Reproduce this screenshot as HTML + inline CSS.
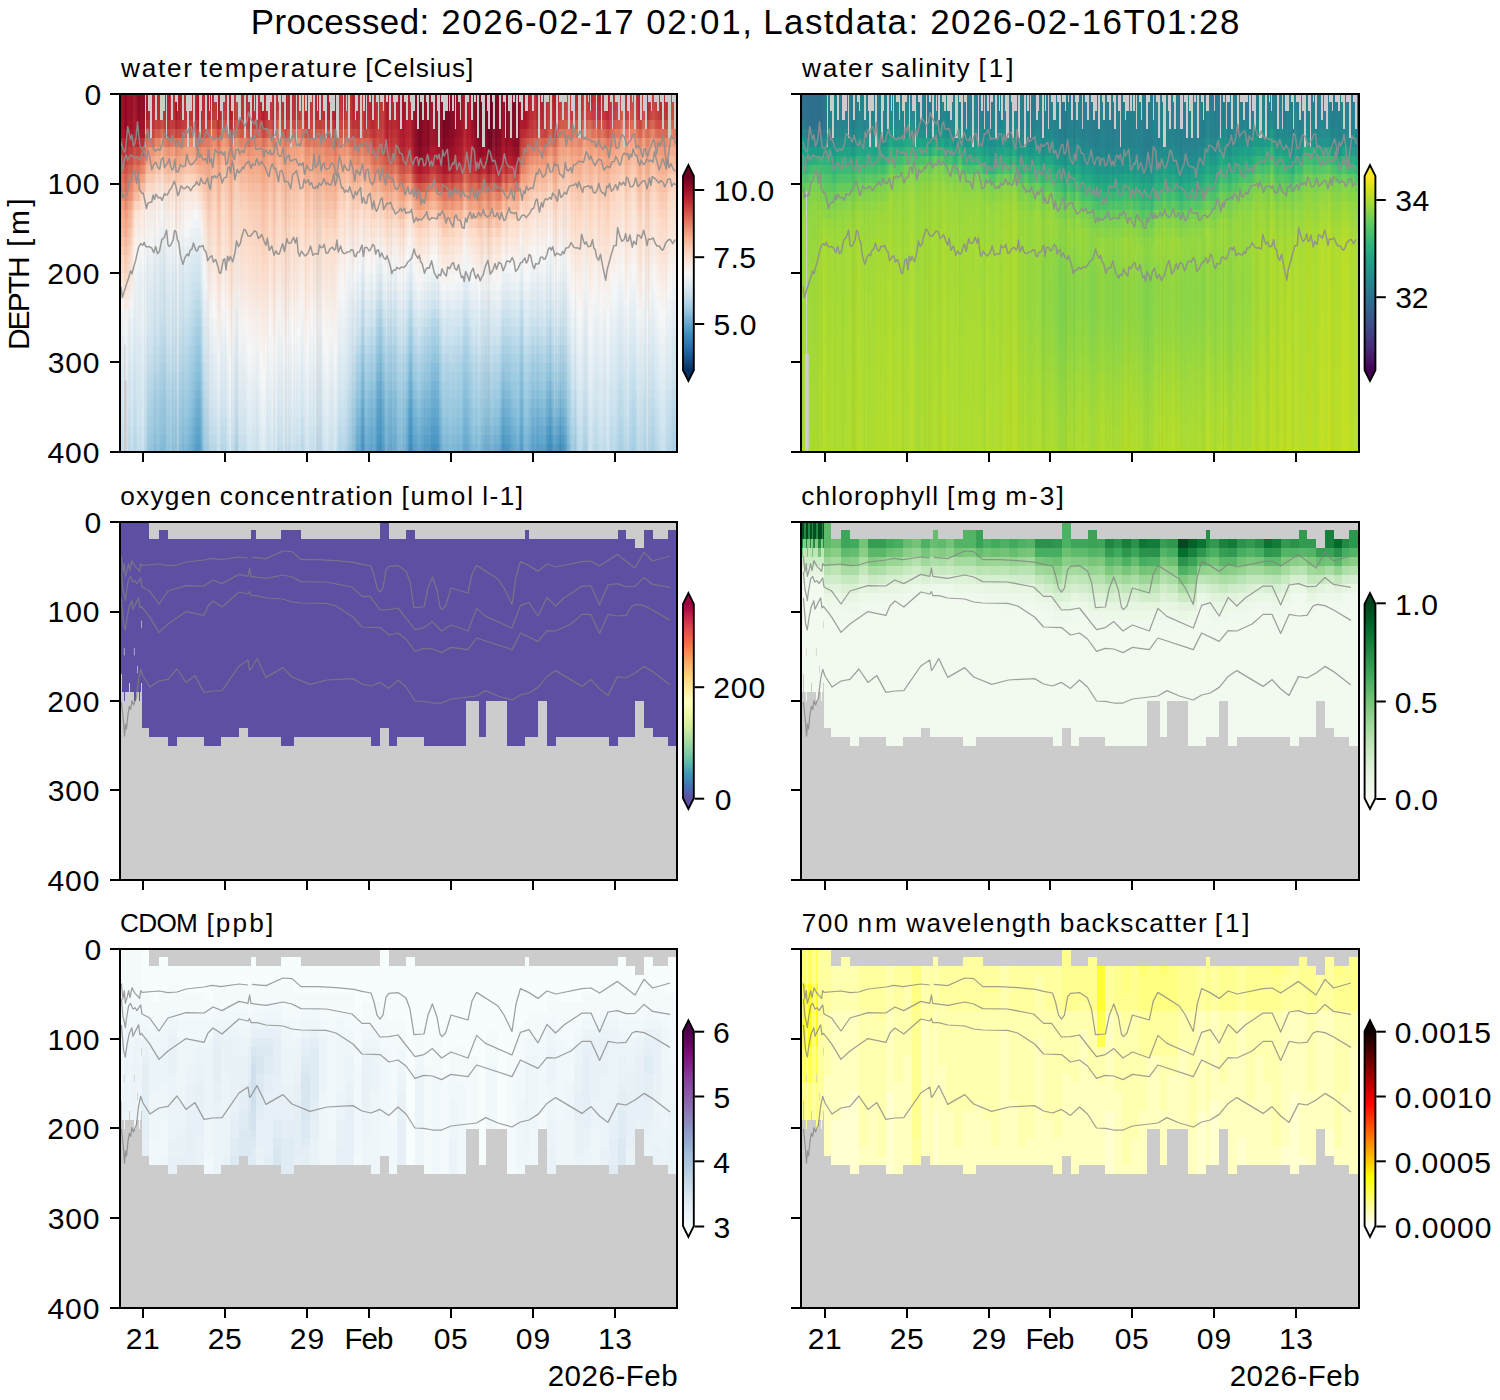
<!DOCTYPE html>
<html><head><meta charset="utf-8"><title>Glider sections</title>
<style>
html,body{margin:0;padding:0;background:#fff}
#fig{position:relative;width:1500px;height:1400px;overflow:hidden;background:#fff;font-family:"Liberation Sans",sans-serif}
#fig svg{position:absolute;left:0;top:0}
#fig text{font-family:"Liberation Sans",sans-serif;fill:#000}
.b{position:absolute}
</style></head><body>
<div id="fig">
<div class="b" style="left:120px;top:94px;width:557px;height:8px;background:linear-gradient(90deg,#991027,#9c1127,#870a24,#a51429,#930e26,#a81529,#870a24,#900d26,#8d0c25,#b3192c,#b72230,#ba2832,#be3036,#ba2832,#c13639,#bd2d35,#b61f2e,#b82531,#bb2a34,#a81529,#b61f2e,#bb2a34,#ba2832,#bd2d35,#bd2d35,#bb2a34,#ab162a,#b72230,#bb2a34,#b82531,#b1182b,#bb2a34,#bf3338,#ae172a,#c2383a,#c13639,#bb2a34,#ab162a,#bf3338,#cb4942,#bd2d35,#bf3338,#bf3338,#ba2832,#bb2a34,#bb2a34,#be3036,#b61f2e,#b1182b,#ba2832,#bf3338,#b82531,#b82531,#c43b3c,#c13639,#b72230,#bb2a34,#be3036,#bd2d35,#be3036,#be3036,#c84440,#b61f2e,#ba2832,#c13639,#b82531,#ba2832,#bd2d35,#b72230,#ab162a,#b61f2e,#b3192c,#a81529,#be3036,#c13639,#ba2832,#c53e3d,#c13639,#b72230,#b61f2e,#b72230,#c6413e,#b3192c,#b72230,#b61f2e,#b61f2e,#c2383a,#c43b3c,#c2383a,#ab162a,#ba2832,#b82531,#b82531,#b3192c,#ae172a,#a51429,#b1182b,#ba2832,#991027,#8a0b25,#7c0722,#870a24,#930e26,#870a24,#9c1127,#9c1127,#9c1127,#8d0c25,#760521,#810823,#810823,#8d0c25,#900d26,#991027,#9c1127,#b41c2d,#b1182b,#ae172a,#900d26,#8a0b25,#7f0823,#760521,#870a24,#790622,#6a011f,#7f0823,#790622,#870a24,#9c1127,#8d0c25,#900d26,#840924,#840924,#7c0722,#b1182b,#9c1127,#a51429,#b61f2e,#bb2a34,#b82531,#b61f2e,#b61f2e,#b61f2e,#c43b3c,#c2383a,#b3192c,#b72230,#c2383a,#c43b3c,#c6413e,#c53e3d,#b82531,#bf3338,#b72230,#ba2832,#c84440,#c43b3c,#b61f2e,#be3036,#c43b3c,#b72230,#bd2d35,#bd2d35,#b41c2d,#c53e3d,#be3036,#c43b3c,#c84440,#c94741,#bb2a34,#c13639,#cb4942,#cb4942,#ba2832,#ba2832,#c6413e,#b41c2d,#c13639,#c84440,#c2383a,#bb2a34,#b72230,#b82531,#c13639,#c53e3d,#c94741,#c43b3c)"></div><div class="b" style="left:120px;top:102px;width:557px;height:9px;background:linear-gradient(90deg,#991027,#9c1127,#870a24,#a51429,#930e26,#ab162a,#8a0b25,#930e26,#900d26,#b41c2d,#b82531,#bb2a34,#bf3338,#bb2a34,#c2383a,#be3036,#b72230,#ba2832,#bd2d35,#ab162a,#b72230,#bd2d35,#bb2a34,#be3036,#be3036,#bd2d35,#ae172a,#b82531,#bd2d35,#ba2832,#b3192c,#bd2d35,#c13639,#b1182b,#c43b3c,#c2383a,#bd2d35,#ae172a,#c13639,#cc4c44,#be3036,#c13639,#c13639,#bb2a34,#bb2a34,#bd2d35,#bf3338,#b82531,#b3192c,#bb2a34,#c13639,#ba2832,#ba2832,#c53e3d,#c2383a,#b82531,#bd2d35,#bf3338,#be3036,#bf3338,#bf3338,#c94741,#b72230,#bb2a34,#c2383a,#ba2832,#bb2a34,#be3036,#b82531,#ae172a,#b72230,#b41c2d,#ab162a,#bf3338,#c2383a,#bb2a34,#c84440,#c2383a,#b82531,#b72230,#b82531,#c84440,#b41c2d,#b82531,#b72230,#b72230,#c2383a,#c43b3c,#c2383a,#ab162a,#ba2832,#b82531,#b82531,#b3192c,#ae172a,#a51429,#b1182b,#ba2832,#991027,#8a0b25,#7c0722,#870a24,#930e26,#870a24,#9c1127,#9c1127,#9c1127,#8d0c25,#760521,#810823,#810823,#8d0c25,#900d26,#991027,#9c1127,#b41c2d,#b1182b,#ae172a,#900d26,#8a0b25,#7f0823,#760521,#870a24,#790622,#6a011f,#7f0823,#790622,#870a24,#9c1127,#8d0c25,#900d26,#840924,#840924,#7c0722,#b1182b,#9f1228,#a81529,#b72230,#bd2d35,#ba2832,#b72230,#b72230,#b72230,#c53e3d,#c53e3d,#b61f2e,#ba2832,#c6413e,#c6413e,#c94741,#c84440,#bb2a34,#c2383a,#ba2832,#bd2d35,#cb4942,#c6413e,#bd2d35,#c13639,#c6413e,#ba2832,#bf3338,#bf3338,#b61f2e,#c6413e,#c13639,#c6413e,#cb4942,#cc4c44,#be3036,#c43b3c,#ce4f45,#ce4f45,#bd2d35,#bd2d35,#c94741,#b72230,#c43b3c,#cb4942,#c53e3d,#be3036,#ba2832,#bb2a34,#c43b3c,#c84440,#cc4c44,#c6413e)"></div><div class="b" style="left:120px;top:111px;width:557px;height:9px;background:linear-gradient(90deg,#991027,#9c1127,#870a24,#a51429,#960f27,#ae172a,#8d0c25,#960f27,#930e26,#b61f2e,#ba2832,#bd2d35,#c2383a,#bd2d35,#c84440,#bf3338,#b82531,#bb2a34,#be3036,#b1182b,#b82531,#be3036,#bd2d35,#bf3338,#bf3338,#be3036,#b1182b,#ba2832,#be3036,#bb2a34,#bb2a34,#c13639,#c2383a,#b3192c,#c84440,#c84440,#c13639,#b1182b,#c2383a,#ce4f45,#bf3338,#c2383a,#c2383a,#bd2d35,#bd2d35,#be3036,#c13639,#ba2832,#b41c2d,#bd2d35,#c2383a,#bb2a34,#bb2a34,#d05548,#c43b3c,#ba2832,#be3036,#c13639,#bf3338,#c43b3c,#c2383a,#cb4942,#b82531,#bd2d35,#c43b3c,#bb2a34,#bf3338,#bf3338,#bd2d35,#b41c2d,#b82531,#bd2d35,#ae172a,#c13639,#c43b3c,#bf3338,#c94741,#c43b3c,#ba2832,#ba2832,#ba2832,#c94741,#b72230,#bb2a34,#b82531,#b72230,#c43b3c,#c43b3c,#c2383a,#ae172a,#ba2832,#b82531,#ba2832,#b3192c,#ae172a,#a51429,#b1182b,#ba2832,#991027,#8a0b25,#7c0722,#870a24,#930e26,#870a24,#9c1127,#9c1127,#9c1127,#8d0c25,#760521,#810823,#810823,#8d0c25,#900d26,#991027,#9c1127,#b41c2d,#b1182b,#ae172a,#900d26,#8a0b25,#7f0823,#760521,#870a24,#790622,#6a011f,#7f0823,#790622,#870a24,#9c1127,#8d0c25,#900d26,#840924,#840924,#7c0722,#b3192c,#a21328,#ae172a,#b82531,#be3036,#bb2a34,#ba2832,#b82531,#b82531,#c6413e,#c6413e,#b82531,#bd2d35,#cb4942,#cc4c44,#cc4c44,#cb4942,#bf3338,#cc4c44,#be3036,#bf3338,#d35a4a,#c94741,#cb4942,#c43b3c,#c94741,#bd2d35,#c2383a,#c2383a,#b82531,#c94741,#c43b3c,#c94741,#ce4f45,#d7634f,#c43b3c,#cb4942,#d05548,#d05548,#bf3338,#bf3338,#cf5246,#bd2d35,#c6413e,#ce4f45,#c84440,#c13639,#bd2d35,#be3036,#c6413e,#cb4942,#cf5246,#c94741)"></div><div class="b" style="left:120px;top:120px;width:557px;height:9px;background:linear-gradient(90deg,#9f1228,#a81529,#8a0b25,#ae172a,#9c1127,#b1182b,#930e26,#9f1228,#9c1127,#be3036,#c13639,#bf3338,#c94741,#c43b3c,#cf5246,#c6413e,#bf3338,#bf3338,#c53e3d,#b82531,#bf3338,#c53e3d,#c43b3c,#c6413e,#c6413e,#c43b3c,#bb2a34,#bf3338,#c43b3c,#c53e3d,#c84440,#cb4942,#cc4c44,#ba2832,#d25849,#d25849,#cb4942,#ba2832,#cb4942,#d6604d,#c84440,#c84440,#cb4942,#be3036,#c2383a,#cb4942,#c84440,#c6413e,#ba2832,#c6413e,#cf5246,#c2383a,#c43b3c,#de735c,#cb4942,#c2383a,#c84440,#cc4c44,#c94741,#cf5246,#cf5246,#d35a4a,#c13639,#c13639,#c84440,#c2383a,#c94741,#c94741,#c6413e,#be3036,#c13639,#c84440,#b72230,#c84440,#c94741,#c6413e,#cf5246,#c84440,#bf3338,#bf3338,#bf3338,#ce4f45,#bb2a34,#bf3338,#bd2d35,#ba2832,#c6413e,#c53e3d,#c2383a,#b3192c,#bb2a34,#ba2832,#bd2d35,#b61f2e,#b1182b,#a81529,#b3192c,#bb2a34,#991027,#8a0b25,#7c0722,#870a24,#930e26,#870a24,#9c1127,#9c1127,#9c1127,#8d0c25,#760521,#810823,#810823,#8d0c25,#900d26,#991027,#9c1127,#b41c2d,#b1182b,#ae172a,#900d26,#8a0b25,#7f0823,#760521,#870a24,#790622,#6a011f,#7f0823,#790622,#870a24,#9c1127,#8d0c25,#900d26,#840924,#840924,#7c0722,#b61f2e,#ae172a,#b41c2d,#bd2d35,#c2383a,#bf3338,#c13639,#be3036,#bd2d35,#c94741,#ce4f45,#bd2d35,#c53e3d,#d35a4a,#d6604d,#d7634f,#d55d4c,#cb4942,#d86551,#cb4942,#c53e3d,#df765e,#d7634f,#db6b55,#cf5246,#d6604d,#c94741,#d05548,#cc4c44,#bf3338,#ce4f45,#d05548,#d55d4c,#d7634f,#e48066,#d25849,#d86551,#db6b55,#dd7059,#cc4c44,#cb4942,#dc6e57,#cb4942,#d55d4c,#db6b55,#ce4f45,#cb4942,#cc4c44,#c94741,#d05548,#da6853,#d86551,#d35a4a)"></div><div class="b" style="left:120px;top:129px;width:557px;height:9px;background:linear-gradient(90deg,#ab162a,#b41c2d,#960f27,#b61f2e,#a51429,#b72230,#9f1228,#ae172a,#ab162a,#cc4c44,#cf5246,#c84440,#d86551,#d35a4a,#e27b62,#d25849,#cb4942,#c84440,#d35a4a,#c84440,#ce4f45,#d05548,#d55d4c,#d35a4a,#d55d4c,#cb4942,#cb4942,#c94741,#ce4f45,#d55d4c,#db6b55,#dd7059,#da6853,#c84440,#e37e64,#e48066,#dd7059,#c84440,#da6853,#e17860,#d55d4c,#d35a4a,#d86551,#c94741,#ce4f45,#db6b55,#d55d4c,#d86551,#c6413e,#d55d4c,#de735c,#ce4f45,#d05548,#ee9677,#d86551,#cf5246,#d55d4c,#dc6e57,#da6853,#e17860,#df765e,#df765e,#cf5246,#cc4c44,#d35a4a,#ce4f45,#da6853,#d7634f,#d6604d,#cf5246,#ce4f45,#d86551,#c13639,#d25849,#d35a4a,#d55d4c,#d86551,#cf5246,#c94741,#c94741,#c53e3d,#d55d4c,#c53e3d,#c94741,#c53e3d,#be3036,#c94741,#c94741,#c53e3d,#b61f2e,#bf3338,#bd2d35,#c13639,#b82531,#b3192c,#ae172a,#b41c2d,#bb2a34,#991027,#8a0b25,#7c0722,#870a24,#930e26,#870a24,#9c1127,#9c1127,#9c1127,#8d0c25,#790622,#810823,#870a24,#8d0c25,#930e26,#9c1127,#9c1127,#b72230,#b3192c,#ae172a,#960f27,#900d26,#810823,#7f0823,#8a0b25,#790622,#6d0220,#810823,#790622,#870a24,#a21328,#8d0c25,#960f27,#870a24,#870a24,#7f0823,#be3036,#bb2a34,#c13639,#c43b3c,#c6413e,#c6413e,#d05548,#c94741,#c53e3d,#d05548,#da6853,#c53e3d,#d05548,#e17860,#e48066,#e37e64,#e17860,#da6853,#e6866a,#db6b55,#d35a4a,#ef9979,#e58368,#e58368,#dd7059,#e48066,#d86551,#df765e,#db6b55,#ce4f45,#db6b55,#de735c,#e27b62,#e48066,#f19e7d,#e17860,#e6866a,#e6866a,#eb9172,#db6b55,#da6853,#ea8e70,#db6b55,#e37e64,#e98b6e,#dc6e57,#da6853,#db6b55,#d86551,#dd7059,#e6866a,#e48066,#df765e)"></div><div class="b" style="left:120px;top:138px;width:557px;height:9px;background:linear-gradient(90deg,#ba2832,#be3036,#ab162a,#bf3338,#b72230,#c13639,#b41c2d,#bd2d35,#be3036,#de735c,#e27b62,#da6853,#ea8e70,#e58368,#f3a481,#e48066,#de735c,#dd7059,#e58368,#dc6e57,#e27b62,#e37e64,#e6866a,#e6866a,#e8896c,#df765e,#dd7059,#dd7059,#e17860,#e48066,#e48066,#ea8e70,#e98b6e,#db6b55,#f09c7b,#f09c7b,#ea8e70,#da6853,#e98b6e,#f19e7d,#e58368,#e58368,#e98b6e,#d86551,#e17860,#e98b6e,#e6866a,#e6866a,#da6853,#e58368,#ee9677,#e17860,#e37e64,#f5aa89,#ea8e70,#e27b62,#e6866a,#eb9172,#e98b6e,#ef9979,#ee9677,#f09c7b,#e17860,#dd7059,#e37e64,#df765e,#e8896c,#e58368,#e37e64,#dd7059,#dd7059,#e37e64,#d25849,#df765e,#e17860,#e37e64,#e58368,#dc6e57,#d86551,#da6853,#d35a4a,#df765e,#d6604d,#d86551,#d25849,#c53e3d,#d25849,#ce4f45,#c84440,#bb2a34,#c43b3c,#c13639,#c6413e,#bb2a34,#b61f2e,#b3192c,#b72230,#be3036,#9c1127,#8a0b25,#7c0722,#8a0b25,#930e26,#8a0b25,#9f1228,#9f1228,#9f1228,#900d26,#7c0722,#8a0b25,#8d0c25,#930e26,#9c1127,#a51429,#a21328,#ba2832,#b61f2e,#b3192c,#9f1228,#960f27,#870a24,#870a24,#930e26,#7f0823,#760521,#870a24,#7f0823,#8a0b25,#a81529,#960f27,#9f1228,#900d26,#8d0c25,#870a24,#c6413e,#c84440,#cf5246,#d35a4a,#d6604d,#d7634f,#de735c,#da6853,#d6604d,#df765e,#e6866a,#d7634f,#df765e,#ee9677,#f09c7b,#f09c7b,#ee9677,#e58368,#f09c7b,#e6866a,#e27b62,#f5ac8b,#f19e7d,#eb9172,#eb9172,#f09c7b,#e58368,#eb9172,#e98b6e,#dd7059,#e98b6e,#eb9172,#ef9979,#f2a17f,#f6af8e,#eb9172,#f19e7d,#f4a683,#f5aa89,#e8896c,#e8896c,#f4a683,#e58368,#ef9979,#f4a683,#ea8e70,#e8896c,#e6866a,#e58368,#ec9374,#f2a17f,#f3a481,#ef9979)"></div><div class="b" style="left:120px;top:147px;width:557px;height:9px;background:linear-gradient(90deg,#c13639,#c6413e,#b61f2e,#c84440,#c13639,#cf5246,#c53e3d,#cf5246,#d05548,#ea8e70,#f09c7b,#ec9374,#f5aa89,#f2a17f,#f6b394,#f3a481,#ee9677,#ee9677,#f3a481,#e98b6e,#ef9979,#f2a17f,#f2a17f,#f3a481,#f4a683,#f09c7b,#e98b6e,#eb9172,#ec9374,#ec9374,#eb9172,#f19e7d,#f2a17f,#e48066,#f5aa89,#f5aa89,#f19e7d,#e48066,#f2a17f,#f6b394,#ef9979,#f19e7d,#f2a17f,#e8896c,#ee9677,#f19e7d,#f2a17f,#ee9677,#e6866a,#f09c7b,#f4a683,#ee9677,#ee9677,#f6b191,#f4a683,#ee9677,#f19e7d,#f3a481,#f2a17f,#f3a481,#f3a481,#f6b191,#eb9172,#ea8e70,#f09c7b,#ea8e70,#ef9979,#ef9979,#eb9172,#e48066,#e8896c,#e98b6e,#de735c,#ec9374,#ee9677,#ec9374,#f2a17f,#ea8e70,#e37e64,#e37e64,#e17860,#ec9374,#df765e,#e27b62,#dc6e57,#d05548,#da6853,#d7634f,#ce4f45,#c53e3d,#cb4942,#c6413e,#d05548,#c2383a,#ba2832,#b82531,#be3036,#c53e3d,#a81529,#930e26,#840924,#900d26,#991027,#960f27,#a81529,#ab162a,#a81529,#991027,#870a24,#900d26,#991027,#9c1127,#a51429,#ae172a,#ab162a,#bf3338,#ba2832,#b61f2e,#a81529,#a21328,#900d26,#960f27,#9f1228,#870a24,#840924,#930e26,#870a24,#930e26,#b3192c,#9f1228,#ab162a,#9c1127,#991027,#900d26,#d05548,#d35a4a,#db6b55,#df765e,#e27b62,#e37e64,#e8896c,#e48066,#e27b62,#eb9172,#f19e7d,#e37e64,#ea8e70,#f5a886,#f5aa89,#f5ac8b,#f5a886,#ee9677,#f5a886,#ee9677,#ec9374,#f7b799,#f5ac8b,#f19e7d,#f3a481,#f5ac8b,#ee9677,#f2a17f,#f19e7d,#e8896c,#f4a683,#f3a481,#f5ac8b,#f6b191,#f7b99c,#f2a17f,#f5aa89,#f7b596,#f7b799,#f09c7b,#ef9979,#f6b394,#ec9374,#f5a886,#f6b394,#f4a683,#f09c7b,#ef9979,#ee9677,#f4a683,#f6af8e,#f6b394,#f5aa89)"></div><div class="b" style="left:120px;top:156px;width:557px;height:9px;background:linear-gradient(90deg,#cb4942,#cf5246,#bf3338,#d05548,#cb4942,#da6853,#d05548,#db6b55,#dd7059,#f4a683,#f5aa89,#f5a886,#f7b99c,#f6b191,#f9c4a9,#f6b394,#f5a886,#f5a886,#f6b394,#f19e7d,#f5aa89,#f6b191,#f6b191,#f6b394,#f7b596,#f5ac8b,#f19e7d,#f2a17f,#f2a17f,#f3a481,#f19e7d,#f5aa89,#f6af8e,#ea8e70,#f7b596,#f7b596,#f5aa89,#ea8e70,#f5ac8b,#f8bda1,#f5a886,#f5aa89,#f5ac8b,#f09c7b,#f2a17f,#f5a886,#f5aa89,#f19e7d,#eb9172,#f3a481,#f5ac8b,#f19e7d,#f2a17f,#f7b99c,#f5ac8b,#f19e7d,#f4a683,#f5ac8b,#f5a886,#f5ac8b,#f5ac8b,#f7b99c,#ef9979,#f09c7b,#f5a886,#f09c7b,#f3a481,#f3a481,#f09c7b,#ea8e70,#ee9677,#ef9979,#e58368,#f3a481,#f4a683,#f3a481,#f6b191,#f2a17f,#eb9172,#ea8e70,#e8896c,#f4a683,#e8896c,#ea8e70,#e48066,#da6853,#e27b62,#de735c,#d6604d,#cf5246,#d55d4c,#d05548,#db6b55,#cc4c44,#c43b3c,#c13639,#c6413e,#cf5246,#b41c2d,#a21328,#930e26,#9f1228,#a81529,#a51429,#b41c2d,#b61f2e,#b3192c,#a81529,#930e26,#9c1127,#a81529,#a51429,#ae172a,#b41c2d,#b3192c,#c53e3d,#bf3338,#ba2832,#b41c2d,#b3192c,#9f1228,#ae172a,#b1182b,#991027,#991027,#a51429,#960f27,#9f1228,#bb2a34,#ae172a,#b82531,#b1182b,#ab162a,#a51429,#dc6e57,#dd7059,#e48066,#e98b6e,#ec9374,#ec9374,#f19e7d,#ee9677,#ec9374,#f4a683,#f6af8e,#ea8e70,#f09c7b,#f6b394,#f7b596,#f7b799,#f6b394,#f3a481,#f6b394,#f3a481,#f2a17f,#f8bfa4,#f7b99c,#f5a886,#f6af8e,#f7b799,#f3a481,#f5ac8b,#f5aa89,#ef9979,#f6b394,#f6af8e,#f7b799,#f8bb9e,#f9c4a9,#f5ac8b,#f7b596,#f8bfa4,#f9c2a7,#f5a886,#f5a886,#f8bda1,#f2a17f,#f6b394,#f8bfa4,#f6b191,#f5a886,#f4a683,#f3a481,#f6b191,#f8bb9e,#f8bda1,#f7b596)"></div><div class="b" style="left:120px;top:165px;width:557px;height:9px;background:linear-gradient(90deg,#d55d4c,#d86551,#c94741,#da6853,#d55d4c,#e27b62,#db6b55,#e58368,#e8896c,#f7b99c,#f8bda1,#f7b799,#facab1,#f9c2a7,#fcd5bf,#f9c4a9,#f7b99c,#f7b99c,#f9c4a9,#f6b191,#f8bb9e,#f9c2a7,#f9c4a9,#f9c6ac,#f9c6ac,#f8bda1,#f7b596,#f6b394,#f5ac8b,#f6af8e,#f5aa89,#f7b596,#f7b99c,#f19e7d,#f8bfa4,#f8bfa4,#f7b596,#f09c7b,#f7b799,#fac8af,#f6b394,#f7b596,#f7b799,#f5a886,#f5aa89,#f6b191,#f6b191,#f5a886,#f09c7b,#f5aa89,#f7b596,#f5a886,#f5a886,#f8bfa4,#f7b596,#f4a683,#f6af8e,#f6b394,#f6af8e,#f6b394,#f6b394,#f8bfa4,#f3a481,#f4a683,#f6b191,#f4a683,#f6af8e,#f6af8e,#f5a886,#f09c7b,#f3a481,#f4a683,#eb9172,#f6af8e,#f6b394,#f6af8e,#f8bb9e,#f6af8e,#f2a17f,#f2a17f,#f09c7b,#f6b394,#ef9979,#f2a17f,#ec9374,#e27b62,#ea8e70,#e6866a,#de735c,#d86551,#dd7059,#db6b55,#e58368,#d7634f,#cf5246,#cc4c44,#d25849,#da6853,#bf3338,#b41c2d,#ab162a,#b41c2d,#b72230,#b72230,#bf3338,#c13639,#bd2d35,#b61f2e,#a81529,#b1182b,#b61f2e,#b41c2d,#ba2832,#be3036,#ba2832,#ce4f45,#c84440,#bf3338,#be3036,#be3036,#b3192c,#bd2d35,#be3036,#b1182b,#b61f2e,#ba2832,#ae172a,#b1182b,#c94741,#bb2a34,#c6413e,#c13639,#bd2d35,#ba2832,#e8896c,#e6866a,#ec9374,#f2a17f,#f5a886,#f4a683,#f5ac8b,#f5a886,#f4a683,#f7b596,#f8bb9e,#f2a17f,#f5aa89,#f8bda1,#f8bfa4,#f9c2a7,#f8bfa4,#f6af8e,#f8bb9e,#f5ac8b,#f5ac8b,#f9c6ac,#f8bfa4,#f6b191,#f7b799,#f9c2a7,#f6af8e,#f7b799,#f7b596,#f4a683,#f8bda1,#f7b99c,#f9c2a7,#f9c6ac,#fbccb4,#f7b596,#f8bda1,#facab1,#facab1,#f6b191,#f6af8e,#f9c6ac,#f5aa89,#f8bb9e,#fac8af,#f8bb9e,#f6b394,#f6af8e,#f6af8e,#f8bb9e,#f9c4a9,#fac8af,#f8bfa4)"></div><div class="b" style="left:120px;top:174px;width:557px;height:9px;background:linear-gradient(90deg,#dc6e57,#df765e,#d35a4a,#e27b62,#de735c,#ee9677,#e8896c,#f2a17f,#f3a481,#fbceb7,#fbceb7,#facab1,#fddbc7,#fcd3bc,#fce0d0,#fcd5bf,#facab1,#facab1,#fcd5bf,#f9c2a7,#fbccb4,#fcd3bc,#fcd5bf,#fcd7c2,#fcd7c2,#fbd0b9,#fac8af,#f9c6ac,#f7b99c,#f7b99c,#f6b394,#f8bfa4,#f9c2a7,#f5a886,#fac8af,#fac8af,#f8bda1,#f5a886,#f9c2a7,#fcd3bc,#f8bb9e,#f8bda1,#f8bfa4,#f6b191,#f6b394,#f7b799,#f7b99c,#f6af8e,#f3a481,#f6b394,#f8bb9e,#f6af8e,#f6b191,#fac8af,#f8bb9e,#f6af8e,#f7b596,#f8bb9e,#f7b799,#f8bb9e,#f8bb9e,#fac8af,#f5ac8b,#f6af8e,#f7b99c,#f6af8e,#f7b799,#f7b799,#f6b191,#f4a683,#f5ac8b,#f6af8e,#f19e7d,#f7b99c,#f8bda1,#f7b99c,#f9c6ac,#f8bb9e,#f6af8e,#f6b191,#f5ac8b,#f9c2a7,#f5aa89,#f6b191,#f4a683,#ea8e70,#f3a481,#f19e7d,#e6866a,#e48066,#e8896c,#e48066,#f19e7d,#e27b62,#db6b55,#da6853,#e17860,#e8896c,#cf5246,#c13639,#bb2a34,#bf3338,#c2383a,#c6413e,#cc4c44,#d25849,#c94741,#c13639,#ba2832,#be3036,#c84440,#be3036,#c6413e,#cb4942,#c2383a,#dc6e57,#d6604d,#c94741,#cc4c44,#ce4f45,#bf3338,#cf5246,#ce4f45,#bf3338,#c6413e,#c94741,#be3036,#bf3338,#da6853,#cb4942,#da6853,#d35a4a,#ce4f45,#cc4c44,#f5a886,#f09c7b,#f4a683,#f6af8e,#f7b596,#f7b596,#f8bb9e,#f7b799,#f7b596,#f9c4a9,#fac8af,#f5ac8b,#f7b596,#fac8af,#facab1,#fbccb4,#fac8af,#f7b799,#f9c4a9,#f7b596,#f7b596,#fbceb7,#fac8af,#f7b99c,#f8bfa4,#facab1,#f7b799,#f8bfa4,#f8bfa4,#f6b191,#fac8af,#f9c2a7,#facab1,#fbd0b9,#fcd5bf,#f8bda1,#f9c6ac,#fbd0b9,#fcd3bc,#f7b99c,#f7b799,#fbccb4,#f6b394,#f9c4a9,#fbd0b9,#f9c4a9,#f8bb9e,#f7b799,#f7b99c,#f9c6ac,#fbceb7,#fcd3bc,#facab1)"></div><div class="b" style="left:120px;top:183px;width:557px;height:9px;background:linear-gradient(90deg,#e27b62,#e58368,#da6853,#e8896c,#e6866a,#f5ac8b,#f3a481,#f8bb9e,#f8bda1,#fcdecd,#fdddcb,#fddbc7,#fbe4d6,#fcdfcf,#fae9df,#fce0d0,#fddbc7,#fddbc7,#fce0d0,#fcd3bc,#fddcc9,#fcdfcf,#fce0d0,#fce0d0,#fce2d2,#fcdecd,#fddbc7,#fcd7c2,#f9c4a9,#f9c4a9,#f8bda1,#fac8af,#facab1,#f6b191,#fbd0b9,#fbceb7,#f9c6ac,#f6b191,#facab1,#fddbc7,#f9c4a9,#f9c6ac,#fac8af,#f7b99c,#f8bb9e,#f8bfa4,#f9c2a7,#f7b799,#f5ac8b,#f8bb9e,#f9c4a9,#f7b799,#f7b99c,#fbceb7,#f9c4a9,#f7b799,#f8bda1,#f9c4a9,#f8bfa4,#f9c4a9,#f9c4a9,#fbd0b9,#f7b596,#f7b799,#f9c2a7,#f7b799,#f8bda1,#f8bfa4,#f7b99c,#f5ac8b,#f7b596,#f7b799,#f5a886,#f9c4a9,#f9c6ac,#f9c2a7,#fbd0b9,#f9c6ac,#f8bb9e,#f8bda1,#f7b99c,#fbd0b9,#f7b799,#f8bda1,#f7b799,#f3a481,#f7b99c,#f7b596,#f19e7d,#f09c7b,#f3a481,#f19e7d,#f6b394,#ef9979,#e6866a,#e8896c,#ef9979,#f5ac8b,#e27b62,#d6604d,#d05548,#d6604d,#d86551,#dc6e57,#e17860,#e48066,#dd7059,#d6604d,#ce4f45,#d05548,#d86551,#cf5246,#d86551,#db6b55,#d35a4a,#ea8e70,#e37e64,#d6604d,#dc6e57,#de735c,#d05548,#df765e,#df765e,#d35a4a,#da6853,#dc6e57,#d05548,#d05548,#ea8e70,#dd7059,#ea8e70,#e58368,#e17860,#df765e,#f8bfa4,#f6b191,#f6b394,#f8bda1,#f9c4a9,#f9c2a7,#fac8af,#f9c4a9,#f9c2a7,#fbd0b9,#fcd5bf,#f7b99c,#f9c2a7,#fcd3bc,#fcd3bc,#fcd5bf,#fbd0b9,#f8bfa4,#fbccb4,#f8bda1,#f8bda1,#fcd7c2,#fbd0b9,#f8bfa4,#fac8af,#fcd3bc,#f8bfa4,#fac8af,#fac8af,#f7b99c,#fbd0b9,#facab1,#fcd3bc,#fdd9c4,#fddcc9,#f9c6ac,#fbceb7,#fdd9c4,#fdd9c4,#f8bfa4,#f8bfa4,#fcd5bf,#f8bb9e,#fbccb4,#fcd7c2,#fbccb4,#f9c4a9,#f8bfa4,#f8bfa4,#fbccb4,#fcd7c2,#fddbc7,#fcd3bc)"></div><div class="b" style="left:120px;top:192px;width:557px;height:9px;background:linear-gradient(90deg,#e98b6e,#ec9374,#df765e,#ee9677,#ee9677,#f8bda1,#f8bb9e,#fcd5bf,#fcd7c2,#fae7dc,#fbe4d6,#fbe3d4,#faeae1,#fbe6da,#f9efe9,#fae8de,#fbe3d4,#fbe3d4,#fae7dc,#fdddcb,#fbe4d6,#fae7dc,#fae7dc,#fae8de,#fae9df,#fae7dc,#fbe5d8,#fce0d0,#fbceb7,#fbceb7,#f9c4a9,#fbceb7,#fbd0b9,#f7b799,#fcd7c2,#fcd5bf,#facab1,#f7b799,#fbd0b9,#fcdecd,#fbccb4,#fbceb7,#fbceb7,#f9c2a7,#f9c4a9,#f9c6ac,#fac8af,#f8bda1,#f7b596,#f9c2a7,#facab1,#f8bfa4,#f8bfa4,#fcd5bf,#fbccb4,#f8bda1,#f9c6ac,#facab1,#f9c6ac,#facab1,#facab1,#fcd7c2,#f8bb9e,#f8bfa4,#facab1,#f8bfa4,#f9c6ac,#fac8af,#f9c2a7,#f7b596,#f8bda1,#f8bfa4,#f6b191,#fbccb4,#fbd0b9,#facab1,#fddbc7,#fbd0b9,#f9c6ac,#fac8af,#f9c6ac,#fddcc9,#f9c4a9,#facab1,#f9c4a9,#f7b799,#fac8af,#f9c6ac,#f7b596,#f5ac8b,#f7b799,#f6b394,#f8bfa4,#f5ac8b,#f3a481,#f3a481,#f6b191,#f9c4a9,#f19e7d,#e8896c,#e37e64,#e8896c,#ea8e70,#eb9172,#f19e7d,#f3a481,#ee9677,#e6866a,#de735c,#e17860,#e58368,#df765e,#e58368,#e8896c,#e27b62,#f5a886,#f09c7b,#e48066,#e98b6e,#ea8e70,#e17860,#ea8e70,#ec9374,#e48066,#e6866a,#eb9172,#e37e64,#e27b62,#f5ac8b,#ee9677,#f5ac8b,#f3a481,#f2a17f,#f09c7b,#fcd3bc,#f8bfa4,#f8bfa4,#facab1,#fbd0b9,#fbd0b9,#fcd7c2,#fbd0b9,#fbceb7,#fddcc9,#fcdecd,#f9c6ac,#fbccb4,#fdddcb,#fddcc9,#fddcc9,#fdd9c4,#fac8af,#fcd5bf,#f9c6ac,#f9c6ac,#fdddcb,#fcd7c2,#fac8af,#fbd0b9,#fdd9c4,#fac8af,#fbceb7,#fbceb7,#f9c2a7,#fdd9c4,#fbd0b9,#fddbc7,#fdddcb,#fcdfcf,#fbceb7,#fcd5bf,#fcdecd,#fcdecd,#fac8af,#fac8af,#fddcc9,#f9c2a7,#fcd5bf,#fdddcb,#fcd5bf,#fbccb4,#f9c6ac,#fac8af,#fcd5bf,#fddcc9,#fcdfcf,#fddbc7)"></div><div class="b" style="left:120px;top:201px;width:557px;height:9px;background:linear-gradient(90deg,#f09c7b,#f3a481,#e6866a,#f5a886,#f5ac8b,#fcd5bf,#fcd5bf,#fce0d0,#fce0d0,#f9ede5,#fae9df,#fae9df,#f9f0eb,#f9ede5,#f8f4f2,#f9eee7,#fae8de,#fae9df,#f9ede5,#fbe3d4,#fae9df,#f9ede5,#f9ede5,#f9eee7,#f9efe9,#f9efe9,#f9efe9,#fae9df,#fddbc7,#fcd5bf,#fbccb4,#fcd5bf,#fcd7c2,#f8bda1,#fddbc7,#fddbc7,#fbd0b9,#f8bda1,#fcd5bf,#fce2d2,#fbd0b9,#fcd5bf,#fcd5bf,#fac8af,#facab1,#fbccb4,#fbceb7,#f9c4a9,#f7b99c,#fac8af,#fbd0b9,#f9c4a9,#f9c6ac,#fdd9c4,#fbd0b9,#f9c4a9,#facab1,#fbceb7,#fbccb4,#fbceb7,#fbceb7,#fddcc9,#f9c2a7,#f9c6ac,#fbd0b9,#f9c6ac,#fbccb4,#fbceb7,#fac8af,#f8bda1,#f9c6ac,#fac8af,#f7b99c,#fcd5bf,#fcd7c2,#fcd3bc,#fcdfcf,#fdd9c4,#fbd0b9,#fcd3bc,#fbd0b9,#fce2d2,#fbceb7,#fcd5bf,#fbceb7,#f9c2a7,#fcd7c2,#fcd5bf,#f9c6ac,#f8bb9e,#f9c4a9,#f8bfa4,#fbceb7,#f7b99c,#f6b394,#f7b596,#f9c4a9,#fcd7c2,#f7b596,#f3a481,#ef9979,#f3a481,#f5a886,#f5aa89,#f7b596,#f7b99c,#f6b191,#f2a17f,#ea8e70,#ec9374,#f19e7d,#eb9172,#f19e7d,#f4a683,#ee9677,#f8bfa4,#f6b394,#f19e7d,#f4a683,#f5a886,#eb9172,#f5a886,#f5ac8b,#ef9979,#f19e7d,#f5a886,#ef9979,#f09c7b,#f9c2a7,#f6af8e,#f9c2a7,#f7b99c,#f7b799,#f6b394,#fcdfcf,#fbceb7,#fbceb7,#fcd7c2,#fdddcb,#fddcc9,#fcdfcf,#fdddcb,#fddcc9,#fbe3d4,#fbe5d8,#fbd0b9,#fcd7c2,#fbe3d4,#fce2d2,#fce2d2,#fcdecd,#fbd0b9,#fddbc7,#fbceb7,#fbccb4,#fce2d2,#fdddcb,#fbceb7,#fcd7c2,#fdddcb,#fbceb7,#fcd5bf,#fcd5bf,#fac8af,#fdddcb,#fcd7c2,#fcdecd,#fce0d0,#fbe3d4,#fcd5bf,#fddcc9,#fbe3d4,#fbe3d4,#fbd0b9,#fbceb7,#fce0d0,#facab1,#fddbc7,#fce0d0,#fddbc7,#fcd3bc,#fbccb4,#fbceb7,#fddbc7,#fcdfcf,#fbe3d4,#fdddcb)"></div><div class="b" style="left:120px;top:210px;width:557px;height:9px;background:linear-gradient(90deg,#f5aa89,#f6b191,#ef9979,#f7b596,#f8bda1,#fbe4d6,#fbe4d6,#faeae1,#fae7dc,#f8f1ed,#f9eee7,#f9efe9,#f8f4f2,#f9f0eb,#f6f7f7,#f8f2ef,#f9ede5,#f9eee7,#f8f2ef,#fae7dc,#f9eee7,#f8f2ef,#f8f1ed,#f8f3f0,#f8f4f2,#f7f6f6,#f7f6f6,#f8f1ed,#fce0d0,#fddcc9,#fcd3bc,#fddbc7,#fddcc9,#f9c4a9,#fcdecd,#fdddcb,#fcd5bf,#f9c2a7,#fddbc7,#fbe4d6,#fcd7c2,#fdd9c4,#fdd9c4,#fbceb7,#fbceb7,#fbd0b9,#fcd3bc,#fac8af,#f8bfa4,#fbccb4,#fcd5bf,#facab1,#facab1,#fddcc9,#fcd7c2,#fac8af,#fbd0b9,#fcd5bf,#fbd0b9,#fcd5bf,#fcd5bf,#fcdfcf,#fac8af,#fbccb4,#fcd7c2,#fbccb4,#fcd5bf,#fcd5bf,#fbd0b9,#f9c6ac,#fbceb7,#fbd0b9,#f9c2a7,#fddcc9,#fdddcb,#fddbc7,#fbe3d4,#fcdecd,#fdd9c4,#fddcc9,#fddcc9,#fae7dc,#fdd9c4,#fdddcb,#fdd9c4,#fbceb7,#fcdecd,#fcdecd,#fcd3bc,#fac8af,#fcd3bc,#fbceb7,#fddcc9,#fac8af,#f8bfa4,#f9c4a9,#fcd5bf,#fce2d2,#fac8af,#f8bb9e,#f6b191,#f7b99c,#f8bfa4,#f8bfa4,#facab1,#fbceb7,#f9c6ac,#f7b799,#f5a886,#f5ac8b,#f7b596,#f5aa89,#f7b596,#f7b99c,#f6b191,#fcd3bc,#fac8af,#f7b596,#f8bb9e,#f8bb9e,#f5aa89,#f7b99c,#f8bfa4,#f6af8e,#f6b394,#f8bb9e,#f6af8e,#f6b394,#fcd5bf,#f9c4a9,#fcd3bc,#fbccb4,#facab1,#fac8af,#fbe6da,#fdd9c4,#fdd9c4,#fcdfcf,#fbe4d6,#fbe3d4,#fbe4d6,#fbe3d4,#fce2d2,#fae9df,#faeae1,#fddcc9,#fcdecd,#fae7dc,#fbe6da,#fbe5d8,#fbe3d4,#fcd7c2,#fcdecd,#fcd5bf,#fcd5bf,#fbe4d6,#fce0d0,#fcd3bc,#fddcc9,#fce0d0,#fcd5bf,#fddbc7,#fddbc7,#fbccb4,#fce0d0,#fddcc9,#fce0d0,#fbe4d6,#fbe5d8,#fddbc7,#fcdecd,#fbe6da,#fbe6da,#fcd7c2,#fcd7c2,#fbe3d4,#fbd0b9,#fcdecd,#fbe4d6,#fcdfcf,#fdd9c4,#fcd3bc,#fcd5bf,#fcdecd,#fce2d2,#fbe5d8,#fce0d0)"></div><div class="b" style="left:120px;top:219px;width:557px;height:9px;background:linear-gradient(90deg,#f6b394,#f7b799,#f3a481,#f8bb9e,#f9c4a9,#fae8de,#fae9df,#f9eee7,#faeae1,#f8f4f2,#f8f1ed,#f8f2ef,#f7f6f6,#f8f3f0,#f3f5f6,#f7f5f4,#f9f0eb,#f8f1ed,#f8f4f2,#faeae1,#f8f1ed,#f7f5f4,#f8f4f2,#f7f6f6,#f5f6f7,#f0f4f6,#f0f4f6,#f7f6f6,#fbe5d8,#fce0d0,#fdd9c4,#fcdecd,#fcdecd,#fac8af,#fce0d0,#fcdfcf,#fdd9c4,#f9c6ac,#fddcc9,#fbe5d8,#fdd9c4,#fddbc7,#fddbc7,#fcd3bc,#fcd3bc,#fcd3bc,#fcd7c2,#facab1,#f9c4a9,#fbd0b9,#fdd9c4,#fbceb7,#fbceb7,#fcdecd,#fddbc7,#fbccb4,#fcd5bf,#fdd9c4,#fcd5bf,#fdd9c4,#fdd9c4,#fce2d2,#fbceb7,#fcd3bc,#fddcc9,#fcd3bc,#fddbc7,#fddcc9,#fdd9c4,#fbccb4,#fcd7c2,#fcd7c2,#facab1,#fcdfcf,#fce2d2,#fcdfcf,#fae7dc,#fbe4d6,#fcdfcf,#fce2d2,#fce2d2,#f9ede5,#fcdfcf,#fbe3d4,#fce0d0,#fddbc7,#fbe5d8,#fbe5d8,#fcdecd,#fcd5bf,#fdddcb,#fddbc7,#fbe3d4,#fcd7c2,#fbd0b9,#fcd5bf,#fcdfcf,#faeae1,#fdd9c4,#fbccb4,#f9c4a9,#fbccb4,#fbd0b9,#fbd0b9,#fddcc9,#fdddcb,#fcd7c2,#facab1,#f8bb9e,#f8bfa4,#fac8af,#f8bfa4,#facab1,#fbceb7,#f9c4a9,#fce2d2,#fddcc9,#facab1,#fbceb7,#fbceb7,#f8bda1,#fbccb4,#fbd0b9,#f8bfa4,#f9c4a9,#fbccb4,#f8bfa4,#f9c6ac,#fcdfcf,#fcd3bc,#fcdecd,#fddbc7,#fddbc7,#fcd7c2,#f9ede5,#fce0d0,#fcdfcf,#fbe5d8,#fae9df,#fae8de,#fae8de,#fae7dc,#fbe6da,#f9eee7,#f9efe9,#fce0d0,#fbe3d4,#f9ebe3,#fae9df,#fae8de,#fbe5d8,#fddbc7,#fce0d0,#fdd9c4,#fddbc7,#fae7dc,#fbe4d6,#fcd7c2,#fcdfcf,#fbe4d6,#fdd9c4,#fcdecd,#fcdecd,#fcd3bc,#fbe3d4,#fcdecd,#fbe4d6,#fae7dc,#fae8de,#fdddcb,#fce2d2,#fae8de,#fae8de,#fddcc9,#fddbc7,#fbe6da,#fcd5bf,#fce2d2,#fae7dc,#fce2d2,#fdddcb,#fdd9c4,#fdd9c4,#fce0d0,#fbe5d8,#fae8de,#fbe3d4)"></div><div class="b" style="left:120px;top:228px;width:557px;height:9px;background:linear-gradient(90deg,#f8bb9e,#f8bfa4,#f5ac8b,#f9c4a9,#fbccb4,#f9ede5,#f9ede5,#f8f1ed,#f9eee7,#f7f6f6,#f8f4f2,#f8f4f2,#f3f5f6,#f7f6f6,#edf2f5,#f5f6f7,#f8f3f0,#f8f4f2,#f5f6f7,#f9efe9,#f7f5f4,#f3f5f6,#f5f6f7,#f2f5f6,#eff3f5,#eaf1f5,#eaf1f5,#f0f4f6,#fae9df,#fbe5d8,#fdddcb,#fce0d0,#fce0d0,#fbccb4,#fbe3d4,#fce2d2,#fddcc9,#facab1,#fcdecd,#fae7dc,#fddbc7,#fdddcb,#fdddcb,#fcd5bf,#fcd5bf,#fcd7c2,#fdd9c4,#fbceb7,#f9c6ac,#fcd3bc,#fddbc7,#fbd0b9,#fcd3bc,#fce0d0,#fdddcb,#fcd3bc,#fdd9c4,#fddcc9,#fddbc7,#fddcc9,#fddcc9,#fbe5d8,#fcd3bc,#fdd9c4,#fcdfcf,#fdd9c4,#fcdecd,#fcdfcf,#fdddcb,#fcd3bc,#fddcc9,#fdddcb,#fcd3bc,#fbe4d6,#fbe6da,#fbe3d4,#f9ebe3,#fae8de,#fbe4d6,#fbe6da,#fbe6da,#f8f2ef,#fbe4d6,#fae7dc,#fbe5d8,#fce0d0,#f9ebe3,#faeae1,#fbe5d8,#fcdecd,#fbe4d6,#fbe3d4,#fae9df,#fcdfcf,#fdddcb,#fcdecd,#fae7dc,#f8f1ed,#fce2d2,#fddcc9,#fcd5bf,#fddcc9,#fcdecd,#fdddcb,#fbe4d6,#fbe5d8,#fbe3d4,#fddcc9,#fbccb4,#fbd0b9,#fcd7c2,#fcd3bc,#fddbc7,#fdddcb,#fdd9c4,#fae9df,#fbe5d8,#fddcc9,#fddcc9,#fddcc9,#fbd0b9,#fdd9c4,#fcdecd,#fcd3bc,#fcd3bc,#fddbc7,#fbd0b9,#fcd5bf,#fbe6da,#fcdecd,#fbe5d8,#fce2d2,#fce2d2,#fcdfcf,#f8f2ef,#fbe5d8,#fbe5d8,#faeae1,#f9eee7,#f9ede5,#f9ede5,#f9ebe3,#faeae1,#f8f2ef,#f8f3f0,#fbe4d6,#fae7dc,#f9f0eb,#f9eee7,#f9ede5,#fae8de,#fcdecd,#fbe4d6,#fdddcb,#fcdecd,#fae9df,#fbe6da,#fddcc9,#fbe3d4,#fae7dc,#fdddcb,#fce0d0,#fce0d0,#fcd7c2,#fbe6da,#fce2d2,#fbe6da,#fae9df,#f9ebe3,#fce0d0,#fbe4d6,#f9ebe3,#f9ebe3,#fcdecd,#fcdecd,#fae8de,#fddbc7,#fbe4d6,#fae9df,#fbe5d8,#fcdfcf,#fddcc9,#fdddcb,#fbe4d6,#fae7dc,#faeae1,#fbe6da)"></div><div class="b" style="left:120px;top:237px;width:557px;height:9px;background:linear-gradient(90deg,#f9c4a9,#fac8af,#f7b596,#fbccb4,#fcd5bf,#f8f1ed,#f9f0eb,#f8f4f2,#f8f1ed,#f2f5f6,#f6f7f7,#f5f6f7,#edf2f5,#f2f5f6,#e9f0f4,#eff3f5,#f6f7f7,#f5f6f7,#eff3f5,#f8f3f0,#f3f5f6,#edf2f5,#eff3f5,#ecf2f5,#e9f0f4,#e4eef4,#e4eef4,#ecf2f5,#f9ede5,#fae8de,#fce0d0,#fbe3d4,#fbe3d4,#fbd0b9,#fbe5d8,#fbe4d6,#fcdecd,#fbceb7,#fce0d0,#fae9df,#fdddcb,#fcdfcf,#fcdfcf,#fcd7c2,#fdd9c4,#fddbc7,#fddcc9,#fcd3bc,#facab1,#fcd7c2,#fcdecd,#fcd5bf,#fcd7c2,#fbe3d4,#fcdfcf,#fcd7c2,#fddcc9,#fcdecd,#fdddcb,#fcdecd,#fcdecd,#fae7dc,#fcd7c2,#fddcc9,#fbe3d4,#fdddcb,#fce0d0,#fbe3d4,#fcdfcf,#fdd9c4,#fcdfcf,#fce0d0,#fdd9c4,#fae7dc,#fae9df,#fbe6da,#f9efe9,#f9ebe3,#fae8de,#f9ebe3,#f9ebe3,#f7f6f6,#fae8de,#f9ede5,#faeae1,#fbe6da,#f8f1ed,#f8f1ed,#faeae1,#fbe4d6,#faeae1,#fae8de,#f9efe9,#fbe6da,#fbe3d4,#fbe5d8,#f9ede5,#f6f7f7,#fae8de,#fbe3d4,#fdddcb,#fce2d2,#fbe5d8,#fbe4d6,#faeae1,#f9ebe3,#fae8de,#fce2d2,#fdd9c4,#fddcc9,#fcdecd,#fdddcb,#fce0d0,#fbe4d6,#fce0d0,#f9f0eb,#faeae1,#fbe5d8,#fbe3d4,#fce2d2,#fddbc7,#fcdfcf,#fbe4d6,#fdddcb,#fddcc9,#fce2d2,#fddcc9,#fcdfcf,#f9ede5,#fbe5d8,#faeae1,#fae7dc,#fae7dc,#fbe5d8,#f7f6f6,#fae9df,#fae9df,#f9efe9,#f8f2ef,#f8f1ed,#f8f1ed,#f9f0eb,#f9efe9,#f7f6f6,#f6f7f7,#fae9df,#f9ebe3,#f8f4f2,#f8f1ed,#f9f0eb,#f9ebe3,#fce2d2,#fae7dc,#fcdfcf,#fce0d0,#f9ebe3,#fae8de,#fcdecd,#fbe5d8,#fae9df,#fcdfcf,#fbe4d6,#fbe4d6,#fddcc9,#fae9df,#fbe5d8,#fae9df,#f9ede5,#f9eee7,#fbe3d4,#fae7dc,#f9eee7,#f9eee7,#fce0d0,#fce0d0,#faeae1,#fdddcb,#fbe6da,#f9ebe3,#fae7dc,#fce2d2,#fcdecd,#fcdfcf,#fbe6da,#fae9df,#f9ede5,#fae8de)"></div><div class="b" style="left:120px;top:246px;width:557px;height:9px;background:linear-gradient(90deg,#fbccb4,#fcd3bc,#f8bda1,#fcd5bf,#fddcc9,#f8f4f2,#f8f4f2,#f6f7f7,#f8f4f2,#edf2f5,#f2f5f6,#f0f4f6,#e9f0f4,#edf2f5,#e3edf3,#e9f0f4,#f0f4f6,#eff3f5,#e9f0f4,#f6f7f7,#edf2f5,#e7f0f4,#e9f0f4,#e6eff4,#e3edf3,#deebf2,#deebf2,#e6eff4,#f9f0eb,#f9ebe3,#fbe3d4,#fbe6da,#fbe6da,#fcd5bf,#fae7dc,#fbe6da,#fce0d0,#fcd3bc,#fbe3d4,#f9ebe3,#fcdfcf,#fce2d2,#fce2d2,#fddcc9,#fddcc9,#fdddcb,#fcdecd,#fcd7c2,#fbceb7,#fddbc7,#fce0d0,#fddbc7,#fddbc7,#fbe5d8,#fce2d2,#fddbc7,#fcdecd,#fce0d0,#fcdfcf,#fce0d0,#fce0d0,#fae9df,#fddcc9,#fcdfcf,#fbe5d8,#fcdfcf,#fbe4d6,#fbe6da,#fbe3d4,#fdddcb,#fbe3d4,#fbe3d4,#fdddcb,#faeae1,#f9ede5,#fae9df,#f8f2ef,#f9efe9,#f9ebe3,#f9f0eb,#f9f0eb,#f2f5f6,#f9ede5,#f8f1ed,#f9efe9,#f9ebe3,#f7f6f6,#f6f7f7,#f8f1ed,#faeae1,#f9f0eb,#f9efe9,#f8f4f2,#f9ede5,#fae9df,#f9ebe3,#f8f3f0,#eff3f5,#f9efe9,#fae8de,#fbe4d6,#fae8de,#f9ebe3,#faeae1,#f8f1ed,#f8f2ef,#f9efe9,#fae8de,#fcdfcf,#fbe3d4,#fbe5d8,#fbe4d6,#fae7dc,#fae9df,#fae7dc,#f7f5f4,#f8f1ed,#f9ebe3,#fae8de,#fae8de,#fce2d2,#fbe5d8,#faeae1,#fbe3d4,#fbe3d4,#fae8de,#fbe3d4,#fbe5d8,#f8f3f0,#faeae1,#f8f1ed,#f9ede5,#f9ede5,#fae9df,#f0f4f6,#f9eee7,#f9eee7,#f8f3f0,#f6f7f7,#f7f5f4,#f7f5f4,#f8f4f2,#f8f3f0,#f2f5f6,#f0f4f6,#f9eee7,#f9f0eb,#f5f6f7,#f7f5f4,#f8f4f2,#f9f0eb,#fbe5d8,#faeae1,#fbe3d4,#fbe3d4,#f9efe9,#faeae1,#fce2d2,#fae7dc,#f9ede5,#fbe3d4,#fae7dc,#fae7dc,#fcdfcf,#f9ede5,#fae8de,#f9ede5,#f9f0eb,#f8f1ed,#fbe6da,#fae9df,#f8f1ed,#f9f0eb,#fbe4d6,#fbe3d4,#f9eee7,#fcdfcf,#fae8de,#f9eee7,#fae9df,#fbe4d6,#fce0d0,#fce2d2,#fae8de,#f9ebe3,#f9efe9,#faeae1)"></div><div class="b" style="left:120px;top:255px;width:557px;height:9px;background:linear-gradient(90deg,#fcd5bf,#fddbc7,#f9c6ac,#fdddcb,#fce0d0,#f6f7f7,#f6f7f7,#f2f5f6,#f6f7f7,#e9f0f4,#edf2f5,#ecf2f5,#e4eef4,#e9f0f4,#deebf2,#e4eef4,#ecf2f5,#eaf1f5,#e4eef4,#f2f5f6,#e9f0f4,#e3edf3,#e4eef4,#e0ecf3,#deebf2,#d8e9f1,#d8e9f1,#e0ecf3,#f8f3f0,#f9efe9,#fbe6da,#fae8de,#fae8de,#fdd9c4,#fae9df,#fae8de,#fbe3d4,#fcd7c2,#fbe5d8,#f9eee7,#fbe3d4,#fbe4d6,#fbe4d6,#fcdecd,#fcdecd,#fcdfcf,#fce0d0,#fddbc7,#fcd3bc,#fdddcb,#fbe3d4,#fdddcb,#fdddcb,#fae7dc,#fbe4d6,#fdddcb,#fce0d0,#fbe4d6,#fce2d2,#fbe3d4,#fbe4d6,#f9ebe3,#fcdecd,#fce2d2,#fae8de,#fbe3d4,#fbe6da,#fae8de,#fbe5d8,#fcdfcf,#fbe5d8,#fbe5d8,#fcdfcf,#f9eee7,#f9f0eb,#f9ede5,#f7f5f4,#f8f2ef,#f9f0eb,#f8f4f2,#f8f4f2,#ecf2f5,#f8f2ef,#f7f5f4,#f8f4f2,#f8f1ed,#f0f4f6,#eff3f5,#f7f6f6,#f9efe9,#f7f5f4,#f8f4f2,#f5f6f7,#f8f1ed,#f9efe9,#f9f0eb,#f6f7f7,#e7f0f4,#f8f4f2,#f9efe9,#fae9df,#f9eee7,#f8f1ed,#f9f0eb,#f7f6f6,#f6f7f7,#f8f4f2,#f9eee7,#fbe6da,#fae8de,#faeae1,#fae9df,#f9ede5,#f9efe9,#f9ede5,#f3f5f6,#f7f5f4,#f8f1ed,#f9ede5,#f9ede5,#fae7dc,#faeae1,#f9f0eb,#fae9df,#fae8de,#f9eee7,#fae8de,#f9ebe3,#f5f6f7,#f9f0eb,#f7f6f6,#f8f2ef,#f8f2ef,#f9efe9,#eaf1f5,#f8f1ed,#f8f1ed,#f7f6f6,#f2f5f6,#f5f6f7,#f5f6f7,#f6f7f7,#f6f7f7,#ecf2f5,#ecf2f5,#f8f1ed,#f8f3f0,#f0f4f6,#f5f6f7,#f6f7f7,#f8f3f0,#fae8de,#f9eee7,#fbe6da,#fbe6da,#f8f2ef,#f9efe9,#fbe5d8,#faeae1,#f9f0eb,#fbe6da,#faeae1,#faeae1,#fbe3d4,#f9f0eb,#f9ebe3,#f9f0eb,#f8f3f0,#f8f4f2,#fae9df,#f9eee7,#f8f3f0,#f8f3f0,#fbe6da,#fbe6da,#f8f1ed,#fbe3d4,#f9ebe3,#f8f1ed,#f9ebe3,#fae7dc,#fbe4d6,#fbe5d8,#f9ebe3,#f9efe9,#f8f2ef,#f9eee7)"></div><div class="b" style="left:120px;top:264px;width:557px;height:9px;background:linear-gradient(90deg,#fddcc9,#fcdfcf,#fbceb7,#fce2d2,#fbe5d8,#f0f4f6,#f2f5f6,#edf2f5,#f2f5f6,#e4eef4,#e9f0f4,#e7f0f4,#e0ecf3,#e4eef4,#dae9f2,#e0ecf3,#e7f0f4,#e6eff4,#e0ecf3,#edf2f5,#e4eef4,#deebf2,#deebf2,#dbeaf2,#dae9f2,#d4e6f1,#d4e6f1,#dbeaf2,#f7f6f6,#f8f2ef,#fae9df,#faeae1,#faeae1,#fddcc9,#f9ebe3,#faeae1,#fbe5d8,#fddbc7,#fae7dc,#f9f0eb,#fbe5d8,#fbe6da,#fbe6da,#fce0d0,#fce0d0,#fce2d2,#fbe3d4,#fdddcb,#fcd7c2,#fcdfcf,#fbe5d8,#fcdfcf,#fcdfcf,#fae9df,#fbe6da,#fcdfcf,#fbe3d4,#fbe6da,#fbe4d6,#fbe6da,#fbe6da,#f9eee7,#fce0d0,#fbe4d6,#faeae1,#fbe5d8,#fae8de,#faeae1,#fae7dc,#fce2d2,#fae7dc,#fae7dc,#fbe3d4,#f9f0eb,#f8f2ef,#f9f0eb,#f5f6f7,#f7f6f6,#f8f4f2,#f5f6f7,#f5f6f7,#e6eff4,#f7f6f6,#f3f5f6,#f5f6f7,#f7f5f4,#e9f0f4,#e7f0f4,#f0f4f6,#f8f4f2,#f2f5f6,#f5f6f7,#eff3f5,#f7f5f4,#f8f3f0,#f7f5f4,#eff3f5,#e0ecf3,#f3f5f6,#f8f4f2,#f9efe9,#f8f3f0,#f7f6f6,#f7f5f4,#f0f4f6,#eff3f5,#f3f5f6,#f8f3f0,#f9ebe3,#f9eee7,#f9f0eb,#f9efe9,#f8f2ef,#f8f4f2,#f8f1ed,#ecf2f5,#f2f5f6,#f7f5f4,#f8f2ef,#f8f1ed,#f9ede5,#f9f0eb,#f7f5f4,#f9efe9,#f9eee7,#f8f3f0,#f9eee7,#f8f1ed,#edf2f5,#f7f6f6,#f0f4f6,#f6f7f7,#f6f7f7,#f8f4f2,#e4eef4,#f7f5f4,#f8f4f2,#f2f5f6,#edf2f5,#eff3f5,#f0f4f6,#f2f5f6,#f2f5f6,#e7f0f4,#e7f0f4,#f8f4f2,#f7f6f6,#ecf2f5,#f0f4f6,#f2f5f6,#f7f6f6,#f9ebe3,#f8f1ed,#fae9df,#fae9df,#f7f5f4,#f8f2ef,#fae8de,#f9eee7,#f8f3f0,#fae9df,#f9eee7,#f9eee7,#fbe6da,#f8f3f0,#f9efe9,#f8f3f0,#f7f6f6,#f6f7f7,#f9ede5,#f8f1ed,#f6f7f7,#f7f6f6,#faeae1,#fae9df,#f8f4f2,#fbe6da,#f9efe9,#f7f5f4,#f9f0eb,#faeae1,#fae7dc,#fae8de,#f9efe9,#f8f2ef,#f7f5f4,#f8f1ed)"></div><div class="b" style="left:120px;top:273px;width:557px;height:9px;background:linear-gradient(90deg,#fce2d2,#fbe4d6,#fcd7c2,#fbe6da,#fae8de,#ecf2f5,#edf2f5,#e9f0f4,#edf2f5,#e3edf3,#e6eff4,#e3edf3,#ddebf2,#e1edf3,#d7e8f1,#ddebf2,#e3edf3,#e1edf3,#dbeaf2,#eaf1f5,#e0ecf3,#dae9f2,#dbeaf2,#d8e9f1,#d5e7f1,#cfe4ef,#cfe4ef,#d7e8f1,#f3f5f6,#f7f5f4,#f9ebe3,#f9eee7,#f9ede5,#fcdfcf,#f9efe9,#f9eee7,#fae8de,#fdddcb,#fae9df,#f8f2ef,#fae7dc,#fae8de,#fae8de,#fbe3d4,#fbe3d4,#fbe4d6,#fbe5d8,#fcdfcf,#fddbc7,#fbe3d4,#fae7dc,#fce2d2,#fce2d2,#f9ede5,#fae8de,#fce2d2,#fbe5d8,#fae8de,#fbe6da,#fae8de,#fae8de,#f9f0eb,#fbe3d4,#fbe6da,#f9ede5,#fae7dc,#faeae1,#f9ede5,#fae9df,#fbe4d6,#faeae1,#fae9df,#fbe5d8,#f8f3f0,#f7f5f4,#f8f2ef,#f0f4f6,#f3f5f6,#f6f7f7,#f0f4f6,#eff3f5,#e0ecf3,#f2f5f6,#edf2f5,#edf2f5,#f2f5f6,#e1edf3,#e0ecf3,#e9f0f4,#f3f5f6,#ecf2f5,#edf2f5,#e7f0f4,#f3f5f6,#f6f7f7,#f3f5f6,#e7f0f4,#dae9f2,#ecf2f5,#f3f5f6,#f8f4f2,#f3f5f6,#f0f4f6,#f2f5f6,#e9f0f4,#e7f0f4,#eaf1f5,#f3f5f6,#f8f1ed,#f8f3f0,#f7f5f4,#f8f4f2,#f7f6f6,#f3f5f6,#f7f6f6,#e6eff4,#ecf2f5,#f3f5f6,#f7f6f6,#f7f6f6,#f8f1ed,#f8f4f2,#f3f5f6,#f8f4f2,#f8f3f0,#f5f6f7,#f8f3f0,#f7f6f6,#e6eff4,#f0f4f6,#e9f0f4,#eff3f5,#eff3f5,#f3f5f6,#ddebf2,#f3f5f6,#f6f7f7,#edf2f5,#e9f0f4,#eaf1f5,#eaf1f5,#ecf2f5,#edf2f5,#e3edf3,#e3edf3,#f6f7f7,#f2f5f6,#e7f0f4,#ecf2f5,#edf2f5,#f3f5f6,#f9efe9,#f8f4f2,#f9ede5,#f9ede5,#f6f7f7,#f8f4f2,#faeae1,#f8f1ed,#f7f5f4,#f9ede5,#f8f1ed,#f8f1ed,#fae9df,#f7f6f6,#f8f2ef,#f7f6f6,#f3f5f6,#f2f5f6,#f9f0eb,#f8f3f0,#f3f5f6,#f3f5f6,#f9ede5,#f9ede5,#f7f6f6,#fae9df,#f8f2ef,#f6f7f7,#f8f3f0,#f9eee7,#faeae1,#f9ebe3,#f8f2ef,#f7f5f4,#f5f6f7,#f8f4f2)"></div><div class="b" style="left:120px;top:282px;width:557px;height:9px;background:linear-gradient(90deg,#fae7dc,#fae9df,#fcdecd,#f9ebe3,#f9ede5,#e7f0f4,#ecf2f5,#e7f0f4,#ecf2f5,#e1edf3,#e3edf3,#e0ecf3,#dae9f2,#deebf2,#d5e7f1,#dae9f2,#e1edf3,#deebf2,#dae9f2,#e7f0f4,#deebf2,#d7e8f1,#d8e9f1,#d5e7f1,#d2e6f0,#cae1ee,#c7e0ed,#d2e6f0,#eff3f5,#f6f7f7,#f9efe9,#f9f0eb,#f9efe9,#fce2d2,#f8f1ed,#f9f0eb,#faeae1,#fce0d0,#f9ede5,#f7f5f4,#fae9df,#f9ebe3,#f9ebe3,#fbe5d8,#fbe6da,#fae7dc,#fae8de,#fbe3d4,#fcdecd,#fbe5d8,#faeae1,#fbe4d6,#fbe5d8,#f9f0eb,#f9ebe3,#fbe4d6,#fae8de,#faeae1,#fae9df,#f9ebe3,#f9ebe3,#f8f3f0,#fbe5d8,#fae8de,#f9efe9,#fae9df,#f9ede5,#f9efe9,#f9ebe3,#fbe6da,#f9ede5,#f9ebe3,#fae7dc,#f7f5f4,#f6f7f7,#f8f4f2,#edf2f5,#f0f4f6,#f2f5f6,#eaf1f5,#eaf1f5,#dae9f2,#ecf2f5,#e7f0f4,#e7f0f4,#eaf1f5,#dae9f2,#d8e9f1,#e1edf3,#ecf2f5,#e4eef4,#e7f0f4,#e1edf3,#edf2f5,#f0f4f6,#edf2f5,#e1edf3,#d2e6f0,#e6eff4,#ecf2f5,#f3f5f6,#ecf2f5,#e9f0f4,#eaf1f5,#e0ecf3,#deebf2,#e3edf3,#ecf2f5,#f7f6f6,#f5f6f7,#f2f5f6,#f3f5f6,#f0f4f6,#ecf2f5,#f0f4f6,#deebf2,#e4eef4,#ecf2f5,#f0f4f6,#f0f4f6,#f7f6f6,#f3f5f6,#ecf2f5,#f5f6f7,#f6f7f7,#edf2f5,#f5f6f7,#f0f4f6,#e0ecf3,#eaf1f5,#e3edf3,#e7f0f4,#e7f0f4,#ecf2f5,#d7e8f1,#edf2f5,#eff3f5,#e7f0f4,#e3edf3,#e4eef4,#e4eef4,#e7f0f4,#e9f0f4,#ddebf2,#ddebf2,#f0f4f6,#edf2f5,#e1edf3,#e6eff4,#e9f0f4,#eff3f5,#f8f2ef,#f7f6f6,#f9efe9,#f9efe9,#f3f5f6,#f7f6f6,#f9ede5,#f8f3f0,#f5f6f7,#f9efe9,#f8f3f0,#f8f3f0,#f9ede5,#f3f5f6,#f7f5f4,#f3f5f6,#f0f4f6,#eff3f5,#f8f2ef,#f7f6f6,#eff3f5,#eff3f5,#f9f0eb,#f9efe9,#f3f5f6,#f9ebe3,#f8f4f2,#f2f5f6,#f7f5f4,#f8f1ed,#f9eee7,#f9eee7,#f8f4f2,#f5f6f7,#f0f4f6,#f7f6f6)"></div><div class="b" style="left:120px;top:291px;width:557px;height:9px;background:linear-gradient(90deg,#f9ede5,#f9f0eb,#fbe4d6,#f8f1ed,#f8f1ed,#e4eef4,#eaf1f5,#e7f0f4,#ecf2f5,#e0ecf3,#e0ecf3,#deebf2,#d8e9f1,#dbeaf2,#d2e6f0,#d7e8f1,#deebf2,#dbeaf2,#d7e8f1,#e4eef4,#dbeaf2,#d4e6f1,#d5e7f1,#d2e6f0,#cfe4ef,#c5dfec,#c0dceb,#cce2ef,#eaf1f5,#f2f5f6,#f8f1ed,#f8f3f0,#f8f2ef,#fbe5d8,#f8f4f2,#f8f3f0,#f9eee7,#fbe3d4,#f9f0eb,#f5f6f7,#f9ede5,#f9eee7,#f9eee7,#fae8de,#fae8de,#fae9df,#faeae1,#fbe5d8,#fce0d0,#fae8de,#f9ede5,#fae7dc,#fae7dc,#f8f2ef,#f9eee7,#fae7dc,#faeae1,#f9eee7,#f9ebe3,#f9eee7,#f9eee7,#f7f5f4,#fae8de,#f9ebe3,#f8f1ed,#f9ebe3,#f9f0eb,#f8f1ed,#f9efe9,#fae8de,#f9efe9,#f9eee7,#fae9df,#f6f7f7,#f3f5f6,#f7f6f6,#eaf1f5,#ecf2f5,#edf2f5,#e6eff4,#e4eef4,#d4e6f1,#e6eff4,#e1edf3,#e1edf3,#e4eef4,#d2e6f0,#d1e5f0,#dae9f2,#e6eff4,#ddebf2,#e0ecf3,#dbeaf2,#e6eff4,#eaf1f5,#e7f0f4,#dbeaf2,#cae1ee,#deebf2,#e6eff4,#ecf2f5,#e4eef4,#e1edf3,#e1edf3,#d8e9f1,#d7e8f1,#dae9f2,#e4eef4,#eff3f5,#ecf2f5,#eaf1f5,#ecf2f5,#e9f0f4,#e4eef4,#e9f0f4,#d7e8f1,#deebf2,#e6eff4,#eaf1f5,#eaf1f5,#f2f5f6,#ecf2f5,#e4eef4,#edf2f5,#eff3f5,#e7f0f4,#edf2f5,#e9f0f4,#d8e9f1,#e3edf3,#dbeaf2,#e1edf3,#e1edf3,#e6eff4,#d1e5f0,#e6eff4,#e9f0f4,#e1edf3,#ddebf2,#e0ecf3,#e0ecf3,#e1edf3,#e3edf3,#d8e9f1,#d8e9f1,#ecf2f5,#e7f0f4,#ddebf2,#e1edf3,#e3edf3,#eaf1f5,#f7f5f4,#f3f5f6,#f8f2ef,#f8f2ef,#f0f4f6,#f5f6f7,#f9efe9,#f7f6f6,#f2f5f6,#f8f2ef,#f7f5f4,#f7f6f6,#f9f0eb,#f0f4f6,#f6f7f7,#f0f4f6,#ecf2f5,#eaf1f5,#f7f5f4,#f5f6f7,#eaf1f5,#ecf2f5,#f8f3f0,#f8f2ef,#f0f4f6,#f9efe9,#f6f7f7,#eff3f5,#f5f6f7,#f8f3f0,#f9f0eb,#f8f1ed,#f6f7f7,#f2f5f6,#edf2f5,#f3f5f6)"></div><div class="b" style="left:120px;top:300px;width:557px;height:9px;background:linear-gradient(90deg,#f8f2ef,#f7f5f4,#fae9df,#f7f6f6,#f7f5f4,#e1edf3,#eaf1f5,#e7f0f4,#ecf2f5,#deebf2,#deebf2,#dbeaf2,#d5e7f1,#dae9f2,#d1e5f0,#d5e7f1,#dbeaf2,#dae9f2,#d5e7f1,#e3edf3,#d8e9f1,#d2e6f0,#d2e6f0,#cfe4ef,#cae1ee,#bddbea,#b8d8e9,#c5dfec,#e6eff4,#edf2f5,#f8f4f2,#f7f6f6,#f7f5f4,#fae7dc,#f7f6f6,#f7f5f4,#f9f0eb,#fbe6da,#f8f2ef,#f2f5f6,#f9efe9,#f8f1ed,#f8f1ed,#faeae1,#f9ebe3,#f9ede5,#f9eee7,#fae8de,#fbe4d6,#faeae1,#f9f0eb,#fae9df,#faeae1,#f7f5f4,#f8f1ed,#faeae1,#f9eee7,#f8f1ed,#f9efe9,#f8f1ed,#f8f1ed,#f5f6f7,#faeae1,#f9eee7,#f8f4f2,#f9efe9,#f8f2ef,#f8f3f0,#f8f1ed,#f9ebe3,#f8f1ed,#f8f1ed,#f9ebe3,#f3f5f6,#f0f4f6,#f5f6f7,#e7f0f4,#e9f0f4,#e9f0f4,#e0ecf3,#deebf2,#cce2ef,#e0ecf3,#dae9f2,#dae9f2,#ddebf2,#c7e0ed,#c5dfec,#d2e6f0,#deebf2,#d7e8f1,#dae9f2,#d4e6f1,#e0ecf3,#e4eef4,#e0ecf3,#d4e6f1,#bddbea,#d8e9f1,#deebf2,#e4eef4,#deebf2,#d8e9f1,#dae9f2,#cfe4ef,#cce2ef,#d2e6f0,#dbeaf2,#e7f0f4,#e4eef4,#e1edf3,#e4eef4,#e1edf3,#deebf2,#e3edf3,#cfe4ef,#d7e8f1,#deebf2,#e3edf3,#e3edf3,#eaf1f5,#e6eff4,#deebf2,#e6eff4,#e7f0f4,#e0ecf3,#e7f0f4,#e3edf3,#d1e5f0,#ddebf2,#d4e6f1,#dae9f2,#dae9f2,#deebf2,#c5dfec,#e0ecf3,#e3edf3,#dbeaf2,#d7e8f1,#dae9f2,#dae9f2,#dbeaf2,#ddebf2,#d2e6f0,#d2e6f0,#e6eff4,#e3edf3,#d7e8f1,#dbeaf2,#deebf2,#e6eff4,#f5f6f7,#eff3f5,#f8f4f2,#f8f4f2,#edf2f5,#f2f5f6,#f8f1ed,#f5f6f7,#eff3f5,#f8f4f2,#f5f6f7,#f5f6f7,#f8f2ef,#ecf2f5,#f2f5f6,#ecf2f5,#e9f0f4,#e7f0f4,#f6f7f7,#f0f4f6,#e7f0f4,#e7f0f4,#f7f5f4,#f8f4f2,#ecf2f5,#f8f1ed,#f2f5f6,#eaf1f5,#f2f5f6,#f7f6f6,#f8f3f0,#f8f3f0,#f2f5f6,#edf2f5,#e9f0f4,#f0f4f6)"></div><div class="b" style="left:120px;top:309px;width:557px;height:9px;background:linear-gradient(90deg,#f6f7f7,#f2f5f6,#f9f0eb,#f0f4f6,#f3f5f6,#deebf2,#e9f0f4,#e6eff4,#ecf2f5,#ddebf2,#dbeaf2,#dae9f2,#d4e6f1,#d7e8f1,#cce2ef,#d2e6f0,#dae9f2,#d7e8f1,#d2e6f0,#e0ecf3,#d5e7f1,#cfe4ef,#cfe4ef,#cae1ee,#c5dfec,#b8d8e9,#b1d5e7,#bddbea,#e1edf3,#eaf1f5,#f7f6f6,#f5f6f7,#f6f7f7,#faeae1,#f3f5f6,#f5f6f7,#f8f3f0,#fae8de,#f7f5f4,#edf2f5,#f8f2ef,#f8f3f0,#f8f4f2,#f9eee7,#f9eee7,#f9efe9,#f8f1ed,#f9ebe3,#fbe6da,#f9eee7,#f8f2ef,#f9ede5,#f9ede5,#f6f7f7,#f8f3f0,#f9ede5,#f8f1ed,#f8f3f0,#f8f1ed,#f8f3f0,#f8f3f0,#f2f5f6,#f9eee7,#f9f0eb,#f7f6f6,#f8f1ed,#f8f4f2,#f7f6f6,#f8f3f0,#f9eee7,#f8f3f0,#f8f3f0,#f9eee7,#f0f4f6,#edf2f5,#f2f5f6,#e4eef4,#e6eff4,#e4eef4,#dbeaf2,#d8e9f1,#c2ddec,#dae9f2,#d4e6f1,#d4e6f1,#d5e7f1,#bbdaea,#b8d8e9,#c7e0ed,#d7e8f1,#cfe4ef,#d2e6f0,#cce2ef,#dae9f2,#ddebf2,#dae9f2,#cce2ef,#b3d6e8,#d1e5f0,#d7e8f1,#ddebf2,#d7e8f1,#d1e5f0,#d2e6f0,#c2ddec,#bddbea,#c5dfec,#d4e6f1,#e0ecf3,#ddebf2,#dae9f2,#ddebf2,#dae9f2,#d7e8f1,#dbeaf2,#c5dfec,#cfe4ef,#d7e8f1,#dbeaf2,#ddebf2,#e3edf3,#deebf2,#d7e8f1,#e0ecf3,#e1edf3,#dae9f2,#e0ecf3,#dbeaf2,#c7e0ed,#d5e7f1,#cce2ef,#d2e6f0,#d4e6f1,#d7e8f1,#bbdaea,#dae9f2,#ddebf2,#d5e7f1,#d1e5f0,#d4e6f1,#d4e6f1,#d7e8f1,#d8e9f1,#cae1ee,#cae1ee,#e0ecf3,#ddebf2,#d2e6f0,#d7e8f1,#dae9f2,#e1edf3,#f0f4f6,#eaf1f5,#f6f7f7,#f7f6f6,#eaf1f5,#edf2f5,#f8f3f0,#f2f5f6,#eaf1f5,#f7f6f6,#f2f5f6,#f0f4f6,#f7f5f4,#e9f0f4,#eff3f5,#e9f0f4,#e4eef4,#e3edf3,#f2f5f6,#edf2f5,#e3edf3,#e4eef4,#f5f6f7,#f6f7f7,#e7f0f4,#f8f4f2,#eff3f5,#e6eff4,#edf2f5,#f5f6f7,#f7f5f4,#f7f6f6,#eff3f5,#eaf1f5,#e6eff4,#ecf2f5)"></div><div class="b" style="left:120px;top:318px;width:557px;height:9px;background:linear-gradient(90deg,#eff3f5,#edf2f5,#f7f5f4,#e9f0f4,#edf2f5,#dbeaf2,#e7f0f4,#e6eff4,#ecf2f5,#dbeaf2,#dae9f2,#d7e8f1,#d1e5f0,#d5e7f1,#c7e0ed,#d1e5f0,#d7e8f1,#d5e7f1,#cfe4ef,#ddebf2,#d2e6f0,#cae1ee,#cae1ee,#c5dfec,#c0dceb,#b3d6e8,#a9d1e5,#b6d7e8,#ddebf2,#e6eff4,#f3f5f6,#f0f4f6,#f2f5f6,#f9ede5,#f0f4f6,#f2f5f6,#f7f5f4,#f9ebe3,#f6f7f7,#eaf1f5,#f8f4f2,#f7f6f6,#f7f6f6,#f9f0eb,#f8f1ed,#f8f2ef,#f8f3f0,#f9eee7,#fae9df,#f9f0eb,#f7f5f4,#f9efe9,#f9f0eb,#f3f5f6,#f7f6f6,#f9f0eb,#f8f3f0,#f7f5f4,#f8f4f2,#f7f5f4,#f7f5f4,#edf2f5,#f9f0eb,#f8f3f0,#f5f6f7,#f8f3f0,#f7f6f6,#f5f6f7,#f7f5f4,#f9f0eb,#f7f5f4,#f7f5f4,#f9f0eb,#edf2f5,#eaf1f5,#eff3f5,#e1edf3,#e1edf3,#e0ecf3,#d5e7f1,#d4e6f1,#bbdaea,#d5e7f1,#cfe4ef,#cce2ef,#cfe4ef,#b1d5e7,#aed3e6,#bbdaea,#d1e5f0,#c5dfec,#cae1ee,#c5dfec,#d4e6f1,#d7e8f1,#d4e6f1,#c2ddec,#a9d1e5,#c7e0ed,#d1e5f0,#d5e7f1,#cfe4ef,#c5dfec,#c7e0ed,#b6d7e8,#b3d6e8,#b8d8e9,#c7e0ed,#d8e9f1,#d5e7f1,#d5e7f1,#d5e7f1,#d4e6f1,#cfe4ef,#d4e6f1,#bbdaea,#c5dfec,#d1e5f0,#d7e8f1,#d7e8f1,#ddebf2,#dae9f2,#d1e5f0,#d8e9f1,#dbeaf2,#d2e6f0,#dae9f2,#d5e7f1,#bddbea,#cce2ef,#c2ddec,#cce2ef,#cae1ee,#d1e5f0,#b3d6e8,#d4e6f1,#d8e9f1,#cfe4ef,#c7e0ed,#cce2ef,#cfe4ef,#d1e5f0,#d2e6f0,#c2ddec,#c2ddec,#dbeaf2,#d8e9f1,#cae1ee,#d1e5f0,#d5e7f1,#ddebf2,#ecf2f5,#e7f0f4,#f3f5f6,#f3f5f6,#e7f0f4,#eaf1f5,#f7f5f4,#eff3f5,#e7f0f4,#f3f5f6,#eff3f5,#edf2f5,#f6f7f7,#e4eef4,#eaf1f5,#e4eef4,#e1edf3,#e0ecf3,#eff3f5,#e9f0f4,#e0ecf3,#e0ecf3,#f2f5f6,#f2f5f6,#e4eef4,#f7f6f6,#eaf1f5,#e3edf3,#eaf1f5,#f0f4f6,#f5f6f7,#f3f5f6,#eaf1f5,#e6eff4,#e1edf3,#e9f0f4)"></div><div class="b" style="left:120px;top:327px;width:557px;height:9px;background:linear-gradient(90deg,#ecf2f5,#eaf1f5,#f6f7f7,#e6eff4,#eaf1f5,#d8e9f1,#e4eef4,#e4eef4,#e9f0f4,#d8e9f1,#d7e8f1,#d4e6f1,#cce2ef,#d2e6f0,#c2ddec,#cce2ef,#d4e6f1,#d2e6f0,#cae1ee,#dae9f2,#cfe4ef,#c5dfec,#c5dfec,#c0dceb,#bbdaea,#acd2e5,#a5cee3,#aed3e6,#d8e9f1,#e3edf3,#eff3f5,#edf2f5,#eff3f5,#f9f0eb,#ecf2f5,#edf2f5,#f6f7f7,#f9eee7,#f3f5f6,#e7f0f4,#f7f6f6,#f5f6f7,#f5f6f7,#f8f3f0,#f8f3f0,#f8f4f2,#f7f5f4,#f9f0eb,#f9ebe3,#f8f2ef,#f6f7f7,#f8f2ef,#f8f2ef,#f0f4f6,#f5f6f7,#f8f2ef,#f7f5f4,#f6f7f7,#f7f6f6,#f6f7f7,#f6f7f7,#eaf1f5,#f8f2ef,#f7f5f4,#f0f4f6,#f7f5f4,#f5f6f7,#f2f5f6,#f6f7f7,#f8f2ef,#f6f7f7,#f6f7f7,#f8f2ef,#eaf1f5,#e7f0f4,#ecf2f5,#deebf2,#deebf2,#ddebf2,#d1e5f0,#cce2ef,#b1d5e7,#cfe4ef,#c5dfec,#c2ddec,#c5dfec,#a9d1e5,#a5cee3,#b1d5e7,#cae1ee,#bddbea,#c2ddec,#bddbea,#cfe4ef,#d2e6f0,#cfe4ef,#bbdaea,#a2cde3,#bddbea,#c7e0ed,#d1e5f0,#c5dfec,#bbdaea,#c0dceb,#acd2e5,#a9d1e5,#aed3e6,#c0dceb,#d4e6f1,#d1e5f0,#d1e5f0,#d1e5f0,#cce2ef,#c7e0ed,#cfe4ef,#b3d6e8,#bddbea,#c7e0ed,#d2e6f0,#d2e6f0,#d8e9f1,#d5e7f1,#cae1ee,#d4e6f1,#d7e8f1,#cce2ef,#d4e6f1,#cfe4ef,#b3d6e8,#c5dfec,#bbdaea,#c2ddec,#c2ddec,#cae1ee,#a9d1e5,#cfe4ef,#d2e6f0,#c7e0ed,#c0dceb,#c5dfec,#c5dfec,#cae1ee,#cce2ef,#b8d8e9,#b8d8e9,#d5e7f1,#d2e6f0,#c0dceb,#cae1ee,#cfe4ef,#d8e9f1,#e7f0f4,#e3edf3,#eff3f5,#f0f4f6,#e3edf3,#e7f0f4,#f6f7f7,#ecf2f5,#e4eef4,#f0f4f6,#ecf2f5,#eaf1f5,#f3f5f6,#e1edf3,#e7f0f4,#e1edf3,#ddebf2,#ddebf2,#eaf1f5,#e6eff4,#dbeaf2,#ddebf2,#edf2f5,#eff3f5,#e0ecf3,#f3f5f6,#e7f0f4,#e0ecf3,#e6eff4,#edf2f5,#f2f5f6,#f0f4f6,#e7f0f4,#e3edf3,#deebf2,#e6eff4)"></div><div class="b" style="left:120px;top:336px;width:557px;height:9px;background:linear-gradient(90deg,#e9f0f4,#e6eff4,#f3f5f6,#e3edf3,#e7f0f4,#d5e7f1,#e3edf3,#e1edf3,#e6eff4,#d5e7f1,#d4e6f1,#d1e5f0,#c7e0ed,#cfe4ef,#bddbea,#c7e0ed,#d1e5f0,#cfe4ef,#c5dfec,#d7e8f1,#cae1ee,#c0dceb,#c0dceb,#bbdaea,#b3d6e8,#a5cee3,#9dcbe1,#a9d1e5,#d5e7f1,#deebf2,#ecf2f5,#e9f0f4,#eaf1f5,#f8f2ef,#e9f0f4,#eaf1f5,#f2f5f6,#f9f0eb,#f0f4f6,#e4eef4,#f3f5f6,#f2f5f6,#f2f5f6,#f7f5f4,#f7f5f4,#f7f6f6,#f6f7f7,#f8f2ef,#f9eee7,#f8f4f2,#f3f5f6,#f8f4f2,#f8f4f2,#edf2f5,#f2f5f6,#f8f4f2,#f6f7f7,#f2f5f6,#f5f6f7,#f3f5f6,#f2f5f6,#e7f0f4,#f8f4f2,#f6f7f7,#edf2f5,#f6f7f7,#f2f5f6,#eff3f5,#f3f5f6,#f8f4f2,#f3f5f6,#f3f5f6,#f8f4f2,#e7f0f4,#e4eef4,#e9f0f4,#dbeaf2,#dbeaf2,#d8e9f1,#c7e0ed,#c5dfec,#a9d1e5,#c7e0ed,#bbdaea,#bbdaea,#bddbea,#a0cce2,#9bc9e0,#a7d0e4,#c2ddec,#b3d6e8,#bbdaea,#b6d7e8,#c7e0ed,#cce2ef,#c7e0ed,#b3d6e8,#98c8e0,#b6d7e8,#c0dceb,#c7e0ed,#bbdaea,#b3d6e8,#b6d7e8,#a5cee3,#a0cce2,#a7d0e4,#b6d7e8,#cfe4ef,#cae1ee,#cae1ee,#cae1ee,#c5dfec,#c0dceb,#c7e0ed,#acd2e5,#b6d7e8,#c0dceb,#cce2ef,#cce2ef,#d4e6f1,#d1e5f0,#c2ddec,#cfe4ef,#d2e6f0,#c5dfec,#cfe4ef,#c5dfec,#acd2e5,#bbdaea,#b1d5e7,#bbdaea,#bbdaea,#c2ddec,#a2cde3,#c7e0ed,#cae1ee,#bddbea,#b6d7e8,#bbdaea,#bbdaea,#c0dceb,#c2ddec,#b1d5e7,#b1d5e7,#d1e5f0,#cae1ee,#b8d8e9,#c2ddec,#c7e0ed,#d2e6f0,#e3edf3,#deebf2,#ecf2f5,#edf2f5,#e0ecf3,#e4eef4,#f3f5f6,#e9f0f4,#e1edf3,#edf2f5,#e9f0f4,#e7f0f4,#f0f4f6,#deebf2,#e4eef4,#deebf2,#dae9f2,#d8e9f1,#e7f0f4,#e1edf3,#d8e9f1,#d8e9f1,#eaf1f5,#eaf1f5,#ddebf2,#f0f4f6,#e4eef4,#dbeaf2,#e3edf3,#e9f0f4,#eff3f5,#edf2f5,#e4eef4,#e0ecf3,#dbeaf2,#e1edf3)"></div><div class="b" style="left:120px;top:345px;width:557px;height:9px;background:linear-gradient(90deg,#e6eff4,#e3edf3,#f0f4f6,#e0ecf3,#e4eef4,#d4e6f1,#e0ecf3,#deebf2,#e4eef4,#d2e6f0,#d1e5f0,#cce2ef,#c2ddec,#c7e0ed,#b8d8e9,#c2ddec,#cce2ef,#cae1ee,#c0dceb,#d4e6f1,#c5dfec,#bbdaea,#bbdaea,#b3d6e8,#aed3e6,#a0cce2,#96c7df,#a2cde3,#d1e5f0,#dbeaf2,#e7f0f4,#e6eff4,#e7f0f4,#f7f5f4,#e4eef4,#e7f0f4,#eff3f5,#f8f2ef,#ecf2f5,#e1edf3,#f0f4f6,#eff3f5,#eff3f5,#f6f7f7,#f6f7f7,#f5f6f7,#f3f5f6,#f8f4f2,#f9f0eb,#f7f6f6,#f0f4f6,#f7f6f6,#f7f6f6,#eaf1f5,#eff3f5,#f7f6f6,#f3f5f6,#eff3f5,#f2f5f6,#eff3f5,#eff3f5,#e4eef4,#f7f6f6,#f3f5f6,#eaf1f5,#f2f5f6,#eff3f5,#ecf2f5,#f0f4f6,#f7f6f6,#f0f4f6,#f0f4f6,#f7f6f6,#e4eef4,#e1edf3,#e6eff4,#d8e9f1,#d7e8f1,#d4e6f1,#c0dceb,#bbdaea,#a0cce2,#bddbea,#b3d6e8,#b1d5e7,#b3d6e8,#96c7df,#93c6de,#a0cce2,#b8d8e9,#acd2e5,#b1d5e7,#aed3e6,#c0dceb,#c5dfec,#c0dceb,#a9d1e5,#90c4dd,#acd2e5,#b6d7e8,#c0dceb,#b3d6e8,#a9d1e5,#acd2e5,#9bc9e0,#98c8e0,#9dcbe1,#aed3e6,#c5dfec,#c2ddec,#c2ddec,#c2ddec,#bddbea,#b8d8e9,#c0dceb,#a5cee3,#aed3e6,#b8d8e9,#c5dfec,#c5dfec,#cfe4ef,#cae1ee,#bbdaea,#c7e0ed,#cce2ef,#bddbea,#c5dfec,#bddbea,#a2cde3,#b3d6e8,#a9d1e5,#b3d6e8,#b3d6e8,#bbdaea,#9bc9e0,#bddbea,#c2ddec,#b6d7e8,#aed3e6,#b1d5e7,#b3d6e8,#b6d7e8,#b8d8e9,#a7d0e4,#a7d0e4,#c7e0ed,#c2ddec,#aed3e6,#b8d8e9,#c0dceb,#cce2ef,#e0ecf3,#dbeaf2,#e7f0f4,#e9f0f4,#ddebf2,#e1edf3,#eff3f5,#e6eff4,#deebf2,#eaf1f5,#e6eff4,#e4eef4,#edf2f5,#dbeaf2,#e1edf3,#dbeaf2,#d7e8f1,#d5e7f1,#e4eef4,#deebf2,#d4e6f1,#d5e7f1,#e6eff4,#e7f0f4,#d8e9f1,#ecf2f5,#e0ecf3,#d8e9f1,#deebf2,#e6eff4,#eaf1f5,#eaf1f5,#e1edf3,#ddebf2,#d8e9f1,#deebf2)"></div><div class="b" style="left:120px;top:354px;width:557px;height:9px;background:linear-gradient(90deg,#e3edf3,#e0ecf3,#edf2f5,#ddebf2,#e1edf3,#d1e5f0,#deebf2,#ddebf2,#e1edf3,#cfe4ef,#cae1ee,#c7e0ed,#bddbea,#c2ddec,#b3d6e8,#bddbea,#c7e0ed,#c5dfec,#bbdaea,#d1e5f0,#c0dceb,#b6d7e8,#b6d7e8,#aed3e6,#a9d1e5,#98c8e0,#90c4dd,#9dcbe1,#cce2ef,#d7e8f1,#e4eef4,#e1edf3,#e3edf3,#f6f7f7,#e1edf3,#e3edf3,#ecf2f5,#f7f5f4,#e9f0f4,#ddebf2,#edf2f5,#ecf2f5,#ecf2f5,#f3f5f6,#f3f5f6,#f2f5f6,#f0f4f6,#f7f6f6,#f8f2ef,#f3f5f6,#edf2f5,#f5f6f7,#f5f6f7,#e7f0f4,#ecf2f5,#f5f6f7,#f0f4f6,#ecf2f5,#eff3f5,#ecf2f5,#ecf2f5,#e1edf3,#f5f6f7,#f0f4f6,#e7f0f4,#eff3f5,#ecf2f5,#e9f0f4,#edf2f5,#f5f6f7,#edf2f5,#edf2f5,#f5f6f7,#e1edf3,#deebf2,#e3edf3,#d5e7f1,#d4e6f1,#cfe4ef,#b6d7e8,#b1d5e7,#96c7df,#b3d6e8,#a9d1e5,#a9d1e5,#a9d1e5,#8dc2dc,#87beda,#96c7df,#b1d5e7,#a5cee3,#a9d1e5,#a7d0e4,#b8d8e9,#bddbea,#b6d7e8,#a2cde3,#84bcd9,#a5cee3,#acd2e5,#b6d7e8,#a9d1e5,#a2cde3,#a5cee3,#93c6de,#8dc2dc,#96c7df,#a7d0e4,#bddbea,#b8d8e9,#bbdaea,#bbdaea,#b6d7e8,#b1d5e7,#b6d7e8,#9dcbe1,#a7d0e4,#b1d5e7,#bddbea,#bddbea,#c7e0ed,#c2ddec,#b3d6e8,#c0dceb,#c5dfec,#b3d6e8,#bddbea,#b3d6e8,#9bc9e0,#a9d1e5,#a0cce2,#a9d1e5,#acd2e5,#b3d6e8,#93c6de,#b6d7e8,#b8d8e9,#acd2e5,#a5cee3,#a9d1e5,#a9d1e5,#aed3e6,#b1d5e7,#a0cce2,#a0cce2,#bddbea,#b8d8e9,#a7d0e4,#b1d5e7,#b8d8e9,#c5dfec,#dbeaf2,#d7e8f1,#e4eef4,#e6eff4,#dae9f2,#deebf2,#edf2f5,#e3edf3,#dbeaf2,#e7f0f4,#e1edf3,#e1edf3,#eaf1f5,#d8e9f1,#deebf2,#d7e8f1,#d4e6f1,#d2e6f0,#e0ecf3,#dbeaf2,#d1e5f0,#d1e5f0,#e3edf3,#e3edf3,#d5e7f1,#e9f0f4,#ddebf2,#d4e6f1,#dbeaf2,#e3edf3,#e7f0f4,#e7f0f4,#deebf2,#dae9f2,#d5e7f1,#dbeaf2)"></div><div class="b" style="left:120px;top:363px;width:557px;height:9px;background:linear-gradient(90deg,#e0ecf3,#deebf2,#eaf1f5,#dae9f2,#deebf2,#cce2ef,#dbeaf2,#dae9f2,#e0ecf3,#cce2ef,#c5dfec,#c2ddec,#b8d8e9,#bddbea,#aed3e6,#b6d7e8,#c2ddec,#c0dceb,#b6d7e8,#cce2ef,#bbdaea,#b1d5e7,#b1d5e7,#a9d1e5,#a5cee3,#93c6de,#8ac0db,#96c7df,#c5dfec,#d4e6f1,#e1edf3,#deebf2,#e0ecf3,#f2f5f6,#deebf2,#e0ecf3,#e9f0f4,#f6f7f7,#e6eff4,#dae9f2,#eaf1f5,#e9f0f4,#e9f0f4,#f0f4f6,#f0f4f6,#eff3f5,#edf2f5,#f5f6f7,#f8f4f2,#f0f4f6,#eaf1f5,#f2f5f6,#f2f5f6,#e4eef4,#e9f0f4,#f2f5f6,#edf2f5,#e9f0f4,#ecf2f5,#e9f0f4,#e9f0f4,#deebf2,#f2f5f6,#edf2f5,#e4eef4,#ecf2f5,#e7f0f4,#e6eff4,#eaf1f5,#f2f5f6,#eaf1f5,#eaf1f5,#f2f5f6,#deebf2,#dbeaf2,#e0ecf3,#d2e6f0,#d1e5f0,#c7e0ed,#aed3e6,#a9d1e5,#8dc2dc,#acd2e5,#a2cde3,#a2cde3,#a2cde3,#84bcd9,#7eb8d7,#8dc2dc,#a9d1e5,#9dcbe1,#a2cde3,#a0cce2,#b1d5e7,#b6d7e8,#aed3e6,#9bc9e0,#7bb6d6,#9dcbe1,#a5cee3,#aed3e6,#a2cde3,#98c8e0,#9dcbe1,#87beda,#84bcd9,#8ac0db,#9dcbe1,#b6d7e8,#b1d5e7,#b3d6e8,#b3d6e8,#b1d5e7,#acd2e5,#aed3e6,#96c7df,#a2cde3,#a9d1e5,#b6d7e8,#b6d7e8,#c0dceb,#bddbea,#acd2e5,#b8d8e9,#bddbea,#acd2e5,#b6d7e8,#acd2e5,#90c4dd,#a2cde3,#98c8e0,#a5cee3,#a5cee3,#acd2e5,#8ac0db,#aed3e6,#b1d5e7,#a5cee3,#9bc9e0,#a0cce2,#a2cde3,#a7d0e4,#a7d0e4,#96c7df,#96c7df,#b6d7e8,#b1d5e7,#9dcbe1,#a7d0e4,#b1d5e7,#bddbea,#d7e8f1,#d4e6f1,#e0ecf3,#e3edf3,#d7e8f1,#dbeaf2,#eaf1f5,#e0ecf3,#d8e9f1,#e4eef4,#e0ecf3,#deebf2,#e7f0f4,#d4e6f1,#dbeaf2,#d4e6f1,#d1e5f0,#cfe4ef,#ddebf2,#d8e9f1,#cce2ef,#cce2ef,#deebf2,#e0ecf3,#d2e6f0,#e6eff4,#d8e9f1,#d1e5f0,#d8e9f1,#e0ecf3,#e4eef4,#e3edf3,#dbeaf2,#d7e8f1,#d2e6f0,#d8e9f1)"></div><div class="b" style="left:120px;top:372px;width:557px;height:9px;background:linear-gradient(90deg,#deebf2,#dbeaf2,#e7f0f4,#d7e8f1,#ddebf2,#cae1ee,#dae9f2,#d8e9f1,#ddebf2,#c7e0ed,#c0dceb,#bddbea,#b1d5e7,#b8d8e9,#a9d1e5,#b1d5e7,#bddbea,#b8d8e9,#b1d5e7,#c7e0ed,#b6d7e8,#a9d1e5,#acd2e5,#a5cee3,#a0cce2,#8dc2dc,#84bcd9,#90c4dd,#c0dceb,#d1e5f0,#deebf2,#dbeaf2,#ddebf2,#eff3f5,#dbeaf2,#ddebf2,#e6eff4,#f3f5f6,#e3edf3,#d7e8f1,#e7f0f4,#e6eff4,#e6eff4,#edf2f5,#edf2f5,#ecf2f5,#eaf1f5,#f2f5f6,#f7f6f6,#edf2f5,#e7f0f4,#eff3f5,#eff3f5,#e1edf3,#e6eff4,#eff3f5,#eaf1f5,#e6eff4,#e9f0f4,#e6eff4,#e6eff4,#dbeaf2,#edf2f5,#eaf1f5,#e1edf3,#e9f0f4,#e4eef4,#e3edf3,#e7f0f4,#eff3f5,#e7f0f4,#e7f0f4,#eff3f5,#dbeaf2,#d8e9f1,#dbeaf2,#cfe4ef,#cae1ee,#c0dceb,#a7d0e4,#a2cde3,#84bcd9,#a5cee3,#9bc9e0,#9bc9e0,#9bc9e0,#7bb6d6,#78b4d5,#84bcd9,#a5cee3,#96c7df,#9dcbe1,#98c8e0,#acd2e5,#aed3e6,#a9d1e5,#93c6de,#71b0d3,#96c7df,#9dcbe1,#a7d0e4,#9bc9e0,#90c4dd,#96c7df,#81bad8,#7eb8d7,#84bcd9,#98c8e0,#b1d5e7,#acd2e5,#aed3e6,#aed3e6,#acd2e5,#a5cee3,#a9d1e5,#90c4dd,#9bc9e0,#a2cde3,#b1d5e7,#b1d5e7,#b8d8e9,#b6d7e8,#a7d0e4,#b1d5e7,#b6d7e8,#a7d0e4,#aed3e6,#a5cee3,#87beda,#9bc9e0,#93c6de,#9dcbe1,#9dcbe1,#a7d0e4,#84bcd9,#a9d1e5,#acd2e5,#9dcbe1,#96c7df,#9bc9e0,#9bc9e0,#a0cce2,#a0cce2,#8dc2dc,#8dc2dc,#acd2e5,#a7d0e4,#96c7df,#a0cce2,#a9d1e5,#b8d8e9,#d2e6f0,#cfe4ef,#ddebf2,#e0ecf3,#d4e6f1,#d8e9f1,#e7f0f4,#ddebf2,#d5e7f1,#e3edf3,#ddebf2,#dbeaf2,#e4eef4,#d2e6f0,#d8e9f1,#d2e6f0,#cce2ef,#cae1ee,#dbeaf2,#d5e7f1,#c7e0ed,#c7e0ed,#dbeaf2,#ddebf2,#cfe4ef,#e1edf3,#d5e7f1,#cce2ef,#d5e7f1,#ddebf2,#e1edf3,#e0ecf3,#d8e9f1,#d4e6f1,#cfe4ef,#d5e7f1)"></div><div class="b" style="left:120px;top:381px;width:557px;height:9px;background:linear-gradient(90deg,#dbeaf2,#dae9f2,#e6eff4,#d5e7f1,#dbeaf2,#c7e0ed,#d8e9f1,#d7e8f1,#dbeaf2,#c2ddec,#bbdaea,#b8d8e9,#acd2e5,#b3d6e8,#a5cee3,#acd2e5,#b8d8e9,#b3d6e8,#acd2e5,#c2ddec,#b1d5e7,#a5cee3,#a7d0e4,#a0cce2,#98c8e0,#87beda,#7eb8d7,#8ac0db,#bbdaea,#cce2ef,#dbeaf2,#d8e9f1,#dae9f2,#ecf2f5,#d8e9f1,#dae9f2,#e3edf3,#f0f4f6,#e0ecf3,#d4e6f1,#e4eef4,#e3edf3,#e3edf3,#eaf1f5,#eaf1f5,#e9f0f4,#e7f0f4,#eff3f5,#f5f6f7,#eaf1f5,#e4eef4,#ecf2f5,#ecf2f5,#deebf2,#e3edf3,#ecf2f5,#e7f0f4,#e3edf3,#e6eff4,#e3edf3,#e3edf3,#d8e9f1,#eaf1f5,#e7f0f4,#deebf2,#e6eff4,#e1edf3,#e0ecf3,#e4eef4,#ecf2f5,#e4eef4,#e4eef4,#eaf1f5,#d7e8f1,#d5e7f1,#d8e9f1,#cae1ee,#c5dfec,#bbdaea,#a0cce2,#9bc9e0,#7bb6d6,#9dcbe1,#93c6de,#93c6de,#93c6de,#71b0d3,#6eaed2,#7eb8d7,#9dcbe1,#90c4dd,#96c7df,#93c6de,#a5cee3,#a9d1e5,#a2cde3,#8ac0db,#6bacd1,#8ac0db,#96c7df,#a0cce2,#93c6de,#87beda,#8dc2dc,#78b4d5,#75b2d4,#7bb6d6,#93c6de,#a9d1e5,#a7d0e4,#a9d1e5,#a7d0e4,#a7d0e4,#a0cce2,#a5cee3,#8ac0db,#96c7df,#9dcbe1,#acd2e5,#acd2e5,#b3d6e8,#b1d5e7,#a0cce2,#acd2e5,#b1d5e7,#a0cce2,#a7d0e4,#9dcbe1,#7eb8d7,#93c6de,#8ac0db,#98c8e0,#98c8e0,#a2cde3,#7eb8d7,#a2cde3,#a5cee3,#96c7df,#8dc2dc,#93c6de,#96c7df,#98c8e0,#98c8e0,#84bcd9,#81bad8,#a5cee3,#a0cce2,#8ac0db,#98c8e0,#a2cde3,#b1d5e7,#cfe4ef,#cae1ee,#dae9f2,#dbeaf2,#d1e5f0,#d5e7f1,#e4eef4,#dae9f2,#d2e6f0,#e0ecf3,#dae9f2,#d8e9f1,#e1edf3,#cfe4ef,#d7e8f1,#cfe4ef,#c7e0ed,#c7e0ed,#d8e9f1,#d2e6f0,#c2ddec,#c2ddec,#d8e9f1,#dae9f2,#cae1ee,#deebf2,#d2e6f0,#c7e0ed,#d2e6f0,#dae9f2,#deebf2,#ddebf2,#d4e6f1,#d1e5f0,#cae1ee,#d2e6f0)"></div><div class="b" style="left:120px;top:390px;width:557px;height:9px;background:linear-gradient(90deg,#dae9f2,#d7e8f1,#e3edf3,#d2e6f0,#d8e9f1,#c5dfec,#d7e8f1,#d5e7f1,#dae9f2,#c0dceb,#b6d7e8,#b3d6e8,#a7d0e4,#aed3e6,#a0cce2,#a7d0e4,#b3d6e8,#aed3e6,#a7d0e4,#bddbea,#acd2e5,#a0cce2,#a2cde3,#9bc9e0,#93c6de,#81bad8,#75b2d4,#84bcd9,#b6d7e8,#c7e0ed,#d8e9f1,#d5e7f1,#d7e8f1,#e9f0f4,#d5e7f1,#d7e8f1,#deebf2,#edf2f5,#ddebf2,#d1e5f0,#e1edf3,#e0ecf3,#e0ecf3,#e7f0f4,#e7f0f4,#e6eff4,#e4eef4,#ecf2f5,#f2f5f6,#e7f0f4,#e1edf3,#e9f0f4,#e9f0f4,#dbeaf2,#e0ecf3,#e9f0f4,#e4eef4,#e0ecf3,#e3edf3,#e0ecf3,#e0ecf3,#d5e7f1,#e7f0f4,#e4eef4,#dbeaf2,#e3edf3,#deebf2,#ddebf2,#e1edf3,#e9f0f4,#e1edf3,#e1edf3,#e7f0f4,#d4e6f1,#d1e5f0,#d5e7f1,#c5dfec,#c0dceb,#b3d6e8,#98c8e0,#93c6de,#71b0d3,#96c7df,#8ac0db,#8ac0db,#8ac0db,#6bacd1,#68abd0,#75b2d4,#96c7df,#87beda,#8dc2dc,#8ac0db,#9dcbe1,#a2cde3,#9bc9e0,#84bcd9,#62a7ce,#81bad8,#8dc2dc,#98c8e0,#8ac0db,#81bad8,#84bcd9,#6eaed2,#6bacd1,#75b2d4,#8ac0db,#a5cee3,#a2cde3,#a5cee3,#a2cde3,#a2cde3,#9bc9e0,#a0cce2,#84bcd9,#90c4dd,#98c8e0,#a7d0e4,#a7d0e4,#aed3e6,#acd2e5,#9bc9e0,#a5cee3,#a9d1e5,#98c8e0,#a0cce2,#96c7df,#75b2d4,#8ac0db,#81bad8,#90c4dd,#93c6de,#9dcbe1,#78b4d5,#9dcbe1,#a0cce2,#90c4dd,#84bcd9,#8ac0db,#8dc2dc,#90c4dd,#90c4dd,#78b4d5,#78b4d5,#9dcbe1,#96c7df,#7eb8d7,#90c4dd,#9bc9e0,#a9d1e5,#c7e0ed,#c2ddec,#d5e7f1,#d8e9f1,#cce2ef,#d2e6f0,#e1edf3,#d7e8f1,#d1e5f0,#ddebf2,#d8e9f1,#d7e8f1,#e0ecf3,#cce2ef,#d4e6f1,#cae1ee,#c2ddec,#c2ddec,#d5e7f1,#cfe4ef,#bddbea,#bddbea,#d5e7f1,#d7e8f1,#c5dfec,#dbeaf2,#cfe4ef,#c2ddec,#cfe4ef,#d5e7f1,#dbeaf2,#dae9f2,#d1e5f0,#cae1ee,#c2ddec,#cfe4ef)"></div><div class="b" style="left:120px;top:399px;width:557px;height:9px;background:linear-gradient(90deg,#d7e8f1,#d4e6f1,#e1edf3,#d1e5f0,#d7e8f1,#c0dceb,#d5e7f1,#d4e6f1,#d8e9f1,#bbdaea,#b1d5e7,#aed3e6,#a2cde3,#a9d1e5,#9bc9e0,#a2cde3,#aed3e6,#a9d1e5,#a2cde3,#b8d8e9,#a7d0e4,#9bc9e0,#9dcbe1,#96c7df,#8dc2dc,#7bb6d6,#6eaed2,#7eb8d7,#b1d5e7,#c2ddec,#d5e7f1,#d2e6f0,#d4e6f1,#e6eff4,#d2e6f0,#d4e6f1,#dbeaf2,#eaf1f5,#dae9f2,#cce2ef,#deebf2,#ddebf2,#ddebf2,#e4eef4,#e4eef4,#e3edf3,#e0ecf3,#e9f0f4,#eff3f5,#e4eef4,#deebf2,#e6eff4,#e6eff4,#d7e8f1,#ddebf2,#e6eff4,#e1edf3,#ddebf2,#e0ecf3,#ddebf2,#ddebf2,#d2e6f0,#e4eef4,#e1edf3,#d8e9f1,#e0ecf3,#dbeaf2,#dae9f2,#deebf2,#e6eff4,#deebf2,#deebf2,#e4eef4,#d1e5f0,#cce2ef,#d2e6f0,#c0dceb,#bbdaea,#acd2e5,#90c4dd,#8ac0db,#68abd0,#8dc2dc,#81bad8,#81bad8,#84bcd9,#62a7ce,#5fa5cd,#6bacd1,#90c4dd,#7eb8d7,#87beda,#84bcd9,#98c8e0,#9bc9e0,#93c6de,#7bb6d6,#59a1ca,#78b4d5,#84bcd9,#90c4dd,#81bad8,#78b4d5,#7eb8d7,#68abd0,#65a9cf,#6bacd1,#84bcd9,#a0cce2,#9dcbe1,#a0cce2,#9dcbe1,#9bc9e0,#96c7df,#9bc9e0,#7eb8d7,#8ac0db,#93c6de,#a2cde3,#a2cde3,#a7d0e4,#a5cee3,#96c7df,#a0cce2,#a2cde3,#93c6de,#98c8e0,#8dc2dc,#6bacd1,#81bad8,#78b4d5,#8ac0db,#8dc2dc,#98c8e0,#6eaed2,#96c7df,#98c8e0,#87beda,#7bb6d6,#81bad8,#84bcd9,#87beda,#87beda,#6eaed2,#6eaed2,#93c6de,#8dc2dc,#75b2d4,#84bcd9,#93c6de,#a5cee3,#c2ddec,#bddbea,#d2e6f0,#d5e7f1,#c7e0ed,#cfe4ef,#deebf2,#d4e6f1,#cce2ef,#dae9f2,#d5e7f1,#d4e6f1,#ddebf2,#c7e0ed,#d2e6f0,#c7e0ed,#c0dceb,#bddbea,#d2e6f0,#cae1ee,#b8d8e9,#b8d8e9,#d2e6f0,#d4e6f1,#bddbea,#d8e9f1,#cae1ee,#bddbea,#cae1ee,#d2e6f0,#d8e9f1,#d7e8f1,#cce2ef,#c5dfec,#bddbea,#cae1ee)"></div><div class="b" style="left:120px;top:408px;width:557px;height:9px;background:linear-gradient(90deg,#d5e7f1,#d2e6f0,#deebf2,#cce2ef,#d4e6f1,#bddbea,#d4e6f1,#d2e6f0,#d7e8f1,#b6d7e8,#acd2e5,#a9d1e5,#9dcbe1,#a5cee3,#96c7df,#9dcbe1,#a9d1e5,#a5cee3,#9dcbe1,#b3d6e8,#a2cde3,#96c7df,#98c8e0,#90c4dd,#87beda,#75b2d4,#68abd0,#78b4d5,#acd2e5,#bbdaea,#d1e5f0,#cce2ef,#cfe4ef,#e3edf3,#cce2ef,#d1e5f0,#d8e9f1,#e7f0f4,#d7e8f1,#c7e0ed,#dbeaf2,#dae9f2,#d8e9f1,#e1edf3,#e1edf3,#e0ecf3,#ddebf2,#e6eff4,#ecf2f5,#e1edf3,#dbeaf2,#e3edf3,#e3edf3,#d4e6f1,#dae9f2,#e3edf3,#ddebf2,#dae9f2,#ddebf2,#dae9f2,#dae9f2,#cfe4ef,#e1edf3,#deebf2,#d5e7f1,#ddebf2,#d8e9f1,#d7e8f1,#dae9f2,#e3edf3,#dbeaf2,#dbeaf2,#e1edf3,#cce2ef,#c7e0ed,#cfe4ef,#bbdaea,#b3d6e8,#a7d0e4,#87beda,#81bad8,#5fa5cd,#87beda,#7bb6d6,#7bb6d6,#7bb6d6,#5ca3cb,#59a1ca,#65a9cf,#8ac0db,#78b4d5,#81bad8,#81bad8,#93c6de,#96c7df,#8dc2dc,#71b0d3,#4f9bc7,#71b0d3,#7bb6d6,#87beda,#78b4d5,#6eaed2,#75b2d4,#5fa5cd,#5ca3cb,#65a9cf,#7bb6d6,#9bc9e0,#98c8e0,#9bc9e0,#98c8e0,#96c7df,#90c4dd,#96c7df,#78b4d5,#84bcd9,#8dc2dc,#9bc9e0,#9bc9e0,#a2cde3,#9dcbe1,#8dc2dc,#98c8e0,#9bc9e0,#8ac0db,#93c6de,#84bcd9,#62a7ce,#78b4d5,#71b0d3,#81bad8,#84bcd9,#90c4dd,#68abd0,#90c4dd,#93c6de,#7eb8d7,#75b2d4,#78b4d5,#7bb6d6,#7eb8d7,#7eb8d7,#65a9cf,#65a9cf,#8ac0db,#81bad8,#68abd0,#7bb6d6,#8ac0db,#9dcbe1,#bbdaea,#b8d8e9,#cfe4ef,#d2e6f0,#c2ddec,#cae1ee,#dbeaf2,#d1e5f0,#c7e0ed,#d8e9f1,#d2e6f0,#d1e5f0,#dbeaf2,#c5dfec,#cfe4ef,#c2ddec,#bbdaea,#bbdaea,#d1e5f0,#c7e0ed,#b3d6e8,#b3d6e8,#cfe4ef,#d1e5f0,#bbdaea,#d7e8f1,#c5dfec,#b8d8e9,#c5dfec,#cfe4ef,#d5e7f1,#d4e6f1,#c7e0ed,#c2ddec,#b8d8e9,#c5dfec)"></div><div class="b" style="left:120px;top:417px;width:557px;height:9px;background:linear-gradient(90deg,#d2e6f0,#cfe4ef,#dbeaf2,#cae1ee,#d2e6f0,#bbdaea,#d2e6f0,#d1e5f0,#d4e6f1,#b3d6e8,#a7d0e4,#a5cee3,#9bc9e0,#a0cce2,#90c4dd,#9bc9e0,#a5cee3,#a2cde3,#98c8e0,#aed3e6,#9dcbe1,#90c4dd,#93c6de,#8ac0db,#81bad8,#6eaed2,#62a7ce,#71b0d3,#a7d0e4,#b6d7e8,#cce2ef,#c7e0ed,#cae1ee,#deebf2,#c7e0ed,#cae1ee,#d4e6f1,#e3edf3,#d2e6f0,#c0dceb,#d7e8f1,#d5e7f1,#d5e7f1,#deebf2,#ddebf2,#ddebf2,#dae9f2,#e3edf3,#e7f0f4,#deebf2,#d8e9f1,#e0ecf3,#deebf2,#d1e5f0,#d5e7f1,#e0ecf3,#dae9f2,#d7e8f1,#d8e9f1,#d5e7f1,#d5e7f1,#c7e0ed,#deebf2,#dae9f2,#d2e6f0,#dae9f2,#d5e7f1,#d2e6f0,#d7e8f1,#e0ecf3,#d8e9f1,#d8e9f1,#deebf2,#c7e0ed,#c2ddec,#cae1ee,#b6d7e8,#aed3e6,#a2cde3,#81bad8,#78b4d5,#59a1ca,#81bad8,#75b2d4,#75b2d4,#75b2d4,#569fc9,#569fc9,#5fa5cd,#87beda,#75b2d4,#7bb6d6,#7bb6d6,#8dc2dc,#90c4dd,#87beda,#6bacd1,#4997c5,#68abd0,#71b0d3,#7eb8d7,#71b0d3,#68abd0,#6bacd1,#569fc9,#569fc9,#5fa5cd,#75b2d4,#93c6de,#90c4dd,#96c7df,#93c6de,#90c4dd,#8ac0db,#90c4dd,#71b0d3,#7eb8d7,#87beda,#96c7df,#96c7df,#9dcbe1,#98c8e0,#84bcd9,#90c4dd,#93c6de,#81bad8,#8ac0db,#7bb6d6,#59a1ca,#6eaed2,#68abd0,#78b4d5,#7eb8d7,#8ac0db,#62a7ce,#8ac0db,#8dc2dc,#78b4d5,#6bacd1,#71b0d3,#71b0d3,#75b2d4,#75b2d4,#5ca3cb,#59a1ca,#7eb8d7,#75b2d4,#5ca3cb,#6eaed2,#81bad8,#96c7df,#b6d7e8,#b1d5e7,#cae1ee,#cfe4ef,#bddbea,#c5dfec,#d8e9f1,#cce2ef,#c2ddec,#d5e7f1,#cfe4ef,#cfe4ef,#d8e9f1,#c0dceb,#cae1ee,#c0dceb,#b6d7e8,#b6d7e8,#cce2ef,#c2ddec,#b1d5e7,#b1d5e7,#cce2ef,#cce2ef,#b6d7e8,#d4e6f1,#c2ddec,#b6d7e8,#c0dceb,#cce2ef,#d4e6f1,#d2e6f0,#c5dfec,#bddbea,#b6d7e8,#c2ddec)"></div><div class="b" style="left:120px;top:426px;width:557px;height:9px;background:linear-gradient(90deg,#cfe4ef,#cce2ef,#dae9f2,#c5dfec,#cfe4ef,#b6d7e8,#cfe4ef,#cce2ef,#d2e6f0,#aed3e6,#a2cde3,#a0cce2,#96c7df,#9dcbe1,#8dc2dc,#96c7df,#a2cde3,#9dcbe1,#93c6de,#a9d1e5,#98c8e0,#8dc2dc,#8dc2dc,#84bcd9,#7bb6d6,#65a9cf,#5ca3cb,#6bacd1,#a2cde3,#b1d5e7,#c7e0ed,#c2ddec,#c2ddec,#dbeaf2,#c0dceb,#c2ddec,#d1e5f0,#e0ecf3,#cfe4ef,#bbdaea,#d4e6f1,#d2e6f0,#d2e6f0,#dbeaf2,#dae9f2,#d8e9f1,#d7e8f1,#e0ecf3,#e4eef4,#dbeaf2,#d5e7f1,#ddebf2,#dbeaf2,#cce2ef,#d2e6f0,#dbeaf2,#d7e8f1,#d2e6f0,#d5e7f1,#d2e6f0,#d2e6f0,#c2ddec,#dae9f2,#d7e8f1,#cce2ef,#d5e7f1,#d2e6f0,#cfe4ef,#d4e6f1,#ddebf2,#d5e7f1,#d5e7f1,#dbeaf2,#c2ddec,#bddbea,#c5dfec,#b1d5e7,#a9d1e5,#9bc9e0,#78b4d5,#71b0d3,#4f9bc7,#78b4d5,#6eaed2,#6eaed2,#6eaed2,#529dc8,#4f9bc7,#59a1ca,#81bad8,#6eaed2,#78b4d5,#75b2d4,#8ac0db,#8dc2dc,#81bad8,#65a9cf,#4393c3,#62a7ce,#6bacd1,#78b4d5,#68abd0,#5fa5cd,#65a9cf,#4f9bc7,#4c99c6,#569fc9,#6eaed2,#8dc2dc,#8ac0db,#90c4dd,#8dc2dc,#8ac0db,#84bcd9,#8ac0db,#6bacd1,#78b4d5,#81bad8,#90c4dd,#8dc2dc,#96c7df,#90c4dd,#7bb6d6,#87beda,#8ac0db,#78b4d5,#81bad8,#71b0d3,#4f9bc7,#65a9cf,#5fa5cd,#6eaed2,#75b2d4,#81bad8,#59a1ca,#84bcd9,#84bcd9,#71b0d3,#65a9cf,#68abd0,#68abd0,#6bacd1,#6bacd1,#4f9bc7,#4f9bc7,#75b2d4,#68abd0,#4f9bc7,#65a9cf,#75b2d4,#90c4dd,#aed3e6,#acd2e5,#c2ddec,#c7e0ed,#b8d8e9,#c0dceb,#d5e7f1,#c7e0ed,#bddbea,#d2e6f0,#cce2ef,#cae1ee,#d5e7f1,#bbdaea,#c7e0ed,#bbdaea,#b3d6e8,#b3d6e8,#c7e0ed,#c0dceb,#acd2e5,#acd2e5,#c7e0ed,#cae1ee,#b3d6e8,#d2e6f0,#bddbea,#b1d5e7,#bbdaea,#c7e0ed,#d1e5f0,#cfe4ef,#c0dceb,#bbdaea,#b1d5e7,#bddbea)"></div><div class="b" style="left:120px;top:435px;width:557px;height:9px;background:linear-gradient(90deg,#cce2ef,#c7e0ed,#d7e8f1,#c2ddec,#cce2ef,#b3d6e8,#cae1ee,#cae1ee,#cfe4ef,#a9d1e5,#9dcbe1,#9bc9e0,#90c4dd,#98c8e0,#87beda,#90c4dd,#9dcbe1,#9bc9e0,#90c4dd,#a7d0e4,#96c7df,#87beda,#87beda,#7eb8d7,#75b2d4,#5fa5cd,#569fc9,#65a9cf,#9dcbe1,#acd2e5,#c2ddec,#bbdaea,#bddbea,#d7e8f1,#bbdaea,#bddbea,#cae1ee,#dbeaf2,#c7e0ed,#b3d6e8,#cfe4ef,#cce2ef,#cce2ef,#d7e8f1,#d7e8f1,#d5e7f1,#d4e6f1,#ddebf2,#e1edf3,#d8e9f1,#d1e5f0,#d8e9f1,#d8e9f1,#c5dfec,#cfe4ef,#d8e9f1,#d2e6f0,#cfe4ef,#d1e5f0,#cce2ef,#cce2ef,#bbdaea,#d7e8f1,#d2e6f0,#c7e0ed,#d2e6f0,#cce2ef,#cae1ee,#d1e5f0,#d8e9f1,#d2e6f0,#d2e6f0,#d8e9f1,#bddbea,#b8d8e9,#c0dceb,#acd2e5,#a5cee3,#96c7df,#71b0d3,#6bacd1,#4997c5,#71b0d3,#68abd0,#68abd0,#6bacd1,#4c99c6,#4997c5,#569fc9,#7eb8d7,#6bacd1,#71b0d3,#71b0d3,#84bcd9,#87beda,#7eb8d7,#5fa5cd,#3f8ec0,#59a1ca,#62a7ce,#6eaed2,#62a7ce,#569fc9,#5ca3cb,#4695c4,#4695c4,#4f9bc7,#65a9cf,#87beda,#84bcd9,#8ac0db,#87beda,#84bcd9,#7eb8d7,#84bcd9,#65a9cf,#71b0d3,#7bb6d6,#8ac0db,#87beda,#90c4dd,#87beda,#71b0d3,#7eb8d7,#81bad8,#6eaed2,#75b2d4,#68abd0,#4695c4,#5ca3cb,#569fc9,#68abd0,#6bacd1,#7bb6d6,#529dc8,#7eb8d7,#7eb8d7,#6bacd1,#5ca3cb,#5fa5cd,#62a7ce,#62a7ce,#62a7ce,#4695c4,#4393c3,#68abd0,#5ca3cb,#4393c3,#59a1ca,#6bacd1,#87beda,#a9d1e5,#a5cee3,#bddbea,#c2ddec,#b1d5e7,#bbdaea,#d2e6f0,#c5dfec,#bbdaea,#cfe4ef,#c7e0ed,#c7e0ed,#d4e6f1,#b8d8e9,#c2ddec,#b6d7e8,#aed3e6,#aed3e6,#c5dfec,#bbdaea,#a9d1e5,#a9d1e5,#c5dfec,#c5dfec,#aed3e6,#cfe4ef,#bbdaea,#aed3e6,#b8d8e9,#c5dfec,#cce2ef,#cce2ef,#bddbea,#b6d7e8,#aed3e6,#bbdaea)"></div><div class="b" style="left:120px;top:444px;width:557px;height:8px;background:linear-gradient(90deg,#c7e0ed,#c5dfec,#d5e7f1,#bddbea,#c7e0ed,#aed3e6,#c7e0ed,#c5dfec,#cae1ee,#a5cee3,#98c8e0,#96c7df,#8ac0db,#93c6de,#81bad8,#8dc2dc,#9bc9e0,#96c7df,#8ac0db,#a2cde3,#90c4dd,#81bad8,#81bad8,#78b4d5,#6eaed2,#59a1ca,#4f9bc7,#5fa5cd,#98c8e0,#a7d0e4,#bddbea,#b6d7e8,#b6d7e8,#d4e6f1,#b3d6e8,#b6d7e8,#c5dfec,#d8e9f1,#c0dceb,#aed3e6,#cae1ee,#c7e0ed,#c7e0ed,#d4e6f1,#d4e6f1,#d2e6f0,#d1e5f0,#dae9f2,#deebf2,#d5e7f1,#cce2ef,#d5e7f1,#d5e7f1,#c2ddec,#c7e0ed,#d4e6f1,#cfe4ef,#c7e0ed,#cce2ef,#c7e0ed,#c7e0ed,#b6d7e8,#d2e6f0,#cfe4ef,#c2ddec,#cfe4ef,#c7e0ed,#c5dfec,#cce2ef,#d5e7f1,#cce2ef,#cfe4ef,#d5e7f1,#b8d8e9,#b3d6e8,#bbdaea,#a5cee3,#a0cce2,#90c4dd,#68abd0,#62a7ce,#4393c3,#6bacd1,#62a7ce,#62a7ce,#65a9cf,#4695c4,#4695c4,#4f9bc7,#78b4d5,#65a9cf,#6bacd1,#6eaed2,#81bad8,#81bad8,#78b4d5,#59a1ca,#3c8abe,#529dc8,#59a1ca,#68abd0,#59a1ca,#4f9bc7,#569fc9,#4291c2,#408fc1,#4695c4,#5fa5cd,#7eb8d7,#7eb8d7,#84bcd9,#81bad8,#7eb8d7,#78b4d5,#7eb8d7,#5fa5cd,#6bacd1,#75b2d4,#81bad8,#81bad8,#87beda,#81bad8,#6bacd1,#75b2d4,#78b4d5,#62a7ce,#6bacd1,#5fa5cd,#408fc1,#529dc8,#4c99c6,#5fa5cd,#65a9cf,#71b0d3,#4c99c6,#78b4d5,#78b4d5,#62a7ce,#569fc9,#59a1ca,#59a1ca,#59a1ca,#59a1ca,#408fc1,#3f8ec0,#5ca3cb,#4f9bc7,#3e8cbf,#4c99c6,#62a7ce,#7eb8d7,#a5cee3,#a0cce2,#b8d8e9,#bddbea,#acd2e5,#b6d7e8,#d2e6f0,#c0dceb,#b6d7e8,#cae1ee,#c2ddec,#c2ddec,#d1e5f0,#b3d6e8,#c0dceb,#b3d6e8,#acd2e5,#acd2e5,#c0dceb,#b6d7e8,#a5cee3,#a5cee3,#c0dceb,#c2ddec,#acd2e5,#cae1ee,#b6d7e8,#a9d1e5,#b3d6e8,#c0dceb,#cae1ee,#c7e0ed,#b8d8e9,#b3d6e8,#a9d1e5,#b6d7e8)"></div><div class="b" style="left:801px;top:94px;width:558px;height:8px;background:linear-gradient(90deg,#2e6f8e,#2e6f8e,#2c718e,#2e6d8e,#2d708e,#2e6d8e,#2c718e,#2c718e,#2c738e,#27808e,#26818e,#277f8e,#277f8e,#27808e,#277e8e,#277f8e,#26818e,#27808e,#277f8e,#25838e,#26818e,#277f8e,#27808e,#277f8e,#277f8e,#277f8e,#26828e,#27808e,#27808e,#26818e,#25848e,#26818e,#277f8e,#25838e,#277f8e,#27808e,#26828e,#25838e,#27808e,#297b8e,#27808e,#277f8e,#277f8e,#27808e,#27808e,#26818e,#277f8e,#26828e,#26828e,#26818e,#27808e,#26818e,#26818e,#277f8e,#277e8e,#26818e,#27808e,#277f8e,#27808e,#27808e,#27808e,#287c8e,#26828e,#26818e,#277e8e,#26818e,#26818e,#27808e,#26828e,#25848e,#26828e,#25838e,#25838e,#277f8e,#277f8e,#26818e,#287d8e,#277e8e,#26828e,#26828e,#26818e,#287d8e,#25838e,#26828e,#26828e,#26818e,#287d8e,#287d8e,#287d8e,#26828e,#277f8e,#277f8e,#27808e,#26818e,#26818e,#26818e,#277e8e,#297a8e,#277f8e,#27808e,#26828e,#27808e,#277f8e,#27808e,#287d8e,#287d8e,#287d8e,#27808e,#26828e,#26828e,#26828e,#26818e,#26818e,#277f8e,#277f8e,#297b8e,#287d8e,#287c8e,#26818e,#26818e,#26828e,#25838e,#27808e,#26828e,#25838e,#26818e,#26828e,#27808e,#287d8e,#277f8e,#277e8e,#27808e,#277f8e,#27808e,#287c8e,#26828e,#26828e,#27808e,#277e8e,#277f8e,#26828e,#26818e,#26818e,#287c8e,#287d8e,#26818e,#26818e,#277e8e,#277e8e,#287d8e,#287d8e,#26828e,#26818e,#26828e,#27808e,#277e8e,#277e8e,#25848e,#277f8e,#277e8e,#26828e,#26818e,#27808e,#26828e,#287d8e,#27808e,#277e8e,#287d8e,#277e8e,#26828e,#27808e,#287c8e,#287d8e,#26828e,#26828e,#277f8e,#25838e,#27808e,#277e8e,#277f8e,#26818e,#26828e,#26828e,#27808e,#277f8e,#287d8e,#277f8e)"></div><div class="b" style="left:801px;top:102px;width:558px;height:9px;background:linear-gradient(90deg,#2d708e,#2d708e,#2c728e,#2e6e8e,#2d718e,#2e6e8e,#2c728e,#2c728e,#2b748e,#26818e,#26818e,#27808e,#277f8e,#26818e,#277f8e,#27808e,#26828e,#26818e,#27808e,#25848e,#26828e,#27808e,#26818e,#27808e,#27808e,#27808e,#25838e,#26818e,#26818e,#26828e,#25858e,#26828e,#27808e,#25848e,#27808e,#26818e,#26828e,#25858e,#26818e,#287d8e,#26818e,#27808e,#26818e,#26818e,#26818e,#26828e,#27808e,#25838e,#25838e,#26828e,#26818e,#26828e,#26828e,#27808e,#277f8e,#26828e,#26818e,#27808e,#26818e,#26818e,#26818e,#287d8e,#26828e,#26818e,#277f8e,#26828e,#26828e,#26818e,#26828e,#25858e,#26828e,#25848e,#25848e,#27808e,#277f8e,#26828e,#277e8e,#277f8e,#26828e,#26828e,#26828e,#287d8e,#25838e,#26828e,#26828e,#26828e,#277e8e,#287d8e,#287d8e,#26828e,#27808e,#27808e,#27808e,#26818e,#26818e,#26818e,#277e8e,#297a8e,#277f8e,#27808e,#26828e,#27808e,#277f8e,#26818e,#287d8e,#277e8e,#277e8e,#27808e,#25838e,#26828e,#26828e,#26818e,#26818e,#27808e,#277f8e,#287c8e,#287d8e,#287d8e,#26818e,#26828e,#26828e,#25838e,#26818e,#26828e,#25838e,#26818e,#26828e,#27808e,#287d8e,#27808e,#277f8e,#27808e,#277f8e,#26818e,#287d8e,#25838e,#25838e,#26818e,#277f8e,#27808e,#26828e,#26828e,#26828e,#287d8e,#277e8e,#26828e,#26828e,#277f8e,#277f8e,#277e8e,#277e8e,#26828e,#26828e,#26828e,#26818e,#277f8e,#277f8e,#24868e,#27808e,#277f8e,#26828e,#26818e,#26818e,#26828e,#277e8e,#26818e,#277f8e,#277e8e,#277f8e,#26828e,#26818e,#287d8e,#277e8e,#26828e,#26828e,#277f8e,#25848e,#26818e,#277f8e,#277f8e,#26828e,#25838e,#26828e,#27808e,#27808e,#287d8e,#27808e)"></div><div class="b" style="left:801px;top:111px;width:558px;height:9px;background:linear-gradient(90deg,#2d718e,#2d718e,#2c728e,#2e6f8e,#2c718e,#2e6e8e,#2c738e,#2c728e,#2b748e,#26818e,#26828e,#26818e,#27808e,#26828e,#27808e,#27808e,#26828e,#26828e,#26818e,#25858e,#26828e,#26818e,#26828e,#26818e,#26818e,#26818e,#25848e,#26828e,#26828e,#26828e,#228b8d,#25858e,#26828e,#24868e,#25848e,#24868e,#23888e,#23888e,#25848e,#26818e,#25858e,#25838e,#25858e,#26828e,#25838e,#24878e,#26828e,#23888e,#25848e,#26828e,#26828e,#26828e,#26828e,#24868e,#27808e,#26828e,#26828e,#26818e,#26828e,#26828e,#26828e,#277e8e,#25838e,#26828e,#27808e,#26828e,#26828e,#26828e,#25838e,#25858e,#25838e,#25858e,#25858e,#26818e,#27808e,#26828e,#277f8e,#27808e,#26828e,#25838e,#26828e,#277e8e,#25848e,#26828e,#26828e,#26828e,#277e8e,#277e8e,#277e8e,#25838e,#27808e,#27808e,#26818e,#26828e,#26828e,#26828e,#277f8e,#297b8e,#27808e,#26818e,#26828e,#26818e,#27808e,#26818e,#277e8e,#277e8e,#277e8e,#27808e,#25838e,#26828e,#25838e,#26828e,#26818e,#27808e,#27808e,#287c8e,#287d8e,#287d8e,#26828e,#26828e,#26828e,#25838e,#26818e,#26828e,#25848e,#26828e,#26828e,#26818e,#277e8e,#27808e,#277f8e,#26818e,#27808e,#26818e,#287d8e,#25838e,#25838e,#26818e,#277f8e,#26818e,#26828e,#26828e,#26828e,#277e8e,#277f8e,#26828e,#26828e,#277f8e,#27808e,#277f8e,#277f8e,#26828e,#25848e,#25838e,#26828e,#26828e,#27808e,#228d8d,#26818e,#27808e,#26828e,#26828e,#26818e,#25838e,#277e8e,#26828e,#277f8e,#277e8e,#26828e,#26828e,#26828e,#277e8e,#277f8e,#25838e,#25838e,#27808e,#25858e,#26828e,#277f8e,#27808e,#26828e,#25848e,#25838e,#26818e,#27808e,#277e8e,#27808e)"></div><div class="b" style="left:801px;top:120px;width:558px;height:9px;background:linear-gradient(90deg,#297b8e,#29798e,#2c738e,#2c728e,#2c728e,#2e6f8e,#2c738e,#2c738e,#2b758e,#25838e,#25838e,#26828e,#25838e,#25848e,#24868e,#26828e,#25858e,#25838e,#25858e,#238a8d,#24878e,#25848e,#23888e,#25858e,#24868e,#25838e,#228b8d,#25858e,#25858e,#23898e,#20928c,#228c8d,#23888e,#228d8d,#228b8d,#228d8d,#218f8d,#218f8d,#228b8d,#24878e,#228c8d,#238a8d,#228c8d,#23888e,#238a8d,#218e8d,#23888e,#218f8d,#238a8d,#23898e,#23898e,#24868e,#24878e,#228d8d,#25848e,#24868e,#25858e,#24868e,#24868e,#23888e,#23888e,#26818e,#24868e,#26828e,#26818e,#25838e,#24878e,#25848e,#23888e,#238a8d,#25858e,#228c8d,#24868e,#26818e,#26818e,#24868e,#277f8e,#26818e,#25838e,#25858e,#26828e,#277f8e,#25858e,#25838e,#25838e,#26828e,#277f8e,#277e8e,#277e8e,#25848e,#26818e,#26818e,#26818e,#26828e,#26828e,#26828e,#277f8e,#297b8e,#27808e,#26818e,#26828e,#26818e,#27808e,#26828e,#277e8e,#277f8e,#277f8e,#26818e,#25848e,#26828e,#25838e,#26828e,#26828e,#27808e,#27808e,#287d8e,#277e8e,#277e8e,#26828e,#26828e,#26828e,#25848e,#26828e,#26828e,#25848e,#26828e,#26828e,#26818e,#277e8e,#27808e,#27808e,#26818e,#27808e,#26828e,#277e8e,#25848e,#25848e,#26828e,#27808e,#26818e,#24878e,#25848e,#25838e,#277f8e,#26828e,#25838e,#25858e,#25848e,#24868e,#26828e,#26828e,#23888e,#228b8d,#238a8d,#25848e,#23898e,#24868e,#1f948c,#25848e,#25838e,#25858e,#25858e,#26828e,#25838e,#277f8e,#26828e,#26818e,#27808e,#24878e,#23888e,#23888e,#26818e,#26828e,#25858e,#25848e,#26828e,#24878e,#26828e,#27808e,#26818e,#26828e,#25848e,#25848e,#26828e,#26828e,#277f8e,#26818e)"></div><div class="b" style="left:801px;top:129px;width:558px;height:9px;background:linear-gradient(90deg,#23888e,#24868e,#26818e,#27808e,#277f8e,#297a8e,#277e8e,#277e8e,#277e8e,#238a8d,#238a8d,#24868e,#238a8d,#228b8d,#228d8d,#23898e,#228c8d,#238a8d,#228c8d,#21918c,#218e8d,#228b8d,#218f8d,#228c8d,#228d8d,#238a8d,#20928c,#228c8d,#228c8d,#21908d,#1e9d89,#1f948c,#218f8d,#20938c,#1f958b,#1f998a,#1e9b8a,#1f968b,#1f958b,#21908d,#1f958b,#20928c,#1f978b,#218f8d,#21918c,#1e9b8a,#218f8d,#1f998a,#21918c,#21908d,#21918c,#228d8d,#218e8d,#1f998a,#228b8d,#228d8d,#228c8d,#228d8d,#228d8d,#218f8d,#218f8d,#24878e,#228d8d,#23888e,#24868e,#238a8d,#218e8d,#228b8d,#218f8d,#21918c,#228c8d,#20928c,#228d8d,#24878e,#24878e,#228d8d,#25858e,#25848e,#238a8d,#228c8d,#24878e,#26828e,#228b8d,#23898e,#23888e,#26828e,#26818e,#26818e,#277f8e,#24878e,#26818e,#26818e,#24868e,#26828e,#26828e,#26828e,#27808e,#287c8e,#27808e,#26828e,#25838e,#26828e,#27808e,#26828e,#277f8e,#277f8e,#277f8e,#26818e,#25848e,#25838e,#25838e,#26828e,#26828e,#26818e,#26818e,#287d8e,#277e8e,#277e8e,#26828e,#26828e,#25838e,#25848e,#26828e,#25838e,#25858e,#26828e,#25838e,#26818e,#277f8e,#26818e,#27808e,#26818e,#26818e,#26828e,#27808e,#24878e,#24868e,#26828e,#26818e,#25858e,#218e8d,#228b8d,#238a8d,#25838e,#23888e,#238a8d,#228c8d,#228b8d,#228d8d,#23898e,#23898e,#218f8d,#20938c,#21918c,#228b8d,#20928c,#228d8d,#20a386,#228b8d,#238a8d,#228c8d,#228c8d,#23888e,#23888e,#26828e,#23898e,#24878e,#24868e,#218f8d,#218f8d,#218f8d,#24878e,#23898e,#228c8d,#228b8d,#23898e,#218e8d,#23888e,#25858e,#26828e,#24868e,#228b8d,#23898e,#25858e,#23888e,#25838e,#24868e)"></div><div class="b" style="left:801px;top:138px;width:558px;height:9px;background:linear-gradient(90deg,#1f968b,#20938c,#218e8d,#228c8d,#228c8d,#24878e,#228b8d,#228b8d,#228b8d,#20928c,#21918c,#228d8d,#20928c,#20938c,#1f998a,#21918c,#20938c,#21918c,#1f958b,#1e9c89,#1f988b,#1f948c,#1f9a8a,#1f978b,#1f988b,#20928c,#1f9e89,#1f948c,#1f958b,#1e9d89,#25ac82,#20a386,#1e9d89,#1fa187,#20a486,#22a884,#24aa83,#21a585,#20a486,#1f9f88,#21a585,#1fa187,#22a785,#1e9d89,#20a386,#27ad81,#1fa088,#25ab82,#1e9d89,#1f9f88,#1fa188,#1f978b,#1f988b,#22a884,#1f948c,#1f968b,#1f958b,#1f978b,#1f978b,#1e9c89,#1f9a8a,#21908d,#1f948c,#218f8d,#228d8d,#21918c,#1f978b,#20938c,#1f988b,#1e9b8a,#20928c,#1fa088,#20938c,#218e8d,#218e8d,#1f958b,#228c8d,#228b8d,#21918c,#20928c,#218e8d,#23888e,#20928c,#218f8d,#218f8d,#23898e,#24878e,#24878e,#26818e,#218e8d,#24878e,#24868e,#228d8d,#23888e,#25858e,#25858e,#25848e,#27808e,#26828e,#26828e,#25838e,#26828e,#26818e,#26828e,#277f8e,#27808e,#27808e,#26828e,#25858e,#25838e,#24868e,#26828e,#26828e,#26818e,#26818e,#277e8e,#277f8e,#277f8e,#25838e,#25858e,#25838e,#228b8d,#25848e,#25838e,#23898e,#26828e,#25838e,#26828e,#277f8e,#26818e,#27808e,#26828e,#26818e,#26828e,#24868e,#218e8d,#228d8d,#23898e,#24878e,#228c8d,#1f968b,#20928c,#21918c,#238a8d,#21908d,#21918c,#20938c,#1f948c,#1f978b,#20928c,#20928c,#1f998a,#1fa188,#1e9c89,#20928c,#1fa187,#1e9b8a,#2db27d,#1f948c,#20938c,#1f948c,#1f958b,#218f8d,#218f8d,#23888e,#21908d,#218e8d,#228d8d,#1fa187,#1e9d89,#1fa088,#21908d,#1f958b,#20928c,#20928c,#20938c,#1f948c,#218f8d,#228c8d,#23888e,#228d8d,#20928c,#21908d,#228c8d,#218f8d,#238a8d,#228d8d)"></div><div class="b" style="left:801px;top:147px;width:558px;height:9px;background:linear-gradient(90deg,#21a585,#1fa188,#1e9c89,#1e9d89,#1f9e89,#1f9a8a,#1fa088,#1f9e89,#1e9c89,#21a585,#1fa187,#1f978b,#1fa187,#1fa187,#22a785,#1f9f88,#1fa187,#1f9f88,#20a386,#24aa83,#21a685,#1fa287,#22a884,#21a585,#21a685,#1fa188,#25ac82,#20a386,#20a486,#25ac82,#3aba76,#2db27d,#25ac82,#2ab07f,#2eb37c,#34b679,#37b878,#31b57b,#2fb47c,#28ae80,#31b57b,#2db27d,#37b878,#28ae80,#34b679,#44bf70,#2cb17e,#3dbc74,#27ad81,#29af7f,#2ab07f,#21a685,#22a785,#34b679,#20a386,#20a486,#20a386,#21a585,#20a486,#23a983,#22a785,#1e9d89,#1fa187,#1f9a8a,#1f978b,#1f9e89,#21a585,#1fa188,#21a685,#23a983,#1fa088,#27ad81,#1fa088,#1f998a,#1f998a,#20a386,#1f978b,#1f948c,#1e9d89,#1fa088,#1f978b,#21918c,#1e9d89,#1f9a8a,#1f988b,#21908d,#218f8d,#218e8d,#24878e,#1f968b,#218e8d,#228d8d,#1f968b,#218f8d,#228c8d,#228c8d,#228b8d,#24868e,#23888e,#24868e,#23888e,#24868e,#25848e,#23888e,#25848e,#24868e,#25838e,#25858e,#228b8d,#23898e,#228d8d,#25858e,#23888e,#25858e,#26828e,#25838e,#25838e,#277f8e,#238a8d,#228c8d,#23898e,#20928c,#228b8d,#23898e,#21908d,#23898e,#24878e,#26828e,#25858e,#25838e,#25858e,#24878e,#24868e,#23898e,#228d8d,#1f958b,#1f948c,#21908d,#218e8d,#1f948c,#1fa187,#1f9e89,#1e9b8a,#20938c,#1e9b8a,#1e9b8a,#1f9f88,#1fa088,#1fa287,#1f9e89,#1f9e89,#21a585,#27ad81,#24aa83,#1fa188,#2ab07f,#24aa83,#40bd72,#20a386,#1fa287,#20a386,#20a486,#1e9d89,#1f988b,#21918c,#1fa088,#1e9d89,#1e9d89,#2fb47c,#2ab07f,#31b57b,#21a685,#26ad81,#25ab82,#23a983,#27ad81,#29af7f,#21a685,#1fa088,#218f8d,#1f988b,#20a486,#1f9e89,#1f988b,#1fa088,#1f958b,#1f998a)"></div><div class="b" style="left:801px;top:156px;width:558px;height:9px;background:linear-gradient(90deg,#2fb47c,#27ad81,#24aa83,#27ad81,#2cb17e,#2ab07f,#37b878,#32b67a,#2cb17e,#34b679,#2cb17e,#21a585,#29af7f,#29af7f,#31b57b,#26ad81,#29af7f,#26ad81,#2ab07f,#35b779,#2eb37c,#2ab07f,#32b67a,#2eb37c,#2fb47c,#28ae80,#38b977,#2cb17e,#2eb37c,#3aba76,#56c667,#44bf70,#3aba76,#42be71,#48c16e,#50c46a,#56c667,#4cc26c,#4cc26c,#42be71,#52c569,#4cc26c,#5ac864,#44bf70,#5ac864,#70cf57,#4ec36b,#67cc5c,#42be71,#46c06f,#4ac16d,#32b67a,#32b67a,#5ec962,#2cb17e,#2db27d,#2cb17e,#2eb37c,#2db27d,#32b67a,#2fb47c,#24aa83,#28ae80,#22a785,#20a486,#25ab82,#2db27d,#28ae80,#2fb47c,#34b679,#27ad81,#3bbb75,#26ad81,#22a785,#22a785,#2ab07f,#21a585,#1fa287,#25ab82,#27ad81,#20a486,#1f9e89,#24aa83,#22a785,#21a585,#1e9b8a,#1e9b8a,#1f9a8a,#218f8d,#1fa287,#1f998a,#1f968b,#1fa187,#1f988b,#20928c,#1f948c,#20938c,#21908d,#218f8d,#228d8d,#218f8d,#228d8d,#228b8d,#218f8d,#228b8d,#228d8d,#238a8d,#228c8d,#20928c,#21908d,#1f948c,#228c8d,#218f8d,#228c8d,#23888e,#238a8d,#238a8d,#25848e,#21918c,#20938c,#21908d,#1e9b8a,#20928c,#21908d,#1f978b,#21908d,#218e8d,#23898e,#228c8d,#238a8d,#228c8d,#218e8d,#228d8d,#21908d,#1f978b,#1fa088,#1f9f88,#1f9a8a,#1f988b,#1f9f88,#26ad81,#23a983,#21a685,#1f9f88,#21a685,#21a685,#24aa83,#25ab82,#27ad81,#24aa83,#24aa83,#2db27d,#3aba76,#34b679,#28ae80,#3bbb75,#35b779,#56c667,#2db27d,#2cb17e,#2db27d,#2eb37c,#25ac82,#22a785,#1fa088,#2ab07f,#27ad81,#29af7f,#46c06f,#42be71,#46c06f,#35b779,#3bbb75,#3fbc73,#3fbc73,#3fbc73,#46c06f,#3bbb75,#35b779,#23a983,#2cb17e,#3aba76,#2cb17e,#24aa83,#2ab07f,#21a585,#22a884)"></div><div class="b" style="left:801px;top:165px;width:558px;height:9px;background:linear-gradient(90deg,#46c06f,#37b878,#37b878,#3bbb75,#48c16e,#44bf70,#4ac16d,#42be71,#3fbc73,#40bd72,#3dbc74,#2eb37c,#3aba76,#3bbb75,#40bd72,#38b977,#3bbb75,#38b977,#3dbc74,#4ac16d,#42be71,#3dbc74,#46c06f,#42be71,#44bf70,#3bbb75,#50c46a,#40bd72,#44bf70,#54c568,#75d054,#63cb5f,#56c667,#60ca60,#69cd5b,#75d054,#7cd250,#73d056,#73d056,#67cc5c,#7ad151,#75d054,#7cd250,#6ece58,#7fd34e,#86d549,#7ad151,#86d549,#6ece58,#73d056,#7ad151,#5ac864,#5ac864,#7cd250,#4cc26c,#4ec36b,#4ac16d,#4ec36b,#4cc26c,#5ac864,#54c568,#37b878,#3fbc73,#2fb47c,#2db27d,#37b878,#4ac16d,#40bd72,#4cc26c,#54c568,#3dbc74,#5ec962,#3aba76,#2fb47c,#2fb47c,#40bd72,#2eb37c,#2ab07f,#35b779,#3aba76,#2db27d,#25ac82,#34b679,#2fb47c,#2db27d,#22a785,#22a884,#22a785,#1e9b8a,#27ad81,#20a486,#1fa187,#26ad81,#20a386,#1f9e89,#1fa088,#1f9f88,#1e9b8a,#1f9a8a,#1f968b,#1f988b,#1f958b,#20938c,#1f9a8a,#1f948c,#1f988b,#20938c,#1f958b,#1e9c89,#1f998a,#1fa188,#20938c,#1f988b,#1f958b,#218f8d,#20938c,#20938c,#228b8d,#1e9b8a,#1f9f88,#1f998a,#22a785,#1f9e89,#1f9a8a,#1fa287,#1f9a8a,#1f958b,#21908d,#1f968b,#20928c,#1f978b,#1f998a,#1f968b,#1f9a8a,#1fa287,#24aa83,#22a884,#20a486,#1fa287,#24aa83,#35b779,#2fb47c,#2cb17e,#24aa83,#2cb17e,#2cb17e,#31b57b,#32b67a,#37b878,#31b57b,#32b67a,#40bd72,#54c568,#4cc26c,#3bbb75,#52c569,#48c16e,#6ece58,#3fbc73,#3dbc74,#40bd72,#42be71,#38b977,#32b67a,#29af7f,#40bd72,#3dbc74,#3dbc74,#60ca60,#5cc863,#60ca60,#4ac16d,#52c569,#56c667,#56c667,#58c765,#63cb5f,#56c667,#4ec36b,#3fbc73,#48c16e,#56c667,#48c16e,#3bbb75,#42be71,#2fb47c,#34b679)"></div><div class="b" style="left:801px;top:174px;width:558px;height:9px;background:linear-gradient(90deg,#63cb5f,#4ac16d,#4cc26c,#58c765,#6ccd5a,#67cc5c,#63cb5f,#56c667,#50c46a,#52c569,#4ec36b,#3fbc73,#4cc26c,#4ec36b,#56c667,#4ac16d,#50c46a,#4cc26c,#54c568,#60ca60,#5ac864,#54c568,#60ca60,#5ac864,#5ec962,#54c568,#6ccd5a,#5cc863,#60ca60,#73d056,#8bd646,#7fd34e,#77d153,#86d549,#7fd34e,#81d34d,#89d548,#8bd646,#84d44b,#7ad151,#86d549,#84d44b,#89d548,#84d44b,#8bd646,#90d743,#86d549,#90d743,#89d548,#86d549,#84d44b,#81d34d,#81d34d,#89d548,#7ad151,#7fd34e,#77d153,#7ad151,#7cd250,#7fd34e,#7cd250,#63cb5f,#6ccd5a,#54c568,#4cc26c,#5ec962,#75d054,#67cc5c,#75d054,#7cd250,#60ca60,#84d44b,#5cc863,#4cc26c,#4ac16d,#60ca60,#44bf70,#3fbc73,#4ec36b,#54c568,#40bd72,#37b878,#4cc26c,#44bf70,#40bd72,#2fb47c,#2fb47c,#2eb37c,#22a785,#38b977,#2ab07f,#26ad81,#35b779,#28ae80,#23a983,#25ab82,#24aa83,#21a685,#21a585,#1fa187,#20a386,#1fa187,#1f9f88,#21a685,#1fa188,#20a486,#1fa088,#1fa287,#23a983,#21a685,#26ad81,#1fa088,#20a486,#1fa188,#1f9a8a,#1f9f88,#1f9f88,#1f958b,#22a785,#24aa83,#20a486,#2db27d,#23a983,#21a585,#28ae80,#21a685,#1fa187,#1e9b8a,#1fa287,#1f9f88,#20a486,#21a585,#1fa187,#21a585,#26ad81,#2fb47c,#2db27d,#28ae80,#27ad81,#31b57b,#48c16e,#40bd72,#3dbc74,#31b57b,#3dbc74,#3dbc74,#46c06f,#4ac16d,#50c46a,#48c16e,#4ac16d,#5cc863,#73d056,#69cd5b,#54c568,#6ccd5a,#5ec962,#86d549,#54c568,#52c569,#56c667,#58c765,#4ec36b,#4ac16d,#3dbc74,#5ac864,#56c667,#58c765,#77d153,#7ad151,#7cd250,#63cb5f,#6ece58,#73d056,#73d056,#75d054,#81d34d,#75d054,#6ccd5a,#5ac864,#65cb5e,#77d153,#67cc5c,#5ac864,#65cb5e,#4cc26c,#52c569)"></div><div class="b" style="left:801px;top:183px;width:558px;height:9px;background:linear-gradient(90deg,#7ad151,#60ca60,#65cb5e,#73d056,#7fd34e,#77d153,#7cd250,#6ccd5a,#60ca60,#63cb5f,#60ca60,#52c569,#63cb5f,#65cb5e,#6ccd5a,#60ca60,#67cc5c,#63cb5f,#6ccd5a,#7cd250,#75d054,#6ece58,#7cd250,#77d153,#7ad151,#70cf57,#86d549,#7ad151,#7cd250,#86d549,#95d840,#8bd646,#84d44b,#90d743,#89d548,#8ed645,#93d741,#98d83e,#8ed645,#84d44b,#93d741,#8ed645,#93d741,#90d743,#95d840,#9bd93c,#90d743,#9dd93b,#95d840,#90d743,#90d743,#8bd646,#8ed645,#93d741,#84d44b,#89d548,#86d549,#86d549,#86d549,#8bd646,#89d548,#7ad151,#89d548,#7fd34e,#77d153,#81d34d,#86d549,#81d34d,#89d548,#8ed645,#84d44b,#90d743,#86d549,#70cf57,#6ece58,#7fd34e,#63cb5f,#5ac864,#6ccd5a,#70cf57,#5cc863,#4ec36b,#67cc5c,#5ec962,#5cc863,#44bf70,#46c06f,#42be71,#2eb37c,#52c569,#3dbc74,#37b878,#4ec36b,#38b977,#2fb47c,#32b67a,#31b57b,#2cb17e,#2ab07f,#26ad81,#28ae80,#26ad81,#25ab82,#2cb17e,#26ad81,#2ab07f,#26ad81,#29af7f,#32b67a,#2db27d,#37b878,#25ac82,#29af7f,#26ad81,#21a585,#24aa83,#24aa83,#1fa188,#2db27d,#31b57b,#29af7f,#3fbc73,#2fb47c,#2ab07f,#38b977,#2db27d,#27ad81,#22a785,#29af7f,#25ac82,#2ab07f,#2cb17e,#27ad81,#2ab07f,#35b779,#40bd72,#3fbc73,#37b878,#35b779,#42be71,#5ec962,#56c667,#52c569,#42be71,#54c568,#56c667,#60ca60,#65cb5e,#70cf57,#67cc5c,#67cc5c,#7cd250,#84d44b,#84d44b,#70cf57,#7cd250,#77d153,#93d741,#6ccd5a,#69cd5b,#6ece58,#70cf57,#67cc5c,#65cb5e,#58c765,#7ad151,#73d056,#73d056,#84d44b,#89d548,#89d548,#77d153,#7cd250,#86d549,#86d549,#81d34d,#90d743,#84d44b,#7fd34e,#7ad151,#81d34d,#8bd646,#84d44b,#7cd250,#7cd250,#6ece58,#77d153)"></div><div class="b" style="left:801px;top:192px;width:558px;height:9px;background:linear-gradient(90deg,#86d549,#75d054,#7fd34e,#7fd34e,#8bd646,#84d44b,#89d548,#7fd34e,#75d054,#77d153,#75d054,#67cc5c,#77d153,#7cd250,#7cd250,#77d153,#7fd34e,#7cd250,#7fd34e,#8bd646,#86d549,#7fd34e,#86d549,#84d44b,#86d549,#81d34d,#93d741,#86d549,#89d548,#90d743,#a2da37,#95d840,#8ed645,#9dd93b,#93d741,#95d840,#9bd93c,#a2da37,#95d840,#8ed645,#98d83e,#95d840,#98d83e,#9bd93c,#9bd93c,#9dd93b,#98d83e,#a0da39,#a0da39,#9bd93c,#98d83e,#98d83e,#98d83e,#95d840,#90d743,#95d840,#90d743,#90d743,#93d741,#95d840,#95d840,#86d549,#93d741,#8bd646,#84d44b,#8ed645,#93d741,#8ed645,#93d741,#9bd93c,#8ed645,#9dd93b,#93d741,#81d34d,#7fd34e,#8bd646,#7ad151,#7ad151,#84d44b,#86d549,#7ad151,#69cd5b,#84d44b,#7fd34e,#7ad151,#60ca60,#60ca60,#5cc863,#42be71,#6ece58,#56c667,#4ec36b,#69cd5b,#50c46a,#44bf70,#48c16e,#46c06f,#3dbc74,#3bbb75,#35b779,#38b977,#35b779,#32b67a,#3fbc73,#37b878,#3bbb75,#37b878,#3aba76,#46c06f,#3fbc73,#4cc26c,#35b779,#3bbb75,#35b779,#2ab07f,#31b57b,#31b57b,#25ac82,#3fbc73,#46c06f,#3aba76,#58c765,#44bf70,#3bbb75,#4ec36b,#3fbc73,#38b977,#2eb37c,#3bbb75,#35b779,#3fbc73,#40bd72,#38b977,#3bbb75,#4ac16d,#58c765,#56c667,#4cc26c,#4ac16d,#58c765,#75d054,#6ece58,#69cd5b,#5ac864,#6ece58,#70cf57,#7cd250,#7ad151,#7fd34e,#7ad151,#7ad151,#89d548,#8ed645,#90d743,#84d44b,#86d549,#81d34d,#9dd93b,#7fd34e,#7cd250,#84d44b,#84d44b,#7fd34e,#84d44b,#75d054,#86d549,#81d34d,#7fd34e,#90d743,#95d840,#93d741,#84d44b,#89d548,#93d741,#93d741,#8ed645,#9bd93c,#90d743,#89d548,#84d44b,#8ed645,#95d840,#90d743,#86d549,#89d548,#7cd250,#84d44b)"></div><div class="b" style="left:801px;top:201px;width:558px;height:9px;background:linear-gradient(90deg,#90d743,#81d34d,#89d548,#89d548,#95d840,#8ed645,#93d741,#8bd646,#86d549,#84d44b,#84d44b,#7cd250,#84d44b,#86d549,#89d548,#84d44b,#8bd646,#89d548,#8bd646,#98d83e,#90d743,#8bd646,#93d741,#8ed645,#90d743,#8bd646,#9dd93b,#93d741,#95d840,#9bd93c,#a5db36,#9bd93c,#95d840,#a2da37,#95d840,#98d83e,#9dd93b,#a5db36,#98d83e,#8ed645,#9bd93c,#98d83e,#98d83e,#9bd93c,#9dd93b,#a0da39,#9bd93c,#a2da37,#a2da37,#9dd93b,#98d83e,#9dd93b,#9dd93b,#98d83e,#95d840,#9dd93b,#98d83e,#98d83e,#9bd93c,#9bd93c,#98d83e,#90d743,#9dd93b,#95d840,#8ed645,#98d83e,#9bd93c,#98d83e,#9dd93b,#a5db36,#9bd93c,#a2da37,#9dd93b,#8ed645,#8bd646,#95d840,#84d44b,#84d44b,#90d743,#93d741,#89d548,#7cd250,#90d743,#8bd646,#89d548,#7fd34e,#77d153,#75d054,#5ec962,#86d549,#73d056,#6ccd5a,#7fd34e,#6ece58,#60ca60,#63cb5f,#60ca60,#56c667,#54c568,#4ac16d,#4ec36b,#4ac16d,#48c16e,#56c667,#4cc26c,#54c568,#4cc26c,#50c46a,#5cc863,#56c667,#63cb5f,#4ac16d,#50c46a,#48c16e,#3bbb75,#46c06f,#46c06f,#34b679,#58c765,#60ca60,#54c568,#75d054,#5cc863,#52c569,#69cd5b,#58c765,#50c46a,#42be71,#54c568,#4ec36b,#5ac864,#5ac864,#50c46a,#54c568,#65cb5e,#73d056,#70cf57,#65cb5e,#63cb5f,#73d056,#86d549,#81d34d,#7fd34e,#73d056,#7cd250,#84d44b,#89d548,#86d549,#89d548,#86d549,#86d549,#95d840,#98d83e,#9bd93c,#8ed645,#93d741,#8ed645,#a5db36,#8bd646,#86d549,#8ed645,#8ed645,#8bd646,#8ed645,#81d34d,#90d743,#8bd646,#8bd646,#95d840,#9dd93b,#9bd93c,#8ed645,#93d741,#9dd93b,#9dd93b,#95d840,#a5db36,#9bd93c,#93d741,#90d743,#98d83e,#a2da37,#9dd93b,#93d741,#95d840,#89d548,#8ed645)"></div><div class="b" style="left:801px;top:210px;width:558px;height:9px;background:linear-gradient(90deg,#93d741,#8ed645,#95d840,#8ed645,#95d840,#8ed645,#9bd93c,#95d840,#90d743,#8ed645,#90d743,#89d548,#8ed645,#93d741,#93d741,#90d743,#95d840,#93d741,#95d840,#a2da37,#9bd93c,#95d840,#98d83e,#95d840,#98d83e,#95d840,#a2da37,#9bd93c,#9bd93c,#9dd93b,#a5db36,#9dd93b,#98d83e,#a5db36,#98d83e,#98d83e,#9dd93b,#a8db34,#9bd93c,#90d743,#9dd93b,#9bd93c,#9bd93c,#9dd93b,#a0da39,#a0da39,#9dd93b,#a5db36,#a5db36,#a0da39,#9bd93c,#9dd93b,#9dd93b,#98d83e,#98d83e,#a0da39,#9bd93c,#9bd93c,#9dd93b,#9dd93b,#9bd93c,#90d743,#a0da39,#9bd93c,#95d840,#9dd93b,#9dd93b,#9bd93c,#a0da39,#a8db34,#a0da39,#a5db36,#a5db36,#95d840,#95d840,#9bd93c,#90d743,#90d743,#9bd93c,#9dd93b,#95d840,#86d549,#9dd93b,#95d840,#95d840,#89d548,#84d44b,#81d34d,#77d153,#90d743,#81d34d,#7fd34e,#8bd646,#84d44b,#7fd34e,#7fd34e,#7ad151,#6ece58,#6ece58,#65cb5e,#67cc5c,#63cb5f,#60ca60,#70cf57,#65cb5e,#6ece58,#67cc5c,#69cd5b,#77d153,#6ece58,#7fd34e,#60ca60,#69cd5b,#60ca60,#52c569,#60ca60,#60ca60,#4ac16d,#75d054,#7fd34e,#70cf57,#89d548,#77d153,#6ece58,#86d549,#73d056,#69cd5b,#5cc863,#73d056,#69cd5b,#77d153,#7ad151,#6ccd5a,#70cf57,#77d153,#89d548,#86d549,#7fd34e,#7ad151,#81d34d,#90d743,#8ed645,#8bd646,#7fd34e,#89d548,#90d743,#95d840,#90d743,#93d741,#90d743,#90d743,#9dd93b,#9dd93b,#a0da39,#9bd93c,#95d840,#95d840,#aadc32,#95d840,#93d741,#9bd93c,#9bd93c,#95d840,#9bd93c,#8bd646,#9bd93c,#95d840,#93d741,#9dd93b,#a2da37,#a0da39,#95d840,#98d83e,#a2da37,#a5db36,#9dd93b,#aadc32,#a0da39,#98d83e,#98d83e,#a0da39,#a8db34,#a2da37,#9bd93c,#9bd93c,#93d741,#98d83e)"></div><div class="b" style="left:801px;top:219px;width:558px;height:9px;background:linear-gradient(90deg,#95d840,#93d741,#9bd93c,#90d743,#98d83e,#90d743,#9dd93b,#9bd93c,#9dd93b,#98d83e,#9bd93c,#93d741,#95d840,#9bd93c,#95d840,#98d83e,#9dd93b,#9bd93c,#9bd93c,#a5db36,#9dd93b,#98d83e,#9bd93c,#98d83e,#9bd93c,#98d83e,#a5db36,#9dd93b,#9dd93b,#a0da39,#a8db34,#9dd93b,#9bd93c,#a8db34,#98d83e,#9bd93c,#a0da39,#a8db34,#9dd93b,#93d741,#a0da39,#9dd93b,#9dd93b,#a0da39,#a2da37,#a2da37,#9dd93b,#a5db36,#a8db34,#a0da39,#9dd93b,#a0da39,#a0da39,#9bd93c,#9bd93c,#a0da39,#9dd93b,#9dd93b,#a0da39,#9dd93b,#9dd93b,#93d741,#a2da37,#9dd93b,#98d83e,#a0da39,#a0da39,#9dd93b,#a2da37,#a8db34,#a2da37,#a5db36,#a8db34,#98d83e,#98d83e,#9dd93b,#93d741,#95d840,#9dd93b,#9dd93b,#9bd93c,#90d743,#a0da39,#9bd93c,#9bd93c,#95d840,#8ed645,#8ed645,#81d34d,#9dd93b,#8ed645,#8bd646,#95d840,#8ed645,#89d548,#8bd646,#84d44b,#7ad151,#7fd34e,#7cd250,#81d34d,#7cd250,#7ad151,#84d44b,#7ad151,#7cd250,#7ad151,#7fd34e,#8bd646,#84d44b,#8bd646,#7cd250,#7fd34e,#7ad151,#6ccd5a,#75d054,#77d153,#65cb5e,#86d549,#8bd646,#86d549,#95d840,#86d549,#84d44b,#90d743,#84d44b,#84d44b,#7ad151,#7fd34e,#7fd34e,#84d44b,#86d549,#7fd34e,#84d44b,#84d44b,#93d741,#93d741,#89d548,#86d549,#8ed645,#9bd93c,#98d83e,#98d83e,#89d548,#90d743,#9dd93b,#9bd93c,#93d741,#95d840,#93d741,#93d741,#a0da39,#a0da39,#a2da37,#9dd93b,#9bd93c,#9bd93c,#b0dd2f,#9dd93b,#98d83e,#a0da39,#9dd93b,#9bd93c,#a0da39,#93d741,#a2da37,#9bd93c,#98d83e,#a2da37,#aadc32,#a8db34,#9bd93c,#9dd93b,#a8db34,#aadc32,#a2da37,#b0dd2f,#a5db36,#a0da39,#a0da39,#a5db36,#addc30,#aadc32,#a0da39,#a2da37,#98d83e,#a0da39)"></div><div class="b" style="left:801px;top:228px;width:558px;height:9px;background:linear-gradient(90deg,#95d840,#93d741,#9bd93c,#90d743,#98d83e,#93d741,#a0da39,#a0da39,#a2da37,#9dd93b,#9dd93b,#9bd93c,#9bd93c,#9dd93b,#9bd93c,#9bd93c,#a0da39,#a0da39,#a0da39,#aadc32,#a0da39,#9bd93c,#9dd93b,#9bd93c,#9dd93b,#9bd93c,#a8db34,#a0da39,#a0da39,#a2da37,#aadc32,#a0da39,#9bd93c,#a8db34,#9bd93c,#9dd93b,#a2da37,#aadc32,#9dd93b,#95d840,#a0da39,#9dd93b,#a0da39,#a2da37,#a2da37,#a5db36,#a0da39,#a8db34,#a8db34,#a2da37,#a0da39,#a2da37,#a2da37,#9dd93b,#9bd93c,#a2da37,#a0da39,#a0da39,#a0da39,#a0da39,#a0da39,#95d840,#a5db36,#a0da39,#98d83e,#a0da39,#a0da39,#a0da39,#a5db36,#aadc32,#a2da37,#a8db34,#a8db34,#9bd93c,#98d83e,#9dd93b,#93d741,#95d840,#9dd93b,#9dd93b,#9bd93c,#8ed645,#9dd93b,#98d83e,#98d83e,#9bd93c,#8ed645,#8ed645,#8ed645,#9dd93b,#95d840,#95d840,#95d840,#9bd93c,#95d840,#95d840,#90d743,#84d44b,#8bd646,#89d548,#8ed645,#89d548,#86d549,#8ed645,#86d549,#89d548,#86d549,#8bd646,#95d840,#90d743,#98d83e,#89d548,#8bd646,#86d549,#7fd34e,#7fd34e,#81d34d,#7ad151,#90d743,#95d840,#93d741,#a0da39,#90d743,#90d743,#9dd93b,#90d743,#8ed645,#86d549,#89d548,#8bd646,#8ed645,#90d743,#8bd646,#8ed645,#8ed645,#a0da39,#9dd93b,#95d840,#90d743,#95d840,#9bd93c,#9bd93c,#9bd93c,#90d743,#93d741,#9dd93b,#9dd93b,#95d840,#98d83e,#95d840,#95d840,#a2da37,#a2da37,#a8db34,#a2da37,#9dd93b,#a0da39,#b5de2b,#a2da37,#9dd93b,#a5db36,#a0da39,#9dd93b,#a5db36,#9bd93c,#a8db34,#a2da37,#a0da39,#a8db34,#b0dd2f,#addc30,#a0da39,#a2da37,#b0dd2f,#b0dd2f,#a8db34,#b8de29,#addc30,#a5db36,#a5db36,#addc30,#b5de2b,#b0dd2f,#a8db34,#a8db34,#a0da39,#a5db36)"></div><div class="b" style="left:801px;top:237px;width:558px;height:9px;background:linear-gradient(90deg,#98d83e,#95d840,#9dd93b,#93d741,#9bd93c,#93d741,#a2da37,#a2da37,#a8db34,#a2da37,#a2da37,#9dd93b,#9dd93b,#a2da37,#9dd93b,#a0da39,#a5db36,#a2da37,#a2da37,#addc30,#a2da37,#9dd93b,#a0da39,#9dd93b,#a0da39,#9dd93b,#addc30,#a2da37,#a2da37,#a5db36,#addc30,#a2da37,#9dd93b,#aadc32,#9bd93c,#9dd93b,#a2da37,#addc30,#a0da39,#95d840,#a2da37,#a0da39,#a2da37,#a5db36,#a5db36,#a5db36,#a2da37,#aadc32,#aadc32,#a5db36,#a0da39,#a2da37,#a2da37,#a0da39,#9dd93b,#a5db36,#a2da37,#a2da37,#a2da37,#a2da37,#a2da37,#98d83e,#a5db36,#a2da37,#9bd93c,#a2da37,#a2da37,#a0da39,#a5db36,#addc30,#a5db36,#aadc32,#aadc32,#9bd93c,#9bd93c,#a0da39,#93d741,#95d840,#9dd93b,#9dd93b,#9bd93c,#8ed645,#9bd93c,#95d840,#95d840,#95d840,#8bd646,#8bd646,#8ed645,#9bd93c,#93d741,#95d840,#93d741,#98d83e,#9bd93c,#98d83e,#90d743,#86d549,#93d741,#95d840,#98d83e,#95d840,#90d743,#98d83e,#90d743,#90d743,#90d743,#95d840,#a2da37,#9dd93b,#9dd93b,#93d741,#98d83e,#90d743,#89d548,#8bd646,#8ed645,#84d44b,#98d83e,#9bd93c,#9dd93b,#a0da39,#98d83e,#9bd93c,#a2da37,#9bd93c,#9bd93c,#93d741,#90d743,#95d840,#93d741,#95d840,#95d840,#98d83e,#8ed645,#9dd93b,#a0da39,#98d83e,#93d741,#95d840,#9bd93c,#9bd93c,#9bd93c,#90d743,#93d741,#a0da39,#9dd93b,#95d840,#98d83e,#95d840,#98d83e,#a5db36,#a5db36,#aadc32,#a5db36,#a2da37,#a2da37,#b5de2b,#a8db34,#a2da37,#a8db34,#a5db36,#a0da39,#aadc32,#a0da39,#addc30,#a8db34,#a5db36,#aadc32,#b5de2b,#b0dd2f,#a5db36,#a8db34,#b5de2b,#b5de2b,#addc30,#bddf26,#b2dd2d,#aadc32,#aadc32,#b2dd2d,#bade28,#b8de29,#addc30,#addc30,#a5db36,#addc30)"></div><div class="b" style="left:801px;top:246px;width:558px;height:9px;background:linear-gradient(90deg,#9bd93c,#95d840,#9dd93b,#93d741,#9dd93b,#95d840,#a5db36,#a5db36,#aadc32,#a2da37,#a5db36,#a0da39,#a0da39,#a2da37,#9dd93b,#a0da39,#a8db34,#a5db36,#a2da37,#addc30,#a5db36,#a0da39,#a2da37,#a0da39,#a2da37,#a2da37,#addc30,#a5db36,#a5db36,#a8db34,#addc30,#a5db36,#a0da39,#aadc32,#9dd93b,#a0da39,#a5db36,#addc30,#a2da37,#98d83e,#a5db36,#a2da37,#a2da37,#a5db36,#a5db36,#a8db34,#a2da37,#aadc32,#addc30,#a5db36,#a2da37,#a5db36,#a5db36,#a0da39,#a0da39,#a8db34,#a5db36,#a2da37,#a5db36,#a5db36,#a2da37,#9bd93c,#a8db34,#a2da37,#9dd93b,#a5db36,#a5db36,#a2da37,#a8db34,#addc30,#a8db34,#aadc32,#addc30,#9dd93b,#9bd93c,#a0da39,#93d741,#95d840,#9dd93b,#9bd93c,#98d83e,#8bd646,#98d83e,#93d741,#90d743,#93d741,#86d549,#86d549,#8bd646,#95d840,#90d743,#90d743,#8ed645,#95d840,#98d83e,#95d840,#8ed645,#84d44b,#90d743,#95d840,#9dd93b,#98d83e,#93d741,#98d83e,#90d743,#90d743,#90d743,#95d840,#a0da39,#9dd93b,#9bd93c,#9bd93c,#98d83e,#95d840,#95d840,#8bd646,#8ed645,#90d743,#98d83e,#98d83e,#9dd93b,#9dd93b,#95d840,#9bd93c,#a0da39,#98d83e,#9dd93b,#98d83e,#8ed645,#95d840,#90d743,#95d840,#93d741,#98d83e,#8bd646,#9bd93c,#9dd93b,#95d840,#93d741,#95d840,#98d83e,#98d83e,#9bd93c,#90d743,#93d741,#a0da39,#9dd93b,#95d840,#98d83e,#98d83e,#9bd93c,#a5db36,#a2da37,#aadc32,#a8db34,#a2da37,#a5db36,#b5de2b,#aadc32,#a8db34,#addc30,#a8db34,#a5db36,#addc30,#a5db36,#b0dd2f,#aadc32,#a8db34,#aadc32,#b5de2b,#b2dd2d,#a8db34,#aadc32,#b8de29,#b8de29,#addc30,#bddf26,#b2dd2d,#addc30,#b0dd2f,#b5de2b,#bade28,#b8de29,#b2dd2d,#b0dd2f,#aadc32,#b0dd2f)"></div><div class="b" style="left:801px;top:255px;width:558px;height:9px;background:linear-gradient(90deg,#9bd93c,#95d840,#a0da39,#95d840,#9dd93b,#98d83e,#a5db36,#a5db36,#aadc32,#a5db36,#a5db36,#a2da37,#a0da39,#a5db36,#a0da39,#a2da37,#a8db34,#a5db36,#a2da37,#b0dd2f,#a8db34,#a0da39,#a5db36,#a2da37,#a2da37,#a2da37,#addc30,#a8db34,#a5db36,#a8db34,#b0dd2f,#a5db36,#a0da39,#addc30,#9dd93b,#a0da39,#a5db36,#b0dd2f,#a2da37,#98d83e,#a5db36,#a2da37,#a2da37,#a5db36,#a5db36,#a8db34,#a2da37,#aadc32,#addc30,#a8db34,#a2da37,#a8db34,#a8db34,#a0da39,#a0da39,#a8db34,#a5db36,#a2da37,#a5db36,#a5db36,#a5db36,#9bd93c,#aadc32,#a5db36,#a0da39,#a5db36,#a5db36,#a2da37,#a8db34,#addc30,#a8db34,#aadc32,#addc30,#9dd93b,#9bd93c,#9dd93b,#93d741,#95d840,#9bd93c,#9bd93c,#95d840,#89d548,#95d840,#90d743,#90d743,#8ed645,#84d44b,#81d34d,#86d549,#90d743,#8bd646,#8ed645,#8bd646,#93d741,#95d840,#93d741,#89d548,#7fd34e,#8ed645,#93d741,#98d83e,#93d741,#90d743,#93d741,#8ed645,#8bd646,#8ed645,#93d741,#9dd93b,#9bd93c,#98d83e,#98d83e,#95d840,#93d741,#93d741,#86d549,#8bd646,#8ed645,#95d840,#95d840,#9bd93c,#98d83e,#93d741,#98d83e,#9bd93c,#95d840,#9bd93c,#95d840,#8bd646,#93d741,#8ed645,#90d743,#90d743,#95d840,#86d549,#98d83e,#9bd93c,#93d741,#90d743,#93d741,#95d840,#98d83e,#98d83e,#8ed645,#90d743,#9dd93b,#9dd93b,#95d840,#98d83e,#95d840,#9bd93c,#a5db36,#a2da37,#aadc32,#a8db34,#a2da37,#a5db36,#b5de2b,#aadc32,#a8db34,#b0dd2f,#aadc32,#a8db34,#b2dd2d,#a8db34,#b0dd2f,#aadc32,#a8db34,#aadc32,#b5de2b,#b2dd2d,#a8db34,#aadc32,#b8de29,#b8de29,#addc30,#bddf26,#b2dd2d,#addc30,#b0dd2f,#b5de2b,#bade28,#bade28,#b2dd2d,#b0dd2f,#aadc32,#b0dd2f)"></div><div class="b" style="left:801px;top:264px;width:558px;height:9px;background:linear-gradient(90deg,#9dd93b,#98d83e,#a0da39,#98d83e,#a0da39,#98d83e,#a8db34,#a8db34,#addc30,#a5db36,#a8db34,#a2da37,#a2da37,#a5db36,#a0da39,#a2da37,#a8db34,#a5db36,#a2da37,#b0dd2f,#a8db34,#a2da37,#a5db36,#a2da37,#a2da37,#a2da37,#addc30,#a8db34,#a5db36,#a8db34,#b0dd2f,#a5db36,#a2da37,#b0dd2f,#a0da39,#a2da37,#a8db34,#b0dd2f,#a2da37,#98d83e,#a5db36,#a2da37,#a2da37,#a8db34,#a8db34,#a8db34,#a5db36,#aadc32,#addc30,#a8db34,#a2da37,#a8db34,#a8db34,#a2da37,#a2da37,#a8db34,#a5db36,#a2da37,#a5db36,#a5db36,#a5db36,#9bd93c,#aadc32,#a5db36,#a0da39,#a8db34,#a5db36,#a2da37,#a8db34,#b0dd2f,#a8db34,#aadc32,#addc30,#9dd93b,#9bd93c,#9dd93b,#93d741,#95d840,#9bd93c,#98d83e,#95d840,#89d548,#95d840,#90d743,#8ed645,#8ed645,#81d34d,#81d34d,#84d44b,#90d743,#89d548,#89d548,#89d548,#8ed645,#90d743,#90d743,#89d548,#7fd34e,#8bd646,#8ed645,#93d741,#90d743,#8ed645,#90d743,#89d548,#89d548,#8bd646,#90d743,#98d83e,#95d840,#95d840,#95d840,#93d741,#8ed645,#90d743,#84d44b,#86d549,#8bd646,#90d743,#90d743,#95d840,#95d840,#90d743,#95d840,#98d83e,#90d743,#95d840,#93d741,#86d549,#8ed645,#8bd646,#8ed645,#8ed645,#90d743,#86d549,#95d840,#98d83e,#90d743,#8ed645,#90d743,#95d840,#95d840,#98d83e,#8ed645,#90d743,#9dd93b,#9bd93c,#95d840,#95d840,#95d840,#98d83e,#a5db36,#a2da37,#aadc32,#a8db34,#a2da37,#a5db36,#b5de2b,#aadc32,#a8db34,#b2dd2d,#b0dd2f,#aadc32,#b5de2b,#a8db34,#b0dd2f,#addc30,#aadc32,#addc30,#b5de2b,#b2dd2d,#aadc32,#aadc32,#b8de29,#b8de29,#b0dd2f,#bddf26,#b2dd2d,#addc30,#b0dd2f,#b8de29,#bddf26,#bade28,#b2dd2d,#b0dd2f,#aadc32,#b0dd2f)"></div><div class="b" style="left:801px;top:273px;width:558px;height:9px;background:linear-gradient(90deg,#9dd93b,#98d83e,#a2da37,#98d83e,#a0da39,#98d83e,#a8db34,#a8db34,#addc30,#a5db36,#a8db34,#a5db36,#a2da37,#a5db36,#a0da39,#a2da37,#a8db34,#a8db34,#a5db36,#b0dd2f,#a8db34,#a2da37,#a5db36,#a2da37,#a2da37,#a2da37,#b0dd2f,#a8db34,#a8db34,#a8db34,#b0dd2f,#a8db34,#a2da37,#b0dd2f,#a0da39,#a2da37,#a8db34,#b0dd2f,#a5db36,#9bd93c,#a5db36,#a2da37,#a2da37,#a8db34,#a8db34,#a8db34,#a5db36,#addc30,#addc30,#a8db34,#a5db36,#a8db34,#a8db34,#a2da37,#a2da37,#aadc32,#a5db36,#a5db36,#a5db36,#a5db36,#a5db36,#9bd93c,#aadc32,#a8db34,#a0da39,#a8db34,#a5db36,#a5db36,#a8db34,#b0dd2f,#a8db34,#aadc32,#addc30,#9dd93b,#9bd93c,#9dd93b,#93d741,#95d840,#9bd93c,#98d83e,#95d840,#86d549,#95d840,#90d743,#8ed645,#8bd646,#81d34d,#7fd34e,#81d34d,#8ed645,#86d549,#89d548,#89d548,#8ed645,#8ed645,#8ed645,#86d549,#7cd250,#89d548,#8ed645,#93d741,#8ed645,#8bd646,#8ed645,#86d549,#86d549,#86d549,#8bd646,#95d840,#93d741,#93d741,#90d743,#8ed645,#8bd646,#8bd646,#81d34d,#84d44b,#86d549,#8ed645,#90d743,#93d741,#95d840,#8ed645,#93d741,#98d83e,#90d743,#93d741,#8ed645,#86d549,#8ed645,#89d548,#8ed645,#8bd646,#90d743,#84d44b,#95d840,#98d83e,#90d743,#8ed645,#90d743,#95d840,#95d840,#95d840,#8ed645,#8ed645,#9dd93b,#9bd93c,#93d741,#95d840,#95d840,#98d83e,#a5db36,#a2da37,#aadc32,#a8db34,#a2da37,#a5db36,#b5de2b,#aadc32,#a8db34,#b2dd2d,#b0dd2f,#addc30,#b5de2b,#aadc32,#b2dd2d,#addc30,#aadc32,#addc30,#b8de29,#b2dd2d,#aadc32,#aadc32,#b8de29,#bade28,#b0dd2f,#bddf26,#b5de2b,#addc30,#b0dd2f,#b8de29,#bddf26,#bade28,#b2dd2d,#b0dd2f,#aadc32,#b0dd2f)"></div><div class="b" style="left:801px;top:282px;width:558px;height:9px;background:linear-gradient(90deg,#a0da39,#9bd93c,#a2da37,#9bd93c,#a2da37,#9bd93c,#a8db34,#a8db34,#addc30,#a5db36,#a8db34,#a5db36,#a2da37,#a5db36,#a0da39,#a2da37,#a8db34,#a8db34,#a5db36,#b0dd2f,#a8db34,#a2da37,#a5db36,#a2da37,#a2da37,#a5db36,#b0dd2f,#a8db34,#a8db34,#aadc32,#b0dd2f,#a8db34,#a2da37,#b0dd2f,#a2da37,#a2da37,#a8db34,#b2dd2d,#a5db36,#9bd93c,#a8db34,#a5db36,#a5db36,#a8db34,#a8db34,#a8db34,#a5db36,#addc30,#b0dd2f,#a8db34,#a5db36,#a8db34,#a8db34,#a2da37,#a2da37,#aadc32,#a8db34,#a5db36,#a8db34,#a5db36,#a5db36,#9dd93b,#aadc32,#a8db34,#a0da39,#a8db34,#a8db34,#a5db36,#a8db34,#b0dd2f,#a8db34,#aadc32,#addc30,#9dd93b,#9bd93c,#9dd93b,#93d741,#93d741,#9bd93c,#98d83e,#95d840,#86d549,#95d840,#8ed645,#8ed645,#8bd646,#81d34d,#7fd34e,#81d34d,#8ed645,#86d549,#89d548,#89d548,#8ed645,#8ed645,#8ed645,#86d549,#7cd250,#89d548,#8ed645,#93d741,#8ed645,#89d548,#8ed645,#86d549,#86d549,#86d549,#8bd646,#95d840,#90d743,#93d741,#8ed645,#8ed645,#89d548,#8bd646,#81d34d,#84d44b,#84d44b,#8ed645,#8ed645,#93d741,#95d840,#8ed645,#90d743,#95d840,#8ed645,#93d741,#8ed645,#86d549,#8bd646,#89d548,#8ed645,#8bd646,#8ed645,#84d44b,#95d840,#95d840,#90d743,#8bd646,#90d743,#93d741,#95d840,#95d840,#8bd646,#8ed645,#9bd93c,#9bd93c,#93d741,#95d840,#95d840,#98d83e,#a5db36,#a2da37,#aadc32,#a8db34,#a2da37,#a5db36,#b5de2b,#aadc32,#a8db34,#b2dd2d,#b0dd2f,#addc30,#b8de29,#aadc32,#b2dd2d,#addc30,#aadc32,#addc30,#b8de29,#b2dd2d,#aadc32,#addc30,#b8de29,#bade28,#b0dd2f,#c0df25,#b5de2b,#addc30,#b2dd2d,#b8de29,#bddf26,#bade28,#b2dd2d,#b2dd2d,#addc30,#b2dd2d)"></div><div class="b" style="left:801px;top:291px;width:558px;height:9px;background:linear-gradient(90deg,#a0da39,#9bd93c,#a5db36,#9bd93c,#a2da37,#9bd93c,#a8db34,#a8db34,#addc30,#a8db34,#a8db34,#a5db36,#a2da37,#a8db34,#a2da37,#a5db36,#aadc32,#a8db34,#a5db36,#b2dd2d,#aadc32,#a5db36,#a8db34,#a5db36,#a5db36,#a5db36,#b0dd2f,#aadc32,#a8db34,#aadc32,#b2dd2d,#a8db34,#a2da37,#b2dd2d,#a2da37,#a2da37,#aadc32,#b2dd2d,#a5db36,#9bd93c,#a8db34,#a5db36,#a5db36,#a8db34,#a8db34,#aadc32,#a5db36,#addc30,#b0dd2f,#aadc32,#a5db36,#aadc32,#aadc32,#a2da37,#a2da37,#aadc32,#a8db34,#a5db36,#a8db34,#a8db34,#a8db34,#9dd93b,#addc30,#a8db34,#a2da37,#a8db34,#a8db34,#a5db36,#aadc32,#b0dd2f,#a8db34,#aadc32,#addc30,#9dd93b,#9bd93c,#a0da39,#93d741,#95d840,#9bd93c,#98d83e,#95d840,#86d549,#95d840,#8ed645,#8ed645,#8bd646,#81d34d,#7fd34e,#7fd34e,#8ed645,#86d549,#86d549,#89d548,#8bd646,#8ed645,#8ed645,#86d549,#7cd250,#89d548,#8ed645,#93d741,#8ed645,#89d548,#8ed645,#84d44b,#86d549,#86d549,#8bd646,#95d840,#90d743,#93d741,#8ed645,#8ed645,#89d548,#89d548,#81d34d,#84d44b,#84d44b,#8ed645,#90d743,#93d741,#95d840,#8ed645,#90d743,#95d840,#8ed645,#93d741,#8ed645,#86d549,#8bd646,#89d548,#8bd646,#8bd646,#8ed645,#84d44b,#95d840,#95d840,#90d743,#8bd646,#90d743,#95d840,#95d840,#95d840,#8bd646,#8ed645,#9bd93c,#9bd93c,#93d741,#95d840,#95d840,#98d83e,#a5db36,#a5db36,#aadc32,#aadc32,#a2da37,#a5db36,#b8de29,#addc30,#a8db34,#b2dd2d,#b0dd2f,#b0dd2f,#b8de29,#aadc32,#b2dd2d,#addc30,#aadc32,#addc30,#b8de29,#b5de2b,#aadc32,#addc30,#bade28,#bade28,#b0dd2f,#c0df25,#b5de2b,#b0dd2f,#b2dd2d,#b8de29,#bddf26,#bddf26,#b5de2b,#b2dd2d,#addc30,#b2dd2d)"></div><div class="b" style="left:801px;top:300px;width:558px;height:9px;background:linear-gradient(90deg,#a0da39,#9dd93b,#a5db36,#9bd93c,#a2da37,#9bd93c,#aadc32,#a8db34,#addc30,#a8db34,#aadc32,#a5db36,#a5db36,#a8db34,#a2da37,#a5db36,#aadc32,#a8db34,#a5db36,#b2dd2d,#aadc32,#a5db36,#a8db34,#a5db36,#a5db36,#a5db36,#b0dd2f,#aadc32,#a8db34,#aadc32,#b2dd2d,#a8db34,#a5db36,#b2dd2d,#a2da37,#a5db36,#aadc32,#b2dd2d,#a5db36,#9bd93c,#a8db34,#a5db36,#a5db36,#a8db34,#aadc32,#aadc32,#a5db36,#addc30,#b0dd2f,#aadc32,#a5db36,#aadc32,#aadc32,#a5db36,#a5db36,#aadc32,#a8db34,#a5db36,#a8db34,#a8db34,#a8db34,#9dd93b,#addc30,#a8db34,#a2da37,#aadc32,#a8db34,#a5db36,#aadc32,#b0dd2f,#a8db34,#addc30,#addc30,#9dd93b,#9bd93c,#a0da39,#93d741,#95d840,#9bd93c,#9bd93c,#95d840,#86d549,#95d840,#90d743,#8ed645,#8bd646,#81d34d,#7fd34e,#7fd34e,#90d743,#86d549,#89d548,#89d548,#8ed645,#8ed645,#8ed645,#86d549,#7cd250,#89d548,#8ed645,#93d741,#8ed645,#89d548,#8ed645,#86d549,#86d549,#86d549,#8bd646,#95d840,#90d743,#93d741,#8ed645,#8ed645,#8bd646,#89d548,#81d34d,#84d44b,#84d44b,#8ed645,#90d743,#93d741,#95d840,#8ed645,#90d743,#98d83e,#8ed645,#93d741,#8ed645,#86d549,#8bd646,#89d548,#8ed645,#8bd646,#8ed645,#86d549,#95d840,#98d83e,#90d743,#8bd646,#90d743,#95d840,#95d840,#95d840,#8bd646,#8ed645,#9bd93c,#9bd93c,#95d840,#98d83e,#95d840,#98d83e,#a5db36,#a5db36,#aadc32,#aadc32,#a2da37,#a5db36,#b8de29,#addc30,#aadc32,#b2dd2d,#b2dd2d,#b0dd2f,#b8de29,#aadc32,#b2dd2d,#addc30,#aadc32,#b0dd2f,#b8de29,#b5de2b,#aadc32,#addc30,#bade28,#bade28,#b2dd2d,#c0df25,#b5de2b,#b0dd2f,#b2dd2d,#b8de29,#bddf26,#bddf26,#b5de2b,#b2dd2d,#addc30,#b2dd2d)"></div><div class="b" style="left:801px;top:309px;width:558px;height:9px;background:linear-gradient(90deg,#a2da37,#9dd93b,#a8db34,#9dd93b,#a5db36,#9dd93b,#aadc32,#aadc32,#b0dd2f,#a8db34,#aadc32,#a8db34,#a5db36,#a8db34,#a2da37,#a5db36,#aadc32,#aadc32,#a8db34,#b2dd2d,#aadc32,#a5db36,#a8db34,#a5db36,#a5db36,#a5db36,#b2dd2d,#aadc32,#aadc32,#aadc32,#b2dd2d,#aadc32,#a5db36,#b2dd2d,#a2da37,#a5db36,#aadc32,#b2dd2d,#a8db34,#9dd93b,#a8db34,#a5db36,#a5db36,#aadc32,#aadc32,#aadc32,#a8db34,#addc30,#b0dd2f,#aadc32,#a8db34,#aadc32,#aadc32,#a5db36,#a5db36,#addc30,#a8db34,#a8db34,#a8db34,#a8db34,#a8db34,#9dd93b,#addc30,#aadc32,#a2da37,#aadc32,#a8db34,#a8db34,#aadc32,#b2dd2d,#aadc32,#addc30,#addc30,#9dd93b,#9bd93c,#a0da39,#93d741,#95d840,#9bd93c,#9bd93c,#95d840,#86d549,#95d840,#90d743,#8ed645,#8bd646,#81d34d,#81d34d,#81d34d,#90d743,#89d548,#89d548,#8bd646,#8ed645,#8ed645,#8ed645,#89d548,#7fd34e,#8bd646,#8ed645,#93d741,#8ed645,#8bd646,#8ed645,#86d549,#86d549,#86d549,#8bd646,#95d840,#93d741,#93d741,#90d743,#8ed645,#8bd646,#8bd646,#81d34d,#84d44b,#84d44b,#90d743,#90d743,#93d741,#98d83e,#8ed645,#93d741,#98d83e,#90d743,#93d741,#8ed645,#86d549,#8bd646,#8bd646,#8ed645,#8bd646,#90d743,#86d549,#98d83e,#98d83e,#90d743,#8bd646,#90d743,#95d840,#95d840,#95d840,#8ed645,#90d743,#9dd93b,#9bd93c,#95d840,#98d83e,#98d83e,#9bd93c,#a8db34,#a5db36,#addc30,#aadc32,#a5db36,#a8db34,#b8de29,#addc30,#aadc32,#b5de2b,#b2dd2d,#b0dd2f,#b8de29,#aadc32,#b5de2b,#b0dd2f,#addc30,#b0dd2f,#b8de29,#b5de2b,#addc30,#addc30,#bade28,#bddf26,#b2dd2d,#c0df25,#b8de29,#b0dd2f,#b2dd2d,#bade28,#c0df25,#bddf26,#b5de2b,#b2dd2d,#addc30,#b2dd2d)"></div><div class="b" style="left:801px;top:318px;width:558px;height:9px;background:linear-gradient(90deg,#a2da37,#a0da39,#a8db34,#9dd93b,#a5db36,#9dd93b,#aadc32,#aadc32,#b0dd2f,#a8db34,#aadc32,#a8db34,#a5db36,#a8db34,#a2da37,#a5db36,#aadc32,#aadc32,#a8db34,#b2dd2d,#aadc32,#a5db36,#a8db34,#a5db36,#a5db36,#a5db36,#b2dd2d,#aadc32,#aadc32,#addc30,#b2dd2d,#aadc32,#a5db36,#b2dd2d,#a5db36,#a5db36,#aadc32,#b5de2b,#a8db34,#9dd93b,#a8db34,#a5db36,#a8db34,#aadc32,#aadc32,#aadc32,#a8db34,#b0dd2f,#b2dd2d,#aadc32,#a8db34,#aadc32,#aadc32,#a5db36,#a5db36,#addc30,#aadc32,#a8db34,#aadc32,#a8db34,#a8db34,#a0da39,#addc30,#aadc32,#a2da37,#aadc32,#aadc32,#a8db34,#aadc32,#b2dd2d,#aadc32,#addc30,#b0dd2f,#a0da39,#9dd93b,#a2da37,#95d840,#95d840,#9dd93b,#9bd93c,#95d840,#89d548,#98d83e,#93d741,#90d743,#8ed645,#84d44b,#81d34d,#81d34d,#93d741,#89d548,#89d548,#8ed645,#90d743,#90d743,#90d743,#89d548,#7fd34e,#8bd646,#8ed645,#93d741,#90d743,#8bd646,#90d743,#86d549,#89d548,#89d548,#8ed645,#98d83e,#93d741,#95d840,#90d743,#90d743,#8ed645,#8bd646,#84d44b,#86d549,#86d549,#90d743,#93d741,#93d741,#98d83e,#90d743,#93d741,#9bd93c,#90d743,#93d741,#8ed645,#89d548,#8ed645,#8bd646,#90d743,#8ed645,#90d743,#89d548,#9bd93c,#9bd93c,#93d741,#8ed645,#93d741,#98d83e,#98d83e,#98d83e,#8ed645,#90d743,#9dd93b,#9dd93b,#95d840,#98d83e,#98d83e,#9bd93c,#a8db34,#a8db34,#addc30,#aadc32,#a5db36,#a8db34,#b8de29,#addc30,#aadc32,#b5de2b,#b2dd2d,#b2dd2d,#bade28,#addc30,#b5de2b,#b0dd2f,#addc30,#b0dd2f,#bade28,#b5de2b,#addc30,#addc30,#bade28,#bddf26,#b2dd2d,#c2df23,#b8de29,#b0dd2f,#b5de2b,#bade28,#c0df25,#bddf26,#b5de2b,#b5de2b,#b0dd2f,#b5de2b)"></div><div class="b" style="left:801px;top:327px;width:558px;height:9px;background:linear-gradient(90deg,#a2da37,#a0da39,#a8db34,#9dd93b,#a5db36,#9dd93b,#aadc32,#aadc32,#b0dd2f,#a8db34,#aadc32,#a8db34,#a5db36,#aadc32,#a5db36,#a5db36,#addc30,#aadc32,#a8db34,#b2dd2d,#addc30,#a8db34,#aadc32,#a8db34,#a8db34,#a8db34,#b2dd2d,#aadc32,#aadc32,#addc30,#b5de2b,#aadc32,#a8db34,#b5de2b,#a5db36,#a8db34,#addc30,#b5de2b,#a8db34,#9dd93b,#aadc32,#a8db34,#a8db34,#aadc32,#aadc32,#aadc32,#a8db34,#b0dd2f,#b2dd2d,#aadc32,#a8db34,#addc30,#addc30,#a5db36,#a5db36,#addc30,#aadc32,#a8db34,#aadc32,#aadc32,#aadc32,#a0da39,#b0dd2f,#aadc32,#a5db36,#aadc32,#aadc32,#a8db34,#addc30,#b2dd2d,#aadc32,#b0dd2f,#b0dd2f,#a0da39,#9dd93b,#a2da37,#95d840,#98d83e,#9dd93b,#9dd93b,#98d83e,#8bd646,#9bd93c,#93d741,#93d741,#8ed645,#84d44b,#84d44b,#84d44b,#95d840,#8bd646,#8bd646,#90d743,#90d743,#93d741,#93d741,#8bd646,#81d34d,#8ed645,#90d743,#95d840,#90d743,#8ed645,#93d741,#89d548,#8bd646,#89d548,#90d743,#9bd93c,#95d840,#98d83e,#93d741,#93d741,#8ed645,#8ed645,#86d549,#89d548,#86d549,#93d741,#95d840,#95d840,#9bd93c,#93d741,#95d840,#9bd93c,#93d741,#95d840,#90d743,#8bd646,#90d743,#8ed645,#93d741,#90d743,#93d741,#8bd646,#9bd93c,#9dd93b,#93d741,#90d743,#93d741,#9bd93c,#9bd93c,#9bd93c,#90d743,#93d741,#a0da39,#a0da39,#98d83e,#9bd93c,#9bd93c,#9dd93b,#aadc32,#a8db34,#addc30,#addc30,#a5db36,#a8db34,#bade28,#b0dd2f,#aadc32,#b5de2b,#b5de2b,#b2dd2d,#bade28,#addc30,#b5de2b,#b0dd2f,#addc30,#b0dd2f,#bade28,#b8de29,#addc30,#b0dd2f,#bddf26,#bddf26,#b2dd2d,#c2df23,#b8de29,#b2dd2d,#b5de2b,#bade28,#c0df25,#bddf26,#b8de29,#b5de2b,#b0dd2f,#b5de2b)"></div><div class="b" style="left:801px;top:336px;width:558px;height:9px;background:linear-gradient(90deg,#a2da37,#a2da37,#aadc32,#a0da39,#a5db36,#9dd93b,#addc30,#aadc32,#b0dd2f,#aadc32,#addc30,#a8db34,#a8db34,#aadc32,#a5db36,#a8db34,#addc30,#aadc32,#a8db34,#b5de2b,#addc30,#a8db34,#aadc32,#a8db34,#a8db34,#a8db34,#b2dd2d,#addc30,#aadc32,#addc30,#b5de2b,#addc30,#a8db34,#b5de2b,#a5db36,#a8db34,#addc30,#b5de2b,#a8db34,#9dd93b,#aadc32,#a8db34,#a8db34,#aadc32,#aadc32,#addc30,#a8db34,#b0dd2f,#b2dd2d,#addc30,#a8db34,#addc30,#addc30,#a8db34,#a8db34,#addc30,#aadc32,#a8db34,#aadc32,#aadc32,#aadc32,#a0da39,#b0dd2f,#aadc32,#a5db36,#addc30,#aadc32,#a8db34,#addc30,#b2dd2d,#addc30,#b0dd2f,#b0dd2f,#a2da37,#a0da39,#a5db36,#98d83e,#98d83e,#a0da39,#a0da39,#9bd93c,#8bd646,#9bd93c,#95d840,#95d840,#90d743,#86d549,#86d549,#84d44b,#98d83e,#8ed645,#8ed645,#93d741,#93d741,#95d840,#95d840,#8ed645,#84d44b,#90d743,#93d741,#98d83e,#93d741,#90d743,#95d840,#8bd646,#8ed645,#8bd646,#93d741,#9dd93b,#98d83e,#9bd93c,#95d840,#95d840,#90d743,#90d743,#89d548,#8bd646,#89d548,#95d840,#98d83e,#98d83e,#9dd93b,#95d840,#98d83e,#9dd93b,#95d840,#98d83e,#93d741,#8ed645,#93d741,#90d743,#93d741,#93d741,#95d840,#8ed645,#9dd93b,#a0da39,#95d840,#90d743,#95d840,#9dd93b,#9bd93c,#9bd93c,#90d743,#95d840,#a0da39,#a0da39,#9bd93c,#9dd93b,#9bd93c,#9dd93b,#aadc32,#aadc32,#b0dd2f,#addc30,#a8db34,#aadc32,#bade28,#b0dd2f,#addc30,#b8de29,#b5de2b,#b2dd2d,#bade28,#addc30,#b5de2b,#b0dd2f,#addc30,#b0dd2f,#bade28,#b8de29,#addc30,#b0dd2f,#bddf26,#bddf26,#b5de2b,#c2df23,#b8de29,#b2dd2d,#b5de2b,#bade28,#c0df25,#c0df25,#b8de29,#b5de2b,#b0dd2f,#b5de2b)"></div><div class="b" style="left:801px;top:345px;width:558px;height:9px;background:linear-gradient(90deg,#a5db36,#a2da37,#aadc32,#a0da39,#a8db34,#a0da39,#addc30,#addc30,#b2dd2d,#aadc32,#addc30,#aadc32,#a8db34,#aadc32,#a5db36,#a8db34,#addc30,#aadc32,#aadc32,#b5de2b,#addc30,#a8db34,#aadc32,#a8db34,#a8db34,#a8db34,#b5de2b,#addc30,#addc30,#addc30,#b5de2b,#addc30,#a8db34,#b5de2b,#a8db34,#a8db34,#addc30,#b5de2b,#aadc32,#a0da39,#aadc32,#a8db34,#a8db34,#addc30,#addc30,#addc30,#a8db34,#b0dd2f,#b2dd2d,#addc30,#aadc32,#addc30,#addc30,#a8db34,#a8db34,#b0dd2f,#aadc32,#aadc32,#aadc32,#aadc32,#aadc32,#a0da39,#b0dd2f,#addc30,#a5db36,#addc30,#addc30,#aadc32,#addc30,#b5de2b,#addc30,#b0dd2f,#b2dd2d,#a2da37,#a0da39,#a5db36,#98d83e,#9bd93c,#a2da37,#a2da37,#9dd93b,#8ed645,#9dd93b,#98d83e,#98d83e,#93d741,#89d548,#89d548,#86d549,#9bd93c,#90d743,#90d743,#95d840,#95d840,#98d83e,#98d83e,#90d743,#86d549,#93d741,#95d840,#9bd93c,#95d840,#93d741,#98d83e,#8ed645,#90d743,#8ed645,#95d840,#a0da39,#9bd93c,#9dd93b,#98d83e,#98d83e,#95d840,#93d741,#8bd646,#8ed645,#8bd646,#98d83e,#9bd93c,#9bd93c,#a0da39,#98d83e,#9bd93c,#a2da37,#98d83e,#9bd93c,#95d840,#90d743,#95d840,#93d741,#98d83e,#95d840,#98d83e,#90d743,#a2da37,#a2da37,#98d83e,#93d741,#98d83e,#a0da39,#9dd93b,#9dd93b,#93d741,#98d83e,#a2da37,#a2da37,#9dd93b,#a0da39,#9dd93b,#a0da39,#addc30,#aadc32,#b0dd2f,#b0dd2f,#a8db34,#aadc32,#bddf26,#b0dd2f,#addc30,#b8de29,#b5de2b,#b5de2b,#bddf26,#addc30,#b8de29,#b2dd2d,#b0dd2f,#b2dd2d,#bade28,#b8de29,#b0dd2f,#b0dd2f,#bddf26,#bddf26,#b5de2b,#c2df23,#bade28,#b2dd2d,#b5de2b,#bddf26,#c2df23,#c0df25,#b8de29,#b5de2b,#b0dd2f,#b5de2b)"></div><div class="b" style="left:801px;top:354px;width:558px;height:9px;background:linear-gradient(90deg,#a5db36,#a5db36,#addc30,#a0da39,#a8db34,#a0da39,#addc30,#addc30,#b2dd2d,#aadc32,#addc30,#aadc32,#a8db34,#aadc32,#a5db36,#a8db34,#addc30,#addc30,#aadc32,#b5de2b,#addc30,#aadc32,#aadc32,#a8db34,#a8db34,#a8db34,#b5de2b,#addc30,#addc30,#b0dd2f,#b5de2b,#addc30,#a8db34,#b8de29,#a8db34,#a8db34,#addc30,#b8de29,#aadc32,#a0da39,#aadc32,#a8db34,#a8db34,#addc30,#addc30,#addc30,#aadc32,#b2dd2d,#b2dd2d,#addc30,#aadc32,#addc30,#addc30,#a8db34,#a8db34,#b0dd2f,#aadc32,#aadc32,#addc30,#aadc32,#aadc32,#a2da37,#b0dd2f,#addc30,#a8db34,#addc30,#addc30,#aadc32,#b0dd2f,#b5de2b,#addc30,#b2dd2d,#b2dd2d,#a5db36,#a2da37,#a8db34,#9bd93c,#9dd93b,#a5db36,#a2da37,#9dd93b,#90d743,#a0da39,#9bd93c,#9bd93c,#95d840,#8bd646,#8bd646,#89d548,#9dd93b,#93d741,#93d741,#98d83e,#9bd93c,#9bd93c,#9bd93c,#93d741,#8bd646,#95d840,#98d83e,#9dd93b,#98d83e,#95d840,#9bd93c,#90d743,#93d741,#93d741,#98d83e,#a2da37,#9dd93b,#a2da37,#9bd93c,#9bd93c,#98d83e,#95d840,#8ed645,#90d743,#8ed645,#9bd93c,#9dd93b,#9dd93b,#a5db36,#9bd93c,#9dd93b,#a5db36,#9bd93c,#9dd93b,#98d83e,#93d741,#98d83e,#95d840,#9bd93c,#98d83e,#9bd93c,#93d741,#a5db36,#a5db36,#9bd93c,#98d83e,#9bd93c,#a2da37,#a0da39,#a0da39,#95d840,#98d83e,#a5db36,#a5db36,#9dd93b,#a0da39,#a0da39,#a2da37,#addc30,#addc30,#b2dd2d,#b0dd2f,#aadc32,#addc30,#bddf26,#b2dd2d,#addc30,#b8de29,#b8de29,#b5de2b,#bddf26,#b0dd2f,#b8de29,#b2dd2d,#b0dd2f,#b2dd2d,#bddf26,#b8de29,#b0dd2f,#b0dd2f,#bddf26,#c0df25,#b5de2b,#c2df23,#bade28,#b2dd2d,#b5de2b,#bddf26,#c2df23,#c0df25,#b8de29,#b5de2b,#b0dd2f,#b8de29)"></div><div class="b" style="left:801px;top:363px;width:558px;height:9px;background:linear-gradient(90deg,#a5db36,#a5db36,#addc30,#a2da37,#a8db34,#a0da39,#addc30,#addc30,#b2dd2d,#aadc32,#addc30,#aadc32,#a8db34,#aadc32,#a5db36,#a8db34,#addc30,#addc30,#aadc32,#b5de2b,#b0dd2f,#aadc32,#addc30,#aadc32,#aadc32,#aadc32,#b5de2b,#addc30,#addc30,#b0dd2f,#b8de29,#addc30,#aadc32,#b8de29,#a8db34,#aadc32,#b0dd2f,#b8de29,#aadc32,#a0da39,#addc30,#aadc32,#aadc32,#addc30,#addc30,#addc30,#aadc32,#b2dd2d,#b5de2b,#addc30,#aadc32,#b0dd2f,#b0dd2f,#a8db34,#a8db34,#b0dd2f,#addc30,#aadc32,#addc30,#addc30,#addc30,#a2da37,#b2dd2d,#addc30,#a8db34,#b0dd2f,#addc30,#aadc32,#b0dd2f,#b5de2b,#b0dd2f,#b2dd2d,#b5de2b,#a5db36,#a2da37,#a8db34,#9dd93b,#9dd93b,#a5db36,#a5db36,#a0da39,#93d741,#a2da37,#9dd93b,#9dd93b,#98d83e,#8ed645,#8ed645,#8ed645,#a0da39,#95d840,#95d840,#9bd93c,#9dd93b,#9dd93b,#9dd93b,#98d83e,#8ed645,#98d83e,#9bd93c,#a0da39,#9dd93b,#98d83e,#9dd93b,#95d840,#95d840,#95d840,#9bd93c,#a5db36,#a2da37,#a5db36,#9dd93b,#9dd93b,#9bd93c,#98d83e,#90d743,#93d741,#90d743,#a0da39,#a0da39,#a2da37,#a8db34,#9dd93b,#a0da39,#a8db34,#9dd93b,#a0da39,#9bd93c,#95d840,#9bd93c,#9bd93c,#9dd93b,#9bd93c,#9dd93b,#95d840,#a8db34,#a8db34,#9dd93b,#9bd93c,#9dd93b,#a5db36,#a2da37,#a2da37,#98d83e,#9bd93c,#a8db34,#a8db34,#a0da39,#a2da37,#a0da39,#a2da37,#b0dd2f,#addc30,#b5de2b,#b2dd2d,#aadc32,#addc30,#bddf26,#b2dd2d,#b0dd2f,#bade28,#b8de29,#b8de29,#bddf26,#b0dd2f,#b8de29,#b2dd2d,#b0dd2f,#b2dd2d,#bddf26,#bade28,#b0dd2f,#b2dd2d,#c0df25,#c0df25,#b5de2b,#c5e021,#bade28,#b2dd2d,#b8de29,#bddf26,#c2df23,#c0df25,#b8de29,#b8de29,#b2dd2d,#b8de29)"></div><div class="b" style="left:801px;top:372px;width:558px;height:9px;background:linear-gradient(90deg,#a8db34,#a5db36,#addc30,#a2da37,#a8db34,#a0da39,#b0dd2f,#addc30,#b2dd2d,#aadc32,#addc30,#aadc32,#a8db34,#addc30,#a8db34,#a8db34,#b0dd2f,#addc30,#aadc32,#b8de29,#b0dd2f,#aadc32,#addc30,#aadc32,#aadc32,#aadc32,#b5de2b,#b0dd2f,#addc30,#b0dd2f,#b8de29,#addc30,#aadc32,#b8de29,#a8db34,#aadc32,#b0dd2f,#b8de29,#aadc32,#a0da39,#addc30,#aadc32,#aadc32,#addc30,#addc30,#addc30,#aadc32,#b2dd2d,#b5de2b,#b0dd2f,#aadc32,#b0dd2f,#b0dd2f,#a8db34,#a8db34,#b0dd2f,#addc30,#aadc32,#addc30,#addc30,#addc30,#a2da37,#b2dd2d,#addc30,#a8db34,#b0dd2f,#addc30,#addc30,#b0dd2f,#b8de29,#b0dd2f,#b2dd2d,#b5de2b,#a5db36,#a5db36,#aadc32,#9dd93b,#a0da39,#a8db34,#a8db34,#a2da37,#95d840,#a5db36,#a0da39,#a0da39,#9bd93c,#90d743,#90d743,#90d743,#a2da37,#98d83e,#9bd93c,#9dd93b,#a0da39,#a0da39,#a0da39,#9bd93c,#90d743,#9bd93c,#9dd93b,#a5db36,#a0da39,#9bd93c,#a0da39,#98d83e,#98d83e,#98d83e,#9dd93b,#a8db34,#a5db36,#a8db34,#a0da39,#a0da39,#9dd93b,#9bd93c,#93d741,#95d840,#95d840,#a2da37,#a2da37,#a5db36,#aadc32,#a0da39,#a2da37,#aadc32,#a2da37,#a2da37,#9dd93b,#98d83e,#9dd93b,#9dd93b,#a0da39,#9dd93b,#a0da39,#98d83e,#aadc32,#aadc32,#a0da39,#9dd93b,#a0da39,#a8db34,#a5db36,#a5db36,#9bd93c,#9dd93b,#aadc32,#aadc32,#a2da37,#a5db36,#a2da37,#a5db36,#b2dd2d,#b0dd2f,#b5de2b,#b2dd2d,#addc30,#addc30,#c0df25,#b2dd2d,#b0dd2f,#bade28,#b8de29,#b8de29,#bddf26,#b0dd2f,#b8de29,#b2dd2d,#b0dd2f,#b2dd2d,#bddf26,#bade28,#b0dd2f,#b2dd2d,#c0df25,#c0df25,#b5de2b,#c5e021,#bade28,#b5de2b,#b8de29,#bddf26,#c2df23,#c0df25,#bade28,#b8de29,#b2dd2d,#b8de29)"></div><div class="b" style="left:801px;top:381px;width:558px;height:9px;background:linear-gradient(90deg,#a8db34,#a5db36,#addc30,#a2da37,#aadc32,#a0da39,#b0dd2f,#addc30,#b2dd2d,#addc30,#b0dd2f,#aadc32,#a8db34,#addc30,#a8db34,#aadc32,#b0dd2f,#addc30,#aadc32,#b8de29,#b0dd2f,#aadc32,#addc30,#aadc32,#aadc32,#aadc32,#b5de2b,#b0dd2f,#addc30,#b0dd2f,#b8de29,#b0dd2f,#aadc32,#b8de29,#a8db34,#aadc32,#b0dd2f,#b8de29,#aadc32,#a0da39,#addc30,#aadc32,#aadc32,#addc30,#addc30,#b0dd2f,#aadc32,#b2dd2d,#b5de2b,#b0dd2f,#aadc32,#b0dd2f,#b0dd2f,#a8db34,#aadc32,#b0dd2f,#addc30,#aadc32,#addc30,#addc30,#addc30,#a2da37,#b2dd2d,#b0dd2f,#a8db34,#b0dd2f,#b0dd2f,#addc30,#b0dd2f,#b8de29,#b0dd2f,#b5de2b,#b5de2b,#a8db34,#a5db36,#aadc32,#a0da39,#a2da37,#aadc32,#aadc32,#a5db36,#98d83e,#a8db34,#a2da37,#a0da39,#9dd93b,#93d741,#93d741,#93d741,#a5db36,#9bd93c,#9dd93b,#a0da39,#a2da37,#a2da37,#a2da37,#9dd93b,#93d741,#9dd93b,#a0da39,#a8db34,#a2da37,#9dd93b,#a2da37,#9bd93c,#9bd93c,#9bd93c,#a0da39,#aadc32,#a8db34,#aadc32,#a2da37,#a2da37,#a0da39,#9dd93b,#95d840,#98d83e,#98d83e,#a5db36,#a5db36,#a8db34,#addc30,#a2da37,#a5db36,#addc30,#a5db36,#a5db36,#a0da39,#9bd93c,#a0da39,#a0da39,#a2da37,#a0da39,#a2da37,#9bd93c,#addc30,#addc30,#a2da37,#a0da39,#a2da37,#aadc32,#a8db34,#a8db34,#9dd93b,#a0da39,#addc30,#aadc32,#a5db36,#a5db36,#a5db36,#a5db36,#b2dd2d,#b0dd2f,#b8de29,#b2dd2d,#addc30,#b0dd2f,#c0df25,#b5de2b,#b0dd2f,#bade28,#b8de29,#b8de29,#c0df25,#b2dd2d,#b8de29,#b2dd2d,#b0dd2f,#b2dd2d,#bddf26,#bade28,#b0dd2f,#b2dd2d,#c0df25,#c0df25,#b5de2b,#c5e021,#bade28,#b5de2b,#b8de29,#bddf26,#c2df23,#c2df23,#bade28,#b8de29,#b2dd2d,#b8de29)"></div><div class="b" style="left:801px;top:390px;width:558px;height:9px;background:linear-gradient(90deg,#a8db34,#a5db36,#addc30,#a2da37,#aadc32,#a2da37,#b0dd2f,#b0dd2f,#b5de2b,#addc30,#b0dd2f,#addc30,#aadc32,#addc30,#a8db34,#aadc32,#b0dd2f,#addc30,#aadc32,#b8de29,#b0dd2f,#aadc32,#addc30,#aadc32,#aadc32,#aadc32,#b5de2b,#b0dd2f,#b0dd2f,#b0dd2f,#b8de29,#b0dd2f,#aadc32,#b8de29,#aadc32,#aadc32,#b0dd2f,#b8de29,#aadc32,#a0da39,#addc30,#aadc32,#aadc32,#addc30,#addc30,#b0dd2f,#aadc32,#b2dd2d,#b5de2b,#b0dd2f,#aadc32,#b0dd2f,#b0dd2f,#aadc32,#aadc32,#b2dd2d,#addc30,#aadc32,#addc30,#addc30,#addc30,#a2da37,#b2dd2d,#b0dd2f,#a8db34,#b0dd2f,#b0dd2f,#addc30,#b2dd2d,#b8de29,#b2dd2d,#b5de2b,#b8de29,#a8db34,#a8db34,#addc30,#a0da39,#a2da37,#aadc32,#aadc32,#a8db34,#98d83e,#aadc32,#a5db36,#a2da37,#a0da39,#95d840,#95d840,#95d840,#a8db34,#9dd93b,#9dd93b,#a2da37,#a5db36,#a5db36,#a5db36,#a0da39,#95d840,#a0da39,#a2da37,#aadc32,#a5db36,#a0da39,#a5db36,#9dd93b,#9dd93b,#9dd93b,#a2da37,#addc30,#aadc32,#addc30,#a5db36,#a5db36,#a2da37,#a0da39,#98d83e,#9bd93c,#9bd93c,#a8db34,#a8db34,#aadc32,#b0dd2f,#a5db36,#a8db34,#b0dd2f,#a8db34,#a8db34,#a2da37,#9dd93b,#a2da37,#a0da39,#a5db36,#a2da37,#a5db36,#9dd93b,#b0dd2f,#b0dd2f,#a5db36,#a2da37,#a5db36,#aadc32,#aadc32,#aadc32,#a0da39,#a2da37,#addc30,#addc30,#a5db36,#a8db34,#a5db36,#a8db34,#b5de2b,#b2dd2d,#b8de29,#b5de2b,#addc30,#b0dd2f,#c0df25,#b5de2b,#b2dd2d,#bddf26,#bade28,#b8de29,#c0df25,#b2dd2d,#bade28,#b5de2b,#b2dd2d,#b5de2b,#bddf26,#bade28,#b2dd2d,#b2dd2d,#c0df25,#c0df25,#b8de29,#c5e021,#bade28,#b5de2b,#b8de29,#c0df25,#c2df23,#c2df23,#bade28,#b8de29,#b2dd2d,#b8de29)"></div><div class="b" style="left:801px;top:399px;width:558px;height:9px;background:linear-gradient(90deg,#a8db34,#a8db34,#b0dd2f,#a2da37,#aadc32,#a2da37,#b0dd2f,#b0dd2f,#b5de2b,#addc30,#b0dd2f,#addc30,#aadc32,#addc30,#a8db34,#aadc32,#b0dd2f,#addc30,#addc30,#b8de29,#b0dd2f,#aadc32,#addc30,#aadc32,#aadc32,#aadc32,#b8de29,#b0dd2f,#b0dd2f,#b2dd2d,#b8de29,#b0dd2f,#aadc32,#b8de29,#aadc32,#aadc32,#b0dd2f,#b8de29,#addc30,#a2da37,#addc30,#aadc32,#aadc32,#b0dd2f,#b0dd2f,#b0dd2f,#addc30,#b2dd2d,#b5de2b,#b0dd2f,#addc30,#b0dd2f,#b0dd2f,#aadc32,#aadc32,#b2dd2d,#addc30,#addc30,#addc30,#addc30,#addc30,#a5db36,#b2dd2d,#b0dd2f,#aadc32,#b0dd2f,#b0dd2f,#addc30,#b2dd2d,#b8de29,#b2dd2d,#b5de2b,#b8de29,#aadc32,#a8db34,#addc30,#a2da37,#a5db36,#addc30,#addc30,#a8db34,#9bd93c,#aadc32,#a5db36,#a5db36,#a2da37,#98d83e,#98d83e,#95d840,#a8db34,#a0da39,#a0da39,#a5db36,#a8db34,#a8db34,#a8db34,#a0da39,#95d840,#a2da37,#a5db36,#aadc32,#a8db34,#a2da37,#a8db34,#a0da39,#a0da39,#a0da39,#a5db36,#b0dd2f,#addc30,#addc30,#a8db34,#a8db34,#a5db36,#a2da37,#9bd93c,#9dd93b,#9dd93b,#a8db34,#aadc32,#addc30,#b0dd2f,#a8db34,#aadc32,#b2dd2d,#a8db34,#aadc32,#a5db36,#a0da39,#a5db36,#a2da37,#a8db34,#a5db36,#a8db34,#a0da39,#b0dd2f,#b0dd2f,#a8db34,#a2da37,#a8db34,#addc30,#addc30,#addc30,#a2da37,#a5db36,#b0dd2f,#b0dd2f,#a8db34,#aadc32,#a8db34,#aadc32,#b5de2b,#b2dd2d,#b8de29,#b5de2b,#b0dd2f,#b0dd2f,#c0df25,#b5de2b,#b2dd2d,#bddf26,#bade28,#b8de29,#c0df25,#b2dd2d,#bade28,#b5de2b,#b2dd2d,#b5de2b,#c0df25,#bade28,#b2dd2d,#b2dd2d,#c0df25,#c2df23,#b8de29,#c5e021,#bddf26,#b5de2b,#b8de29,#c0df25,#c5e021,#c2df23,#bade28,#b8de29,#b2dd2d,#b8de29)"></div><div class="b" style="left:801px;top:408px;width:558px;height:9px;background:linear-gradient(90deg,#a8db34,#a8db34,#b0dd2f,#a2da37,#aadc32,#a2da37,#b0dd2f,#b0dd2f,#b5de2b,#addc30,#b0dd2f,#addc30,#aadc32,#addc30,#a8db34,#aadc32,#b0dd2f,#b0dd2f,#addc30,#b8de29,#b0dd2f,#addc30,#addc30,#aadc32,#aadc32,#aadc32,#b8de29,#b0dd2f,#b0dd2f,#b2dd2d,#b8de29,#b0dd2f,#aadc32,#bade28,#aadc32,#aadc32,#b0dd2f,#bade28,#addc30,#a2da37,#addc30,#aadc32,#aadc32,#b0dd2f,#b0dd2f,#b0dd2f,#addc30,#b5de2b,#b5de2b,#b0dd2f,#addc30,#b0dd2f,#b0dd2f,#aadc32,#aadc32,#b2dd2d,#b0dd2f,#addc30,#b0dd2f,#addc30,#addc30,#a5db36,#b5de2b,#b0dd2f,#aadc32,#b2dd2d,#b0dd2f,#addc30,#b2dd2d,#bade28,#b2dd2d,#b5de2b,#b8de29,#aadc32,#a8db34,#addc30,#a2da37,#a5db36,#addc30,#addc30,#aadc32,#9dd93b,#addc30,#a8db34,#a8db34,#a5db36,#9bd93c,#98d83e,#98d83e,#aadc32,#a2da37,#a2da37,#a5db36,#a8db34,#aadc32,#aadc32,#a2da37,#98d83e,#a5db36,#a8db34,#addc30,#a8db34,#a5db36,#aadc32,#a0da39,#a2da37,#a2da37,#a8db34,#b2dd2d,#addc30,#b0dd2f,#aadc32,#aadc32,#a8db34,#a5db36,#9dd93b,#a0da39,#9dd93b,#aadc32,#addc30,#addc30,#b2dd2d,#aadc32,#addc30,#b2dd2d,#aadc32,#addc30,#a8db34,#a2da37,#a8db34,#a5db36,#a8db34,#a8db34,#aadc32,#a0da39,#b2dd2d,#b2dd2d,#aadc32,#a5db36,#aadc32,#b0dd2f,#b0dd2f,#b0dd2f,#a2da37,#a5db36,#b2dd2d,#b0dd2f,#a8db34,#aadc32,#a8db34,#aadc32,#b8de29,#b5de2b,#bade28,#b8de29,#b0dd2f,#b2dd2d,#c2df23,#b5de2b,#b2dd2d,#bddf26,#bade28,#bade28,#c0df25,#b2dd2d,#bade28,#b5de2b,#b2dd2d,#b5de2b,#c0df25,#bade28,#b2dd2d,#b2dd2d,#c0df25,#c2df23,#b8de29,#c5e021,#bddf26,#b5de2b,#bade28,#c0df25,#c5e021,#c2df23,#bade28,#b8de29,#b2dd2d,#bade28)"></div><div class="b" style="left:801px;top:417px;width:558px;height:9px;background:linear-gradient(90deg,#a8db34,#a8db34,#b0dd2f,#a2da37,#aadc32,#a2da37,#b0dd2f,#b0dd2f,#b5de2b,#addc30,#b0dd2f,#addc30,#aadc32,#addc30,#a8db34,#aadc32,#b0dd2f,#b0dd2f,#addc30,#b8de29,#b2dd2d,#addc30,#b0dd2f,#addc30,#addc30,#addc30,#b8de29,#b0dd2f,#b0dd2f,#b2dd2d,#bade28,#b0dd2f,#addc30,#bade28,#aadc32,#addc30,#b0dd2f,#bade28,#addc30,#a2da37,#b0dd2f,#addc30,#addc30,#b0dd2f,#b0dd2f,#b0dd2f,#addc30,#b5de2b,#b8de29,#b0dd2f,#addc30,#b2dd2d,#b2dd2d,#aadc32,#aadc32,#b2dd2d,#b0dd2f,#addc30,#b0dd2f,#b0dd2f,#b0dd2f,#a5db36,#b5de2b,#b0dd2f,#aadc32,#b2dd2d,#b0dd2f,#b0dd2f,#b2dd2d,#bade28,#b2dd2d,#b8de29,#bade28,#aadc32,#aadc32,#b0dd2f,#a2da37,#a8db34,#b0dd2f,#b0dd2f,#aadc32,#9dd93b,#addc30,#a8db34,#a8db34,#a5db36,#9bd93c,#9bd93c,#9bd93c,#addc30,#a2da37,#a5db36,#a8db34,#aadc32,#aadc32,#aadc32,#a5db36,#9bd93c,#a8db34,#aadc32,#b0dd2f,#aadc32,#a8db34,#aadc32,#a2da37,#a2da37,#a2da37,#aadc32,#b5de2b,#b0dd2f,#b2dd2d,#addc30,#addc30,#a8db34,#a8db34,#a0da39,#a2da37,#a0da39,#addc30,#b0dd2f,#b0dd2f,#b5de2b,#aadc32,#b0dd2f,#b5de2b,#addc30,#b0dd2f,#aadc32,#a2da37,#a8db34,#a8db34,#aadc32,#a8db34,#aadc32,#a2da37,#b5de2b,#b5de2b,#addc30,#a8db34,#aadc32,#b0dd2f,#b0dd2f,#b0dd2f,#a5db36,#a8db34,#b2dd2d,#b2dd2d,#aadc32,#addc30,#aadc32,#aadc32,#b8de29,#b5de2b,#bade28,#b8de29,#b0dd2f,#b2dd2d,#c2df23,#b8de29,#b2dd2d,#bddf26,#bade28,#bade28,#c0df25,#b2dd2d,#bade28,#b5de2b,#b2dd2d,#b5de2b,#c0df25,#bddf26,#b2dd2d,#b5de2b,#c0df25,#c2df23,#b8de29,#c8e020,#bddf26,#b5de2b,#bade28,#c0df25,#c5e021,#c2df23,#bade28,#bade28,#b5de2b,#bade28)"></div><div class="b" style="left:801px;top:426px;width:558px;height:9px;background:linear-gradient(90deg,#a8db34,#a8db34,#b0dd2f,#a5db36,#aadc32,#a2da37,#b0dd2f,#b0dd2f,#b5de2b,#addc30,#b0dd2f,#addc30,#aadc32,#b0dd2f,#a8db34,#aadc32,#b2dd2d,#b0dd2f,#addc30,#b8de29,#b2dd2d,#addc30,#b0dd2f,#addc30,#addc30,#addc30,#b8de29,#b0dd2f,#b0dd2f,#b2dd2d,#bade28,#b0dd2f,#addc30,#bade28,#aadc32,#addc30,#b2dd2d,#bade28,#addc30,#a2da37,#b0dd2f,#addc30,#addc30,#b0dd2f,#b0dd2f,#b0dd2f,#addc30,#b5de2b,#b8de29,#b0dd2f,#addc30,#b2dd2d,#b2dd2d,#aadc32,#aadc32,#b2dd2d,#b0dd2f,#addc30,#b0dd2f,#b0dd2f,#b0dd2f,#a5db36,#b5de2b,#b0dd2f,#aadc32,#b2dd2d,#b2dd2d,#b0dd2f,#b5de2b,#bade28,#b5de2b,#b8de29,#bade28,#aadc32,#aadc32,#b0dd2f,#a5db36,#a8db34,#b0dd2f,#b0dd2f,#addc30,#a0da39,#b0dd2f,#aadc32,#aadc32,#a8db34,#9dd93b,#9bd93c,#9dd93b,#addc30,#a5db36,#a5db36,#a8db34,#addc30,#addc30,#addc30,#a5db36,#9bd93c,#a8db34,#aadc32,#b2dd2d,#addc30,#a8db34,#addc30,#a5db36,#a5db36,#a5db36,#aadc32,#b5de2b,#b2dd2d,#b2dd2d,#addc30,#addc30,#aadc32,#aadc32,#a0da39,#a2da37,#a2da37,#addc30,#b0dd2f,#b2dd2d,#b5de2b,#addc30,#b0dd2f,#b8de29,#addc30,#b0dd2f,#aadc32,#a5db36,#aadc32,#a8db34,#addc30,#aadc32,#addc30,#a2da37,#b5de2b,#b5de2b,#addc30,#a8db34,#addc30,#b2dd2d,#b2dd2d,#b2dd2d,#a5db36,#a8db34,#b5de2b,#b2dd2d,#aadc32,#addc30,#aadc32,#addc30,#b8de29,#b5de2b,#bade28,#b8de29,#b0dd2f,#b2dd2d,#c2df23,#b8de29,#b2dd2d,#bddf26,#bade28,#bade28,#c2df23,#b2dd2d,#bade28,#b5de2b,#b2dd2d,#b5de2b,#c0df25,#bddf26,#b2dd2d,#b5de2b,#c2df23,#c2df23,#b8de29,#c8e020,#bddf26,#b8de29,#bade28,#c0df25,#c5e021,#c2df23,#bddf26,#bade28,#b5de2b,#bade28)"></div><div class="b" style="left:801px;top:435px;width:558px;height:9px;background:linear-gradient(90deg,#aadc32,#a8db34,#b0dd2f,#a5db36,#aadc32,#a2da37,#b2dd2d,#b0dd2f,#b5de2b,#b0dd2f,#b0dd2f,#addc30,#aadc32,#b0dd2f,#aadc32,#addc30,#b2dd2d,#b0dd2f,#addc30,#bade28,#b2dd2d,#addc30,#b0dd2f,#addc30,#addc30,#addc30,#b8de29,#b2dd2d,#b0dd2f,#b2dd2d,#bade28,#b0dd2f,#addc30,#bade28,#aadc32,#addc30,#b2dd2d,#bade28,#addc30,#a2da37,#b0dd2f,#addc30,#addc30,#b0dd2f,#b0dd2f,#b0dd2f,#addc30,#b5de2b,#b8de29,#b2dd2d,#addc30,#b2dd2d,#b2dd2d,#aadc32,#addc30,#b2dd2d,#b0dd2f,#addc30,#b0dd2f,#b0dd2f,#b0dd2f,#a5db36,#b5de2b,#b2dd2d,#aadc32,#b2dd2d,#b2dd2d,#b0dd2f,#b5de2b,#bade28,#b5de2b,#b8de29,#bade28,#addc30,#aadc32,#b0dd2f,#a5db36,#a8db34,#b0dd2f,#b0dd2f,#addc30,#a0da39,#b0dd2f,#aadc32,#aadc32,#a8db34,#9dd93b,#9dd93b,#9dd93b,#b0dd2f,#a5db36,#a8db34,#aadc32,#addc30,#addc30,#addc30,#a8db34,#9dd93b,#aadc32,#addc30,#b2dd2d,#addc30,#aadc32,#addc30,#a5db36,#a5db36,#a5db36,#addc30,#b8de29,#b2dd2d,#b5de2b,#b0dd2f,#b0dd2f,#aadc32,#aadc32,#a2da37,#a5db36,#a2da37,#b0dd2f,#b0dd2f,#b2dd2d,#b8de29,#addc30,#b2dd2d,#b8de29,#b0dd2f,#b2dd2d,#addc30,#a5db36,#addc30,#aadc32,#addc30,#aadc32,#b0dd2f,#a5db36,#b8de29,#b8de29,#b0dd2f,#aadc32,#addc30,#b2dd2d,#b2dd2d,#b2dd2d,#a8db34,#aadc32,#b5de2b,#b5de2b,#addc30,#addc30,#aadc32,#addc30,#bade28,#b5de2b,#bddf26,#b8de29,#b2dd2d,#b2dd2d,#c2df23,#b8de29,#b5de2b,#c0df25,#bddf26,#bade28,#c2df23,#b5de2b,#bade28,#b8de29,#b2dd2d,#b5de2b,#c0df25,#bddf26,#b2dd2d,#b5de2b,#c2df23,#c2df23,#b8de29,#c8e020,#bddf26,#b8de29,#bade28,#c0df25,#c5e021,#c5e021,#bddf26,#bade28,#b5de2b,#bade28)"></div><div class="b" style="left:801px;top:444px;width:558px;height:8px;background:linear-gradient(90deg,#aadc32,#a8db34,#b0dd2f,#a5db36,#addc30,#a5db36,#b2dd2d,#b0dd2f,#b5de2b,#b0dd2f,#b2dd2d,#b0dd2f,#addc30,#b0dd2f,#aadc32,#addc30,#b2dd2d,#b0dd2f,#addc30,#bade28,#b2dd2d,#addc30,#b0dd2f,#addc30,#addc30,#addc30,#b8de29,#b2dd2d,#b0dd2f,#b2dd2d,#bade28,#b2dd2d,#addc30,#bade28,#aadc32,#addc30,#b2dd2d,#bade28,#addc30,#a2da37,#b0dd2f,#addc30,#addc30,#b0dd2f,#b0dd2f,#b2dd2d,#addc30,#b5de2b,#b8de29,#b2dd2d,#addc30,#b2dd2d,#b2dd2d,#aadc32,#addc30,#b2dd2d,#b0dd2f,#addc30,#b0dd2f,#b0dd2f,#b0dd2f,#a5db36,#b5de2b,#b2dd2d,#aadc32,#b2dd2d,#b2dd2d,#b0dd2f,#b5de2b,#bade28,#b5de2b,#b8de29,#bade28,#addc30,#aadc32,#b2dd2d,#a5db36,#aadc32,#b2dd2d,#b2dd2d,#addc30,#a0da39,#b2dd2d,#addc30,#aadc32,#aadc32,#a0da39,#9dd93b,#a0da39,#b0dd2f,#a8db34,#a8db34,#aadc32,#addc30,#b0dd2f,#b0dd2f,#a8db34,#9dd93b,#aadc32,#addc30,#b2dd2d,#b0dd2f,#aadc32,#b0dd2f,#a8db34,#a8db34,#a8db34,#addc30,#b8de29,#b5de2b,#b5de2b,#b0dd2f,#b0dd2f,#addc30,#aadc32,#a2da37,#a5db36,#a5db36,#b0dd2f,#b2dd2d,#b5de2b,#b8de29,#b0dd2f,#b2dd2d,#bade28,#b0dd2f,#b2dd2d,#addc30,#a8db34,#addc30,#aadc32,#addc30,#addc30,#b0dd2f,#a5db36,#b8de29,#b8de29,#b0dd2f,#aadc32,#b0dd2f,#b5de2b,#b5de2b,#b5de2b,#a8db34,#aadc32,#b8de29,#b5de2b,#addc30,#b0dd2f,#addc30,#addc30,#bade28,#b8de29,#bddf26,#bade28,#b2dd2d,#b5de2b,#c2df23,#b8de29,#b5de2b,#c0df25,#bddf26,#bade28,#c2df23,#b5de2b,#bddf26,#b8de29,#b5de2b,#b8de29,#c0df25,#bddf26,#b2dd2d,#b5de2b,#c2df23,#c2df23,#bade28,#c8e020,#bddf26,#b8de29,#bade28,#c0df25,#c5e021,#c5e021,#bddf26,#bade28,#b5de2b,#bade28)"></div>
<svg width="1500" height="1400" viewBox="0 0 1500 1400">
<defs><linearGradient id="g00" gradientUnits="userSpaceOnUse" x1="0" y1="165.10" x2="0" y2="381.00"><stop offset="0" stop-color="#67001f"/><stop offset="0.0500" stop-color="#67001f"/><stop offset="0.1063" stop-color="#930e26"/><stop offset="0.1625" stop-color="#ba2832"/><stop offset="0.2188" stop-color="#d05548"/><stop offset="0.2750" stop-color="#e48066"/><stop offset="0.3313" stop-color="#f5aa89"/><stop offset="0.3875" stop-color="#fbccb4"/><stop offset="0.4438" stop-color="#fbe5d8"/><stop offset="0.5000" stop-color="#f7f6f6"/><stop offset="0.5562" stop-color="#e0ecf3"/><stop offset="0.6125" stop-color="#c2ddec"/><stop offset="0.6687" stop-color="#9bc9e0"/><stop offset="0.7250" stop-color="#6bacd1"/><stop offset="0.7812" stop-color="#3f8ec0"/><stop offset="0.8375" stop-color="#2a71b2"/><stop offset="0.8937" stop-color="#175290"/><stop offset="0.9500" stop-color="#053061"/><stop offset="1" stop-color="#053061"/></linearGradient><linearGradient id="g01" gradientUnits="userSpaceOnUse" x1="0" y1="165.10" x2="0" y2="381.00"><stop offset="0" stop-color="#fde725"/><stop offset="0.0500" stop-color="#fde725"/><stop offset="0.1063" stop-color="#d8e219"/><stop offset="0.1625" stop-color="#addc30"/><stop offset="0.2188" stop-color="#84d44b"/><stop offset="0.2750" stop-color="#5ec962"/><stop offset="0.3313" stop-color="#3fbc73"/><stop offset="0.3875" stop-color="#28ae80"/><stop offset="0.4438" stop-color="#1fa088"/><stop offset="0.5000" stop-color="#21918c"/><stop offset="0.5562" stop-color="#26828e"/><stop offset="0.6125" stop-color="#2c728e"/><stop offset="0.6687" stop-color="#33638d"/><stop offset="0.7250" stop-color="#3b528b"/><stop offset="0.7812" stop-color="#424086"/><stop offset="0.8375" stop-color="#472d7b"/><stop offset="0.8937" stop-color="#48186a"/><stop offset="0.9500" stop-color="#440154"/><stop offset="1" stop-color="#440154"/></linearGradient><linearGradient id="g10" gradientUnits="userSpaceOnUse" x1="0" y1="593.10" x2="0" y2="809.00"><stop offset="0" stop-color="#9e0142"/><stop offset="0.0500" stop-color="#9e0142"/><stop offset="0.1063" stop-color="#be254a"/><stop offset="0.1625" stop-color="#dc484c"/><stop offset="0.2188" stop-color="#ef6645"/><stop offset="0.2750" stop-color="#f88c51"/><stop offset="0.3313" stop-color="#fdb365"/><stop offset="0.3875" stop-color="#fed27f"/><stop offset="0.4438" stop-color="#feeb9d"/><stop offset="0.5000" stop-color="#fffebe"/><stop offset="0.5562" stop-color="#f0f9a7"/><stop offset="0.6125" stop-color="#d8ef9b"/><stop offset="0.6687" stop-color="#b3e0a2"/><stop offset="0.7250" stop-color="#89d0a4"/><stop offset="0.7812" stop-color="#60bba8"/><stop offset="0.8375" stop-color="#3f97b7"/><stop offset="0.8937" stop-color="#4273b3"/><stop offset="0.9500" stop-color="#5e4fa2"/><stop offset="1" stop-color="#5e4fa2"/></linearGradient><linearGradient id="g11" gradientUnits="userSpaceOnUse" x1="0" y1="593.10" x2="0" y2="809.00"><stop offset="0" stop-color="#00441b"/><stop offset="0.0500" stop-color="#00441b"/><stop offset="0.1063" stop-color="#005723"/><stop offset="0.1625" stop-color="#006c2c"/><stop offset="0.2188" stop-color="#117b38"/><stop offset="0.2750" stop-color="#228a44"/><stop offset="0.3313" stop-color="#319a50"/><stop offset="0.3875" stop-color="#40aa5d"/><stop offset="0.4438" stop-color="#5ab769"/><stop offset="0.5000" stop-color="#73c476"/><stop offset="0.5562" stop-color="#8ace88"/><stop offset="0.6125" stop-color="#a0d99b"/><stop offset="0.6687" stop-color="#b4e1ad"/><stop offset="0.7250" stop-color="#c7e9c0"/><stop offset="0.7812" stop-color="#d6efd0"/><stop offset="0.8375" stop-color="#e5f5e0"/><stop offset="0.8937" stop-color="#eef8ea"/><stop offset="0.9500" stop-color="#f7fcf5"/><stop offset="1" stop-color="#f7fcf5"/></linearGradient><linearGradient id="g20" gradientUnits="userSpaceOnUse" x1="0" y1="1020.30" x2="0" y2="1236.80"><stop offset="0" stop-color="#4d004b"/><stop offset="0.0499" stop-color="#4d004b"/><stop offset="0.1061" stop-color="#650762"/><stop offset="0.1624" stop-color="#800f7b"/><stop offset="0.2187" stop-color="#84278c"/><stop offset="0.2749" stop-color="#88409c"/><stop offset="0.3312" stop-color="#8a55a7"/><stop offset="0.3875" stop-color="#8c6ab1"/><stop offset="0.4437" stop-color="#8c80bb"/><stop offset="0.5000" stop-color="#8c95c6"/><stop offset="0.5563" stop-color="#95a8d0"/><stop offset="0.6125" stop-color="#9ebcda"/><stop offset="0.6688" stop-color="#aec7e0"/><stop offset="0.7251" stop-color="#bfd3e6"/><stop offset="0.7813" stop-color="#cfdfed"/><stop offset="0.8376" stop-color="#e0ecf4"/><stop offset="0.8939" stop-color="#ebf4f8"/><stop offset="0.9501" stop-color="#f7fcfd"/><stop offset="1" stop-color="#f7fcfd"/></linearGradient><linearGradient id="g21" gradientUnits="userSpaceOnUse" x1="0" y1="1020.30" x2="0" y2="1236.80"><stop offset="0" stop-color="#0b0000"/><stop offset="0.0499" stop-color="#0b0000"/><stop offset="0.1061" stop-color="#320000"/><stop offset="0.1624" stop-color="#5c0000"/><stop offset="0.2187" stop-color="#860000"/><stop offset="0.2749" stop-color="#b00000"/><stop offset="0.3312" stop-color="#da0000"/><stop offset="0.3875" stop-color="#ff0500"/><stop offset="0.4437" stop-color="#ff2f00"/><stop offset="0.5000" stop-color="#ff5900"/><stop offset="0.5563" stop-color="#ff8300"/><stop offset="0.6125" stop-color="#ffad00"/><stop offset="0.6688" stop-color="#ffd700"/><stop offset="0.7251" stop-color="#ffff03"/><stop offset="0.7813" stop-color="#ffff42"/><stop offset="0.8376" stop-color="#ffff81"/><stop offset="0.8939" stop-color="#ffffc0"/><stop offset="0.9501" stop-color="#ffffff"/><stop offset="1" stop-color="#ffffff"/></linearGradient></defs>
<path d="M120.0 94h1.4v358h-1.4zM173.2 94h1.4v358h-1.4zM195.6 94h2.8v358h-2.8zM239.0 94h1.4v358h-1.4zM247.4 94h1.4v358h-1.4zM248.8 94h1.4v358h-1.4zM269.8 94h1.4v358h-1.4zM286.6 94h1.4v358h-1.4zM303.4 94h1.4v358h-1.4zM310.4 94h2.8v358h-2.8zM314.6 94h1.4v358h-1.4zM339.8 94h1.4v358h-1.4zM353.8 94h2.8v358h-2.8zM358.0 94h1.4v358h-1.4zM359.4 94h2.8v358h-2.8zM365.0 94h1.4v358h-1.4zM374.8 94h1.4v358h-1.4zM384.6 94h1.4v358h-1.4zM415.4 94h2.8v358h-2.8zM425.2 94h1.4v358h-1.4zM433.6 94h1.4v358h-1.4zM456.0 94h1.4v358h-1.4zM458.8 94h1.4v358h-1.4zM460.2 94h1.4v358h-1.4zM461.6 94h1.4v358h-1.4zM489.6 94h1.4v358h-1.4zM498.0 94h1.4v358h-1.4zM510.6 94h2.8v358h-2.8zM527.4 94h1.4v358h-1.4zM544.2 94h1.4v358h-1.4zM561.0 94h1.4v358h-1.4zM569.4 94h1.4v358h-1.4zM570.8 94h2.8v358h-2.8zM573.6 94h1.4v358h-1.4zM614.2 94h2.8v358h-2.8zM626.8 94h2.8v358h-2.8zM650.6 94h1.4v358h-1.4zM653.4 94h1.4v358h-1.4zM659.0 94h1.4v358h-1.4zM661.8 94h2.8v358h-2.8z" fill="#fff" fill-opacity="0.02" shape-rendering="crispEdges"/><path d="M121.4 94h1.4v358h-1.4zM124.2 94h1.4v358h-1.4zM127.0 94h1.4v358h-1.4zM138.2 94h2.8v358h-2.8zM148.0 94h1.4v358h-1.4zM149.4 94h1.4v358h-1.4zM150.8 94h1.4v358h-1.4zM152.2 94h1.4v358h-1.4zM160.6 94h1.4v358h-1.4zM166.2 94h1.4v358h-1.4zM181.6 94h1.4v358h-1.4zM191.4 94h1.4v358h-1.4zM198.4 94h2.8v358h-2.8zM205.4 94h1.4v358h-1.4zM216.6 94h2.8v358h-2.8zM219.4 94h1.4v358h-1.4zM240.4 94h2.8v358h-2.8zM243.2 94h1.4v358h-1.4zM244.6 94h1.4v358h-1.4zM251.6 94h1.4v358h-1.4zM253.0 94h1.4v358h-1.4zM254.4 94h1.4v358h-1.4zM276.8 94h1.4v358h-1.4zM278.2 94h1.4v358h-1.4zM282.4 94h1.4v358h-1.4zM296.4 94h1.4v358h-1.4zM302.0 94h1.4v358h-1.4zM328.6 94h1.4v358h-1.4zM330.0 94h2.8v358h-2.8zM338.4 94h1.4v358h-1.4zM348.2 94h1.4v358h-1.4zM376.2 94h1.4v358h-1.4zM393.0 94h2.8v358h-2.8zM398.6 94h1.4v358h-1.4zM409.8 94h2.8v358h-2.8zM421.0 94h1.4v358h-1.4zM423.8 94h1.4v358h-1.4zM446.2 94h1.4v358h-1.4zM447.6 94h1.4v358h-1.4zM451.8 94h1.4v358h-1.4zM465.8 94h1.4v358h-1.4zM467.2 94h1.4v358h-1.4zM505.0 94h1.4v358h-1.4zM531.6 94h1.4v358h-1.4zM535.8 94h1.4v358h-1.4zM541.4 94h1.4v358h-1.4zM583.4 94h1.4v358h-1.4zM597.4 94h2.8v358h-2.8zM603.0 94h2.8v358h-2.8zM618.4 94h1.4v358h-1.4zM619.8 94h1.4v358h-1.4zM646.4 94h1.4v358h-1.4zM671.6 94h2.8v358h-2.8zM674.4 94h1.4v358h-1.4z" fill="#000" fill-opacity="0.01" shape-rendering="crispEdges"/><path d="M125.6 94h1.4v358h-1.4zM131.2 94h1.4v358h-1.4zM135.4 94h1.4v358h-1.4zM141.0 94h1.4v358h-1.4zM145.2 94h1.4v358h-1.4zM162.0 94h1.4v358h-1.4zM184.4 94h2.8v358h-2.8zM201.2 94h1.4v358h-1.4zM202.6 94h1.4v358h-1.4zM212.4 94h1.4v358h-1.4zM213.8 94h2.8v358h-2.8zM222.2 94h1.4v358h-1.4zM223.6 94h1.4v358h-1.4zM264.2 94h1.4v358h-1.4zM265.6 94h1.4v358h-1.4zM279.6 94h1.4v358h-1.4zM292.2 94h1.4v358h-1.4zM297.8 94h1.4v358h-1.4zM299.2 94h2.8v358h-2.8zM323.0 94h1.4v358h-1.4zM369.2 94h1.4v358h-1.4zM383.2 94h1.4v358h-1.4zM386.0 94h1.4v358h-1.4zM391.6 94h1.4v358h-1.4zM397.2 94h1.4v358h-1.4zM401.4 94h1.4v358h-1.4zM422.4 94h1.4v358h-1.4zM435.0 94h1.4v358h-1.4zM454.6 94h1.4v358h-1.4zM484.0 94h1.4v358h-1.4zM499.4 94h2.8v358h-2.8zM502.2 94h2.8v358h-2.8zM507.8 94h1.4v358h-1.4zM516.2 94h1.4v358h-1.4zM538.6 94h2.8v358h-2.8zM554.0 94h1.4v358h-1.4zM556.8 94h1.4v358h-1.4zM580.6 94h2.8v358h-2.8zM587.6 94h1.4v358h-1.4zM589.0 94h1.4v358h-1.4zM608.6 94h2.8v358h-2.8zM612.8 94h1.4v358h-1.4zM621.2 94h1.4v358h-1.4zM638.0 94h1.4v358h-1.4zM656.2 94h1.4v358h-1.4zM660.4 94h1.4v358h-1.4zM664.6 94h1.4v358h-1.4zM668.8 94h2.8v358h-2.8z" fill="#fff" fill-opacity="0.01" shape-rendering="crispEdges"/><path d="M128.4 94h2.8v358h-2.8zM157.8 94h2.8v358h-2.8zM167.6 94h2.8v358h-2.8zM180.2 94h1.4v358h-1.4zM220.8 94h1.4v358h-1.4zM232.0 94h1.4v358h-1.4zM233.4 94h1.4v358h-1.4zM237.6 94h1.4v358h-1.4zM255.8 94h1.4v358h-1.4zM257.2 94h1.4v358h-1.4zM272.6 94h1.4v358h-1.4zM289.4 94h1.4v358h-1.4zM309.0 94h1.4v358h-1.4zM313.2 94h1.4v358h-1.4zM332.8 94h1.4v358h-1.4zM344.0 94h1.4v358h-1.4zM349.6 94h2.8v358h-2.8zM395.8 94h1.4v358h-1.4zM400.0 94h1.4v358h-1.4zM426.6 94h2.8v358h-2.8zM475.6 94h1.4v358h-1.4zM479.8 94h1.4v358h-1.4zM485.4 94h1.4v358h-1.4zM506.4 94h1.4v358h-1.4zM537.2 94h1.4v358h-1.4zM559.6 94h1.4v358h-1.4zM586.2 94h1.4v358h-1.4zM625.4 94h1.4v358h-1.4zM629.6 94h1.4v358h-1.4zM639.4 94h2.8v358h-2.8zM649.2 94h1.4v358h-1.4zM652.0 94h1.4v358h-1.4z" fill="#000" fill-opacity="0.02" shape-rendering="crispEdges"/><path d="M132.6 94h2.8v358h-2.8zM136.8 94h1.4v358h-1.4zM177.4 94h1.4v358h-1.4zM209.6 94h1.4v358h-1.4zM227.8 94h1.4v358h-1.4zM250.2 94h1.4v358h-1.4zM258.6 94h2.8v358h-2.8zM283.8 94h1.4v358h-1.4zM295.0 94h1.4v358h-1.4zM321.6 94h1.4v358h-1.4zM366.4 94h1.4v358h-1.4zM367.8 94h1.4v358h-1.4zM404.2 94h1.4v358h-1.4zM429.4 94h1.4v358h-1.4zM432.2 94h1.4v358h-1.4zM439.2 94h2.8v358h-2.8zM464.4 94h1.4v358h-1.4zM468.6 94h1.4v358h-1.4zM528.8 94h2.8v358h-2.8zM533.0 94h1.4v358h-1.4zM542.8 94h1.4v358h-1.4zM577.8 94h2.8v358h-2.8zM600.2 94h2.8v358h-2.8zM624.0 94h1.4v358h-1.4zM631.0 94h1.4v358h-1.4z" fill="#fff" fill-opacity="0.03" shape-rendering="crispEdges"/><path d="M143.8 94h1.4v358h-1.4zM146.6 94h1.4v358h-1.4zM153.6 94h1.4v358h-1.4zM155.0 94h1.4v358h-1.4zM164.8 94h1.4v358h-1.4zM183.0 94h1.4v358h-1.4zM211.0 94h1.4v358h-1.4zM225.0 94h1.4v358h-1.4zM234.8 94h2.8v358h-2.8zM281.0 94h1.4v358h-1.4zM293.6 94h1.4v358h-1.4zM304.8 94h1.4v358h-1.4zM362.2 94h1.4v358h-1.4zM363.6 94h1.4v358h-1.4zM379.0 94h2.8v358h-2.8zM387.4 94h1.4v358h-1.4zM481.2 94h2.8v358h-2.8zM486.8 94h1.4v358h-1.4zM491.0 94h1.4v358h-1.4zM521.8 94h1.4v358h-1.4zM545.6 94h1.4v358h-1.4zM552.6 94h1.4v358h-1.4zM562.4 94h1.4v358h-1.4zM563.8 94h2.8v358h-2.8zM584.8 94h1.4v358h-1.4zM666.0 94h1.4v358h-1.4z" fill="#000" fill-opacity="0.03" shape-rendering="crispEdges"/><path d="M163.4 94h1.4v358h-1.4zM171.8 94h1.4v358h-1.4zM178.8 94h1.4v358h-1.4zM206.8 94h2.8v358h-2.8zM267.0 94h1.4v358h-1.4zM288.0 94h1.4v358h-1.4zM352.4 94h1.4v358h-1.4zM356.6 94h1.4v358h-1.4zM370.6 94h1.4v358h-1.4zM390.2 94h1.4v358h-1.4zM437.8 94h1.4v358h-1.4zM549.8 94h1.4v358h-1.4zM555.4 94h1.4v358h-1.4zM575.0 94h1.4v358h-1.4z" fill="#000" fill-opacity="0.04" shape-rendering="crispEdges"/><path d="M170.4 94h1.4v358h-1.4zM271.2 94h1.4v358h-1.4zM381.8 94h1.4v358h-1.4zM492.4 94h2.8v358h-2.8z" fill="#fff" fill-opacity="0.06" shape-rendering="crispEdges"/><path d="M174.6 94h2.8v358h-2.8zM230.6 94h1.4v358h-1.4zM274.0 94h1.4v358h-1.4zM318.8 94h2.8v358h-2.8zM402.8 94h1.4v358h-1.4zM645.0 94h1.4v358h-1.4zM647.8 94h1.4v358h-1.4z" fill="#000" fill-opacity="0.05" shape-rendering="crispEdges"/><path d="M192.8 94h1.4v358h-1.4zM307.6 94h1.4v358h-1.4zM388.8 94h1.4v358h-1.4zM405.6 94h2.8v358h-2.8zM430.8 94h1.4v358h-1.4zM442.0 94h1.4v358h-1.4zM472.8 94h1.4v358h-1.4zM496.6 94h1.4v358h-1.4zM566.6 94h1.4v358h-1.4zM596.0 94h1.4v358h-1.4zM642.2 94h1.4v358h-1.4z" fill="#fff" fill-opacity="0.04" shape-rendering="crispEdges"/><path d="M275.4 94h1.4v358h-1.4zM412.6 94h1.4v358h-1.4zM534.4 94h1.4v358h-1.4zM675.8 94h1.2v358h-1.2z" fill="#fff" fill-opacity="0.05" shape-rendering="crispEdges"/><path d="M285.2 94h1.4v358h-1.4zM316.0 94h2.8v358h-2.8zM488.2 94h1.4v358h-1.4z" fill="#000" fill-opacity="0.06" shape-rendering="crispEdges"/><path d="M144.5 94h1.9v53.1h-1.9zM148.4 94h1.4v17.1h-1.4zM149.8 94h2.4v44.1h-2.4zM154.8 94h2.4v26.1h-2.4zM160.4 94h2.4v26.1h-2.4zM162.8 94h2.0v17.1h-2.0zM165.5 94h1.4v44.1h-1.4zM170.6 94h2.4v26.1h-2.4zM175.0 94h2.0v8.1h-2.0zM176.5 94h1.9v17.1h-1.9zM181.7 94h1.9v26.1h-1.9zM185.6 94h2.8v17.1h-2.8zM187.2 94h1.9v53.1h-1.9zM189.1 94h2.8v17.1h-2.8zM192.9 94h1.9v53.1h-1.9zM198.7 94h1.9v44.1h-1.9zM200.6 94h1.4v17.1h-1.4zM204.7 94h2.4v35.1h-2.4zM208.7 94h1.4v17.1h-1.4zM210.7 94h1.4v44.1h-1.4zM214.1 94h3.2v8.1h-3.2zM216.8 94h1.4v26.1h-1.4zM219.8 94h2.8v17.1h-2.8zM221.8 94h1.4v44.1h-1.4zM223.2 94h1.4v8.1h-1.4zM227.1 94h1.4v44.1h-1.4zM230.5 94h2.8v17.1h-2.8zM232.8 94h1.4v53.1h-1.4zM235.8 94h2.8v8.1h-2.8zM238.2 94h2.4v26.1h-2.4zM244.2 94h1.4v44.1h-1.4zM247.6 94h2.0v8.1h-2.0zM250.3 94h1.9v44.1h-1.9zM253.8 94h1.4v17.1h-1.4zM255.8 94h1.9v26.1h-1.9zM259.7 94h2.0v8.1h-2.0zM262.0 94h1.9v17.1h-1.9zM265.5 94h2.8v17.1h-2.8zM267.8 94h2.4v26.1h-2.4zM270.2 94h1.4v8.1h-1.4zM273.6 94h2.4v44.1h-2.4zM277.6 94h2.0v8.1h-2.0zM278.9 94h1.9v44.1h-1.9zM282.4 94h3.2v8.1h-3.2zM284.1 94h1.4v35.1h-1.4zM290.0 94h1.9v53.1h-1.9zM296.0 94h1.4v53.1h-1.4zM299.0 94h2.0v17.1h-2.0zM301.9 94h1.9v35.1h-1.9zM305.4 94h2.0v17.1h-2.0zM307.8 94h1.9v35.1h-1.9zM309.7 94h2.0v8.1h-2.0zM313.4 94h1.9v44.1h-1.9zM316.9 94h1.4v17.1h-1.4zM319.3 94h1.9v26.1h-1.9zM322.8 94h2.8v17.1h-2.8zM324.7 94h2.4v44.1h-2.4zM329.1 94h3.2v8.1h-3.2zM330.2 94h1.9v44.1h-1.9zM332.1 94h3.2v17.1h-3.2zM336.3 94h2.4v44.1h-2.4zM342.5 94h1.9v53.1h-1.9zM345.6 94h1.4v17.1h-1.4zM348.3 94h1.4v44.1h-1.4zM354.5 94h1.9v26.1h-1.9zM356.4 94h1.4v17.1h-1.4zM360.1 94h1.9v44.1h-1.9zM363.2 94h1.4v17.1h-1.4zM366.0 94h1.4v35.1h-1.4zM369.0 94h2.0v8.1h-2.0zM371.7 94h2.4v26.1h-2.4zM375.7 94h2.0v8.1h-2.0zM377.8 94h1.4v35.1h-1.4zM380.4 94h2.8v8.1h-2.8zM383.0 94h1.4v17.1h-1.4zM386.4 94h1.4v8.1h-1.4zM389.0 94h2.4v26.1h-2.4zM393.4 94h2.8v8.1h-2.8zM394.3 94h1.9v26.1h-1.9zM396.2 94h1.4v8.1h-1.4zM400.3 94h1.4v35.1h-1.4zM403.7 94h2.8v8.1h-2.8zM405.9 94h1.9v26.1h-1.9zM409.8 94h2.8v8.1h-2.8zM411.3 94h1.9v26.1h-1.9zM413.2 94h2.0v17.1h-2.0zM416.6 94h2.4v35.1h-2.4zM420.2 94h1.4v8.1h-1.4zM421.6 94h2.4v26.1h-2.4zM426.0 94h1.4v8.1h-1.4zM427.1 94h1.9v26.1h-1.9zM431.0 94h3.2v8.1h-3.2zM432.9 94h1.9v35.1h-1.9zM436.8 94h2.0v17.1h-2.0zM438.2 94h1.4v53.1h-1.4zM441.2 94h2.8v8.1h-2.8zM443.3 94h1.4v26.1h-1.4zM444.7 94h2.8v17.1h-2.8zM448.9 94h1.4v17.1h-1.4zM451.5 94h2.0v17.1h-2.0zM454.5 94h1.4v35.1h-1.4zM457.9 94h2.0v8.1h-2.0zM459.6 94h1.4v26.1h-1.4zM465.0 94h1.9v35.1h-1.9zM466.9 94h2.0v8.1h-2.0zM471.1 94h1.4v26.1h-1.4zM474.1 94h2.0v8.1h-2.0zM476.8 94h1.9v44.1h-1.9zM480.7 94h3.2v8.1h-3.2zM482.1 94h2.4v53.1h-2.4zM486.5 94h1.4v17.1h-1.4zM487.5 94h2.4v35.1h-2.4zM491.9 94h3.2v8.1h-3.2zM493.1 94h1.9v35.1h-1.9zM498.9 94h2.4v35.1h-2.4zM502.5 94h2.8v8.1h-2.8zM504.5 94h1.9v44.1h-1.9zM508.0 94h3.2v17.1h-3.2zM509.7 94h1.9v44.1h-1.9zM513.2 94h1.4v8.1h-1.4zM515.7 94h2.4v44.1h-2.4zM519.3 94h2.8v8.1h-2.8zM521.3 94h1.9v26.1h-1.9zM525.2 94h2.0v17.1h-2.0zM526.6 94h1.4v17.1h-1.4zM532.3 94h1.4v17.1h-1.4zM538.4 94h1.4v44.1h-1.4zM541.4 94h2.0v8.1h-2.0zM544.3 94h1.9v35.1h-1.9zM546.2 94h2.8v8.1h-2.8zM550.2 94h1.9v35.1h-1.9zM556.2 94h1.4v35.1h-1.4zM559.2 94h2.8v8.1h-2.8zM562.2 94h1.9v26.1h-1.9zM564.1 94h2.8v8.1h-2.8zM567.6 94h2.4v35.1h-2.4zM571.2 94h3.2v17.1h-3.2zM573.1 94h1.9v35.1h-1.9zM578.3 94h2.4v44.1h-2.4zM583.8 94h2.4v44.1h-2.4zM587.8 94h1.4v8.1h-1.4zM589.7 94h1.4v17.1h-1.4zM595.5 94h1.9v35.1h-1.9zM600.9 94h1.4v35.1h-1.4zM603.9 94h3.2v17.1h-3.2zM606.4 94h1.9v17.1h-1.9zM610.3 94h2.8v8.1h-2.8zM611.8 94h1.4v35.1h-1.4zM615.2 94h2.8v8.1h-2.8zM617.6 94h2.4v26.1h-2.4zM621.2 94h1.4v17.1h-1.4zM623.0 94h1.9v53.1h-1.9zM626.5 94h3.2v17.1h-3.2zM628.6 94h1.4v53.1h-1.4zM632.0 94h1.4v8.1h-1.4zM634.2 94h1.4v35.1h-1.4zM639.5 94h2.4v26.1h-2.4zM643.1 94h2.0v17.1h-2.0zM644.8 94h1.9v35.1h-1.9zM647.9 94h2.8v8.1h-2.8zM650.7 94h1.4v17.1h-1.4zM654.1 94h3.2v8.1h-3.2zM656.7 94h1.9v17.1h-1.9zM660.2 94h3.2v8.1h-3.2zM662.3 94h1.4v35.1h-1.4zM664.9 94h3.2v8.1h-3.2zM668.1 94h2.4v44.1h-2.4zM671.7 94h2.0v8.1h-2.0zM673.7 94h2.4v35.1h-2.4z" fill="#cccccc" shape-rendering="crispEdges"/><rect x="124" y="380.4" width="2.7" height="71.6" fill="#cccccc"/><rect x="124.4" y="344.6" width="1" height="35.8" fill="#cccccc"/><path d="M121.0 141.7L122.9 148.9L125.3 152.4L127.7 126.6L129.1 133.1L130.5 139.1L131.9 134.8L133.3 146.1L134.7 143.7L136.1 137.6L137.5 121.7L139.9 146.4L142.3 149.1L144.7 145.6L146.1 134.6L147.5 129.1L148.9 139.8L150.3 139.2L152.7 147.0L155.1 151.5L157.5 148.9L159.9 150.3L161.3 146.5L162.7 143.8L164.1 133.5L166.5 135.8L167.9 137.1L170.3 142.1L172.2 135.2L174.6 143.6L176.5 146.1L177.9 140.0L179.3 144.4L181.7 148.1L183.1 132.1L184.5 137.3L186.4 129.4L187.8 133.0L189.2 128.2L191.1 126.9L193.0 136.3L194.4 122.2L195.8 141.1L197.2 150.3L199.6 132.5L201.0 142.5L203.4 140.8L204.8 135.1L206.7 129.5L208.1 134.9L209.5 136.7L211.9 137.5L214.3 140.1L216.2 137.3L218.1 139.3L220.5 135.6L221.9 140.0L223.3 127.6L224.7 131.4L226.6 124.7L228.0 138.0L230.4 130.7L231.8 144.2L233.7 129.4L235.1 136.7L237.5 125.4L239.9 117.8L241.8 120.8L243.2 122.2L244.6 126.2L247.0 121.4L248.4 112.2L250.3 117.8L252.7 122.1L254.6 124.1L256.0 119.4L257.4 132.5L258.8 136.5L260.2 125.5L261.6 121.9L263.0 128.4L264.9 129.3L267.3 128.3L268.7 133.0L270.1 136.7L271.5 140.9L272.9 136.6L275.3 135.2L276.7 129.1L278.1 139.6L280.0 145.5L281.4 136.3L282.8 132.4L284.7 139.6L287.1 140.5L288.5 137.1L290.4 142.9L291.8 137.7L293.2 133.7L294.6 133.5L296.5 146.0L298.9 143.9L300.3 146.1L302.7 133.7L304.1 133.9L306.5 129.4L308.9 139.5L310.3 138.1L311.7 138.7L313.6 138.4L316.0 139.0L317.4 133.4L319.8 133.9L321.2 144.5L322.6 134.5L324.0 140.9L326.4 133.9L328.3 132.5L329.7 132.5L331.6 141.1L334.0 149.6L335.4 129.2L336.8 137.8L339.2 147.0L340.6 147.1L342.5 146.1L344.9 143.9L346.3 137.0L347.7 141.7L349.6 140.2L351.5 138.3L353.4 136.9L354.8 149.7L356.7 145.6L358.1 152.9L359.5 144.0L361.4 146.4L363.8 144.5L366.2 142.4L368.1 152.3L369.5 146.0L370.9 141.6L372.3 153.2L374.2 150.8L376.1 158.7L377.5 153.9L379.9 144.6L381.3 144.4L382.7 154.2L384.6 151.7L386.0 139.7L387.9 154.4L389.3 161.2L391.7 163.9L393.1 153.7L394.5 160.4L395.9 145.1L398.3 148.0L399.7 153.0L402.1 153.9L403.5 160.8L405.9 164.7L408.3 155.9L409.7 149.9L411.6 160.9L413.0 164.8L414.4 159.6L415.8 157.3L417.2 157.0L418.6 165.7L420.0 158.5L422.4 158.8L423.8 166.1L425.7 163.9L427.6 154.3L430.0 165.9L431.4 160.9L432.8 165.9L434.7 155.8L436.1 155.3L437.5 158.9L438.9 154.3L441.3 165.5L442.7 150.0L444.1 156.2L445.5 153.2L447.4 149.4L449.3 170.4L450.7 168.5L452.6 162.9L454.0 164.3L455.4 155.3L456.8 170.1L459.2 162.8L460.6 166.0L462.5 173.4L464.9 166.6L466.8 152.2L468.2 162.7L470.1 172.4L472.0 146.7L474.4 150.3L475.8 170.2L477.2 162.3L478.6 168.4L480.5 158.7L481.9 164.8L484.3 168.3L486.7 160.5L488.6 149.9L490.0 151.8L492.4 161.2L494.8 160.3L497.2 169.5L498.6 175.3L501.0 168.2L502.9 163.8L504.3 153.7L506.7 163.8L508.6 166.6L511.0 167.1L513.4 168.2L514.8 177.5L516.2 166.9L518.6 157.7L521.0 162.6L522.4 164.8L524.3 149.0L526.2 152.0L527.6 145.4L529.0 145.6L530.4 146.3L532.3 148.5L534.2 151.1L535.6 145.3L537.0 140.6L538.4 151.1L540.8 152.6L542.2 158.3L544.1 148.4L545.5 144.8L546.9 145.9L548.8 140.4L550.2 135.1L551.6 144.7L554.0 141.5L556.4 124.3L558.3 136.9L560.7 133.2L562.6 131.3L564.0 131.5L566.4 146.2L567.8 135.8L570.2 139.4L571.6 140.4L573.0 124.6L574.9 131.0L576.8 136.1L578.7 134.7L580.1 131.1L582.5 136.5L583.9 139.4L585.3 137.0L586.7 139.1L589.1 139.6L590.5 139.9L591.9 142.2L593.3 141.3L594.7 141.5L596.1 147.6L598.5 139.6L600.4 145.6L602.8 149.6L605.2 145.2L607.6 149.5L609.0 157.8L610.9 147.5L612.3 133.5L614.2 135.4L616.1 148.6L618.5 147.5L619.9 139.9L621.8 134.4L623.2 135.7L624.6 137.1L626.5 145.5L628.9 142.6L631.3 138.9L632.7 134.6L634.6 134.1L636.0 148.2L637.9 145.5L640.3 148.6L642.7 157.4L644.1 148.7L645.5 148.9L647.4 156.6L649.8 148.7L651.2 145.9L653.6 138.9L655.0 143.7L656.4 154.5L658.3 142.2L659.7 145.9L661.6 140.9L663.0 134.6L664.4 143.6L666.3 166.2L668.7 153.5L671.1 135.7L672.5 138.5L674.4 138.7L675.8 144.7" fill="none" stroke="#8e8e8e" stroke-opacity=".9" stroke-width="1.5" stroke-linejoin="round"/><path d="M121.0 154.3L122.4 171.1L124.8 158.2L126.2 154.6L127.6 160.5L129.0 158.0L130.9 154.9L132.3 156.2L133.7 157.0L135.1 157.6L137.5 157.0L138.9 159.7L140.3 159.2L142.2 152.9L144.1 150.3L146.5 160.6L147.9 150.3L149.8 156.9L151.7 169.7L154.1 163.9L156.0 162.3L157.9 167.7L159.8 169.1L161.2 159.9L163.1 157.4L164.5 167.7L165.9 165.4L167.8 162.7L169.2 158.7L170.6 166.0L172.0 170.0L173.4 169.0L174.8 159.3L176.2 171.8L178.1 171.4L180.5 164.8L182.9 166.7L185.3 165.9L186.7 154.1L188.1 159.7L190.5 165.0L191.9 164.6L194.3 162.0L196.7 158.5L198.1 149.4L199.5 157.2L200.9 154.5L203.3 160.3L205.7 158.3L207.1 163.1L208.5 149.9L209.9 162.5L211.3 158.5L212.7 167.6L215.1 149.2L216.5 151.4L218.9 153.4L221.3 151.7L223.2 155.1L224.6 151.8L226.0 164.9L227.4 162.9L229.3 152.7L231.2 147.3L233.1 156.9L234.5 159.3L235.9 150.0L238.3 148.9L239.7 153.8L242.1 150.2L244.0 152.7L245.9 143.6L248.3 141.8L249.7 139.0L251.6 137.2L253.0 139.4L254.4 135.1L255.8 149.2L258.2 149.2L260.6 148.1L262.5 149.5L263.9 157.1L265.3 149.4L267.2 152.2L268.6 154.2L270.0 149.8L271.4 155.1L273.8 152.5L276.2 142.4L278.1 153.8L279.5 156.5L280.9 156.3L283.3 147.6L284.7 163.8L286.6 157.6L289.0 154.9L290.4 161.3L291.8 160.7L293.7 159.6L296.1 159.3L297.5 162.9L298.9 165.7L300.3 163.4L301.7 165.3L303.1 162.6L304.5 174.3L306.9 165.2L308.3 168.2L310.2 170.6L312.6 169.9L314.0 153.6L315.4 167.8L317.8 164.5L319.2 155.6L321.1 170.9L322.5 165.4L323.9 163.0L325.3 168.7L326.7 169.4L329.1 168.2L331.5 162.9L333.9 165.0L336.3 175.7L337.7 169.4L339.6 155.3L341.0 162.1L342.9 171.7L344.3 164.6L346.7 169.7L349.1 170.4L350.5 160.0L352.9 169.1L354.8 181.4L356.2 169.9L358.6 172.8L360.0 175.1L362.4 163.5L364.8 180.4L366.2 169.9L368.1 169.1L370.0 181.4L372.4 184.8L374.3 180.3L375.7 173.3L378.1 169.0L380.0 180.8L381.9 168.0L384.3 179.1L385.7 184.8L387.1 172.0L388.5 177.2L390.4 178.0L392.8 178.6L395.2 188.2L396.6 189.4L398.0 188.1L400.4 182.3L401.8 183.1L403.7 188.5L405.1 195.1L406.5 190.7L407.9 186.9L409.3 193.1L410.7 194.1L412.1 189.4L414.0 196.6L415.4 186.9L416.8 198.4L419.2 189.6L421.1 204.3L423.0 199.5L424.4 203.3L425.8 195.0L428.2 185.7L430.1 187.6L432.5 187.1L434.4 179.2L435.8 187.3L437.2 193.2L438.6 194.4L440.0 194.9L441.4 192.7L442.8 184.8L445.2 186.5L446.6 187.4L448.0 189.8L449.4 198.5L451.3 189.4L453.2 195.8L454.6 186.9L456.5 193.1L457.9 189.8L459.3 192.9L460.7 197.0L463.1 189.1L464.5 195.8L466.4 195.7L467.8 197.6L469.2 198.2L470.6 190.7L472.0 187.6L474.4 197.9L475.8 190.4L477.2 200.5L479.1 189.8L480.5 192.4L482.4 188.8L484.3 179.0L486.2 192.8L488.1 187.2L489.5 191.0L491.4 190.7L493.3 189.1L494.7 183.2L497.1 187.8L498.5 187.6L499.9 187.0L501.3 190.3L502.7 189.7L505.1 195.4L507.5 198.8L508.9 196.6L511.3 188.1L512.7 196.9L514.1 200.4L516.0 181.4L518.4 189.9L520.3 188.8L522.2 200.5L523.6 191.1L525.0 193.3L526.4 186.1L528.3 190.2L530.7 187.7L533.1 188.6L535.0 178.8L536.4 172.5L537.8 174.3L539.2 169.0L541.6 174.4L543.0 177.3L545.4 174.6L547.8 163.3L550.2 172.1L552.6 171.4L554.5 163.2L555.9 165.6L557.8 164.6L559.7 174.3L561.1 174.7L563.5 177.8L565.4 162.3L566.8 169.6L568.2 171.1L570.6 167.6L572.0 172.9L573.4 165.0L574.8 164.9L576.2 163.9L578.6 161.2L581.0 161.5L583.4 162.4L584.8 157.7L586.2 151.8L588.1 155.0L589.5 159.5L590.9 155.9L592.8 161.8L595.2 165.7L596.6 162.0L599.0 159.1L601.4 160.4L603.8 170.1L605.2 168.4L607.6 166.0L610.0 167.8L611.9 161.7L614.3 161.4L615.7 156.5L617.1 158.6L619.5 165.1L620.9 163.7L622.3 156.4L624.2 152.9L625.6 154.9L627.5 153.2L628.9 159.5L630.3 154.1L631.7 156.9L633.1 148.7L635.5 155.8L636.9 155.2L638.3 161.8L639.7 165.5L641.1 160.0L643.5 164.7L645.4 162.6L646.8 159.0L649.2 161.3L651.1 160.2L653.0 162.2L654.4 151.7L656.8 161.1L659.2 170.0L661.1 164.2L662.5 158.3L664.9 164.6L666.3 169.2L667.7 158.4L669.1 167.7L671.0 163.7L673.4 169.5L675.3 171.2" fill="none" stroke="#8e8e8e" stroke-opacity=".9" stroke-width="1.5" stroke-linejoin="round"/><path d="M121.0 185.4L122.4 197.6L123.8 195.1L125.7 196.1L127.1 194.3L129.0 181.4L130.4 182.1L132.8 173.4L134.2 170.1L136.6 183.2L138.0 172.0L139.4 188.9L141.8 193.2L143.2 192.9L145.1 201.5L146.5 208.6L147.9 203.2L149.3 202.5L151.7 202.0L153.1 195.1L154.5 199.4L155.9 194.2L158.3 197.8L160.7 197.6L162.1 200.5L164.5 193.4L165.9 194.9L167.3 194.8L169.7 190.1L171.1 188.6L172.5 185.5L174.4 181.1L176.3 187.9L177.7 195.5L179.1 193.1L181.0 185.8L183.4 188.5L184.8 188.6L187.2 186.4L189.1 187.7L190.5 190.8L192.9 186.8L195.3 184.8L196.7 181.4L198.1 184.3L199.5 185.1L200.9 177.9L202.8 182.8L205.2 183.8L207.6 178.1L209.0 186.1L210.4 189.4L211.8 176.6L213.2 177.7L214.6 175.6L216.0 177.8L217.4 176.8L219.8 172.7L222.2 183.1L224.1 177.8L226.5 177.1L227.9 167.7L229.3 166.8L230.7 173.0L232.1 160.9L233.5 166.0L234.9 179.8L237.3 169.4L238.7 172.8L241.1 170.6L242.5 167.1L243.9 168.6L245.3 164.1L246.7 163.1L248.6 161.3L251.0 168.3L252.4 163.8L254.8 165.4L256.7 158.7L259.1 165.0L261.5 161.3L263.4 164.6L265.3 167.7L267.7 174.3L269.1 176.6L270.5 168.0L272.4 163.7L274.3 168.9L275.7 168.0L277.1 175.0L278.5 181.8L279.9 171.3L281.8 170.3L283.2 174.4L284.6 181.9L286.0 181.2L288.4 182.2L290.8 188.7L292.7 174.2L295.1 172.9L296.5 170.6L298.4 179.0L300.3 188.8L302.7 187.6L304.1 179.3L305.5 183.0L306.9 181.5L308.3 179.6L309.7 184.9L311.6 182.5L313.0 187.8L314.9 188.5L316.3 186.0L317.7 188.3L319.1 183.0L321.0 185.2L322.4 183.2L323.8 178.6L326.2 184.5L327.6 182.8L329.5 185.1L330.9 185.1L332.3 181.1L333.7 173.4L335.1 185.5L336.5 180.9L338.4 173.0L340.3 181.8L341.7 188.0L343.1 187.7L344.5 192.6L345.9 190.1L348.3 192.0L349.7 186.8L352.1 194.3L353.5 198.7L355.4 191.5L356.8 194.9L358.2 191.8L360.6 187.5L362.0 203.0L363.4 197.6L365.3 203.3L366.7 203.1L368.1 195.5L370.0 193.3L372.4 209.0L373.8 200.8L375.2 208.5L376.6 211.3L378.0 208.1L379.4 203.6L380.8 199.2L382.2 197.9L383.6 209.6L385.0 206.9L386.9 203.3L388.3 203.8L390.7 202.2L392.6 208.6L394.0 210.2L395.4 214.1L396.8 212.8L399.2 210.7L400.6 208.3L402.0 211.4L404.4 208.3L405.8 213.2L408.2 212.3L409.6 212.7L411.5 209.3L413.9 222.6L416.3 217.5L417.7 220.9L419.1 219.0L421.5 220.0L423.9 216.8L425.3 215.3L426.7 211.4L428.1 218.5L429.5 220.0L431.9 217.6L433.3 218.1L435.7 218.4L437.1 218.9L438.5 213.4L439.9 215.3L442.3 210.8L444.2 215.4L446.1 223.1L447.5 218.0L448.9 217.8L450.8 222.5L453.2 227.1L454.6 216.9L456.0 214.7L457.9 220.1L460.3 220.2L462.2 227.6L464.1 228.2L465.5 218.0L466.9 222.0L468.3 216.2L470.2 212.1L472.1 218.5L473.5 213.6L474.9 217.9L477.3 215.7L478.7 212.3L480.6 216.1L482.0 214.0L483.4 209.3L484.8 214.9L487.2 216.8L489.6 215.8L492.0 208.4L493.9 216.3L495.8 216.3L497.2 212.7L499.6 219.5L501.5 212.5L503.9 220.8L505.3 219.6L506.7 214.7L509.1 207.4L510.5 212.7L512.4 212.5L513.8 213.7L516.2 212.3L517.6 220.2L519.5 219.7L521.9 215.4L524.3 215.0L526.2 217.6L528.6 214.6L530.0 212.9L531.4 209.5L533.8 208.1L535.7 200.6L537.1 199.0L539.5 212.1L541.4 202.6L542.8 207.0L544.2 201.0L545.6 198.7L547.5 199.8L549.9 197.4L551.3 199.3L552.7 193.0L555.1 195.9L557.5 201.4L558.9 189.4L560.8 197.3L562.2 196.5L564.6 192.2L566.5 194.3L567.9 189.8L569.3 186.2L571.7 185.4L574.1 185.0L576.0 183.4L577.4 187.7L578.8 181.6L580.2 185.5L582.6 192.4L584.0 186.9L586.4 186.5L588.8 185.8L590.2 188.2L591.6 186.0L593.5 192.6L595.4 193.1L597.3 189.3L598.7 183.3L600.6 190.4L602.5 193.2L603.9 192.9L605.3 196.0L606.7 186.1L608.1 187.6L609.5 183.5L611.4 191.3L613.3 189.3L615.7 184.5L617.6 189.9L619.5 182.1L621.4 185.0L623.3 182.1L625.2 185.4L626.6 177.1L628.0 179.0L630.4 186.7L632.8 186.4L634.2 183.6L635.6 178.0L638.0 186.5L640.4 183.8L642.8 180.9L644.7 180.6L647.1 188.9L649.5 178.0L650.9 185.5L652.3 176.6L653.7 177.7L656.1 179.6L657.5 181.5L658.9 183.0L660.8 180.5L663.2 182.5L664.6 186.8L666.5 183.5L667.9 179.2L670.3 178.9L671.7 186.4L673.6 183.3L676.0 185.0" fill="none" stroke="#8e8e8e" stroke-opacity=".9" stroke-width="1.5" stroke-linejoin="round"/><path d="M121.0 286.7L122.4 297.6L124.8 289.4L127.2 282.0L128.6 278.0L130.5 270.9L131.9 273.8L133.3 268.4L135.7 260.4L137.1 253.8L138.5 247.3L140.9 243.6L142.8 245.3L144.2 242.3L145.6 246.3L147.0 246.9L149.4 246.6L151.8 248.2L153.7 252.7L155.6 246.5L157.5 253.7L159.4 251.5L161.8 239.6L164.2 237.7L166.6 230.1L168.0 244.7L169.4 246.5L170.8 245.0L173.2 239.9L174.6 230.4L176.0 231.7L177.4 239.7L178.8 242.4L180.2 254.1L181.6 259.9L183.0 264.4L184.9 257.6L187.3 254.0L188.7 255.8L190.1 250.1L192.0 249.0L193.4 243.0L195.8 250.3L197.2 251.0L199.1 246.2L201.5 246.5L202.9 245.3L204.3 249.9L206.2 252.0L207.6 260.7L210.0 257.0L211.9 255.7L213.3 262.0L215.7 259.6L218.1 266.9L219.5 273.2L220.9 272.9L223.3 259.9L224.7 258.9L226.1 269.9L227.5 256.2L228.9 260.7L230.3 256.2L232.7 261.9L235.1 252.2L236.5 241.0L238.4 246.6L240.3 243.5L241.7 237.0L244.1 229.3L245.5 230.1L247.9 235.7L250.3 236.3L252.7 233.3L254.6 230.8L256.5 232.1L258.4 238.5L260.3 236.7L261.7 234.6L264.1 241.1L266.0 245.4L267.4 238.1L269.3 250.3L271.7 246.0L274.1 255.3L276.0 250.8L277.9 254.3L279.3 253.7L280.7 249.4L282.6 243.7L284.5 251.5L286.9 238.5L288.3 243.0L289.7 243.3L291.1 242.7L293.5 237.2L295.4 243.0L296.8 237.8L298.2 252.5L299.6 256.2L301.5 251.1L303.9 254.7L305.3 255.9L307.7 253.6L309.1 250.7L310.5 245.9L312.9 255.3L314.8 253.7L316.7 253.8L318.1 254.3L319.5 245.1L320.9 247.6L322.8 247.2L324.2 244.3L326.1 253.2L328.0 252.8L329.9 248.9L331.3 247.9L332.7 247.3L334.1 250.0L335.5 249.1L336.9 240.1L338.3 251.9L340.7 246.1L342.1 251.5L343.5 253.2L345.4 253.5L347.3 251.9L349.7 251.8L351.1 249.7L353.0 249.9L354.4 255.7L355.8 256.8L357.2 252.7L359.6 251.5L362.0 244.9L363.4 256.5L364.8 247.6L367.2 247.5L369.1 251.0L370.5 249.5L372.9 244.4L374.3 246.0L375.7 254.0L377.1 250.3L378.5 250.0L379.9 256.9L381.8 252.9L383.7 257.8L385.6 259.5L387.0 255.8L388.4 259.7L390.3 266.0L391.7 273.6L393.1 270.2L395.5 270.2L396.9 267.4L399.3 268.9L401.7 266.9L403.6 267.6L406.0 265.3L407.9 261.9L409.3 260.7L411.7 258.4L414.1 248.9L415.5 254.4L417.9 258.3L419.3 255.3L420.7 261.8L422.1 263.4L424.5 273.3L425.9 269.2L427.8 267.7L429.2 268.3L431.6 260.8L434.0 271.9L435.4 275.0L437.3 278.4L438.7 274.4L440.6 275.6L442.0 268.7L443.9 273.0L446.3 276.1L447.7 266.9L449.6 268.6L452.0 263.6L453.4 262.5L454.8 268.2L456.7 270.2L458.6 264.6L460.0 271.7L461.4 277.6L462.8 276.0L464.2 281.6L465.6 271.6L467.0 274.3L469.4 280.9L470.8 272.6L473.2 268.2L474.6 274.3L476.0 278.5L477.9 274.2L480.3 280.7L481.7 277.1L483.1 275.2L485.5 265.9L487.9 260.4L490.3 274.0L492.7 270.5L495.1 263.6L496.5 269.2L498.9 262.2L501.3 264.2L503.2 270.8L505.1 266.3L506.5 261.3L508.4 261.1L509.8 262.3L512.2 257.6L514.1 261.8L515.5 271.5L517.9 268.8L519.3 265.6L520.7 262.5L522.1 262.6L523.5 259.9L524.9 257.9L526.3 263.1L527.7 261.0L529.1 254.5L530.5 255.4L532.9 265.9L534.3 268.7L535.7 263.5L537.6 264.1L539.0 263.5L540.4 257.5L542.3 256.9L543.7 259.2L545.1 259.0L547.0 254.3L548.4 249.1L549.8 247.6L551.2 250.2L552.6 246.8L555.0 255.7L556.9 253.1L559.3 254.5L561.2 255.1L562.6 251.5L564.0 253.6L565.9 248.0L567.3 247.8L568.7 247.5L571.1 242.5L573.5 246.9L575.4 247.9L577.8 247.8L580.2 249.1L581.6 234.3L583.5 241.0L584.9 244.2L586.3 241.9L588.2 246.8L590.6 246.2L592.5 239.6L593.9 248.3L595.3 249.6L596.7 257.4L598.6 260.3L600.5 254.2L602.9 267.6L604.3 273.6L605.7 280.2L607.1 269.8L609.5 261.2L611.4 254.1L613.8 245.8L616.2 245.6L617.6 227.6L620.0 236.6L621.9 241.5L624.3 239.2L625.7 233.6L627.1 241.3L628.5 240.6L629.9 234.9L632.3 247.2L633.7 241.2L636.1 244.5L637.5 234.9L638.9 235.2L641.3 238.2L643.7 230.2L645.6 237.6L647.0 245.5L648.4 239.1L650.8 239.4L653.2 238.0L655.1 243.0L657.0 246.0L659.4 245.9L661.3 249.4L662.7 250.2L664.1 247.7L665.5 243.3L667.9 240.2L670.3 239.3L672.7 243.6L675.1 239.5" fill="none" stroke="#8e8e8e" stroke-opacity=".9" stroke-width="1.5" stroke-linejoin="round"/><path d="M802.0 94h1.4v358h-1.4zM811.8 94h2.8v358h-2.8zM827.2 94h2.8v358h-2.8zM830.0 94h1.4v358h-1.4zM834.2 94h1.4v358h-1.4zM841.2 94h1.4v358h-1.4zM850.9 94h1.4v358h-1.4zM855.1 94h1.4v358h-1.4zM856.5 94h1.4v358h-1.4zM863.5 94h1.4v358h-1.4zM878.9 94h1.4v358h-1.4zM880.3 94h1.4v358h-1.4zM884.5 94h1.4v358h-1.4zM891.5 94h1.4v358h-1.4zM892.9 94h1.4v358h-1.4zM901.2 94h1.4v358h-1.4zM902.6 94h1.4v358h-1.4zM920.8 94h1.4v358h-1.4zM930.6 94h1.4v358h-1.4zM939.0 94h1.4v358h-1.4zM946.0 94h1.4v358h-1.4zM947.4 94h1.4v358h-1.4zM954.3 94h1.4v358h-1.4zM965.5 94h1.4v358h-1.4zM972.5 94h1.4v358h-1.4zM999.1 94h1.4v358h-1.4zM1000.4 94h1.4v358h-1.4zM1006.0 94h1.4v358h-1.4zM1007.4 94h1.4v358h-1.4zM1008.8 94h1.4v358h-1.4zM1018.6 94h1.4v358h-1.4zM1020.0 94h1.4v358h-1.4zM1027.0 94h1.4v358h-1.4zM1029.8 94h1.4v358h-1.4zM1041.0 94h1.4v358h-1.4zM1043.8 94h1.4v358h-1.4zM1045.2 94h1.4v358h-1.4zM1046.6 94h1.4v358h-1.4zM1053.5 94h1.4v358h-1.4zM1059.1 94h1.4v358h-1.4zM1063.3 94h1.4v358h-1.4zM1094.1 94h1.4v358h-1.4zM1095.5 94h2.8v358h-2.8zM1098.3 94h1.4v358h-1.4zM1105.2 94h1.4v358h-1.4zM1108.0 94h2.8v358h-2.8zM1112.2 94h2.8v358h-2.8zM1117.8 94h1.4v358h-1.4zM1122.0 94h2.8v358h-2.8zM1126.2 94h1.4v358h-1.4zM1130.4 94h1.4v358h-1.4zM1133.2 94h1.4v358h-1.4zM1138.8 94h1.4v358h-1.4zM1143.0 94h2.8v358h-2.8zM1158.3 94h1.4v358h-1.4zM1162.5 94h1.4v358h-1.4zM1165.3 94h1.4v358h-1.4zM1170.9 94h1.4v358h-1.4zM1175.1 94h1.4v358h-1.4zM1179.3 94h1.4v358h-1.4zM1180.7 94h1.4v358h-1.4zM1201.6 94h1.4v358h-1.4zM1203.0 94h2.8v358h-2.8zM1210.0 94h1.4v358h-1.4zM1214.2 94h1.4v358h-1.4zM1226.8 94h1.4v358h-1.4zM1235.2 94h2.8v358h-2.8zM1238.0 94h1.4v358h-1.4zM1242.2 94h1.4v358h-1.4zM1258.9 94h1.4v358h-1.4zM1271.5 94h1.4v358h-1.4zM1272.9 94h1.4v358h-1.4zM1291.1 94h2.8v358h-2.8zM1306.4 94h2.8v358h-2.8zM1309.2 94h1.4v358h-1.4zM1317.6 94h1.4v358h-1.4zM1330.2 94h1.4v358h-1.4zM1351.1 94h1.4v358h-1.4z" fill="#000" fill-opacity="0.01" shape-rendering="crispEdges"/><path d="M803.4 94h1.4v358h-1.4zM804.8 94h1.4v358h-1.4zM814.6 94h2.8v358h-2.8zM821.6 94h2.8v358h-2.8zM832.8 94h1.4v358h-1.4zM837.0 94h1.4v358h-1.4zM839.8 94h1.4v358h-1.4zM845.4 94h2.8v358h-2.8zM848.2 94h1.4v358h-1.4zM849.6 94h1.4v358h-1.4zM862.1 94h1.4v358h-1.4zM864.9 94h2.8v358h-2.8zM874.7 94h1.4v358h-1.4zM888.7 94h1.4v358h-1.4zM895.7 94h1.4v358h-1.4zM904.0 94h2.8v358h-2.8zM908.2 94h1.4v358h-1.4zM909.6 94h1.4v358h-1.4zM913.8 94h1.4v358h-1.4zM915.2 94h2.8v358h-2.8zM932.0 94h1.4v358h-1.4zM934.8 94h1.4v358h-1.4zM944.6 94h1.4v358h-1.4zM948.8 94h1.4v358h-1.4zM955.7 94h1.4v358h-1.4zM957.1 94h1.4v358h-1.4zM966.9 94h1.4v358h-1.4zM971.1 94h1.4v358h-1.4zM973.9 94h2.8v358h-2.8zM992.1 94h1.4v358h-1.4zM997.7 94h1.4v358h-1.4zM1001.8 94h1.4v358h-1.4zM1011.6 94h1.4v358h-1.4zM1013.0 94h1.4v358h-1.4zM1014.4 94h1.4v358h-1.4zM1015.8 94h1.4v358h-1.4zM1025.6 94h1.4v358h-1.4zM1035.4 94h1.4v358h-1.4zM1038.2 94h1.4v358h-1.4zM1050.7 94h1.4v358h-1.4zM1061.9 94h1.4v358h-1.4zM1077.3 94h1.4v358h-1.4zM1087.1 94h1.4v358h-1.4zM1092.7 94h1.4v358h-1.4zM1102.4 94h1.4v358h-1.4zM1110.8 94h1.4v358h-1.4zM1115.0 94h1.4v358h-1.4zM1119.2 94h1.4v358h-1.4zM1124.8 94h1.4v358h-1.4zM1134.6 94h1.4v358h-1.4zM1136.0 94h2.8v358h-2.8zM1140.2 94h1.4v358h-1.4zM1145.8 94h1.4v358h-1.4zM1152.7 94h1.4v358h-1.4zM1154.1 94h1.4v358h-1.4zM1155.5 94h1.4v358h-1.4zM1177.9 94h1.4v358h-1.4zM1182.1 94h1.4v358h-1.4zM1183.5 94h1.4v358h-1.4zM1184.9 94h1.4v358h-1.4zM1187.7 94h1.4v358h-1.4zM1190.5 94h1.4v358h-1.4zM1191.9 94h2.8v358h-2.8zM1197.5 94h2.8v358h-2.8zM1205.8 94h1.4v358h-1.4zM1212.8 94h1.4v358h-1.4zM1218.4 94h1.4v358h-1.4zM1221.2 94h1.4v358h-1.4zM1224.0 94h1.4v358h-1.4zM1229.6 94h1.4v358h-1.4zM1251.9 94h1.4v358h-1.4zM1278.5 94h1.4v358h-1.4zM1279.9 94h1.4v358h-1.4zM1286.9 94h1.4v358h-1.4zM1300.8 94h1.4v358h-1.4zM1302.2 94h1.4v358h-1.4zM1303.6 94h1.4v358h-1.4zM1320.4 94h1.4v358h-1.4zM1324.6 94h1.4v358h-1.4zM1326.0 94h1.4v358h-1.4zM1327.4 94h1.4v358h-1.4zM1328.8 94h1.4v358h-1.4zM1347.0 94h1.4v358h-1.4zM1349.7 94h1.4v358h-1.4zM1352.5 94h1.4v358h-1.4zM1355.3 94h1.4v358h-1.4z" fill="#fff" fill-opacity="0.01" shape-rendering="crispEdges"/><path d="M817.4 94h1.4v358h-1.4zM820.2 94h1.4v358h-1.4zM867.7 94h1.4v358h-1.4zM923.6 94h2.8v358h-2.8zM927.8 94h2.8v358h-2.8zM937.6 94h1.4v358h-1.4zM940.4 94h1.4v358h-1.4zM958.5 94h1.4v358h-1.4zM983.7 94h1.4v358h-1.4zM1010.2 94h1.4v358h-1.4zM1017.2 94h1.4v358h-1.4zM1022.8 94h1.4v358h-1.4zM1034.0 94h1.4v358h-1.4zM1042.4 94h1.4v358h-1.4zM1048.0 94h1.4v358h-1.4zM1060.5 94h1.4v358h-1.4zM1068.9 94h1.4v358h-1.4zM1081.5 94h2.8v358h-2.8zM1127.6 94h2.8v358h-2.8zM1147.2 94h1.4v358h-1.4zM1161.1 94h1.4v358h-1.4zM1194.7 94h1.4v358h-1.4zM1228.2 94h1.4v358h-1.4zM1231.0 94h1.4v358h-1.4zM1254.7 94h2.8v358h-2.8zM1257.5 94h1.4v358h-1.4zM1265.9 94h2.8v358h-2.8zM1268.7 94h1.4v358h-1.4zM1275.7 94h2.8v358h-2.8zM1282.7 94h1.4v358h-1.4zM1284.1 94h1.4v358h-1.4zM1331.6 94h2.8v358h-2.8zM1338.6 94h1.4v358h-1.4z" fill="#000" fill-opacity="0.02" shape-rendering="crispEdges"/><path d="M852.3 94h2.8v358h-2.8zM1064.7 94h2.8v358h-2.8zM1073.1 94h1.4v358h-1.4z" fill="#000" fill-opacity="0.03" shape-rendering="crispEdges"/><path d="M859.3 94h1.4v358h-1.4zM869.1 94h2.8v358h-2.8zM897.1 94h1.4v358h-1.4zM906.8 94h1.4v358h-1.4zM941.8 94h1.4v358h-1.4zM950.1 94h1.4v358h-1.4zM969.7 94h1.4v358h-1.4zM976.7 94h1.4v358h-1.4zM986.5 94h1.4v358h-1.4zM987.9 94h1.4v358h-1.4zM996.3 94h1.4v358h-1.4zM1003.2 94h2.8v358h-2.8zM1089.9 94h1.4v358h-1.4zM1116.4 94h1.4v358h-1.4zM1169.5 94h1.4v358h-1.4zM1186.3 94h1.4v358h-1.4zM1196.1 94h1.4v358h-1.4zM1207.2 94h2.8v358h-2.8zM1232.4 94h2.8v358h-2.8zM1243.6 94h1.4v358h-1.4zM1261.7 94h1.4v358h-1.4zM1321.8 94h2.8v358h-2.8zM1342.8 94h1.4v358h-1.4z" fill="#fff" fill-opacity="0.02" shape-rendering="crispEdges"/><path d="M911.0 94h2.8v358h-2.8zM952.9 94h1.4v358h-1.4zM1071.7 94h1.4v358h-1.4zM1159.7 94h1.4v358h-1.4zM1293.9 94h2.8v358h-2.8zM1353.9 94h1.4v358h-1.4z" fill="#fff" fill-opacity="0.03" shape-rendering="crispEdges"/><path d="M1222.6 94h1.4v358h-1.4z" fill="#000" fill-opacity="0.04" shape-rendering="crispEdges"/><path d="M826.5 94h1.9v53.1h-1.9zM830.4 94h1.4v17.1h-1.4zM831.8 94h2.4v44.1h-2.4zM836.8 94h2.4v26.1h-2.4zM842.3 94h2.4v26.1h-2.4zM844.7 94h2.0v17.1h-2.0zM847.5 94h1.4v44.1h-1.4zM852.5 94h2.4v26.1h-2.4zM856.9 94h2.0v8.1h-2.0zM858.5 94h1.9v17.1h-1.9zM863.6 94h1.9v26.1h-1.9zM867.5 94h2.8v17.1h-2.8zM869.1 94h1.9v53.1h-1.9zM871.0 94h2.8v17.1h-2.8zM874.8 94h1.9v53.1h-1.9zM880.6 94h1.9v44.1h-1.9zM882.5 94h1.4v17.1h-1.4zM886.6 94h2.4v35.1h-2.4zM890.6 94h1.4v17.1h-1.4zM892.6 94h1.4v44.1h-1.4zM896.0 94h3.2v8.1h-3.2zM898.6 94h1.4v26.1h-1.4zM901.6 94h2.8v17.1h-2.8zM903.7 94h1.4v44.1h-1.4zM905.1 94h1.4v8.1h-1.4zM909.0 94h1.4v44.1h-1.4zM912.4 94h2.8v17.1h-2.8zM914.7 94h1.4v53.1h-1.4zM917.7 94h2.8v8.1h-2.8zM920.0 94h2.4v26.1h-2.4zM926.0 94h1.4v44.1h-1.4zM929.4 94h2.0v8.1h-2.0zM932.1 94h1.9v44.1h-1.9zM935.6 94h1.4v17.1h-1.4zM937.6 94h1.9v26.1h-1.9zM941.5 94h2.0v8.1h-2.0zM943.8 94h1.9v17.1h-1.9zM947.2 94h2.8v17.1h-2.8zM949.5 94h2.4v26.1h-2.4zM951.9 94h1.4v8.1h-1.4zM955.3 94h2.4v44.1h-2.4zM959.3 94h2.0v8.1h-2.0zM960.6 94h1.9v44.1h-1.9zM964.1 94h3.2v8.1h-3.2zM965.8 94h1.4v35.1h-1.4zM971.8 94h1.9v53.1h-1.9zM977.7 94h1.4v53.1h-1.4zM980.7 94h2.0v17.1h-2.0zM983.5 94h1.9v35.1h-1.9zM987.0 94h2.0v17.1h-2.0zM989.5 94h1.9v35.1h-1.9zM991.4 94h2.0v8.1h-2.0zM995.0 94h1.9v44.1h-1.9zM998.5 94h1.4v17.1h-1.4zM1001.0 94h1.9v26.1h-1.9zM1004.5 94h2.8v17.1h-2.8zM1006.4 94h2.4v44.1h-2.4zM1010.8 94h3.2v8.1h-3.2zM1011.8 94h1.9v44.1h-1.9zM1013.7 94h3.2v17.1h-3.2zM1017.9 94h2.4v44.1h-2.4zM1024.1 94h1.9v53.1h-1.9zM1027.1 94h1.4v17.1h-1.4zM1029.9 94h1.4v44.1h-1.4zM1036.1 94h1.9v26.1h-1.9zM1038.0 94h1.4v17.1h-1.4zM1041.7 94h1.9v44.1h-1.9zM1044.8 94h1.4v17.1h-1.4zM1047.6 94h1.4v35.1h-1.4zM1050.6 94h2.0v8.1h-2.0zM1053.2 94h2.4v26.1h-2.4zM1057.2 94h2.0v8.1h-2.0zM1059.4 94h1.4v35.1h-1.4zM1062.0 94h2.8v8.1h-2.8zM1064.5 94h1.4v17.1h-1.4zM1067.9 94h1.4v8.1h-1.4zM1070.5 94h2.4v26.1h-2.4zM1074.9 94h2.8v8.1h-2.8zM1075.8 94h1.9v26.1h-1.9zM1077.7 94h1.4v8.1h-1.4zM1081.8 94h1.4v35.1h-1.4zM1085.2 94h2.8v8.1h-2.8zM1087.3 94h1.9v26.1h-1.9zM1091.2 94h2.8v8.1h-2.8zM1092.7 94h1.9v26.1h-1.9zM1094.6 94h2.0v17.1h-2.0zM1098.0 94h2.4v35.1h-2.4zM1101.6 94h1.4v8.1h-1.4zM1103.0 94h2.4v26.1h-2.4zM1107.4 94h1.4v8.1h-1.4zM1108.6 94h1.9v26.1h-1.9zM1112.5 94h3.2v8.1h-3.2zM1114.3 94h1.9v35.1h-1.9zM1118.2 94h2.0v17.1h-2.0zM1119.6 94h1.4v53.1h-1.4zM1122.6 94h2.8v8.1h-2.8zM1124.7 94h1.4v26.1h-1.4zM1126.1 94h2.8v17.1h-2.8zM1130.3 94h1.4v17.1h-1.4zM1132.9 94h2.0v17.1h-2.0zM1135.9 94h1.4v35.1h-1.4zM1139.3 94h2.0v8.1h-2.0zM1140.9 94h1.4v26.1h-1.4zM1146.3 94h1.9v35.1h-1.9zM1148.2 94h2.0v8.1h-2.0zM1152.5 94h1.4v26.1h-1.4zM1155.5 94h2.0v8.1h-2.0zM1158.1 94h1.9v44.1h-1.9zM1162.0 94h3.2v8.1h-3.2zM1163.4 94h2.4v53.1h-2.4zM1167.8 94h1.4v17.1h-1.4zM1168.8 94h2.4v35.1h-2.4zM1173.2 94h3.2v8.1h-3.2zM1174.4 94h1.9v35.1h-1.9zM1180.2 94h2.4v35.1h-2.4zM1183.8 94h2.8v8.1h-2.8zM1185.8 94h1.9v44.1h-1.9zM1189.3 94h3.2v17.1h-3.2zM1190.9 94h1.9v44.1h-1.9zM1194.4 94h1.4v8.1h-1.4zM1196.9 94h2.4v44.1h-2.4zM1200.5 94h2.8v8.1h-2.8zM1202.5 94h1.9v26.1h-1.9zM1206.4 94h2.0v17.1h-2.0zM1207.9 94h1.4v17.1h-1.4zM1213.6 94h1.4v17.1h-1.4zM1219.6 94h1.4v44.1h-1.4zM1222.6 94h2.0v8.1h-2.0zM1225.5 94h1.9v35.1h-1.9zM1227.4 94h2.8v8.1h-2.8zM1231.4 94h1.9v35.1h-1.9zM1237.4 94h1.4v35.1h-1.4zM1240.4 94h2.8v8.1h-2.8zM1243.3 94h1.9v26.1h-1.9zM1245.2 94h2.8v8.1h-2.8zM1248.8 94h2.4v35.1h-2.4zM1252.4 94h3.2v17.1h-3.2zM1254.3 94h1.9v35.1h-1.9zM1259.4 94h2.4v44.1h-2.4zM1264.9 94h2.4v44.1h-2.4zM1268.9 94h1.4v8.1h-1.4zM1270.8 94h1.4v17.1h-1.4zM1276.6 94h1.9v35.1h-1.9zM1282.0 94h1.4v35.1h-1.4zM1285.0 94h3.2v17.1h-3.2zM1287.5 94h1.9v17.1h-1.9zM1291.4 94h2.8v8.1h-2.8zM1292.9 94h1.4v35.1h-1.4zM1296.3 94h2.8v8.1h-2.8zM1298.7 94h2.4v26.1h-2.4zM1302.3 94h1.4v17.1h-1.4zM1304.0 94h1.9v53.1h-1.9zM1307.5 94h3.2v17.1h-3.2zM1309.6 94h1.4v53.1h-1.4zM1313.0 94h1.4v8.1h-1.4zM1315.2 94h1.4v35.1h-1.4zM1320.6 94h2.4v26.1h-2.4zM1324.1 94h2.0v17.1h-2.0zM1325.8 94h1.9v35.1h-1.9zM1328.9 94h2.8v8.1h-2.8zM1331.7 94h1.4v17.1h-1.4zM1335.1 94h3.2v8.1h-3.2zM1337.6 94h1.9v17.1h-1.9zM1341.1 94h3.2v8.1h-3.2zM1343.3 94h1.4v35.1h-1.4zM1345.9 94h3.2v8.1h-3.2zM1349.0 94h2.4v44.1h-2.4zM1352.6 94h2.0v8.1h-2.0zM1354.6 94h2.4v35.1h-2.4z" fill="#cccccc" shape-rendering="crispEdges"/><rect x="805" y="353.6" width="3.8" height="98.5" fill="#cccccc"/><rect x="806" y="190.7" width="1" height="162.9" fill="#cccccc"/><path d="M803.0 141.7L804.9 148.9L807.3 152.4L809.7 126.6L811.1 133.1L812.5 139.1L813.9 134.8L815.3 146.1L816.7 143.7L818.1 137.6L819.5 121.7L821.9 146.4L824.3 149.1L826.7 145.6L828.1 134.6L829.5 129.1L830.9 139.8L832.3 139.2L834.7 147.0L837.1 151.5L839.5 148.9L841.9 150.3L843.3 146.5L844.7 143.8L846.1 133.5L848.5 135.8L849.9 137.1L852.2 142.1L854.1 135.2L856.5 143.6L858.4 146.1L859.8 140.0L861.2 144.4L863.6 148.1L865.0 132.1L866.4 137.3L868.3 129.4L869.7 133.0L871.1 128.2L873.0 126.9L874.9 136.3L876.3 122.2L877.7 141.1L879.1 150.3L881.5 132.5L882.9 142.5L885.3 140.8L886.7 135.1L888.6 129.5L890.0 134.9L891.4 136.7L893.8 137.5L896.2 140.1L898.1 137.3L899.9 139.3L902.3 135.6L903.7 140.0L905.1 127.6L906.5 131.4L908.4 124.7L909.8 138.0L912.2 130.7L913.6 144.2L915.5 129.4L916.9 136.7L919.3 125.4L921.7 117.8L923.6 120.8L925.0 122.2L926.4 126.2L928.8 121.4L930.2 112.2L932.1 117.8L934.5 122.1L936.4 124.1L937.8 119.4L939.2 132.5L940.6 136.5L942.0 125.5L943.4 121.9L944.8 128.4L946.7 129.3L949.1 128.3L950.4 133.0L951.8 136.7L953.2 140.9L954.6 136.6L957.0 135.2L958.4 129.1L959.8 139.6L961.7 145.5L963.1 136.3L964.5 132.4L966.4 139.6L968.8 140.5L970.2 137.1L972.1 142.9L973.5 137.7L974.9 133.7L976.3 133.5L978.2 146.0L980.6 143.9L982.0 146.1L984.4 133.7L985.8 133.9L988.2 129.4L990.6 139.5L992.0 138.1L993.4 138.7L995.3 138.4L997.7 139.0L999.1 133.4L1001.4 133.9L1002.8 144.5L1004.2 134.5L1005.6 140.9L1008.0 133.9L1009.9 132.5L1011.3 132.5L1013.2 141.1L1015.6 149.6L1017.0 129.2L1018.4 137.8L1020.8 147.0L1022.2 147.1L1024.1 146.1L1026.5 143.9L1027.9 137.0L1029.3 141.7L1031.2 140.2L1033.1 138.3L1035.0 136.9L1036.4 149.7L1038.3 145.6L1039.7 152.9L1041.1 144.0L1043.0 146.4L1045.4 144.5L1047.8 142.4L1049.6 152.3L1051.0 146.0L1052.4 141.6L1053.8 153.2L1055.7 150.8L1057.6 158.7L1059.0 153.9L1061.4 144.6L1062.8 144.4L1064.2 154.2L1066.1 151.7L1067.5 139.7L1069.4 154.4L1070.8 161.2L1073.2 163.9L1074.6 153.7L1076.0 160.4L1077.4 145.1L1079.8 148.0L1081.2 153.0L1083.6 153.9L1085.0 160.8L1087.4 164.7L1089.8 155.9L1091.2 149.9L1093.1 160.9L1094.5 164.8L1095.9 159.6L1097.3 157.3L1098.7 157.0L1100.0 165.7L1101.4 158.5L1103.8 158.8L1105.2 166.1L1107.1 163.9L1109.0 154.3L1111.4 165.9L1112.8 160.9L1114.2 165.9L1116.1 155.8L1117.5 155.3L1118.9 158.9L1120.3 154.3L1122.7 165.5L1124.1 150.0L1125.5 156.2L1126.9 153.2L1128.8 149.4L1130.7 170.4L1132.1 168.5L1134.0 162.9L1135.4 164.3L1136.8 155.3L1138.2 170.1L1140.6 162.8L1142.0 166.0L1143.9 173.4L1146.3 166.6L1148.2 152.2L1149.5 162.7L1151.4 172.4L1153.3 146.7L1155.7 150.3L1157.1 170.2L1158.5 162.3L1159.9 168.4L1161.8 158.7L1163.2 164.8L1165.6 168.3L1168.0 160.5L1169.9 149.9L1171.3 151.8L1173.7 161.2L1176.1 160.3L1178.5 169.5L1179.9 175.3L1182.3 168.2L1184.2 163.8L1185.6 153.7L1188.0 163.8L1189.9 166.6L1192.3 167.1L1194.7 168.2L1196.1 177.5L1197.5 166.9L1199.8 157.7L1202.2 162.6L1203.6 164.8L1205.5 149.0L1207.4 152.0L1208.8 145.4L1210.2 145.6L1211.6 146.3L1213.5 148.5L1215.4 151.1L1216.8 145.3L1218.2 140.6L1219.6 151.1L1222.0 152.6L1223.4 158.3L1225.3 148.4L1226.7 144.8L1228.1 145.9L1230.0 140.4L1231.4 135.1L1232.8 144.7L1235.2 141.5L1237.6 124.3L1239.5 136.9L1241.9 133.2L1243.8 131.3L1245.2 131.5L1247.6 146.2L1249.0 135.8L1251.3 139.4L1252.7 140.4L1254.1 124.6L1256.0 131.0L1257.9 136.1L1259.8 134.7L1261.2 131.1L1263.6 136.5L1265.0 139.4L1266.4 137.0L1267.8 139.1L1270.2 139.6L1271.6 139.9L1273.0 142.2L1274.4 141.3L1275.8 141.5L1277.2 147.6L1279.6 139.6L1281.5 145.6L1283.9 149.6L1286.3 145.2L1288.7 149.5L1290.1 157.8L1292.0 147.5L1293.4 133.5L1295.3 135.4L1297.2 148.6L1299.5 147.5L1300.9 139.9L1302.8 134.4L1304.2 135.7L1305.6 137.1L1307.5 145.5L1309.9 142.6L1312.3 138.9L1313.7 134.6L1315.6 134.1L1317.0 148.2L1318.9 145.5L1321.3 148.6L1323.7 157.4L1325.1 148.7L1326.5 148.9L1328.4 156.6L1330.8 148.7L1332.2 145.9L1334.6 138.9L1336.0 143.7L1337.4 154.5L1339.3 142.2L1340.7 145.9L1342.6 140.9L1344.0 134.6L1345.4 143.6L1347.3 166.2L1349.6 153.5L1352.0 135.7L1353.4 138.5L1355.3 138.7L1356.7 144.7" fill="none" stroke="#8e8e8e" stroke-opacity=".9" stroke-width="1.5" stroke-linejoin="round"/><path d="M803.0 154.3L804.4 171.1L806.8 158.2L808.2 154.6L809.6 160.5L811.0 158.0L812.9 154.9L814.3 156.2L815.7 157.0L817.1 157.6L819.5 157.0L820.9 159.7L822.3 159.2L824.2 152.9L826.1 150.3L828.5 160.6L829.9 150.3L831.8 156.9L833.7 169.7L836.1 163.9L838.0 162.3L839.9 167.7L841.8 169.1L843.2 159.9L845.1 157.4L846.5 167.7L847.9 165.4L849.8 162.7L851.1 158.7L852.5 166.0L853.9 170.0L855.3 169.0L856.7 159.3L858.1 171.8L860.0 171.4L862.4 164.8L864.8 166.7L867.2 165.9L868.6 154.1L870.0 159.7L872.4 165.0L873.8 164.6L876.2 162.0L878.6 158.5L880.0 149.4L881.4 157.2L882.8 154.5L885.2 160.3L887.6 158.3L889.0 163.1L890.4 149.9L891.8 162.5L893.2 158.5L894.6 167.6L897.0 149.2L898.4 151.4L900.7 153.4L903.1 151.7L905.0 155.1L906.4 151.8L907.8 164.9L909.2 162.9L911.1 152.7L913.0 147.3L914.9 156.9L916.3 159.3L917.7 150.0L920.1 148.9L921.5 153.8L923.9 150.2L925.8 152.7L927.7 143.6L930.1 141.8L931.5 139.0L933.4 137.2L934.8 139.4L936.2 135.1L937.6 149.2L940.0 149.2L942.4 148.1L944.3 149.5L945.7 157.1L947.1 149.4L949.0 152.2L950.3 154.2L951.7 149.8L953.1 155.1L955.5 152.5L957.9 142.4L959.8 153.8L961.2 156.5L962.6 156.3L965.0 147.6L966.4 163.8L968.3 157.6L970.7 154.9L972.1 161.3L973.5 160.7L975.4 159.6L977.8 159.3L979.2 162.9L980.6 165.7L982.0 163.4L983.4 165.3L984.8 162.6L986.2 174.3L988.6 165.2L990.0 168.2L991.9 170.6L994.3 169.9L995.7 153.6L997.1 167.8L999.5 164.5L1000.8 155.6L1002.7 170.9L1004.1 165.4L1005.5 163.0L1006.9 168.7L1008.3 169.4L1010.7 168.2L1013.1 162.9L1015.5 165.0L1017.9 175.7L1019.3 169.4L1021.2 155.3L1022.6 162.1L1024.5 171.7L1025.9 164.6L1028.3 169.7L1030.7 170.4L1032.1 160.0L1034.5 169.1L1036.4 181.4L1037.8 169.9L1040.2 172.8L1041.6 175.1L1044.0 163.5L1046.4 180.4L1047.8 169.9L1049.6 169.1L1051.5 181.4L1053.9 184.8L1055.8 180.3L1057.2 173.3L1059.6 169.0L1061.5 180.8L1063.4 168.0L1065.8 179.1L1067.2 184.8L1068.6 172.0L1070.0 177.2L1071.9 178.0L1074.3 178.6L1076.7 188.2L1078.1 189.4L1079.5 188.1L1081.9 182.3L1083.3 183.1L1085.2 188.5L1086.6 195.1L1088.0 190.7L1089.4 186.9L1090.8 193.1L1092.2 194.1L1093.6 189.4L1095.5 196.6L1096.9 186.9L1098.3 198.4L1100.6 189.6L1102.5 204.3L1104.4 199.5L1105.8 203.3L1107.2 195.0L1109.6 185.7L1111.5 187.6L1113.9 187.1L1115.8 179.2L1117.2 187.3L1118.6 193.2L1120.0 194.4L1121.4 194.9L1122.8 192.7L1124.2 184.8L1126.6 186.5L1128.0 187.4L1129.4 189.8L1130.8 198.5L1132.7 189.4L1134.6 195.8L1136.0 186.9L1137.9 193.1L1139.3 189.8L1140.7 192.9L1142.1 197.0L1144.5 189.1L1145.9 195.8L1147.8 195.7L1149.2 197.6L1150.5 198.2L1151.9 190.7L1153.3 187.6L1155.7 197.9L1157.1 190.4L1158.5 200.5L1160.4 189.8L1161.8 192.4L1163.7 188.8L1165.6 179.0L1167.5 192.8L1169.4 187.2L1170.8 191.0L1172.7 190.7L1174.6 189.1L1176.0 183.2L1178.4 187.8L1179.8 187.6L1181.2 187.0L1182.6 190.3L1184.0 189.7L1186.4 195.4L1188.8 198.8L1190.2 196.6L1192.6 188.1L1194.0 196.9L1195.4 200.4L1197.3 181.4L1199.6 189.9L1201.5 188.8L1203.4 200.5L1204.8 191.1L1206.2 193.3L1207.6 186.1L1209.5 190.2L1211.9 187.7L1214.3 188.6L1216.2 178.8L1217.6 172.5L1219.0 174.3L1220.4 169.0L1222.8 174.4L1224.2 177.3L1226.6 174.6L1229.0 163.3L1231.4 172.1L1233.8 171.4L1235.7 163.2L1237.1 165.6L1239.0 164.6L1240.9 174.3L1242.3 174.7L1244.7 177.8L1246.6 162.3L1248.0 169.6L1249.3 171.1L1251.7 167.6L1253.1 172.9L1254.5 165.0L1255.9 164.9L1257.3 163.9L1259.7 161.2L1262.1 161.5L1264.5 162.4L1265.9 157.7L1267.3 151.8L1269.2 155.0L1270.6 159.5L1272.0 155.9L1273.9 161.8L1276.3 165.7L1277.7 162.0L1280.1 159.1L1282.5 160.4L1284.9 170.1L1286.3 168.4L1288.7 166.0L1291.1 167.8L1293.0 161.7L1295.4 161.4L1296.8 156.5L1298.2 158.6L1300.5 165.1L1301.9 163.7L1303.3 156.4L1305.2 152.9L1306.6 154.9L1308.5 153.2L1309.9 159.5L1311.3 154.1L1312.7 156.9L1314.1 148.7L1316.5 155.8L1317.9 155.2L1319.3 161.8L1320.7 165.5L1322.1 160.0L1324.5 164.7L1326.4 162.6L1327.8 159.0L1330.2 161.3L1332.1 160.2L1334.0 162.2L1335.4 151.7L1337.8 161.1L1340.2 170.0L1342.1 164.2L1343.5 158.3L1345.9 164.6L1347.3 169.2L1348.7 158.4L1350.0 167.7L1351.9 163.7L1354.3 169.5L1356.2 171.2" fill="none" stroke="#8e8e8e" stroke-opacity=".9" stroke-width="1.5" stroke-linejoin="round"/><path d="M803.0 185.4L804.4 197.6L805.8 195.1L807.7 196.1L809.1 194.3L811.0 181.4L812.4 182.1L814.8 173.4L816.2 170.1L818.6 183.2L820.0 172.0L821.4 188.9L823.8 193.2L825.2 192.9L827.1 201.5L828.5 208.6L829.9 203.2L831.3 202.5L833.7 202.0L835.1 195.1L836.5 199.4L837.9 194.2L840.3 197.8L842.7 197.6L844.1 200.5L846.5 193.4L847.9 194.9L849.3 194.8L851.6 190.1L853.0 188.6L854.4 185.5L856.3 181.1L858.2 187.9L859.6 195.5L861.0 193.1L862.9 185.8L865.3 188.5L866.7 188.6L869.1 186.4L871.0 187.7L872.4 190.8L874.8 186.8L877.2 184.8L878.6 181.4L880.0 184.3L881.4 185.1L882.8 177.9L884.7 182.8L887.1 183.8L889.5 178.1L890.9 186.1L892.3 189.4L893.7 176.6L895.1 177.7L896.5 175.6L897.9 177.8L899.3 176.8L901.6 172.7L904.0 183.1L905.9 177.8L908.3 177.1L909.7 167.7L911.1 166.8L912.5 173.0L913.9 160.9L915.3 166.0L916.7 179.8L919.1 169.4L920.5 172.8L922.9 170.6L924.3 167.1L925.7 168.6L927.1 164.1L928.5 163.1L930.4 161.3L932.8 168.3L934.2 163.8L936.6 165.4L938.5 158.7L940.9 165.0L943.3 161.3L945.2 164.6L947.1 167.7L949.5 174.3L950.8 176.6L952.2 168.0L954.1 163.7L956.0 168.9L957.4 168.0L958.8 175.0L960.2 181.8L961.6 171.3L963.5 170.3L964.9 174.4L966.3 181.9L967.7 181.2L970.1 182.2L972.5 188.7L974.4 174.2L976.8 172.9L978.2 170.6L980.1 179.0L982.0 188.8L984.4 187.6L985.8 179.3L987.2 183.0L988.6 181.5L990.0 179.6L991.4 184.9L993.3 182.5L994.7 187.8L996.6 188.5L998.0 186.0L999.4 188.3L1000.7 183.0L1002.6 185.2L1004.0 183.2L1005.4 178.6L1007.8 184.5L1009.2 182.8L1011.1 185.1L1012.5 185.1L1013.9 181.1L1015.3 173.4L1016.7 185.5L1018.1 180.9L1020.0 173.0L1021.9 181.8L1023.3 188.0L1024.7 187.7L1026.1 192.6L1027.5 190.1L1029.9 192.0L1031.3 186.8L1033.7 194.3L1035.1 198.7L1037.0 191.5L1038.4 194.9L1039.8 191.8L1042.2 187.5L1043.6 203.0L1045.0 197.6L1046.9 203.3L1048.3 203.1L1049.6 195.5L1051.5 193.3L1053.9 209.0L1055.3 200.8L1056.7 208.5L1058.1 211.3L1059.5 208.1L1060.9 203.6L1062.3 199.2L1063.7 197.9L1065.1 209.6L1066.5 206.9L1068.4 203.3L1069.8 203.8L1072.2 202.2L1074.1 208.6L1075.5 210.2L1076.9 214.1L1078.3 212.8L1080.7 210.7L1082.1 208.3L1083.5 211.4L1085.9 208.3L1087.3 213.2L1089.7 212.3L1091.1 212.7L1093.0 209.3L1095.4 222.6L1097.8 217.5L1099.2 220.9L1100.5 219.0L1102.9 220.0L1105.3 216.8L1106.7 215.3L1108.1 211.4L1109.5 218.5L1110.9 220.0L1113.3 217.6L1114.7 218.1L1117.1 218.4L1118.5 218.9L1119.9 213.4L1121.3 215.3L1123.7 210.8L1125.6 215.4L1127.5 223.1L1128.9 218.0L1130.3 217.8L1132.2 222.5L1134.6 227.1L1136.0 216.9L1137.4 214.7L1139.3 220.1L1141.7 220.2L1143.6 227.6L1145.5 228.2L1146.9 218.0L1148.3 222.0L1149.6 216.2L1151.5 212.1L1153.4 218.5L1154.8 213.6L1156.2 217.9L1158.6 215.7L1160.0 212.3L1161.9 216.1L1163.3 214.0L1164.7 209.3L1166.1 214.9L1168.5 216.8L1170.9 215.8L1173.3 208.4L1175.2 216.3L1177.1 216.3L1178.5 212.7L1180.9 219.5L1182.8 212.5L1185.2 220.8L1186.6 219.6L1188.0 214.7L1190.4 207.4L1191.8 212.7L1193.7 212.5L1195.1 213.7L1197.5 212.3L1198.9 220.2L1200.7 219.7L1203.1 215.4L1205.5 215.0L1207.4 217.6L1209.8 214.6L1211.2 212.9L1212.6 209.5L1215.0 208.1L1216.9 200.6L1218.3 199.0L1220.7 212.1L1222.6 202.6L1224.0 207.0L1225.4 201.0L1226.8 198.7L1228.7 199.8L1231.1 197.4L1232.5 199.3L1233.9 193.0L1236.3 195.9L1238.7 201.4L1240.1 189.4L1242.0 197.3L1243.4 196.5L1245.8 192.2L1247.7 194.3L1249.1 189.8L1250.4 186.2L1252.8 185.4L1255.2 185.0L1257.1 183.4L1258.5 187.7L1259.9 181.6L1261.3 185.5L1263.7 192.4L1265.1 186.9L1267.5 186.5L1269.9 185.8L1271.3 188.2L1272.7 186.0L1274.6 192.6L1276.5 193.1L1278.4 189.3L1279.8 183.3L1281.7 190.4L1283.6 193.2L1285.0 192.9L1286.4 196.0L1287.8 186.1L1289.2 187.6L1290.6 183.5L1292.5 191.3L1294.4 189.3L1296.8 184.5L1298.7 189.9L1300.5 182.1L1302.4 185.0L1304.3 182.1L1306.2 185.4L1307.6 177.1L1309.0 179.0L1311.4 186.7L1313.8 186.4L1315.2 183.6L1316.6 178.0L1319.0 186.5L1321.4 183.8L1323.8 180.9L1325.7 180.6L1328.1 188.9L1330.5 178.0L1331.9 185.5L1333.3 176.6L1334.7 177.7L1337.1 179.6L1338.5 181.5L1339.9 183.0L1341.8 180.5L1344.2 182.5L1345.6 186.8L1347.5 183.5L1348.9 179.2L1351.2 178.9L1352.6 186.4L1354.5 183.3L1356.9 185.0" fill="none" stroke="#8e8e8e" stroke-opacity=".9" stroke-width="1.5" stroke-linejoin="round"/><path d="M803.0 286.7L804.4 297.6L806.8 289.4L809.2 282.0L810.6 278.0L812.5 270.9L813.9 273.8L815.3 268.4L817.7 260.4L819.1 253.8L820.5 247.3L822.9 243.6L824.8 245.3L826.2 242.3L827.6 246.3L829.0 246.9L831.4 246.6L833.8 248.2L835.7 252.7L837.6 246.5L839.5 253.7L841.4 251.5L843.8 239.6L846.2 237.7L848.6 230.1L850.0 244.7L851.3 246.5L852.7 245.0L855.1 239.9L856.5 230.4L857.9 231.7L859.3 239.7L860.7 242.4L862.1 254.1L863.5 259.9L864.9 264.4L866.8 257.6L869.2 254.0L870.6 255.8L872.0 250.1L873.9 249.0L875.3 243.0L877.7 250.3L879.1 251.0L881.0 246.2L883.4 246.5L884.8 245.3L886.2 249.9L888.1 252.0L889.5 260.7L891.9 257.0L893.8 255.7L895.2 262.0L897.6 259.6L899.9 266.9L901.3 273.2L902.7 272.9L905.1 259.9L906.5 258.9L907.9 269.9L909.3 256.2L910.7 260.7L912.1 256.2L914.5 261.9L916.9 252.2L918.3 241.0L920.2 246.6L922.1 243.5L923.5 237.0L925.9 229.3L927.3 230.1L929.7 235.7L932.1 236.3L934.5 233.3L936.4 230.8L938.3 232.1L940.2 238.5L942.1 236.7L943.5 234.6L945.9 241.1L947.8 245.4L949.2 238.1L951.0 250.3L953.4 246.0L955.8 255.3L957.7 250.8L959.6 254.3L961.0 253.7L962.4 249.4L964.3 243.7L966.2 251.5L968.6 238.5L970.0 243.0L971.4 243.3L972.8 242.7L975.2 237.2L977.1 243.0L978.5 237.8L979.9 252.5L981.3 256.2L983.2 251.1L985.6 254.7L987.0 255.9L989.4 253.6L990.8 250.7L992.2 245.9L994.6 255.3L996.5 253.7L998.4 253.8L999.7 254.3L1001.1 245.1L1002.5 247.6L1004.4 247.2L1005.8 244.3L1007.7 253.2L1009.6 252.8L1011.5 248.9L1012.9 247.9L1014.3 247.3L1015.7 250.0L1017.1 249.1L1018.5 240.1L1019.9 251.9L1022.3 246.1L1023.7 251.5L1025.1 253.2L1027.0 253.5L1028.9 251.9L1031.3 251.8L1032.7 249.7L1034.6 249.9L1036.0 255.7L1037.4 256.8L1038.8 252.7L1041.2 251.5L1043.6 244.9L1045.0 256.5L1046.4 247.6L1048.8 247.5L1050.6 251.0L1052.0 249.5L1054.4 244.4L1055.8 246.0L1057.2 254.0L1058.6 250.3L1060.0 250.0L1061.4 256.9L1063.3 252.9L1065.2 257.8L1067.1 259.5L1068.5 255.8L1069.9 259.7L1071.8 266.0L1073.2 273.6L1074.6 270.2L1077.0 270.2L1078.4 267.4L1080.8 268.9L1083.2 266.9L1085.1 267.6L1087.5 265.3L1089.4 261.9L1090.8 260.7L1093.2 258.4L1095.6 248.9L1097.0 254.4L1099.4 258.3L1100.7 255.3L1102.1 261.8L1103.5 263.4L1105.9 273.3L1107.3 269.2L1109.2 267.7L1110.6 268.3L1113.0 260.8L1115.4 271.9L1116.8 275.0L1118.7 278.4L1120.1 274.4L1122.0 275.6L1123.4 268.7L1125.3 273.0L1127.7 276.1L1129.1 266.9L1131.0 268.6L1133.4 263.6L1134.8 262.5L1136.2 268.2L1138.1 270.2L1140.0 264.6L1141.4 271.7L1142.8 277.6L1144.2 276.0L1145.6 281.6L1147.0 271.6L1148.4 274.3L1150.7 280.9L1152.1 272.6L1154.5 268.2L1155.9 274.3L1157.3 278.5L1159.2 274.2L1161.6 280.7L1163.0 277.1L1164.4 275.2L1166.8 265.9L1169.2 260.4L1171.6 274.0L1174.0 270.5L1176.4 263.6L1177.8 269.2L1180.2 262.2L1182.6 264.2L1184.5 270.8L1186.4 266.3L1187.8 261.3L1189.7 261.1L1191.1 262.3L1193.5 257.6L1195.4 261.8L1196.8 271.5L1199.2 268.8L1200.5 265.6L1201.9 262.5L1203.3 262.6L1204.7 259.9L1206.1 257.9L1207.5 263.1L1208.9 261.0L1210.3 254.5L1211.7 255.4L1214.1 265.9L1215.5 268.7L1216.9 263.5L1218.8 264.1L1220.2 263.5L1221.6 257.5L1223.5 256.9L1224.9 259.2L1226.3 259.0L1228.2 254.3L1229.6 249.1L1231.0 247.6L1232.4 250.2L1233.8 246.8L1236.2 255.7L1238.1 253.1L1240.5 254.5L1242.4 255.1L1243.8 251.5L1245.2 253.6L1247.1 248.0L1248.5 247.8L1249.8 247.5L1252.2 242.5L1254.6 246.9L1256.5 247.9L1258.9 247.8L1261.3 249.1L1262.7 234.3L1264.6 241.0L1266.0 244.2L1267.4 241.9L1269.3 246.8L1271.7 246.2L1273.6 239.6L1275.0 248.3L1276.4 249.6L1277.8 257.4L1279.7 260.3L1281.6 254.2L1284.0 267.6L1285.4 273.6L1286.8 280.2L1288.2 269.8L1290.6 261.2L1292.5 254.1L1294.9 245.8L1297.3 245.6L1298.7 227.6L1301.0 236.6L1302.9 241.5L1305.3 239.2L1306.7 233.6L1308.1 241.3L1309.5 240.6L1310.9 234.9L1313.3 247.2L1314.7 241.2L1317.1 244.5L1318.5 234.9L1319.9 235.2L1322.3 238.2L1324.7 230.2L1326.6 237.6L1328.0 245.5L1329.4 239.1L1331.8 239.4L1334.2 238.0L1336.1 243.0L1338.0 246.0L1340.4 245.9L1342.3 249.4L1343.7 250.2L1345.1 247.7L1346.5 243.3L1348.9 240.2L1351.2 239.3L1353.6 243.6L1356.0 239.5" fill="none" stroke="#8e8e8e" stroke-opacity=".9" stroke-width="1.5" stroke-linejoin="round"/><rect x="120" y="522" width="557" height="358" fill="#cccccc"/><g shape-rendering="crispEdges"><path fill="#5e4fa2" d="M120.0 522.0H121.3V692.0H120.0ZM121.3 522.0H122.4V674.0H121.3ZM122.4 522.0H123.6V692.0H122.4ZM123.6 522.0H125.0V701.0H123.6ZM125.0 522.0H126.3V692.0H125.0ZM126.3 522.0H127.7V692.0H126.3ZM127.7 522.0H129.0V692.0H127.7ZM129.0 522.0H129.8V683.0H129.0ZM129.8 522.0H131.3V692.0H129.8ZM131.3 522.0H132.8V692.0H131.3ZM132.8 522.0H134.3V692.0H132.8ZM134.3 522.0H136.4V701.0H134.3ZM136.4 522.0H138.6V692.0H136.4ZM138.6 522.0H140.0V701.0H138.6ZM140.0 522.0H141.1V692.0H140.0ZM141.1 522.0H142.0V683.0H141.1ZM142.0 522.0H149.0V728.0H142.0ZM149.0 539.1H159.0V737.0H149.0ZM159.0 530.1H168.0V737.0H159.0ZM168.0 539.1H177.0V746.0H168.0ZM177.0 539.1H186.0V737.0H177.0ZM186.0 539.1H195.0V737.0H186.0ZM195.0 539.1H204.0V737.0H195.0ZM204.0 539.1H212.5V746.0H204.0ZM212.5 539.1H221.0V746.0H212.5ZM221.0 539.1H230.0V737.0H221.0ZM230.0 539.1H239.0V737.0H230.0ZM239.0 539.1H248.0V728.0H239.0ZM248.0 539.1H251.0V737.0H248.0ZM251.0 530.1H256.0V737.0H251.0ZM256.0 539.1H264.3V737.0H256.0ZM264.3 539.1H272.7V737.0H264.3ZM272.7 539.1H281.0V737.0H272.7ZM281.0 530.1H294.0V746.0H281.0ZM294.0 530.1H301.0V737.0H294.0ZM301.0 539.1H309.8V737.0H301.0ZM309.8 539.1H318.5V737.0H309.8ZM318.5 539.1H327.2V737.0H318.5ZM327.2 539.1H336.0V737.0H327.2ZM336.0 539.1H344.8V737.0H336.0ZM344.8 539.1H353.5V737.0H344.8ZM353.5 539.1H362.2V737.0H353.5ZM362.2 539.1H371.0V737.0H362.2ZM371.0 539.1H380.0V746.0H371.0ZM380.0 522.0H389.0V728.0H380.0ZM389.0 539.1H397.0V746.0H389.0ZM397.0 539.1H406.0V737.0H397.0ZM406.0 530.1H415.0V737.0H406.0ZM415.0 539.1H424.0V737.0H415.0ZM424.0 539.1H432.4V746.0H424.0ZM432.4 539.1H440.8V746.0H432.4ZM440.8 539.1H449.2V746.0H440.8ZM449.2 539.1H457.6V746.0H449.2ZM457.6 539.1H466.0V746.0H457.6ZM466.0 539.1H479.0V701.0H466.0ZM479.0 539.1H486.0V737.0H479.0ZM486.0 539.1H496.5V701.0H486.0ZM496.5 539.1H507.0V701.0H496.5ZM507.0 539.1H516.0V746.0H507.0ZM516.0 539.1H525.0V746.0H516.0ZM525.0 530.1H529.0V737.0H525.0ZM529.0 539.1H538.0V737.0H529.0ZM538.0 539.1H547.0V701.0H538.0ZM547.0 539.1H556.0V746.0H547.0ZM556.0 539.1H564.8V737.0H556.0ZM564.8 539.1H573.7V737.0H564.8ZM573.7 539.1H582.5V737.0H573.7ZM582.5 539.1H591.3V737.0H582.5ZM591.3 539.1H600.2V737.0H591.3ZM600.2 539.1H609.0V737.0H600.2ZM609.0 539.1H618.0V746.0H609.0ZM618.0 530.1H626.0V737.0H618.0ZM626.0 539.1H635.0V737.0H626.0ZM635.0 548.1H644.0V701.0H635.0ZM644.0 530.1H653.0V728.0H644.0ZM653.0 539.1H660.5V737.0H653.0ZM660.5 539.1H668.0V737.0H660.5ZM668.0 530.1H677.0V746.0H668.0Z"/></g><rect x="141.0" y="620.7" width="0.9" height="7.5" fill="#cccccc" fill-opacity=".8"/><rect x="123.8" y="647.9" width="0.9" height="7.5" fill="#cccccc" fill-opacity=".8"/><rect x="133.9" y="647.9" width="0.9" height="7.5" fill="#cccccc" fill-opacity=".8"/><rect x="137.0" y="665.7" width="0.9" height="7.5" fill="#cccccc" fill-opacity=".8"/><path d="M121.4 556.4L122.9 572.0L124.3 563.6L125.3 576.4L127.0 570.7L128.6 563.6L130.0 570.7L132.0 560.7L135.0 566.4L137.9 569.3L139.6 571.4L140.7 563.6L142.0 565.3L159.0 564.0L168.0 565.6L177.0 565.0L186.0 562.0L204.0 560.0L212.0 558.4L221.0 559.6L239.0 557.0L248.0 558.0M252.0 557.4L266.0 558.6L283.0 551.0L292.0 551.6L301.0 559.6L318.0 559.6L336.0 560.6L354.0 562.4L362.0 564.4L371.0 566.0L374.0 575.0L377.0 588.0L380.0 592.0L383.0 588.0L386.0 570.0L389.0 566.4L398.0 565.6L406.0 571.0L410.0 582.0L414.0 607.6L424.0 607.0L428.0 588.0L432.4 577.0L437.0 590.0L440.0 607.0L442.0 609.6L445.6 606.0L451.0 588.0L468.0 593.0L472.0 574.0L476.6 565.4L498.0 579.0L504.0 588.0L512.0 604.4L516.0 577.0L520.4 561.6L529.0 565.6L538.0 571.4L547.0 564.0L556.0 567.0L582.0 561.6L591.0 561.0L599.6 566.0L608.0 560.4L617.4 554.4L635.0 568.0L644.0 552.4L652.6 561.0L670.0 556.0" fill="none" stroke="#808080" stroke-opacity=".75" stroke-width="1.25" stroke-linejoin="round"/><path d="M121.4 572.0L122.9 589.0L124.3 595.0L125.3 600.7L126.4 592.0L128.6 579.0L130.7 576.4L132.9 582.0L135.0 580.7L137.0 583.6L140.7 577.9L142.0 587.0L149.3 590.7L159.0 604.0L168.0 591.0L186.0 585.6L204.0 586.0L213.0 580.0L222.0 583.6L239.0 574.4L248.0 576.4L249.6 568.0L251.0 576.4L266.0 578.4L283.0 575.0L292.0 577.0L301.0 581.6L326.0 582.0L352.0 587.0L362.0 596.4L370.0 596.4L380.0 610.0L389.0 609.6L398.0 608.0L415.0 629.6L424.0 627.6L432.4 621.6L441.6 631.0L451.0 625.0L468.0 631.0L476.6 608.4L485.6 616.4L512.0 628.0L520.4 605.4L529.0 602.6L538.0 616.0L547.0 597.4L555.6 606.0L564.0 598.0L582.0 586.0L591.0 586.0L599.6 605.0L608.0 585.0L617.4 583.6L626.0 586.6L635.0 586.4L644.0 577.4L652.6 584.4L670.0 587.4" fill="none" stroke="#808080" stroke-opacity=".75" stroke-width="1.25" stroke-linejoin="round"/><path d="M121.4 597.9L123.6 623.6L125.3 630.0L127.0 617.9L129.3 606.4L131.9 600.7L132.9 609.3L135.7 603.6L138.6 597.9L140.0 607.9L141.4 606.4L149.3 616.4L159.0 632.4L168.0 624.0L186.0 611.6L204.0 615.4L208.0 606.0L213.0 601.0L222.0 607.0L239.0 592.0L248.0 594.0L249.6 591.6L251.0 595.6L257.0 595.6L266.0 598.0L283.0 599.0L292.0 602.0L301.0 603.0L326.0 603.4L336.0 606.0L353.0 617.0L362.0 627.0L380.0 627.6L389.0 635.0L398.0 633.0L406.0 639.0L415.0 651.4L424.0 648.4L432.4 649.0L441.6 652.6L451.0 647.4L468.0 649.6L476.6 638.0L512.0 649.6L520.4 633.0L538.0 641.4L547.0 630.6L555.6 631.0L571.0 624.0L582.0 614.4L591.0 614.4L599.6 633.4L608.0 614.4L617.4 616.0L626.0 615.4L632.0 606.0L636.0 604.4L644.0 605.6L652.6 610.0L670.0 620.4" fill="none" stroke="#808080" stroke-opacity=".75" stroke-width="1.25" stroke-linejoin="round"/><path d="M121.4 702.0L122.5 712.0L123.5 722.0L124.5 736.0L125.5 724.0L126.5 729.0L127.9 715.0L129.3 706.4L130.7 709.3L132.0 700.7L133.6 705.0L135.0 700.7L136.4 697.9L138.6 679.3L140.7 669.3L143.0 676.0L150.0 687.0L159.0 681.0L168.0 679.4L177.0 669.0L186.0 682.4L195.0 675.6L204.0 692.4L213.0 691.0L222.0 690.6L239.0 666.0L248.0 660.0L249.6 670.4L251.0 669.0L257.0 658.6L266.0 677.4L283.0 667.6L292.0 677.0L310.0 684.4L327.0 680.0L353.0 678.6L362.0 684.0L371.0 686.0L380.0 682.4L389.0 688.4L398.0 680.0L406.0 687.0L415.0 701.0L424.0 701.4L432.4 703.0L441.6 703.0L451.0 699.0L476.6 696.0L485.6 690.6L498.0 696.0L512.0 700.0L520.4 695.0L529.0 693.0L538.0 687.4L547.0 676.4L555.6 670.6L582.0 686.4L591.0 679.6L599.6 689.0L608.0 695.4L617.4 676.6L626.0 678.0L635.0 673.0L644.0 666.4L652.6 671.6L670.0 685.0" fill="none" stroke="#808080" stroke-opacity=".75" stroke-width="1.25" stroke-linejoin="round"/><rect x="801" y="522" width="558" height="358" fill="#cccccc"/><g shape-rendering="crispEdges"><path fill="#004d1f" d="M802.0 522.0H803.3V539.1H802.0ZM803.3 522.0H804.4V539.1H803.3ZM807.0 522.0H808.4V539.1H807.0ZM809.7 522.0H811.0V539.1H809.7ZM811.0 522.0H811.8V539.1H811.0ZM814.8 522.0H816.3V539.1H814.8Z"/><path fill="#228a44" d="M802.0 539.1H803.3V548.1H802.0ZM804.4 522.0H805.6V539.1H804.4ZM805.6 539.1H807.0V548.1H805.6ZM808.4 522.0H809.7V539.1H808.4ZM809.7 539.1H811.0V548.1H809.7ZM811.8 522.0H813.3V539.1H811.8ZM813.3 539.1H814.8V548.1H813.3ZM816.3 522.0H818.4V539.1H816.3ZM818.4 539.1H820.6V548.1H818.4ZM822.0 522.0H823.1V539.1H822.0ZM823.1 539.1H824.0V548.1H823.1ZM1341.5 539.1H1349.0V548.1H1341.5Z"/><path fill="#73c476" d="M802.0 548.1H803.3V557.1H802.0ZM807.0 548.1H808.4V557.1H807.0ZM811.8 548.1H813.3V557.1H811.8ZM818.4 548.1H820.6V557.1H818.4ZM858.9 539.1H867.9V548.1H858.9ZM894.4 548.1H902.8V557.1H894.4ZM911.8 539.1H920.8V548.1H911.8ZM946.1 539.1H954.4V548.1H946.1ZM982.7 548.1H991.4V557.1H982.7ZM1000.1 548.1H1008.9V557.1H1000.1ZM1017.6 548.1H1026.3V557.1H1017.6ZM1043.8 557.1H1052.5V566.1H1043.8ZM1139.0 566.1H1147.4V575.1H1139.0ZM1210.2 557.1H1219.2V566.1H1210.2ZM1237.2 557.1H1246.0V566.1H1237.2ZM1325.0 557.1H1334.0V566.1H1325.0Z"/><path fill="#ceecc8" d="M802.0 557.1H803.3V566.1H802.0ZM803.3 557.1H804.4V566.1H803.3ZM804.4 557.1H805.6V566.1H804.4ZM805.6 557.1H807.0V566.1H805.6ZM807.0 557.1H808.4V566.1H807.0ZM808.4 557.1H809.7V566.1H808.4ZM809.7 557.1H811.0V566.1H809.7ZM811.0 557.1H811.8V566.1H811.0ZM811.8 557.1H813.3V566.1H811.8ZM813.3 557.1H814.8V566.1H813.3ZM814.8 557.1H816.3V566.1H814.8ZM816.3 557.1H818.4V566.1H816.3ZM818.4 557.1H820.6V566.1H818.4ZM820.6 557.1H822.0V566.1H820.6ZM822.0 557.1H823.1V566.1H822.0ZM823.1 557.1H824.0V566.1H823.1ZM824.0 575.1H831.0V584.1H824.0ZM876.9 575.1H885.9V584.1H876.9ZM911.8 566.1H920.8V575.1H911.8ZM1061.5 584.1H1070.5V593.1H1061.5ZM1160.3 584.1H1167.3V593.1H1160.3ZM1188.3 593.1H1197.3V602.1H1188.3ZM1210.2 584.1H1219.2V593.1H1210.2ZM1228.2 584.1H1237.2V593.1H1228.2ZM1325.0 575.1H1334.0V584.1H1325.0Z"/><path fill="#e5f5e0" d="M802.0 566.1H803.3V575.1H802.0ZM803.3 566.1H804.4V575.1H803.3ZM804.4 566.1H805.6V575.1H804.4ZM805.6 566.1H807.0V575.1H805.6ZM807.0 566.1H808.4V575.1H807.0ZM808.4 566.1H809.7V575.1H808.4ZM809.7 566.1H811.0V575.1H809.7ZM811.0 566.1H811.8V575.1H811.0ZM811.8 566.1H813.3V575.1H811.8ZM813.3 566.1H814.8V575.1H813.3ZM814.8 566.1H816.3V575.1H814.8ZM816.3 566.1H818.4V575.1H816.3ZM818.4 566.1H820.6V575.1H818.4ZM820.6 566.1H822.0V575.1H820.6ZM822.0 566.1H823.1V575.1H822.0ZM823.1 566.1H824.0V575.1H823.1ZM858.9 584.1H867.9V593.1H858.9ZM876.9 584.1H885.9V593.1H876.9ZM1008.9 584.1H1017.6V593.1H1008.9ZM1017.6 584.1H1026.3V593.1H1017.6ZM1026.3 584.1H1035.1V593.1H1026.3ZM1043.8 593.1H1052.5V602.1H1043.8ZM1105.4 602.1H1113.8V611.1H1105.4ZM1122.2 602.1H1130.6V611.1H1122.2ZM1139.0 602.1H1147.4V611.1H1139.0ZM1147.4 602.1H1160.3V611.1H1147.4ZM1237.2 593.1H1246.0V602.1H1237.2Z"/><path fill="#ecf8e8" d="M802.0 575.1H803.3V584.1H802.0ZM803.3 575.1H804.4V584.1H803.3ZM804.4 575.1H805.6V584.1H804.4ZM805.6 575.1H807.0V584.1H805.6ZM807.0 575.1H808.4V584.1H807.0ZM808.4 575.1H809.7V584.1H808.4ZM809.7 575.1H811.0V584.1H809.7ZM811.0 575.1H811.8V584.1H811.0ZM811.8 575.1H813.3V584.1H811.8ZM813.3 575.1H814.8V584.1H813.3ZM814.8 575.1H816.3V584.1H814.8ZM816.3 575.1H818.4V584.1H816.3ZM818.4 575.1H820.6V584.1H818.4ZM820.6 575.1H822.0V584.1H820.6ZM822.0 575.1H823.1V584.1H822.0ZM823.1 575.1H824.0V584.1H823.1ZM831.0 593.1H841.0V602.1H831.0ZM858.9 593.1H867.9V602.1H858.9ZM867.9 593.1H876.9V602.1H867.9ZM911.8 584.1H920.8V593.1H911.8ZM929.8 584.1H932.8V593.1H929.8ZM932.8 584.1H937.8V593.1H932.8ZM937.8 584.1H946.1V593.1H937.8ZM946.1 584.1H954.4V593.1H946.1ZM1026.3 593.1H1035.1V602.1H1026.3ZM1078.5 602.1H1087.5V611.1H1078.5ZM1105.4 611.1H1113.8V620.0H1105.4ZM1113.8 611.1H1122.2V620.0H1113.8ZM1122.2 611.1H1130.6V620.0H1122.2ZM1130.6 611.1H1139.0V620.0H1130.6ZM1139.0 611.1H1147.4V620.0H1139.0ZM1147.4 611.1H1160.3V620.0H1147.4ZM1188.3 611.1H1197.3V620.0H1188.3ZM1228.2 602.1H1237.2V611.1H1228.2ZM1237.2 602.1H1246.0V611.1H1237.2ZM1316.0 593.1H1325.0V602.1H1316.0ZM1334.0 593.1H1341.5V602.1H1334.0Z"/><path fill="#f2faf0" d="M802.0 584.1H803.3V692.0H802.0ZM803.3 584.1H804.4V674.0H803.3ZM804.4 584.1H805.6V692.0H804.4ZM805.6 584.1H807.0V701.0H805.6ZM807.0 584.1H808.4V692.0H807.0ZM808.4 584.1H809.7V692.0H808.4ZM809.7 584.1H811.0V692.0H809.7ZM811.0 584.1H811.8V683.0H811.0ZM811.8 584.1H813.3V692.0H811.8ZM813.3 584.1H814.8V692.0H813.3ZM814.8 584.1H816.3V692.0H814.8ZM816.3 584.1H818.4V701.0H816.3ZM818.4 584.1H820.6V692.0H818.4ZM820.6 584.1H822.0V701.0H820.6ZM822.0 584.1H823.1V692.0H822.0ZM823.1 584.1H824.0V683.0H823.1ZM824.0 620.0H831.0V728.0H824.0ZM831.0 611.1H841.0V737.0H831.0ZM841.0 620.0H850.0V737.0H841.0ZM850.0 620.0H858.9V746.0H850.0ZM858.9 611.1H867.9V737.0H858.9ZM867.9 611.1H876.9V737.0H867.9ZM876.9 611.1H885.9V737.0H876.9ZM885.9 602.1H894.4V746.0H885.9ZM894.4 602.1H902.8V746.0H894.4ZM902.8 602.1H911.8V737.0H902.8ZM911.8 602.1H920.8V737.0H911.8ZM920.8 602.1H929.8V728.0H920.8ZM929.8 602.1H932.8V737.0H929.8ZM932.8 602.1H937.8V737.0H932.8ZM937.8 602.1H946.1V737.0H937.8ZM946.1 602.1H954.4V737.0H946.1ZM954.4 602.1H962.7V737.0H954.4ZM962.7 602.1H975.7V746.0H962.7ZM975.7 602.1H982.7V737.0H975.7ZM982.7 602.1H991.4V737.0H982.7ZM991.4 602.1H1000.1V737.0H991.4ZM1000.1 611.1H1008.9V737.0H1000.1ZM1008.9 611.1H1017.6V737.0H1008.9ZM1017.6 611.1H1026.3V737.0H1017.6ZM1026.3 611.1H1035.1V737.0H1026.3ZM1035.1 611.1H1043.8V737.0H1035.1ZM1043.8 620.0H1052.5V737.0H1043.8ZM1052.5 629.0H1061.5V746.0H1052.5ZM1061.5 629.0H1070.5V728.0H1061.5ZM1070.5 620.0H1078.5V746.0H1070.5ZM1078.5 620.0H1087.5V737.0H1078.5ZM1087.5 629.0H1096.5V737.0H1087.5ZM1096.5 629.0H1105.4V737.0H1096.5ZM1105.4 629.0H1113.8V746.0H1105.4ZM1113.8 629.0H1122.2V746.0H1113.8ZM1122.2 629.0H1130.6V746.0H1122.2ZM1130.6 629.0H1139.0V746.0H1130.6ZM1139.0 629.0H1147.4V746.0H1139.0ZM1147.4 629.0H1160.3V701.0H1147.4ZM1160.3 629.0H1167.3V737.0H1160.3ZM1167.3 629.0H1177.8V701.0H1167.3ZM1177.8 629.0H1188.3V701.0H1177.8ZM1188.3 629.0H1197.3V746.0H1188.3ZM1197.3 611.1H1206.2V746.0H1197.3ZM1206.2 620.0H1210.2V737.0H1206.2ZM1210.2 629.0H1219.2V737.0H1210.2ZM1219.2 620.0H1228.2V701.0H1219.2ZM1228.2 620.0H1237.2V746.0H1228.2ZM1237.2 620.0H1246.0V737.0H1237.2ZM1246.0 620.0H1254.8V737.0H1246.0ZM1254.8 611.1H1263.6V737.0H1254.8ZM1263.6 611.1H1272.4V737.0H1263.6ZM1272.4 620.0H1281.3V737.0H1272.4ZM1281.3 611.1H1290.1V737.0H1281.3ZM1290.1 602.1H1299.0V746.0H1290.1ZM1299.0 602.1H1307.0V737.0H1299.0ZM1307.0 620.0H1316.0V737.0H1307.0ZM1316.0 611.1H1325.0V701.0H1316.0ZM1325.0 602.1H1334.0V728.0H1325.0ZM1334.0 611.1H1341.5V737.0H1334.0ZM1341.5 602.1H1349.0V737.0H1341.5ZM1349.0 602.1H1357.9V746.0H1349.0Z"/><path fill="#84cc83" d="M803.3 539.1H804.4V548.1H803.3ZM804.4 539.1H805.6V548.1H804.4ZM807.0 539.1H808.4V548.1H807.0ZM808.4 539.1H809.7V548.1H808.4ZM811.0 539.1H811.8V548.1H811.0ZM811.8 539.1H813.3V548.1H811.8ZM814.8 539.1H816.3V548.1H814.8ZM816.3 539.1H818.4V548.1H816.3ZM820.6 539.1H822.0V548.1H820.6ZM822.0 539.1H823.1V548.1H822.0ZM841.0 557.1H850.0V566.1H841.0ZM867.9 557.1H876.9V566.1H867.9ZM937.8 548.1H946.1V557.1H937.8ZM1070.5 557.1H1078.5V566.1H1070.5ZM1078.5 557.1H1087.5V566.1H1078.5ZM1219.2 566.1H1228.2V575.1H1219.2Z"/><path fill="#bde5b6" d="M803.3 548.1H804.4V557.1H803.3ZM804.4 548.1H805.6V557.1H804.4ZM805.6 548.1H807.0V557.1H805.6ZM808.4 548.1H809.7V557.1H808.4ZM809.7 548.1H811.0V557.1H809.7ZM811.0 548.1H811.8V557.1H811.0ZM813.3 548.1H814.8V557.1H813.3ZM814.8 548.1H816.3V557.1H814.8ZM816.3 548.1H818.4V557.1H816.3ZM820.6 548.1H822.0V557.1H820.6ZM822.0 548.1H823.1V557.1H822.0ZM823.1 548.1H824.0V557.1H823.1ZM831.0 566.1H841.0V575.1H831.0ZM885.9 566.1H894.4V575.1H885.9ZM894.4 566.1H902.8V575.1H894.4ZM982.7 566.1H991.4V575.1H982.7ZM1000.1 566.1H1008.9V575.1H1000.1ZM1061.5 575.1H1070.5V584.1H1061.5ZM1078.5 575.1H1087.5V584.1H1078.5ZM1122.2 584.1H1130.6V593.1H1122.2ZM1147.4 584.1H1160.3V593.1H1147.4ZM1197.3 575.1H1206.2V584.1H1197.3ZM1263.6 575.1H1272.4V584.1H1263.6Z"/><path fill="#00441b" d="M805.6 522.0H807.0V539.1H805.6Z"/><path fill="#005221" d="M813.3 522.0H814.8V539.1H813.3ZM823.1 522.0H824.0V539.1H823.1Z"/><path fill="#00481d" d="M818.4 522.0H820.6V539.1H818.4ZM820.6 522.0H822.0V539.1H820.6ZM1177.8 539.1H1188.3V548.1H1177.8Z"/><path fill="#60ba6c" d="M824.0 522.0H831.0V548.1H824.0ZM841.0 548.1H850.0V557.1H841.0ZM937.8 539.1H946.1V548.1H937.8ZM1070.5 548.1H1078.5V557.1H1070.5ZM1078.5 548.1H1087.5V557.1H1078.5ZM1188.3 566.1H1197.3V575.1H1188.3ZM1263.6 557.1H1272.4V566.1H1263.6ZM1272.4 557.1H1281.3V566.1H1272.4Z"/><path fill="#7fc97f" d="M824.0 548.1H831.0V557.1H824.0ZM962.7 548.1H975.7V557.1H962.7ZM1096.5 557.1H1105.4V566.1H1096.5ZM1105.4 566.1H1113.8V575.1H1105.4ZM1177.8 575.1H1188.3V584.1H1177.8ZM1246.0 557.1H1254.8V566.1H1246.0ZM1281.3 557.1H1290.1V566.1H1281.3ZM1307.0 557.1H1316.0V566.1H1307.0ZM1341.5 557.1H1349.0V566.1H1341.5Z"/><path fill="#9bd696" d="M824.0 557.1H831.0V566.1H824.0ZM885.9 557.1H894.4V566.1H885.9ZM894.4 557.1H902.8V566.1H894.4ZM982.7 557.1H991.4V566.1H982.7ZM991.4 557.1H1000.1V566.1H991.4ZM1000.1 557.1H1008.9V566.1H1000.1ZM1017.6 557.1H1026.3V566.1H1017.6ZM1043.8 566.1H1052.5V575.1H1043.8ZM1096.5 566.1H1105.4V575.1H1096.5ZM1139.0 575.1H1147.4V584.1H1139.0ZM1147.4 575.1H1160.3V584.1H1147.4ZM1160.3 566.1H1167.3V575.1H1160.3ZM1316.0 566.1H1325.0V575.1H1316.0Z"/><path fill="#b4e1ad" d="M824.0 566.1H831.0V575.1H824.0ZM911.8 557.1H920.8V566.1H911.8ZM946.1 557.1H954.4V566.1H946.1ZM1008.9 566.1H1017.6V575.1H1008.9ZM1087.5 575.1H1096.5V584.1H1087.5ZM1096.5 575.1H1105.4V584.1H1096.5ZM1160.3 575.1H1167.3V584.1H1160.3ZM1188.3 584.1H1197.3V593.1H1188.3ZM1210.2 575.1H1219.2V584.1H1210.2ZM1290.1 566.1H1299.0V575.1H1290.1ZM1349.0 566.1H1357.9V575.1H1349.0Z"/><path fill="#ddf2d8" d="M824.0 584.1H831.0V593.1H824.0ZM902.8 575.1H911.8V584.1H902.8ZM932.8 575.1H937.8V584.1H932.8ZM937.8 575.1H946.1V584.1H937.8ZM954.4 575.1H962.7V584.1H954.4ZM962.7 575.1H975.7V584.1H962.7ZM1061.5 593.1H1070.5V602.1H1061.5ZM1087.5 593.1H1096.5V602.1H1087.5ZM1096.5 593.1H1105.4V602.1H1096.5ZM1160.3 593.1H1167.3V602.1H1160.3ZM1219.2 593.1H1228.2V602.1H1219.2ZM1254.8 584.1H1263.6V593.1H1254.8ZM1281.3 584.1H1290.1V593.1H1281.3Z"/><path fill="#e9f7e5" d="M824.0 593.1H831.0V602.1H824.0ZM902.8 584.1H911.8V593.1H902.8ZM920.8 584.1H929.8V593.1H920.8ZM954.4 584.1H962.7V593.1H954.4ZM962.7 584.1H975.7V593.1H962.7ZM975.7 584.1H982.7V593.1H975.7ZM1035.1 593.1H1043.8V602.1H1035.1ZM1061.5 602.1H1070.5V611.1H1061.5ZM1160.3 602.1H1167.3V611.1H1160.3ZM1177.8 611.1H1188.3V620.0H1177.8ZM1197.3 593.1H1206.2V602.1H1197.3ZM1210.2 602.1H1219.2V611.1H1210.2ZM1219.2 602.1H1228.2V611.1H1219.2ZM1254.8 593.1H1263.6V602.1H1254.8ZM1263.6 593.1H1272.4V602.1H1263.6ZM1281.3 593.1H1290.1V602.1H1281.3ZM1290.1 584.1H1299.0V593.1H1290.1ZM1299.0 584.1H1307.0V593.1H1299.0ZM1349.0 584.1H1357.9V593.1H1349.0Z"/><path fill="#eef8ea" d="M824.0 602.1H831.0V611.1H824.0ZM841.0 602.1H850.0V611.1H841.0ZM850.0 602.1H858.9V611.1H850.0ZM876.9 593.1H885.9V602.1H876.9ZM885.9 593.1H894.4V602.1H885.9ZM894.4 593.1H902.8V602.1H894.4ZM982.7 593.1H991.4V602.1H982.7ZM991.4 593.1H1000.1V602.1H991.4ZM1000.1 593.1H1008.9V602.1H1000.1ZM1008.9 593.1H1017.6V602.1H1008.9ZM1017.6 593.1H1026.3V602.1H1017.6ZM1035.1 602.1H1043.8V611.1H1035.1ZM1043.8 602.1H1052.5V611.1H1043.8ZM1052.5 611.1H1061.5V620.0H1052.5ZM1061.5 611.1H1070.5V620.0H1061.5ZM1070.5 602.1H1078.5V611.1H1070.5ZM1087.5 611.1H1096.5V620.0H1087.5ZM1096.5 611.1H1105.4V620.0H1096.5ZM1160.3 611.1H1167.3V620.0H1160.3ZM1167.3 611.1H1177.8V620.0H1167.3ZM1206.2 602.1H1210.2V611.1H1206.2ZM1210.2 611.1H1219.2V620.0H1210.2ZM1219.2 611.1H1228.2V620.0H1219.2ZM1246.0 602.1H1254.8V611.1H1246.0ZM1272.4 602.1H1281.3V611.1H1272.4ZM1307.0 602.1H1316.0V611.1H1307.0ZM1325.0 593.1H1334.0V602.1H1325.0Z"/><path fill="#f0f9ed" d="M824.0 611.1H831.0V620.0H824.0ZM831.0 602.1H841.0V611.1H831.0ZM841.0 611.1H850.0V620.0H841.0ZM850.0 611.1H858.9V620.0H850.0ZM858.9 602.1H867.9V611.1H858.9ZM867.9 602.1H876.9V611.1H867.9ZM876.9 602.1H885.9V611.1H876.9ZM902.8 593.1H911.8V602.1H902.8ZM911.8 593.1H920.8V602.1H911.8ZM920.8 593.1H929.8V602.1H920.8ZM929.8 593.1H932.8V602.1H929.8ZM932.8 593.1H937.8V602.1H932.8ZM937.8 593.1H946.1V602.1H937.8ZM946.1 593.1H954.4V602.1H946.1ZM954.4 593.1H962.7V602.1H954.4ZM962.7 593.1H975.7V602.1H962.7ZM975.7 593.1H982.7V602.1H975.7ZM1000.1 602.1H1008.9V611.1H1000.1ZM1008.9 602.1H1017.6V611.1H1008.9ZM1017.6 602.1H1026.3V611.1H1017.6ZM1026.3 602.1H1035.1V611.1H1026.3ZM1043.8 611.1H1052.5V620.0H1043.8ZM1052.5 620.0H1061.5V629.0H1052.5ZM1061.5 620.0H1070.5V629.0H1061.5ZM1070.5 611.1H1078.5V620.0H1070.5ZM1078.5 611.1H1087.5V620.0H1078.5ZM1087.5 620.0H1096.5V629.0H1087.5ZM1096.5 620.0H1105.4V629.0H1096.5ZM1105.4 620.0H1113.8V629.0H1105.4ZM1113.8 620.0H1122.2V629.0H1113.8ZM1122.2 620.0H1130.6V629.0H1122.2ZM1130.6 620.0H1139.0V629.0H1130.6ZM1139.0 620.0H1147.4V629.0H1139.0ZM1147.4 620.0H1160.3V629.0H1147.4ZM1160.3 620.0H1167.3V629.0H1160.3ZM1167.3 620.0H1177.8V629.0H1167.3ZM1177.8 620.0H1188.3V629.0H1177.8ZM1188.3 620.0H1197.3V629.0H1188.3ZM1197.3 602.1H1206.2V611.1H1197.3ZM1206.2 611.1H1210.2V620.0H1206.2ZM1210.2 620.0H1219.2V629.0H1210.2ZM1228.2 611.1H1237.2V620.0H1228.2ZM1237.2 611.1H1246.0V620.0H1237.2ZM1246.0 611.1H1254.8V620.0H1246.0ZM1254.8 602.1H1263.6V611.1H1254.8ZM1263.6 602.1H1272.4V611.1H1263.6ZM1272.4 611.1H1281.3V620.0H1272.4ZM1281.3 602.1H1290.1V611.1H1281.3ZM1290.1 593.1H1299.0V602.1H1290.1ZM1299.0 593.1H1307.0V602.1H1299.0ZM1307.0 611.1H1316.0V620.0H1307.0ZM1316.0 602.1H1325.0V611.1H1316.0ZM1334.0 602.1H1341.5V611.1H1334.0ZM1341.5 593.1H1349.0V602.1H1341.5ZM1349.0 593.1H1357.9V602.1H1349.0Z"/><path fill="#6dc072" d="M831.0 539.1H841.0V548.1H831.0ZM885.9 548.1H894.4V557.1H885.9ZM929.8 539.1H932.8V548.1H929.8ZM991.4 548.1H1000.1V557.1H991.4ZM1052.5 557.1H1061.5V566.1H1052.5ZM1061.5 548.1H1070.5V557.1H1061.5ZM1167.3 557.1H1177.8V566.1H1167.3ZM1206.2 557.1H1210.2V566.1H1206.2ZM1316.0 557.1H1325.0V566.1H1316.0Z"/><path fill="#8ace88" d="M831.0 548.1H841.0V557.1H831.0ZM850.0 557.1H858.9V566.1H850.0ZM858.9 548.1H867.9V557.1H858.9ZM876.9 557.1H885.9V566.1H876.9ZM902.8 548.1H911.8V557.1H902.8ZM932.8 548.1H937.8V557.1H932.8ZM1061.5 557.1H1070.5V566.1H1061.5ZM1113.8 566.1H1122.2V575.1H1113.8ZM1130.6 566.1H1139.0V575.1H1130.6ZM1228.2 566.1H1237.2V575.1H1228.2ZM1290.1 557.1H1299.0V566.1H1290.1ZM1349.0 557.1H1357.9V566.1H1349.0Z"/><path fill="#a5db9f" d="M831.0 557.1H841.0V566.1H831.0ZM954.4 557.1H962.7V566.1H954.4ZM962.7 557.1H975.7V566.1H962.7ZM1061.5 566.1H1070.5V575.1H1061.5ZM1070.5 566.1H1078.5V575.1H1070.5ZM1281.3 566.1H1290.1V575.1H1281.3Z"/><path fill="#d2edcc" d="M831.0 575.1H841.0V584.1H831.0ZM1008.9 575.1H1017.6V584.1H1008.9ZM1017.6 575.1H1026.3V584.1H1017.6ZM1026.3 575.1H1035.1V584.1H1026.3ZM1043.8 584.1H1052.5V593.1H1043.8ZM1078.5 584.1H1087.5V593.1H1078.5ZM1139.0 593.1H1147.4V602.1H1139.0ZM1147.4 593.1H1160.3V602.1H1147.4ZM1237.2 584.1H1246.0V593.1H1237.2ZM1341.5 575.1H1349.0V584.1H1341.5Z"/><path fill="#e1f3dc" d="M831.0 584.1H841.0V593.1H831.0ZM867.9 584.1H876.9V593.1H867.9ZM911.8 575.1H920.8V584.1H911.8ZM929.8 575.1H932.8V584.1H929.8ZM946.1 575.1H954.4V584.1H946.1ZM1078.5 593.1H1087.5V602.1H1078.5ZM1177.8 602.1H1188.3V611.1H1177.8ZM1188.3 602.1H1197.3V611.1H1188.3ZM1210.2 593.1H1219.2V602.1H1210.2ZM1228.2 593.1H1237.2V602.1H1228.2ZM1316.0 584.1H1325.0V593.1H1316.0ZM1334.0 584.1H1341.5V593.1H1334.0Z"/><path fill="#3da65a" d="M841.0 530.1H850.0V548.1H841.0ZM1070.5 539.1H1078.5V548.1H1070.5ZM1078.5 539.1H1087.5V548.1H1078.5ZM1096.5 539.1H1105.4V548.1H1096.5ZM1130.6 548.1H1139.0V557.1H1130.6Z"/><path fill="#aadda4" d="M841.0 566.1H850.0V575.1H841.0ZM850.0 566.1H858.9V575.1H850.0ZM858.9 557.1H867.9V566.1H858.9ZM867.9 566.1H876.9V575.1H867.9ZM902.8 557.1H911.8V566.1H902.8ZM937.8 557.1H946.1V566.1H937.8ZM1052.5 575.1H1061.5V584.1H1052.5ZM1113.8 575.1H1122.2V584.1H1113.8ZM1130.6 575.1H1139.0V584.1H1130.6ZM1167.3 575.1H1177.8V584.1H1167.3ZM1177.8 584.1H1188.3V593.1H1177.8ZM1219.2 575.1H1228.2V584.1H1219.2ZM1325.0 566.1H1334.0V575.1H1325.0Z"/><path fill="#c7e9c0" d="M841.0 575.1H850.0V584.1H841.0ZM850.0 575.1H858.9V584.1H850.0ZM902.8 566.1H911.8V575.1H902.8ZM937.8 566.1H946.1V575.1H937.8ZM1052.5 584.1H1061.5V593.1H1052.5ZM1113.8 584.1H1122.2V593.1H1113.8ZM1130.6 584.1H1139.0V593.1H1130.6ZM1167.3 584.1H1177.8V593.1H1167.3ZM1219.2 584.1H1228.2V593.1H1219.2ZM1281.3 575.1H1290.1V584.1H1281.3ZM1316.0 575.1H1325.0V584.1H1316.0Z"/><path fill="#daf0d4" d="M841.0 584.1H850.0V593.1H841.0ZM850.0 584.1H858.9V593.1H850.0ZM920.8 575.1H929.8V584.1H920.8ZM1035.1 584.1H1043.8V593.1H1035.1ZM1052.5 593.1H1061.5V602.1H1052.5ZM1113.8 593.1H1122.2V602.1H1113.8ZM1130.6 593.1H1139.0V602.1H1130.6ZM1167.3 593.1H1177.8V602.1H1167.3ZM1197.3 584.1H1206.2V593.1H1197.3ZM1246.0 584.1H1254.8V593.1H1246.0ZM1263.6 584.1H1272.4V593.1H1263.6ZM1307.0 584.1H1316.0V593.1H1307.0Z"/><path fill="#e7f6e3" d="M841.0 593.1H850.0V602.1H841.0ZM850.0 593.1H858.9V602.1H850.0ZM885.9 584.1H894.4V593.1H885.9ZM894.4 584.1H902.8V593.1H894.4ZM982.7 584.1H991.4V593.1H982.7ZM991.4 584.1H1000.1V593.1H991.4ZM1000.1 584.1H1008.9V593.1H1000.1ZM1052.5 602.1H1061.5V611.1H1052.5ZM1070.5 593.1H1078.5V602.1H1070.5ZM1087.5 602.1H1096.5V611.1H1087.5ZM1096.5 602.1H1105.4V611.1H1096.5ZM1113.8 602.1H1122.2V611.1H1113.8ZM1130.6 602.1H1139.0V611.1H1130.6ZM1167.3 602.1H1177.8V611.1H1167.3ZM1206.2 593.1H1210.2V602.1H1206.2ZM1246.0 593.1H1254.8V602.1H1246.0ZM1272.4 593.1H1281.3V602.1H1272.4ZM1307.0 593.1H1316.0V602.1H1307.0ZM1325.0 584.1H1334.0V593.1H1325.0ZM1341.5 584.1H1349.0V593.1H1341.5Z"/><path fill="#40aa5d" d="M850.0 539.1H858.9V548.1H850.0ZM885.9 539.1H894.4V548.1H885.9ZM991.4 539.1H1000.1V548.1H991.4ZM1008.9 539.1H1017.6V548.1H1008.9ZM1113.8 548.1H1122.2V557.1H1113.8ZM1206.2 548.1H1210.2V557.1H1206.2Z"/><path fill="#66bd6f" d="M850.0 548.1H858.9V557.1H850.0ZM902.8 539.1H911.8V548.1H902.8ZM932.8 530.1H937.8V548.1H932.8ZM975.7 548.1H982.7V557.1H975.7ZM1008.9 548.1H1017.6V557.1H1008.9ZM1113.8 557.1H1122.2V566.1H1113.8ZM1130.6 557.1H1139.0V566.1H1130.6Z"/><path fill="#c2e7bb" d="M858.9 566.1H867.9V575.1H858.9ZM920.8 566.1H929.8V575.1H920.8ZM954.4 566.1H962.7V575.1H954.4ZM962.7 566.1H975.7V575.1H962.7ZM1035.1 575.1H1043.8V584.1H1035.1ZM1070.5 575.1H1078.5V584.1H1070.5ZM1105.4 584.1H1113.8V593.1H1105.4ZM1246.0 575.1H1254.8V584.1H1246.0ZM1254.8 575.1H1263.6V584.1H1254.8ZM1307.0 575.1H1316.0V584.1H1307.0ZM1334.0 575.1H1341.5V584.1H1334.0Z"/><path fill="#d6efd0" d="M858.9 575.1H867.9V584.1H858.9ZM885.9 575.1H894.4V584.1H885.9ZM894.4 575.1H902.8V584.1H894.4ZM975.7 575.1H982.7V584.1H975.7ZM982.7 575.1H991.4V584.1H982.7ZM991.4 575.1H1000.1V584.1H991.4ZM1000.1 575.1H1008.9V584.1H1000.1ZM1070.5 584.1H1078.5V593.1H1070.5ZM1105.4 593.1H1113.8V602.1H1105.4ZM1122.2 593.1H1130.6V602.1H1122.2ZM1206.2 584.1H1210.2V593.1H1206.2ZM1272.4 584.1H1281.3V593.1H1272.4ZM1290.1 575.1H1299.0V584.1H1290.1ZM1299.0 575.1H1307.0V584.1H1299.0ZM1349.0 575.1H1357.9V584.1H1349.0Z"/><path fill="#359e53" d="M867.9 539.1H876.9V548.1H867.9ZM876.9 539.1H885.9V548.1H876.9ZM1105.4 548.1H1113.8V557.1H1105.4ZM1160.3 539.1H1167.3V548.1H1160.3ZM1219.2 548.1H1228.2V557.1H1219.2ZM1316.0 548.1H1325.0V557.1H1316.0Z"/><path fill="#5ab769" d="M867.9 548.1H876.9V557.1H867.9ZM876.9 548.1H885.9V557.1H876.9ZM1096.5 548.1H1105.4V557.1H1096.5ZM1105.4 557.1H1113.8V566.1H1105.4ZM1197.3 557.1H1206.2V566.1H1197.3ZM1219.2 557.1H1228.2V566.1H1219.2ZM1228.2 557.1H1237.2V566.1H1228.2ZM1299.0 548.1H1307.0V557.1H1299.0ZM1334.0 557.1H1341.5V566.1H1334.0Z"/><path fill="#cbeac4" d="M867.9 575.1H876.9V584.1H867.9ZM929.8 566.1H932.8V575.1H929.8ZM932.8 566.1H937.8V575.1H932.8ZM946.1 566.1H954.4V575.1H946.1ZM1087.5 584.1H1096.5V593.1H1087.5ZM1096.5 584.1H1105.4V593.1H1096.5ZM1177.8 593.1H1188.3V602.1H1177.8Z"/><path fill="#afdfa8" d="M876.9 566.1H885.9V575.1H876.9ZM929.8 557.1H932.8V566.1H929.8ZM932.8 557.1H937.8V566.1H932.8ZM1228.2 575.1H1237.2V584.1H1228.2ZM1341.5 566.1H1349.0V575.1H1341.5Z"/><path fill="#46ae60" d="M894.4 539.1H902.8V548.1H894.4ZM1035.1 548.1H1043.8V557.1H1035.1ZM1043.8 548.1H1052.5V557.1H1043.8ZM1052.5 548.1H1061.5V557.1H1052.5ZM1139.0 557.1H1147.4V566.1H1139.0ZM1167.3 548.1H1177.8V557.1H1167.3ZM1237.2 548.1H1246.0V557.1H1237.2ZM1254.8 548.1H1263.6V557.1H1254.8ZM1341.5 548.1H1349.0V557.1H1341.5Z"/><path fill="#95d391" d="M911.8 548.1H920.8V557.1H911.8ZM975.7 557.1H982.7V566.1H975.7ZM1008.9 557.1H1017.6V566.1H1008.9ZM1087.5 566.1H1096.5V575.1H1087.5ZM1206.2 566.1H1210.2V575.1H1206.2ZM1210.2 566.1H1219.2V575.1H1210.2ZM1237.2 566.1H1246.0V575.1H1237.2ZM1263.6 566.1H1272.4V575.1H1263.6ZM1334.0 566.1H1341.5V575.1H1334.0Z"/><path fill="#4db163" d="M920.8 539.1H929.8V548.1H920.8ZM982.7 539.1H991.4V548.1H982.7ZM1000.1 539.1H1008.9V548.1H1000.1ZM1017.6 539.1H1026.3V548.1H1017.6ZM1061.5 522.0H1070.5V548.1H1061.5ZM1122.2 557.1H1130.6V566.1H1122.2ZM1147.4 557.1H1160.3V566.1H1147.4ZM1177.8 566.1H1188.3V575.1H1177.8ZM1210.2 548.1H1219.2V557.1H1210.2Z"/><path fill="#79c67a" d="M920.8 548.1H929.8V557.1H920.8ZM954.4 548.1H962.7V557.1H954.4ZM1026.3 548.1H1035.1V557.1H1026.3ZM1035.1 557.1H1043.8V566.1H1035.1ZM1087.5 557.1H1096.5V566.1H1087.5ZM1122.2 566.1H1130.6V575.1H1122.2ZM1147.4 566.1H1160.3V575.1H1147.4ZM1160.3 557.1H1167.3V566.1H1160.3ZM1254.8 557.1H1263.6V566.1H1254.8Z"/><path fill="#a0d99b" d="M920.8 557.1H929.8V566.1H920.8ZM1026.3 557.1H1035.1V566.1H1026.3ZM1035.1 566.1H1043.8V575.1H1035.1ZM1078.5 566.1H1087.5V575.1H1078.5ZM1105.4 575.1H1113.8V584.1H1105.4ZM1122.2 575.1H1130.6V584.1H1122.2ZM1246.0 566.1H1254.8V575.1H1246.0ZM1254.8 566.1H1263.6V575.1H1254.8ZM1307.0 566.1H1316.0V575.1H1307.0Z"/><path fill="#90d18d" d="M929.8 548.1H932.8V557.1H929.8ZM946.1 548.1H954.4V557.1H946.1ZM1052.5 566.1H1061.5V575.1H1052.5ZM1167.3 566.1H1177.8V575.1H1167.3ZM1188.3 575.1H1197.3V584.1H1188.3ZM1197.3 566.1H1206.2V575.1H1197.3ZM1272.4 566.1H1281.3V575.1H1272.4ZM1299.0 557.1H1307.0V566.1H1299.0Z"/><path fill="#53b466" d="M954.4 539.1H962.7V548.1H954.4ZM962.7 530.1H975.7V548.1H962.7ZM1026.3 539.1H1035.1V548.1H1026.3ZM1087.5 548.1H1096.5V557.1H1087.5ZM1160.3 548.1H1167.3V557.1H1160.3ZM1246.0 548.1H1254.8V557.1H1246.0ZM1281.3 548.1H1290.1V557.1H1281.3ZM1290.1 548.1H1299.0V557.1H1290.1ZM1307.0 548.1H1316.0V557.1H1307.0ZM1349.0 548.1H1357.9V557.1H1349.0Z"/><path fill="#39a257" d="M975.7 530.1H982.7V548.1H975.7ZM1087.5 530.1H1096.5V548.1H1087.5ZM1188.3 557.1H1197.3V566.1H1188.3ZM1325.0 548.1H1334.0V557.1H1325.0Z"/><path fill="#b8e3b2" d="M975.7 566.1H982.7V575.1H975.7ZM991.4 566.1H1000.1V575.1H991.4ZM1017.6 566.1H1026.3V575.1H1017.6ZM1026.3 566.1H1035.1V575.1H1026.3ZM1043.8 575.1H1052.5V584.1H1043.8ZM1139.0 584.1H1147.4V593.1H1139.0ZM1206.2 575.1H1210.2V584.1H1206.2ZM1237.2 575.1H1246.0V584.1H1237.2ZM1272.4 575.1H1281.3V584.1H1272.4ZM1299.0 566.1H1307.0V575.1H1299.0Z"/><path fill="#2a924a" d="M1035.1 539.1H1043.8V548.1H1035.1ZM1043.8 539.1H1052.5V548.1H1043.8ZM1113.8 539.1H1122.2V548.1H1113.8ZM1130.6 539.1H1139.0V548.1H1130.6ZM1139.0 548.1H1147.4V557.1H1139.0ZM1147.4 548.1H1160.3V557.1H1147.4ZM1177.8 557.1H1188.3V566.1H1177.8ZM1237.2 539.1H1246.0V548.1H1237.2ZM1290.1 539.1H1299.0V548.1H1290.1ZM1334.0 548.1H1341.5V557.1H1334.0Z"/><path fill="#2e964d" d="M1052.5 539.1H1061.5V548.1H1052.5ZM1122.2 548.1H1130.6V557.1H1122.2ZM1167.3 539.1H1177.8V548.1H1167.3ZM1197.3 548.1H1206.2V557.1H1197.3ZM1263.6 548.1H1272.4V557.1H1263.6ZM1349.0 530.1H1357.9V548.1H1349.0Z"/><path fill="#1e8741" d="M1105.4 539.1H1113.8V548.1H1105.4Z"/><path fill="#157f3b" d="M1122.2 539.1H1130.6V548.1H1122.2ZM1325.0 530.1H1334.0V548.1H1325.0Z"/><path fill="#0c7735" d="M1139.0 539.1H1147.4V548.1H1139.0Z"/><path fill="#117b38" d="M1147.4 539.1H1160.3V548.1H1147.4ZM1228.2 539.1H1237.2V548.1H1228.2ZM1272.4 539.1H1281.3V548.1H1272.4Z"/><path fill="#03702e" d="M1177.8 548.1H1188.3V557.1H1177.8Z"/><path fill="#006227" d="M1188.3 539.1H1197.3V548.1H1188.3Z"/><path fill="#19833e" d="M1188.3 548.1H1197.3V557.1H1188.3ZM1219.2 539.1H1228.2V548.1H1219.2Z"/><path fill="#087432" d="M1197.3 539.1H1206.2V548.1H1197.3ZM1263.6 539.1H1272.4V548.1H1263.6Z"/><path fill="#268e47" d="M1206.2 530.1H1210.2V548.1H1206.2ZM1254.8 539.1H1263.6V548.1H1254.8Z"/><path fill="#319a50" d="M1210.2 539.1H1219.2V548.1H1210.2ZM1228.2 548.1H1237.2V557.1H1228.2ZM1246.0 539.1H1254.8V548.1H1246.0ZM1272.4 548.1H1281.3V557.1H1272.4ZM1281.3 539.1H1290.1V548.1H1281.3ZM1299.0 530.1H1307.0V548.1H1299.0ZM1307.0 539.1H1316.0V548.1H1307.0Z"/><path fill="#006c2c" d="M1334.0 539.1H1341.5V548.1H1334.0Z"/></g><rect x="823.0" y="620.7" width="0.9" height="7.5" fill="#cccccc" fill-opacity=".8"/><rect x="805.9" y="647.9" width="0.9" height="7.5" fill="#cccccc" fill-opacity=".8"/><rect x="815.9" y="647.9" width="0.9" height="7.5" fill="#cccccc" fill-opacity=".8"/><rect x="819.0" y="665.7" width="0.9" height="7.5" fill="#cccccc" fill-opacity=".8"/><path d="M803.4 556.4L804.9 572.0L806.3 563.6L807.3 576.4L809.0 570.7L810.6 563.6L812.0 570.7L814.0 560.7L817.0 566.4L819.9 569.3L821.6 571.4L822.7 563.6L824.0 565.3L841.0 564.0L850.0 565.6L858.9 565.0L867.9 562.0L885.9 560.0L893.9 558.4L902.8 559.6L920.8 557.0L929.8 558.0M933.8 557.4L947.8 558.6L964.7 551.0L973.7 551.6L982.7 559.6L999.6 559.6L1017.6 560.6L1035.6 562.4L1043.6 564.4L1052.5 566.0L1055.5 575.0L1058.5 588.0L1061.5 592.0L1064.5 588.0L1067.5 570.0L1070.5 566.4L1079.5 565.6L1087.5 571.0L1091.5 582.0L1095.5 607.6L1105.4 607.0L1109.4 588.0L1113.8 577.0L1118.4 590.0L1121.4 607.0L1123.4 609.6L1127.0 606.0L1132.4 588.0L1149.3 593.0L1153.3 574.0L1157.9 565.4L1179.3 579.0L1185.3 588.0L1193.3 604.4L1197.3 577.0L1201.6 561.6L1210.2 565.6L1219.2 571.4L1228.2 564.0L1237.2 567.0L1263.1 561.6L1272.1 561.0L1280.7 566.0L1289.1 560.4L1298.5 554.4L1316.0 568.0L1325.0 552.4L1333.6 561.0L1350.9 556.0" fill="none" stroke="#808080" stroke-opacity=".75" stroke-width="1.25" stroke-linejoin="round"/><path d="M803.4 572.0L804.9 589.0L806.3 595.0L807.3 600.7L808.4 592.0L810.6 579.0L812.7 576.4L814.9 582.0L817.0 580.7L819.0 583.6L822.7 577.9L824.0 587.0L831.3 590.7L841.0 604.0L850.0 591.0L867.9 585.6L885.9 586.0L894.9 580.0L903.8 583.6L920.8 574.4L929.8 576.4L931.4 568.0L932.8 576.4L947.8 578.4L964.7 575.0L973.7 577.0L982.7 581.6L1007.6 582.0L1033.6 587.0L1043.6 596.4L1051.5 596.4L1061.5 610.0L1070.5 609.6L1079.5 608.0L1096.5 629.6L1105.4 627.6L1113.8 621.6L1123.0 631.0L1132.4 625.0L1149.3 631.0L1157.9 608.4L1166.9 616.4L1193.3 628.0L1201.6 605.4L1210.2 602.6L1219.2 616.0L1228.2 597.4L1236.8 606.0L1245.2 598.0L1263.1 586.0L1272.1 586.0L1280.7 605.0L1289.1 585.0L1298.5 583.6L1307.0 586.6L1316.0 586.4L1325.0 577.4L1333.6 584.4L1350.9 587.4" fill="none" stroke="#808080" stroke-opacity=".75" stroke-width="1.25" stroke-linejoin="round"/><path d="M803.4 597.9L805.6 623.6L807.3 630.0L809.0 617.9L811.3 606.4L813.9 600.7L814.9 609.3L817.7 603.6L820.6 597.9L822.0 607.9L823.4 606.4L831.3 616.4L841.0 632.4L850.0 624.0L867.9 611.6L885.9 615.4L889.9 606.0L894.9 601.0L903.8 607.0L920.8 592.0L929.8 594.0L931.4 591.6L932.8 595.6L938.8 595.6L947.8 598.0L964.7 599.0L973.7 602.0L982.7 603.0L1007.6 603.4L1017.6 606.0L1034.6 617.0L1043.6 627.0L1061.5 627.6L1070.5 635.0L1079.5 633.0L1087.5 639.0L1096.5 651.4L1105.4 648.4L1113.8 649.0L1123.0 652.6L1132.4 647.4L1149.3 649.6L1157.9 638.0L1193.3 649.6L1201.6 633.0L1219.2 641.4L1228.2 630.6L1236.8 631.0L1252.1 624.0L1263.1 614.4L1272.1 614.4L1280.7 633.4L1289.1 614.4L1298.5 616.0L1307.0 615.4L1313.0 606.0L1317.0 604.4L1325.0 605.6L1333.6 610.0L1350.9 620.4" fill="none" stroke="#808080" stroke-opacity=".75" stroke-width="1.25" stroke-linejoin="round"/><path d="M803.4 702.0L804.5 712.0L805.5 722.0L806.5 736.0L807.5 724.0L808.5 729.0L809.9 715.0L811.3 706.4L812.7 709.3L814.0 700.7L815.6 705.0L817.0 700.7L818.4 697.9L820.6 679.3L822.7 669.3L825.0 676.0L832.0 687.0L841.0 681.0L850.0 679.4L858.9 669.0L867.9 682.4L876.9 675.6L885.9 692.4L894.9 691.0L903.8 690.6L920.8 666.0L929.8 660.0L931.4 670.4L932.8 669.0L938.8 658.6L947.8 677.4L964.7 667.6L973.7 677.0L991.7 684.4L1008.6 680.0L1034.6 678.6L1043.6 684.0L1052.5 686.0L1061.5 682.4L1070.5 688.4L1079.5 680.0L1087.5 687.0L1096.5 701.0L1105.4 701.4L1113.8 703.0L1123.0 703.0L1132.4 699.0L1157.9 696.0L1166.9 690.6L1179.3 696.0L1193.3 700.0L1201.6 695.0L1210.2 693.0L1219.2 687.4L1228.2 676.4L1236.8 670.6L1263.1 686.4L1272.1 679.6L1280.7 689.0L1289.1 695.4L1298.5 676.6L1307.0 678.0L1316.0 673.0L1325.0 666.4L1333.6 671.6L1350.9 685.0" fill="none" stroke="#808080" stroke-opacity=".75" stroke-width="1.25" stroke-linejoin="round"/><rect x="120" y="949" width="557" height="359" fill="#cccccc"/><g shape-rendering="crispEdges"><path fill="#f4fafc" d="M120.0 949.0H121.3V1002.2H120.0ZM121.3 949.0H122.4V1002.2H121.3ZM122.4 949.0H123.6V1002.2H122.4ZM123.6 949.0H125.0V1011.2H123.6ZM125.0 949.0H126.3V1011.2H125.0ZM126.3 949.0H127.7V1002.2H126.3ZM127.7 949.0H129.0V1002.2H127.7ZM129.0 949.0H129.8V1002.2H129.0ZM129.8 949.0H131.3V1002.2H129.8ZM131.3 949.0H132.8V1011.2H131.3ZM132.8 949.0H134.3V1011.2H132.8ZM134.3 949.0H136.4V1002.2H134.3ZM136.4 949.0H138.6V1002.2H136.4ZM138.6 949.0H140.0V1002.2H138.6ZM140.0 949.0H141.1V1002.2H140.0ZM141.1 949.0H142.0V1011.2H141.1ZM142.0 993.2H149.0V1020.3H142.0ZM149.0 1002.2H159.0V1029.3H149.0ZM159.0 993.2H168.0V1020.3H159.0ZM168.0 984.2H177.0V1011.2H168.0ZM177.0 993.2H186.0V1020.3H177.0ZM186.0 993.2H195.0V1020.3H186.0ZM195.0 993.2H204.0V1020.3H195.0ZM204.0 1002.2H212.5V1020.3H204.0ZM212.5 984.2H221.0V1011.2H212.5ZM221.0 984.2H230.0V1011.2H221.0ZM230.0 984.2H239.0V1011.2H230.0ZM239.0 984.2H248.0V1011.2H239.0ZM248.0 984.2H251.0V1020.3H248.0ZM251.0 984.2H256.0V1011.2H251.0ZM256.0 984.2H264.3V1011.2H256.0ZM264.3 984.2H272.7V1002.2H264.3ZM272.7 975.2H281.0V1002.2H272.7ZM281.0 984.2H294.0V1020.3H281.0ZM294.0 993.2H301.0V1020.3H294.0ZM301.0 993.2H309.8V1011.2H301.0ZM309.8 993.2H318.5V1011.2H309.8ZM318.5 993.2H327.2V1020.3H318.5ZM327.2 993.2H336.0V1029.3H327.2ZM336.0 993.2H344.8V1020.3H336.0ZM344.8 993.2H353.5V1029.3H344.8ZM353.5 1020.3H362.2V1065.4H353.5ZM353.5 1155.6H362.2V1164.6H353.5ZM362.2 1002.2H371.0V1029.3H362.2ZM371.0 1002.2H380.0V1029.3H371.0ZM380.0 1011.2H389.0V1047.3H380.0ZM389.0 1020.3H397.0V1128.5H389.0ZM397.0 1020.3H406.0V1047.3H397.0ZM415.0 1029.3H424.0V1056.3H415.0ZM424.0 1065.4H432.4V1173.6H424.0ZM432.4 1038.3H440.8V1074.4H432.4ZM440.8 1074.4H449.2V1173.6H440.8ZM449.2 1047.3H457.6V1074.4H449.2ZM457.6 1047.3H466.0V1083.4H457.6ZM466.0 1056.3H479.0V1128.5H466.0ZM486.0 1029.3H496.5V1065.4H486.0ZM507.0 1056.3H516.0V1173.6H507.0ZM516.0 1029.3H525.0V1065.4H516.0ZM525.0 1020.3H529.0V1038.3H525.0ZM529.0 1011.2H538.0V1038.3H529.0ZM538.0 1011.2H547.0V1047.3H538.0ZM538.0 1110.5H547.0V1128.5H538.0ZM547.0 993.2H556.0V1020.3H547.0ZM556.0 1002.2H564.8V1038.3H556.0ZM564.8 1002.2H573.7V1047.3H564.8ZM573.7 1002.2H582.5V1029.3H573.7ZM582.5 993.2H591.3V1020.3H582.5ZM591.3 993.2H600.2V1020.3H591.3ZM600.2 984.2H609.0V1011.2H600.2ZM609.0 984.2H618.0V1011.2H609.0ZM618.0 984.2H626.0V1020.3H618.0ZM626.0 993.2H635.0V1020.3H626.0ZM635.0 993.2H644.0V1020.3H635.0ZM644.0 984.2H653.0V1011.2H644.0ZM653.0 984.2H660.5V1011.2H653.0ZM660.5 993.2H668.0V1020.3H660.5ZM668.0 993.2H677.0V1029.3H668.0Z"/><path fill="#f1f8fb" d="M120.0 1002.2H121.3V1029.3H120.0ZM121.3 1002.2H122.4V1029.3H121.3ZM122.4 1002.2H123.6V1038.3H122.4ZM123.6 1011.2H125.0V1038.3H123.6ZM125.0 1011.2H126.3V1029.3H125.0ZM126.3 1002.2H127.7V1029.3H126.3ZM127.7 1002.2H129.0V1020.3H127.7ZM129.0 1002.2H129.8V1029.3H129.0ZM129.8 1002.2H131.3V1038.3H129.8ZM131.3 1011.2H132.8V1038.3H131.3ZM132.8 1011.2H134.3V1029.3H132.8ZM134.3 1002.2H136.4V1029.3H134.3ZM136.4 1002.2H138.6V1020.3H136.4ZM138.6 1002.2H140.0V1029.3H138.6ZM140.0 1002.2H141.1V1038.3H140.0ZM141.1 1011.2H142.0V1038.3H141.1ZM142.0 1020.3H149.0V1029.3H142.0ZM149.0 1029.3H159.0V1038.3H149.0ZM149.0 1137.5H159.0V1164.6H149.0ZM159.0 1020.3H168.0V1029.3H159.0ZM159.0 1119.5H168.0V1155.6H159.0ZM168.0 1011.2H177.0V1020.3H168.0ZM177.0 1020.3H186.0V1038.3H177.0ZM186.0 1020.3H195.0V1038.3H186.0ZM195.0 1020.3H204.0V1038.3H195.0ZM204.0 1020.3H212.5V1038.3H204.0ZM204.0 1155.6H212.5V1173.6H204.0ZM212.5 1011.2H221.0V1020.3H212.5ZM221.0 1011.2H230.0V1020.3H221.0ZM230.0 1011.2H239.0V1020.3H230.0ZM239.0 1011.2H248.0V1029.3H239.0ZM248.0 1020.3H251.0V1029.3H248.0ZM251.0 1011.2H256.0V1020.3H251.0ZM256.0 1011.2H264.3V1020.3H256.0ZM264.3 1002.2H272.7V1011.2H264.3ZM272.7 1002.2H281.0V1011.2H272.7ZM281.0 1020.3H294.0V1029.3H281.0ZM294.0 1020.3H301.0V1038.3H294.0ZM301.0 1011.2H309.8V1020.3H301.0ZM309.8 1011.2H318.5V1020.3H309.8ZM318.5 1020.3H327.2V1029.3H318.5ZM327.2 1029.3H336.0V1137.5H327.2ZM336.0 1020.3H344.8V1038.3H336.0ZM344.8 1029.3H353.5V1038.3H344.8ZM353.5 1065.4H362.2V1155.6H353.5ZM362.2 1029.3H371.0V1038.3H362.2ZM371.0 1029.3H380.0V1038.3H371.0ZM380.0 1047.3H389.0V1155.6H380.0ZM389.0 1128.5H397.0V1173.6H389.0ZM397.0 1047.3H406.0V1065.4H397.0ZM415.0 1056.3H424.0V1065.4H415.0ZM432.4 1074.4H440.8V1173.6H432.4ZM449.2 1074.4H457.6V1101.4H449.2ZM457.6 1083.4H466.0V1173.6H457.6ZM486.0 1065.4H496.5V1128.5H486.0ZM516.0 1065.4H525.0V1101.4H516.0ZM516.0 1164.6H525.0V1173.6H516.0ZM525.0 1038.3H529.0V1056.3H525.0ZM529.0 1038.3H538.0V1056.3H529.0ZM529.0 1128.5H538.0V1164.6H529.0ZM538.0 1047.3H547.0V1110.5H538.0ZM547.0 1020.3H556.0V1029.3H547.0ZM556.0 1038.3H564.8V1119.5H556.0ZM564.8 1047.3H573.7V1083.4H564.8ZM573.7 1029.3H582.5V1038.3H573.7ZM582.5 1020.3H591.3V1029.3H582.5ZM591.3 1020.3H600.2V1029.3H591.3ZM600.2 1011.2H609.0V1020.3H600.2ZM609.0 1011.2H618.0V1020.3H609.0ZM618.0 1020.3H626.0V1029.3H618.0ZM626.0 1020.3H635.0V1038.3H626.0ZM635.0 1020.3H644.0V1029.3H635.0ZM644.0 1011.2H653.0V1020.3H644.0ZM653.0 1011.2H660.5V1020.3H653.0ZM660.5 1020.3H668.0V1029.3H660.5ZM668.0 1029.3H677.0V1065.4H668.0Z"/><path fill="#eef6fa" d="M120.0 1029.3H121.3V1047.3H120.0ZM120.0 1056.3H121.3V1119.5H120.0ZM121.3 1029.3H122.4V1101.4H121.3ZM122.4 1038.3H123.6V1092.4H122.4ZM123.6 1038.3H125.0V1056.3H123.6ZM125.0 1029.3H126.3V1047.3H125.0ZM126.3 1029.3H127.7V1038.3H126.3ZM126.3 1110.5H127.7V1119.5H126.3ZM127.7 1020.3H129.0V1038.3H127.7ZM127.7 1074.4H129.0V1119.5H127.7ZM129.0 1029.3H129.8V1110.5H129.0ZM129.8 1038.3H131.3V1101.4H129.8ZM131.3 1038.3H132.8V1065.4H131.3ZM132.8 1029.3H134.3V1047.3H132.8ZM134.3 1029.3H136.4V1038.3H134.3ZM134.3 1119.5H136.4V1128.5H134.3ZM136.4 1020.3H138.6V1038.3H136.4ZM136.4 1083.4H138.6V1119.5H136.4ZM138.6 1029.3H140.0V1128.5H138.6ZM140.0 1038.3H141.1V1110.5H140.0ZM141.1 1038.3H142.0V1074.4H141.1ZM142.0 1029.3H149.0V1038.3H142.0ZM149.0 1038.3H159.0V1056.3H149.0ZM149.0 1092.4H159.0V1137.5H149.0ZM159.0 1029.3H168.0V1047.3H159.0ZM159.0 1083.4H168.0V1119.5H159.0ZM159.0 1155.6H168.0V1164.6H159.0ZM168.0 1020.3H177.0V1029.3H168.0ZM177.0 1038.3H186.0V1101.4H177.0ZM186.0 1038.3H195.0V1065.4H186.0ZM195.0 1038.3H204.0V1047.3H195.0ZM204.0 1038.3H212.5V1047.3H204.0ZM204.0 1119.5H212.5V1155.6H204.0ZM212.5 1020.3H221.0V1029.3H212.5ZM221.0 1020.3H230.0V1029.3H221.0ZM230.0 1020.3H239.0V1029.3H230.0ZM239.0 1029.3H248.0V1038.3H239.0ZM248.0 1029.3H251.0V1038.3H248.0ZM264.3 1011.2H272.7V1020.3H264.3ZM272.7 1011.2H281.0V1020.3H272.7ZM281.0 1029.3H294.0V1047.3H281.0ZM294.0 1038.3H301.0V1047.3H294.0ZM301.0 1020.3H309.8V1029.3H301.0ZM309.8 1020.3H318.5V1029.3H309.8ZM318.5 1029.3H327.2V1038.3H318.5ZM318.5 1092.4H327.2V1164.6H318.5ZM327.2 1137.5H336.0V1164.6H327.2ZM336.0 1038.3H344.8V1092.4H336.0ZM344.8 1038.3H353.5V1056.3H344.8ZM362.2 1038.3H371.0V1047.3H362.2ZM362.2 1137.5H371.0V1164.6H362.2ZM371.0 1038.3H380.0V1047.3H371.0ZM371.0 1092.4H380.0V1173.6H371.0ZM397.0 1065.4H406.0V1074.4H397.0ZM415.0 1065.4H424.0V1074.4H415.0ZM415.0 1128.5H424.0V1164.6H415.0ZM449.2 1101.4H457.6V1137.5H449.2ZM516.0 1101.4H525.0V1164.6H516.0ZM525.0 1056.3H529.0V1065.4H525.0ZM525.0 1146.5H529.0V1164.6H525.0ZM529.0 1056.3H538.0V1128.5H529.0ZM547.0 1029.3H556.0V1047.3H547.0ZM547.0 1083.4H556.0V1119.5H547.0ZM556.0 1119.5H564.8V1164.6H556.0ZM564.8 1083.4H573.7V1164.6H564.8ZM573.7 1038.3H582.5V1047.3H573.7ZM591.3 1128.5H600.2V1164.6H591.3ZM600.2 1020.3H609.0V1029.3H600.2ZM609.0 1020.3H618.0V1029.3H609.0ZM618.0 1029.3H626.0V1038.3H618.0ZM626.0 1038.3H635.0V1047.3H626.0ZM635.0 1029.3H644.0V1038.3H635.0ZM644.0 1020.3H653.0V1029.3H644.0ZM653.0 1020.3H660.5V1029.3H653.0ZM660.5 1029.3H668.0V1128.5H660.5ZM668.0 1065.4H677.0V1101.4H668.0Z"/><path fill="#ebf4f8" d="M120.0 1047.3H121.3V1056.3H120.0ZM122.4 1092.4H123.6V1119.5H122.4ZM123.6 1056.3H125.0V1128.5H123.6ZM125.0 1047.3H126.3V1119.5H125.0ZM126.3 1038.3H127.7V1110.5H126.3ZM127.7 1038.3H129.0V1074.4H127.7ZM129.8 1101.4H131.3V1119.5H129.8ZM131.3 1065.4H132.8V1119.5H131.3ZM132.8 1047.3H134.3V1119.5H132.8ZM134.3 1038.3H136.4V1119.5H134.3ZM136.4 1038.3H138.6V1083.4H136.4ZM140.0 1110.5H141.1V1119.5H140.0ZM141.1 1074.4H142.0V1110.5H141.1ZM142.0 1038.3H149.0V1047.3H142.0ZM149.0 1056.3H159.0V1092.4H149.0ZM159.0 1047.3H168.0V1083.4H159.0ZM168.0 1029.3H177.0V1038.3H168.0ZM168.0 1074.4H177.0V1137.5H168.0ZM177.0 1101.4H186.0V1128.5H177.0ZM186.0 1065.4H195.0V1083.4H186.0ZM195.0 1047.3H204.0V1065.4H195.0ZM204.0 1047.3H212.5V1119.5H204.0ZM212.5 1119.5H221.0V1173.6H212.5ZM221.0 1029.3H230.0V1038.3H221.0ZM221.0 1074.4H230.0V1155.6H221.0ZM230.0 1029.3H239.0V1038.3H230.0ZM239.0 1038.3H248.0V1056.3H239.0ZM251.0 1020.3H256.0V1029.3H251.0ZM256.0 1020.3H264.3V1029.3H256.0ZM264.3 1020.3H272.7V1029.3H264.3ZM272.7 1020.3H281.0V1029.3H272.7ZM281.0 1047.3H294.0V1083.4H281.0ZM294.0 1047.3H301.0V1065.4H294.0ZM301.0 1029.3H309.8V1038.3H301.0ZM318.5 1038.3H327.2V1092.4H318.5ZM336.0 1092.4H344.8V1119.5H336.0ZM344.8 1056.3H353.5V1083.4H344.8ZM362.2 1047.3H371.0V1056.3H362.2ZM362.2 1110.5H371.0V1137.5H362.2ZM371.0 1047.3H380.0V1092.4H371.0ZM397.0 1074.4H406.0V1092.4H397.0ZM415.0 1074.4H424.0V1128.5H415.0ZM449.2 1137.5H457.6V1173.6H449.2ZM525.0 1065.4H529.0V1146.5H525.0ZM547.0 1047.3H556.0V1083.4H547.0ZM547.0 1119.5H556.0V1146.5H547.0ZM573.7 1047.3H582.5V1065.4H573.7ZM573.7 1155.6H582.5V1164.6H573.7ZM582.5 1029.3H591.3V1038.3H582.5ZM582.5 1146.5H591.3V1164.6H582.5ZM591.3 1029.3H600.2V1038.3H591.3ZM591.3 1101.4H600.2V1128.5H591.3ZM600.2 1029.3H609.0V1038.3H600.2ZM600.2 1074.4H609.0V1146.5H600.2ZM609.0 1029.3H618.0V1101.4H609.0ZM618.0 1038.3H626.0V1056.3H618.0ZM626.0 1047.3H635.0V1065.4H626.0ZM635.0 1038.3H644.0V1047.3H635.0ZM644.0 1137.5H653.0V1155.6H644.0ZM653.0 1101.4H660.5V1146.5H653.0ZM660.5 1128.5H668.0V1155.6H660.5ZM668.0 1101.4H677.0V1137.5H668.0Z"/><path fill="#f7fcfd" d="M142.0 949.0H149.0V993.2H142.0ZM149.0 966.1H159.0V1002.2H149.0ZM159.0 957.1H168.0V993.2H159.0ZM168.0 966.1H177.0V984.2H168.0ZM177.0 966.1H186.0V993.2H177.0ZM186.0 966.1H195.0V993.2H186.0ZM195.0 966.1H204.0V993.2H195.0ZM204.0 966.1H212.5V1002.2H204.0ZM212.5 966.1H221.0V984.2H212.5ZM221.0 966.1H230.0V984.2H221.0ZM230.0 966.1H239.0V984.2H230.0ZM239.0 966.1H248.0V984.2H239.0ZM248.0 966.1H251.0V984.2H248.0ZM251.0 957.1H256.0V984.2H251.0ZM256.0 966.1H264.3V984.2H256.0ZM264.3 966.1H272.7V984.2H264.3ZM272.7 966.1H281.0V975.2H272.7ZM281.0 957.1H294.0V984.2H281.0ZM294.0 957.1H301.0V993.2H294.0ZM301.0 966.1H309.8V993.2H301.0ZM309.8 966.1H318.5V993.2H309.8ZM318.5 966.1H327.2V993.2H318.5ZM327.2 966.1H336.0V993.2H327.2ZM336.0 966.1H344.8V993.2H336.0ZM344.8 966.1H353.5V993.2H344.8ZM353.5 966.1H362.2V1020.3H353.5ZM362.2 966.1H371.0V1002.2H362.2ZM371.0 966.1H380.0V1002.2H371.0ZM380.0 949.0H389.0V1011.2H380.0ZM389.0 966.1H397.0V1020.3H389.0ZM397.0 966.1H406.0V1020.3H397.0ZM406.0 957.1H415.0V1164.6H406.0ZM415.0 966.1H424.0V1029.3H415.0ZM424.0 966.1H432.4V1065.4H424.0ZM432.4 966.1H440.8V1038.3H432.4ZM440.8 966.1H449.2V1074.4H440.8ZM449.2 966.1H457.6V1047.3H449.2ZM457.6 966.1H466.0V1047.3H457.6ZM466.0 966.1H479.0V1056.3H466.0ZM479.0 966.1H486.0V1164.6H479.0ZM486.0 966.1H496.5V1029.3H486.0ZM496.5 966.1H507.0V1128.5H496.5ZM507.0 966.1H516.0V1056.3H507.0ZM516.0 966.1H525.0V1029.3H516.0ZM525.0 957.1H529.0V1020.3H525.0ZM529.0 966.1H538.0V1011.2H529.0ZM538.0 966.1H547.0V1011.2H538.0ZM547.0 966.1H556.0V993.2H547.0ZM556.0 966.1H564.8V1002.2H556.0ZM564.8 966.1H573.7V1002.2H564.8ZM573.7 966.1H582.5V1002.2H573.7ZM582.5 966.1H591.3V993.2H582.5ZM591.3 966.1H600.2V993.2H591.3ZM600.2 966.1H609.0V984.2H600.2ZM609.0 966.1H618.0V984.2H609.0ZM618.0 957.1H626.0V984.2H618.0ZM626.0 966.1H635.0V993.2H626.0ZM635.0 975.2H644.0V993.2H635.0ZM644.0 957.1H653.0V984.2H644.0ZM653.0 966.1H660.5V984.2H653.0ZM660.5 966.1H668.0V993.2H660.5ZM668.0 957.1H677.0V993.2H668.0Z"/><path fill="#e9f2f7" d="M142.0 1047.3H149.0V1056.3H142.0ZM168.0 1038.3H177.0V1074.4H168.0ZM168.0 1137.5H177.0V1155.6H168.0ZM177.0 1128.5H186.0V1155.6H177.0ZM186.0 1083.4H195.0V1110.5H186.0ZM195.0 1065.4H204.0V1083.4H195.0ZM195.0 1137.5H204.0V1164.6H195.0ZM212.5 1029.3H221.0V1038.3H212.5ZM212.5 1101.4H221.0V1119.5H212.5ZM221.0 1038.3H230.0V1074.4H221.0ZM221.0 1155.6H230.0V1164.6H221.0ZM230.0 1038.3H239.0V1110.5H230.0ZM239.0 1056.3H248.0V1083.4H239.0ZM248.0 1038.3H251.0V1047.3H248.0ZM256.0 1146.5H264.3V1164.6H256.0ZM281.0 1083.4H294.0V1101.4H281.0ZM294.0 1065.4H301.0V1083.4H294.0ZM309.8 1029.3H318.5V1038.3H309.8ZM309.8 1137.5H318.5V1164.6H309.8ZM336.0 1119.5H344.8V1146.5H336.0ZM344.8 1083.4H353.5V1101.4H344.8ZM362.2 1056.3H371.0V1110.5H362.2ZM397.0 1092.4H406.0V1119.5H397.0ZM547.0 1146.5H556.0V1173.6H547.0ZM573.7 1065.4H582.5V1092.4H573.7ZM573.7 1119.5H582.5V1155.6H573.7ZM582.5 1038.3H591.3V1047.3H582.5ZM582.5 1128.5H591.3V1146.5H582.5ZM591.3 1038.3H600.2V1101.4H591.3ZM600.2 1038.3H609.0V1074.4H600.2ZM600.2 1146.5H609.0V1164.6H600.2ZM609.0 1101.4H618.0V1119.5H609.0ZM618.0 1056.3H626.0V1083.4H618.0ZM626.0 1065.4H635.0V1092.4H626.0ZM626.0 1146.5H635.0V1164.6H626.0ZM635.0 1047.3H644.0V1056.3H635.0ZM635.0 1119.5H644.0V1128.5H635.0ZM644.0 1029.3H653.0V1038.3H644.0ZM644.0 1119.5H653.0V1137.5H644.0ZM653.0 1029.3H660.5V1038.3H653.0ZM653.0 1074.4H660.5V1101.4H653.0ZM653.0 1146.5H660.5V1164.6H653.0ZM660.5 1155.6H668.0V1164.6H660.5ZM668.0 1137.5H677.0V1173.6H668.0Z"/><path fill="#e6f0f6" d="M142.0 1056.3H149.0V1065.4H142.0ZM142.0 1137.5H149.0V1155.6H142.0ZM168.0 1155.6H177.0V1173.6H168.0ZM177.0 1155.6H186.0V1164.6H177.0ZM186.0 1110.5H195.0V1164.6H186.0ZM195.0 1083.4H204.0V1137.5H195.0ZM212.5 1038.3H221.0V1047.3H212.5ZM212.5 1083.4H221.0V1101.4H212.5ZM230.0 1110.5H239.0V1119.5H230.0ZM239.0 1083.4H248.0V1092.4H239.0ZM248.0 1047.3H251.0V1056.3H248.0ZM251.0 1029.3H256.0V1038.3H251.0ZM256.0 1029.3H264.3V1038.3H256.0ZM256.0 1119.5H264.3V1146.5H256.0ZM264.3 1029.3H272.7V1038.3H264.3ZM264.3 1092.4H272.7V1155.6H264.3ZM272.7 1029.3H281.0V1038.3H272.7ZM272.7 1074.4H281.0V1110.5H272.7ZM281.0 1101.4H294.0V1119.5H281.0ZM294.0 1083.4H301.0V1101.4H294.0ZM294.0 1155.6H301.0V1164.6H294.0ZM301.0 1038.3H309.8V1047.3H301.0ZM309.8 1119.5H318.5V1137.5H309.8ZM336.0 1146.5H344.8V1164.6H336.0ZM344.8 1101.4H353.5V1164.6H344.8ZM397.0 1119.5H406.0V1164.6H397.0ZM573.7 1092.4H582.5V1119.5H573.7ZM582.5 1047.3H591.3V1056.3H582.5ZM582.5 1110.5H591.3V1128.5H582.5ZM609.0 1119.5H618.0V1137.5H609.0ZM618.0 1083.4H626.0V1092.4H618.0ZM626.0 1092.4H635.0V1146.5H626.0ZM635.0 1056.3H644.0V1119.5H635.0ZM644.0 1038.3H653.0V1047.3H644.0ZM644.0 1101.4H653.0V1119.5H644.0ZM653.0 1038.3H660.5V1074.4H653.0Z"/><path fill="#e3eef5" d="M142.0 1065.4H149.0V1137.5H142.0ZM212.5 1047.3H221.0V1083.4H212.5ZM230.0 1119.5H239.0V1137.5H230.0ZM239.0 1092.4H248.0V1110.5H239.0ZM248.0 1056.3H251.0V1074.4H248.0ZM256.0 1110.5H264.3V1119.5H256.0ZM264.3 1074.4H272.7V1092.4H264.3ZM264.3 1155.6H272.7V1164.6H264.3ZM272.7 1038.3H281.0V1074.4H272.7ZM272.7 1110.5H281.0V1119.5H272.7ZM281.0 1119.5H294.0V1137.5H281.0ZM294.0 1101.4H301.0V1155.6H294.0ZM301.0 1047.3H309.8V1056.3H301.0ZM301.0 1146.5H309.8V1164.6H301.0ZM309.8 1038.3H318.5V1047.3H309.8ZM309.8 1101.4H318.5V1119.5H309.8ZM582.5 1056.3H591.3V1110.5H582.5ZM609.0 1137.5H618.0V1164.6H609.0ZM618.0 1092.4H626.0V1110.5H618.0ZM644.0 1047.3H653.0V1056.3H644.0ZM644.0 1074.4H653.0V1101.4H644.0Z"/><path fill="#e0ecf4" d="M230.0 1137.5H239.0V1155.6H230.0ZM239.0 1110.5H248.0V1128.5H239.0ZM248.0 1074.4H251.0V1083.4H248.0ZM248.0 1155.6H251.0V1164.6H248.0ZM251.0 1038.3H256.0V1047.3H251.0ZM251.0 1146.5H256.0V1164.6H251.0ZM256.0 1038.3H264.3V1047.3H256.0ZM256.0 1092.4H264.3V1110.5H256.0ZM264.3 1038.3H272.7V1047.3H264.3ZM264.3 1056.3H272.7V1074.4H264.3ZM272.7 1119.5H281.0V1137.5H272.7ZM281.0 1137.5H294.0V1173.6H281.0ZM301.0 1056.3H309.8V1065.4H301.0ZM301.0 1137.5H309.8V1146.5H301.0ZM309.8 1047.3H318.5V1101.4H309.8ZM609.0 1164.6H618.0V1173.6H609.0ZM618.0 1110.5H626.0V1137.5H618.0ZM644.0 1056.3H653.0V1074.4H644.0Z"/><path fill="#dce9f2" d="M230.0 1155.6H239.0V1164.6H230.0ZM239.0 1128.5H248.0V1155.6H239.0ZM248.0 1083.4H251.0V1110.5H248.0ZM248.0 1128.5H251.0V1155.6H248.0ZM251.0 1137.5H256.0V1146.5H251.0ZM256.0 1047.3H264.3V1056.3H256.0ZM256.0 1074.4H264.3V1092.4H256.0ZM264.3 1047.3H272.7V1056.3H264.3ZM272.7 1137.5H281.0V1146.5H272.7ZM301.0 1065.4H309.8V1074.4H301.0ZM301.0 1119.5H309.8V1137.5H301.0ZM618.0 1137.5H626.0V1164.6H618.0Z"/><path fill="#d8e6f0" d="M248.0 1110.5H251.0V1128.5H248.0ZM251.0 1047.3H256.0V1056.3H251.0ZM251.0 1128.5H256.0V1137.5H251.0ZM256.0 1056.3H264.3V1074.4H256.0ZM272.7 1146.5H281.0V1164.6H272.7ZM301.0 1074.4H309.8V1119.5H301.0Z"/><path fill="#d3e2ef" d="M251.0 1056.3H256.0V1065.4H251.0ZM251.0 1110.5H256.0V1128.5H251.0Z"/><path fill="#cfdfed" d="M251.0 1065.4H256.0V1110.5H251.0Z"/></g><rect x="141.0" y="1047.7" width="0.9" height="7.5" fill="#cccccc" fill-opacity=".8"/><rect x="123.8" y="1074.9" width="0.9" height="7.5" fill="#cccccc" fill-opacity=".8"/><rect x="133.9" y="1074.9" width="0.9" height="7.5" fill="#cccccc" fill-opacity=".8"/><rect x="137.0" y="1092.7" width="0.9" height="7.5" fill="#cccccc" fill-opacity=".8"/><path d="M121.4 983.4L122.9 999.0L124.3 990.6L125.3 1003.4L127.0 997.7L128.6 990.6L130.0 997.7L132.0 987.7L135.0 993.4L137.9 996.3L139.6 998.4L140.7 990.6L142.0 992.3L159.0 991.0L168.0 992.6L177.0 992.0L186.0 989.0L204.0 987.0L212.0 985.4L221.0 986.6L239.0 984.0L248.0 985.0M252.0 984.4L266.0 985.6L283.0 978.0L292.0 978.6L301.0 986.6L318.0 986.6L336.0 987.6L354.0 989.4L362.0 991.4L371.0 993.0L374.0 1002.0L377.0 1015.0L380.0 1019.0L383.0 1015.0L386.0 997.0L389.0 993.4L398.0 992.6L406.0 998.0L410.0 1009.0L414.0 1034.6L424.0 1034.0L428.0 1015.0L432.4 1004.0L437.0 1017.0L440.0 1034.0L442.0 1036.6L445.6 1033.0L451.0 1015.0L468.0 1020.0L472.0 1001.0L476.6 992.4L498.0 1006.0L504.0 1015.0L512.0 1031.4L516.0 1004.0L520.4 988.6L529.0 992.6L538.0 998.4L547.0 991.0L556.0 994.0L582.0 988.6L591.0 988.0L599.6 993.0L608.0 987.4L617.4 981.4L635.0 995.0L644.0 979.4L652.6 988.0L670.0 983.0" fill="none" stroke="#808080" stroke-opacity=".75" stroke-width="1.25" stroke-linejoin="round"/><path d="M121.4 999.0L122.9 1016.0L124.3 1022.0L125.3 1027.7L126.4 1019.0L128.6 1006.0L130.7 1003.4L132.9 1009.0L135.0 1007.7L137.0 1010.6L140.7 1004.9L142.0 1014.0L149.3 1017.7L159.0 1031.0L168.0 1018.0L186.0 1012.6L204.0 1013.0L213.0 1007.0L222.0 1010.6L239.0 1001.4L248.0 1003.4L249.6 995.0L251.0 1003.4L266.0 1005.4L283.0 1002.0L292.0 1004.0L301.0 1008.6L326.0 1009.0L352.0 1014.0L362.0 1023.4L370.0 1023.4L380.0 1037.0L389.0 1036.6L398.0 1035.0L415.0 1056.6L424.0 1054.6L432.4 1048.6L441.6 1058.0L451.0 1052.0L468.0 1058.0L476.6 1035.4L485.6 1043.4L512.0 1055.0L520.4 1032.4L529.0 1029.6L538.0 1043.0L547.0 1024.4L555.6 1033.0L564.0 1025.0L582.0 1013.0L591.0 1013.0L599.6 1032.0L608.0 1012.0L617.4 1010.6L626.0 1013.6L635.0 1013.4L644.0 1004.4L652.6 1011.4L670.0 1014.4" fill="none" stroke="#808080" stroke-opacity=".75" stroke-width="1.25" stroke-linejoin="round"/><path d="M121.4 1024.9L123.6 1050.6L125.3 1057.0L127.0 1044.9L129.3 1033.4L131.9 1027.7L132.9 1036.3L135.7 1030.6L138.6 1024.9L140.0 1034.9L141.4 1033.4L149.3 1043.4L159.0 1059.4L168.0 1051.0L186.0 1038.6L204.0 1042.4L208.0 1033.0L213.0 1028.0L222.0 1034.0L239.0 1019.0L248.0 1021.0L249.6 1018.6L251.0 1022.6L257.0 1022.6L266.0 1025.0L283.0 1026.0L292.0 1029.0L301.0 1030.0L326.0 1030.4L336.0 1033.0L353.0 1044.0L362.0 1054.0L380.0 1054.6L389.0 1062.0L398.0 1060.0L406.0 1066.0L415.0 1078.4L424.0 1075.4L432.4 1076.0L441.6 1079.6L451.0 1074.4L468.0 1076.6L476.6 1065.0L512.0 1076.6L520.4 1060.0L538.0 1068.4L547.0 1057.6L555.6 1058.0L571.0 1051.0L582.0 1041.4L591.0 1041.4L599.6 1060.4L608.0 1041.4L617.4 1043.0L626.0 1042.4L632.0 1033.0L636.0 1031.4L644.0 1032.6L652.6 1037.0L670.0 1047.4" fill="none" stroke="#808080" stroke-opacity=".75" stroke-width="1.25" stroke-linejoin="round"/><path d="M121.4 1129.0L122.5 1139.0L123.5 1149.0L124.5 1163.0L125.5 1151.0L126.5 1156.0L127.9 1142.0L129.3 1133.4L130.7 1136.3L132.0 1127.7L133.6 1132.0L135.0 1127.7L136.4 1124.9L138.6 1106.3L140.7 1096.3L143.0 1103.0L150.0 1114.0L159.0 1108.0L168.0 1106.4L177.0 1096.0L186.0 1109.4L195.0 1102.6L204.0 1119.4L213.0 1118.0L222.0 1117.6L239.0 1093.0L248.0 1087.0L249.6 1097.4L251.0 1096.0L257.0 1085.6L266.0 1104.4L283.0 1094.6L292.0 1104.0L310.0 1111.4L327.0 1107.0L353.0 1105.6L362.0 1111.0L371.0 1113.0L380.0 1109.4L389.0 1115.4L398.0 1107.0L406.0 1114.0L415.0 1128.0L424.0 1128.4L432.4 1130.0L441.6 1130.0L451.0 1126.0L476.6 1123.0L485.6 1117.6L498.0 1123.0L512.0 1127.0L520.4 1122.0L529.0 1120.0L538.0 1114.4L547.0 1103.4L555.6 1097.6L582.0 1113.4L591.0 1106.6L599.6 1116.0L608.0 1122.4L617.4 1103.6L626.0 1105.0L635.0 1100.0L644.0 1093.4L652.6 1098.6L670.0 1112.0" fill="none" stroke="#808080" stroke-opacity=".75" stroke-width="1.25" stroke-linejoin="round"/><rect x="801" y="949" width="558" height="359" fill="#cccccc"/><g shape-rendering="crispEdges"><path fill="#ffff91" d="M802.0 949.0H803.3V984.2H802.0ZM805.6 949.0H807.0V984.2H805.6ZM807.0 949.0H808.4V984.2H807.0ZM811.8 949.0H813.3V984.2H811.8ZM813.3 949.0H814.8V984.2H813.3ZM814.8 949.0H816.3V984.2H814.8ZM911.8 1011.2H920.8V1137.5H911.8ZM1061.5 949.0H1070.5V1011.2H1061.5ZM1070.5 966.1H1078.5V1011.2H1070.5ZM1078.5 966.1H1087.5V1002.2H1078.5ZM1087.5 957.1H1096.5V1011.2H1087.5ZM1113.8 966.1H1122.2V1011.2H1113.8ZM1122.2 993.2H1130.6V1011.2H1122.2ZM1130.6 966.1H1139.0V1011.2H1130.6ZM1177.8 966.1H1188.3V1011.2H1177.8ZM1188.3 966.1H1197.3V1011.2H1188.3ZM1206.2 957.1H1210.2V1011.2H1206.2ZM1219.2 966.1H1228.2V1011.2H1219.2ZM1228.2 966.1H1237.2V1011.2H1228.2ZM1246.0 966.1H1254.8V1011.2H1246.0ZM1254.8 966.1H1263.6V1011.2H1254.8ZM1263.6 966.1H1272.4V1011.2H1263.6ZM1272.4 975.2H1281.3V1011.2H1272.4ZM1281.3 966.1H1290.1V975.2H1281.3ZM1299.0 957.1H1307.0V984.2H1299.0ZM1307.0 966.1H1316.0V1011.2H1307.0ZM1334.0 975.2H1341.5V1011.2H1334.0ZM1341.5 966.1H1349.0V1011.2H1341.5ZM1349.0 957.1H1357.9V1011.2H1349.0Z"/><path fill="#ffff71" d="M802.0 984.2H803.3V1047.3H802.0ZM805.6 984.2H807.0V1047.3H805.6ZM807.0 984.2H808.4V1047.3H807.0ZM811.8 984.2H813.3V1047.3H811.8ZM813.3 984.2H814.8V1047.3H813.3ZM814.8 984.2H816.3V1047.3H814.8ZM1139.0 966.1H1147.4V975.2H1139.0ZM1160.3 966.1H1167.3V975.2H1160.3Z"/><path fill="#ffff81" d="M802.0 1047.3H803.3V1083.4H802.0ZM803.3 1083.4H804.4V1101.4H803.3ZM804.4 1083.4H805.6V1119.5H804.4ZM805.6 1047.3H807.0V1083.4H805.6ZM807.0 1047.3H808.4V1083.4H807.0ZM808.4 1083.4H809.7V1119.5H808.4ZM809.7 1083.4H811.0V1119.5H809.7ZM811.0 1083.4H811.8V1110.5H811.0ZM811.8 1047.3H813.3V1083.4H811.8ZM813.3 1047.3H814.8V1083.4H813.3ZM814.8 1047.3H816.3V1083.4H814.8ZM816.3 1083.4H818.4V1128.5H816.3ZM911.8 966.1H920.8V1011.2H911.8ZM1122.2 966.1H1130.6V993.2H1122.2ZM1139.0 975.2H1147.4V1011.2H1139.0ZM1147.4 966.1H1160.3V1011.2H1147.4ZM1160.3 975.2H1167.3V1011.2H1160.3ZM1167.3 966.1H1177.8V1011.2H1167.3ZM1272.4 966.1H1281.3V975.2H1272.4ZM1334.0 966.1H1341.5V975.2H1334.0Z"/><path fill="#ffffa0" d="M802.0 1083.4H803.3V1119.5H802.0ZM805.6 1083.4H807.0V1128.5H805.6ZM807.0 1083.4H808.4V1119.5H807.0ZM811.8 1083.4H813.3V1119.5H811.8ZM813.3 1083.4H814.8V1119.5H813.3ZM814.8 1083.4H816.3V1119.5H814.8ZM818.4 949.0H820.6V1119.5H818.4ZM820.6 949.0H822.0V1128.5H820.6ZM822.0 949.0H823.1V1119.5H822.0ZM823.1 949.0H824.0V1110.5H823.1ZM824.0 949.0H831.0V1011.2H824.0ZM858.9 966.1H867.9V1011.2H858.9ZM867.9 966.1H876.9V1011.2H867.9ZM876.9 966.1H885.9V1020.3H876.9ZM894.4 966.1H902.8V1011.2H894.4ZM902.8 966.1H911.8V984.2H902.8ZM911.8 1137.5H920.8V1164.6H911.8ZM929.8 966.1H932.8V1029.3H929.8ZM937.8 966.1H946.1V1002.2H937.8ZM946.1 966.1H954.4V1011.2H946.1ZM954.4 966.1H962.7V1011.2H954.4ZM962.7 957.1H975.7V1011.2H962.7ZM975.7 957.1H982.7V1011.2H975.7ZM982.7 966.1H991.4V1011.2H982.7ZM991.4 966.1H1000.1V1011.2H991.4ZM1008.9 966.1H1017.6V1011.2H1008.9ZM1017.6 966.1H1026.3V1011.2H1017.6ZM1026.3 966.1H1035.1V1011.2H1026.3ZM1035.1 966.1H1043.8V975.2H1035.1ZM1043.8 966.1H1052.5V1011.2H1043.8ZM1052.5 966.1H1061.5V1011.2H1052.5ZM1078.5 1002.2H1087.5V1011.2H1078.5ZM1105.4 966.1H1113.8V1011.2H1105.4ZM1122.2 1011.2H1130.6V1020.3H1122.2ZM1139.0 1011.2H1147.4V1056.3H1139.0ZM1147.4 1011.2H1160.3V1056.3H1147.4ZM1160.3 1011.2H1167.3V1056.3H1160.3ZM1167.3 1011.2H1177.8V1056.3H1167.3ZM1197.3 966.1H1206.2V1011.2H1197.3ZM1210.2 966.1H1219.2V1011.2H1210.2ZM1237.2 966.1H1246.0V1011.2H1237.2ZM1281.3 975.2H1290.1V1011.2H1281.3ZM1290.1 966.1H1299.0V1011.2H1290.1ZM1299.0 984.2H1307.0V1011.2H1299.0ZM1316.0 975.2H1325.0V1011.2H1316.0ZM1325.0 957.1H1334.0V1011.2H1325.0Z"/><path fill="#ffff61" d="M803.3 949.0H804.4V984.2H803.3ZM804.4 949.0H805.6V984.2H804.4ZM808.4 949.0H809.7V984.2H808.4ZM809.7 949.0H811.0V984.2H809.7ZM811.0 949.0H811.8V984.2H811.0ZM816.3 949.0H818.4V984.2H816.3Z"/><path fill="#ffff13" d="M803.3 984.2H804.4V1047.3H803.3ZM804.4 984.2H805.6V1047.3H804.4ZM808.4 984.2H809.7V1047.3H808.4ZM809.7 984.2H811.0V1047.3H809.7ZM811.0 984.2H811.8V1047.3H811.0ZM816.3 984.2H818.4V1047.3H816.3Z"/><path fill="#ffff52" d="M803.3 1047.3H804.4V1083.4H803.3ZM804.4 1047.3H805.6V1083.4H804.4ZM808.4 1047.3H809.7V1083.4H808.4ZM809.7 1047.3H811.0V1083.4H809.7ZM811.0 1047.3H811.8V1083.4H811.0ZM816.3 1047.3H818.4V1083.4H816.3ZM1096.5 1011.2H1105.4V1047.3H1096.5Z"/><path fill="#ffffb0" d="M824.0 1011.2H831.0V1074.4H824.0ZM831.0 966.1H841.0V1011.2H831.0ZM841.0 957.1H850.0V1011.2H841.0ZM850.0 966.1H858.9V1011.2H850.0ZM858.9 1011.2H867.9V1146.5H858.9ZM867.9 1011.2H876.9V1101.4H867.9ZM876.9 1020.3H885.9V1155.6H876.9ZM885.9 966.1H894.4V1011.2H885.9ZM894.4 1011.2H902.8V1083.4H894.4ZM902.8 984.2H911.8V1056.3H902.8ZM920.8 966.1H929.8V1020.3H920.8ZM929.8 1029.3H932.8V1164.6H929.8ZM932.8 957.1H937.8V1011.2H932.8ZM937.8 1002.2H946.1V1065.4H937.8ZM946.1 1011.2H954.4V1110.5H946.1ZM954.4 1011.2H962.7V1146.5H954.4ZM962.7 1011.2H975.7V1110.5H962.7ZM975.7 1011.2H982.7V1101.4H975.7ZM982.7 1011.2H991.4V1119.5H982.7ZM991.4 1011.2H1000.1V1146.5H991.4ZM1000.1 966.1H1008.9V1029.3H1000.1ZM1008.9 1011.2H1017.6V1101.4H1008.9ZM1017.6 1011.2H1026.3V1146.5H1017.6ZM1026.3 1011.2H1035.1V1137.5H1026.3ZM1035.1 975.2H1043.8V1038.3H1035.1ZM1043.8 1011.2H1052.5V1119.5H1043.8ZM1052.5 1011.2H1061.5V1137.5H1052.5ZM1061.5 1011.2H1070.5V1074.4H1061.5ZM1070.5 1011.2H1078.5V1083.4H1070.5ZM1078.5 1011.2H1087.5V1029.3H1078.5ZM1087.5 1011.2H1096.5V1074.4H1087.5ZM1096.5 1047.3H1105.4V1083.4H1096.5ZM1113.8 1011.2H1122.2V1092.4H1113.8ZM1122.2 1020.3H1130.6V1164.6H1122.2ZM1130.6 1011.2H1139.0V1137.5H1130.6ZM1139.0 1056.3H1147.4V1110.5H1139.0ZM1160.3 1056.3H1167.3V1110.5H1160.3ZM1167.3 1056.3H1177.8V1074.4H1167.3ZM1177.8 1011.2H1188.3V1047.3H1177.8ZM1188.3 1011.2H1197.3V1128.5H1188.3ZM1206.2 1011.2H1210.2V1110.5H1206.2ZM1219.2 1011.2H1228.2V1083.4H1219.2ZM1228.2 1011.2H1237.2V1056.3H1228.2ZM1246.0 1011.2H1254.8V1101.4H1246.0ZM1254.8 1011.2H1263.6V1056.3H1254.8ZM1263.6 1011.2H1272.4V1083.4H1263.6ZM1272.4 1011.2H1281.3V1146.5H1272.4ZM1307.0 1011.2H1316.0V1092.4H1307.0ZM1334.0 1011.2H1341.5V1146.5H1334.0ZM1341.5 1011.2H1349.0V1092.4H1341.5ZM1349.0 1011.2H1357.9V1047.3H1349.0Z"/><path fill="#ffffc0" d="M824.0 1074.4H831.0V1155.6H824.0ZM831.0 1011.2H841.0V1119.5H831.0ZM841.0 1011.2H850.0V1101.4H841.0ZM850.0 1011.2H858.9V1092.4H850.0ZM858.9 1146.5H867.9V1164.6H858.9ZM867.9 1101.4H876.9V1164.6H867.9ZM876.9 1155.6H885.9V1164.6H876.9ZM885.9 1011.2H894.4V1092.4H885.9ZM894.4 1083.4H902.8V1173.6H894.4ZM902.8 1056.3H911.8V1164.6H902.8ZM920.8 1020.3H929.8V1155.6H920.8ZM932.8 1011.2H937.8V1110.5H932.8ZM937.8 1065.4H946.1V1164.6H937.8ZM946.1 1110.5H954.4V1164.6H946.1ZM954.4 1146.5H962.7V1164.6H954.4ZM962.7 1110.5H975.7V1173.6H962.7ZM975.7 1101.4H982.7V1164.6H975.7ZM982.7 1119.5H991.4V1164.6H982.7ZM991.4 1146.5H1000.1V1164.6H991.4ZM1000.1 1029.3H1008.9V1164.6H1000.1ZM1008.9 1101.4H1017.6V1164.6H1008.9ZM1017.6 1146.5H1026.3V1164.6H1017.6ZM1026.3 1137.5H1035.1V1164.6H1026.3ZM1035.1 1038.3H1043.8V1164.6H1035.1ZM1043.8 1119.5H1052.5V1164.6H1043.8ZM1052.5 1137.5H1061.5V1173.6H1052.5ZM1061.5 1074.4H1070.5V1155.6H1061.5ZM1070.5 1083.4H1078.5V1173.6H1070.5ZM1078.5 1029.3H1087.5V1164.6H1078.5ZM1087.5 1074.4H1096.5V1164.6H1087.5ZM1096.5 1083.4H1105.4V1164.6H1096.5ZM1105.4 1011.2H1113.8V1110.5H1105.4ZM1113.8 1092.4H1122.2V1173.6H1113.8ZM1122.2 1164.6H1130.6V1173.6H1122.2ZM1130.6 1137.5H1139.0V1173.6H1130.6ZM1139.0 1110.5H1147.4V1173.6H1139.0ZM1147.4 1056.3H1160.3V1128.5H1147.4ZM1160.3 1110.5H1167.3V1164.6H1160.3ZM1167.3 1074.4H1177.8V1128.5H1167.3ZM1177.8 1047.3H1188.3V1128.5H1177.8ZM1188.3 1128.5H1197.3V1173.6H1188.3ZM1197.3 1011.2H1206.2V1110.5H1197.3ZM1206.2 1110.5H1210.2V1164.6H1206.2ZM1210.2 1011.2H1219.2V1101.4H1210.2ZM1219.2 1083.4H1228.2V1128.5H1219.2ZM1228.2 1056.3H1237.2V1173.6H1228.2ZM1237.2 1011.2H1246.0V1137.5H1237.2ZM1246.0 1101.4H1254.8V1164.6H1246.0ZM1254.8 1056.3H1263.6V1164.6H1254.8ZM1263.6 1083.4H1272.4V1164.6H1263.6ZM1272.4 1146.5H1281.3V1164.6H1272.4ZM1281.3 1011.2H1290.1V1146.5H1281.3ZM1290.1 1011.2H1299.0V1092.4H1290.1ZM1299.0 1011.2H1307.0V1155.6H1299.0ZM1307.0 1092.4H1316.0V1164.6H1307.0ZM1316.0 1011.2H1325.0V1128.5H1316.0ZM1325.0 1011.2H1334.0V1128.5H1325.0ZM1334.0 1146.5H1341.5V1164.6H1334.0ZM1341.5 1092.4H1349.0V1164.6H1341.5ZM1349.0 1047.3H1357.9V1173.6H1349.0Z"/><path fill="#ffffd0" d="M831.0 1119.5H841.0V1164.6H831.0ZM841.0 1101.4H850.0V1164.6H841.0ZM850.0 1092.4H858.9V1173.6H850.0ZM885.9 1092.4H894.4V1173.6H885.9ZM932.8 1110.5H937.8V1164.6H932.8ZM1105.4 1110.5H1113.8V1173.6H1105.4ZM1197.3 1110.5H1206.2V1173.6H1197.3ZM1210.2 1101.4H1219.2V1164.6H1210.2ZM1237.2 1137.5H1246.0V1164.6H1237.2ZM1281.3 1146.5H1290.1V1164.6H1281.3ZM1290.1 1092.4H1299.0V1173.6H1290.1ZM1299.0 1155.6H1307.0V1164.6H1299.0ZM1325.0 1128.5H1334.0V1155.6H1325.0Z"/><path fill="#ffff32" d="M1096.5 966.1H1105.4V1011.2H1096.5Z"/></g><rect x="823.0" y="1047.7" width="0.9" height="7.5" fill="#cccccc" fill-opacity=".8"/><rect x="805.9" y="1074.9" width="0.9" height="7.5" fill="#cccccc" fill-opacity=".8"/><rect x="815.9" y="1074.9" width="0.9" height="7.5" fill="#cccccc" fill-opacity=".8"/><rect x="819.0" y="1092.7" width="0.9" height="7.5" fill="#cccccc" fill-opacity=".8"/><path d="M803.4 983.4L804.9 999.0L806.3 990.6L807.3 1003.4L809.0 997.7L810.6 990.6L812.0 997.7L814.0 987.7L817.0 993.4L819.9 996.3L821.6 998.4L822.7 990.6L824.0 992.3L841.0 991.0L850.0 992.6L858.9 992.0L867.9 989.0L885.9 987.0L893.9 985.4L902.8 986.6L920.8 984.0L929.8 985.0M933.8 984.4L947.8 985.6L964.7 978.0L973.7 978.6L982.7 986.6L999.6 986.6L1017.6 987.6L1035.6 989.4L1043.6 991.4L1052.5 993.0L1055.5 1002.0L1058.5 1015.0L1061.5 1019.0L1064.5 1015.0L1067.5 997.0L1070.5 993.4L1079.5 992.6L1087.5 998.0L1091.5 1009.0L1095.5 1034.6L1105.4 1034.0L1109.4 1015.0L1113.8 1004.0L1118.4 1017.0L1121.4 1034.0L1123.4 1036.6L1127.0 1033.0L1132.4 1015.0L1149.3 1020.0L1153.3 1001.0L1157.9 992.4L1179.3 1006.0L1185.3 1015.0L1193.3 1031.4L1197.3 1004.0L1201.6 988.6L1210.2 992.6L1219.2 998.4L1228.2 991.0L1237.2 994.0L1263.1 988.6L1272.1 988.0L1280.7 993.0L1289.1 987.4L1298.5 981.4L1316.0 995.0L1325.0 979.4L1333.6 988.0L1350.9 983.0" fill="none" stroke="#808080" stroke-opacity=".75" stroke-width="1.25" stroke-linejoin="round"/><path d="M803.4 999.0L804.9 1016.0L806.3 1022.0L807.3 1027.7L808.4 1019.0L810.6 1006.0L812.7 1003.4L814.9 1009.0L817.0 1007.7L819.0 1010.6L822.7 1004.9L824.0 1014.0L831.3 1017.7L841.0 1031.0L850.0 1018.0L867.9 1012.6L885.9 1013.0L894.9 1007.0L903.8 1010.6L920.8 1001.4L929.8 1003.4L931.4 995.0L932.8 1003.4L947.8 1005.4L964.7 1002.0L973.7 1004.0L982.7 1008.6L1007.6 1009.0L1033.6 1014.0L1043.6 1023.4L1051.5 1023.4L1061.5 1037.0L1070.5 1036.6L1079.5 1035.0L1096.5 1056.6L1105.4 1054.6L1113.8 1048.6L1123.0 1058.0L1132.4 1052.0L1149.3 1058.0L1157.9 1035.4L1166.9 1043.4L1193.3 1055.0L1201.6 1032.4L1210.2 1029.6L1219.2 1043.0L1228.2 1024.4L1236.8 1033.0L1245.2 1025.0L1263.1 1013.0L1272.1 1013.0L1280.7 1032.0L1289.1 1012.0L1298.5 1010.6L1307.0 1013.6L1316.0 1013.4L1325.0 1004.4L1333.6 1011.4L1350.9 1014.4" fill="none" stroke="#808080" stroke-opacity=".75" stroke-width="1.25" stroke-linejoin="round"/><path d="M803.4 1024.9L805.6 1050.6L807.3 1057.0L809.0 1044.9L811.3 1033.4L813.9 1027.7L814.9 1036.3L817.7 1030.6L820.6 1024.9L822.0 1034.9L823.4 1033.4L831.3 1043.4L841.0 1059.4L850.0 1051.0L867.9 1038.6L885.9 1042.4L889.9 1033.0L894.9 1028.0L903.8 1034.0L920.8 1019.0L929.8 1021.0L931.4 1018.6L932.8 1022.6L938.8 1022.6L947.8 1025.0L964.7 1026.0L973.7 1029.0L982.7 1030.0L1007.6 1030.4L1017.6 1033.0L1034.6 1044.0L1043.6 1054.0L1061.5 1054.6L1070.5 1062.0L1079.5 1060.0L1087.5 1066.0L1096.5 1078.4L1105.4 1075.4L1113.8 1076.0L1123.0 1079.6L1132.4 1074.4L1149.3 1076.6L1157.9 1065.0L1193.3 1076.6L1201.6 1060.0L1219.2 1068.4L1228.2 1057.6L1236.8 1058.0L1252.1 1051.0L1263.1 1041.4L1272.1 1041.4L1280.7 1060.4L1289.1 1041.4L1298.5 1043.0L1307.0 1042.4L1313.0 1033.0L1317.0 1031.4L1325.0 1032.6L1333.6 1037.0L1350.9 1047.4" fill="none" stroke="#808080" stroke-opacity=".75" stroke-width="1.25" stroke-linejoin="round"/><path d="M803.4 1129.0L804.5 1139.0L805.5 1149.0L806.5 1163.0L807.5 1151.0L808.5 1156.0L809.9 1142.0L811.3 1133.4L812.7 1136.3L814.0 1127.7L815.6 1132.0L817.0 1127.7L818.4 1124.9L820.6 1106.3L822.7 1096.3L825.0 1103.0L832.0 1114.0L841.0 1108.0L850.0 1106.4L858.9 1096.0L867.9 1109.4L876.9 1102.6L885.9 1119.4L894.9 1118.0L903.8 1117.6L920.8 1093.0L929.8 1087.0L931.4 1097.4L932.8 1096.0L938.8 1085.6L947.8 1104.4L964.7 1094.6L973.7 1104.0L991.7 1111.4L1008.6 1107.0L1034.6 1105.6L1043.6 1111.0L1052.5 1113.0L1061.5 1109.4L1070.5 1115.4L1079.5 1107.0L1087.5 1114.0L1096.5 1128.0L1105.4 1128.4L1113.8 1130.0L1123.0 1130.0L1132.4 1126.0L1157.9 1123.0L1166.9 1117.6L1179.3 1123.0L1193.3 1127.0L1201.6 1122.0L1210.2 1120.0L1219.2 1114.4L1228.2 1103.4L1236.8 1097.6L1263.1 1113.4L1272.1 1106.6L1280.7 1116.0L1289.1 1122.4L1298.5 1103.6L1307.0 1105.0L1316.0 1100.0L1325.0 1093.4L1333.6 1098.6L1350.9 1112.0" fill="none" stroke="#808080" stroke-opacity=".75" stroke-width="1.25" stroke-linejoin="round"/>
<g><path d="M683.00 175.90L688.40 165.10L693.80 175.90L693.80 370.20L688.40 381.00L683.00 370.20Z" fill="url(#g00)" stroke="#000" stroke-width="1.9" stroke-linejoin="miter"/>
<path d="M694.70 190.00h9.5" stroke="#000" stroke-width="2"/>
<path d="M694.70 257.20h9.5" stroke="#000" stroke-width="2"/>
<path d="M694.70 324.00h9.5" stroke="#000" stroke-width="2"/>
<path d="M1364.60 175.90L1370.00 165.10L1375.40 175.90L1375.40 370.20L1370.00 381.00L1364.60 370.20Z" fill="url(#g01)" stroke="#000" stroke-width="1.9" stroke-linejoin="miter"/>
<path d="M1376.30 200.00h9.5" stroke="#000" stroke-width="2"/>
<path d="M1376.30 297.20h9.5" stroke="#000" stroke-width="2"/>
<path d="M683.00 603.90L688.40 593.10L693.80 603.90L693.80 798.20L688.40 809.00L683.00 798.20Z" fill="url(#g10)" stroke="#000" stroke-width="1.9" stroke-linejoin="miter"/>
<path d="M694.70 687.20h9.5" stroke="#000" stroke-width="2"/>
<path d="M694.70 798.70h9.5" stroke="#000" stroke-width="2"/>
<path d="M1364.60 603.90L1370.00 593.10L1375.40 603.90L1375.40 798.20L1370.00 809.00L1364.60 798.20Z" fill="url(#g11)" stroke="#000" stroke-width="1.9" stroke-linejoin="miter"/>
<path d="M1376.30 603.30h9.5" stroke="#000" stroke-width="2"/>
<path d="M1376.30 701.50h9.5" stroke="#000" stroke-width="2"/>
<path d="M1376.30 799.00h9.5" stroke="#000" stroke-width="2"/>
<path d="M683.00 1031.10L688.40 1020.30L693.80 1031.10L693.80 1226.00L688.40 1236.80L683.00 1226.00Z" fill="url(#g20)" stroke="#000" stroke-width="1.9" stroke-linejoin="miter"/>
<path d="M694.70 1031.70h9.5" stroke="#000" stroke-width="2"/>
<path d="M694.70 1096.50h9.5" stroke="#000" stroke-width="2"/>
<path d="M694.70 1161.30h9.5" stroke="#000" stroke-width="2"/>
<path d="M694.70 1226.50h9.5" stroke="#000" stroke-width="2"/>
<path d="M1364.60 1031.10L1370.00 1020.30L1375.40 1031.10L1375.40 1226.00L1370.00 1236.80L1364.60 1226.00Z" fill="url(#g21)" stroke="#000" stroke-width="1.9" stroke-linejoin="miter"/>
<path d="M1376.30 1031.70h9.5" stroke="#000" stroke-width="2"/>
<path d="M1376.30 1096.50h9.5" stroke="#000" stroke-width="2"/>
<path d="M1376.30 1161.30h9.5" stroke="#000" stroke-width="2"/>
<path d="M1376.30 1226.50h9.5" stroke="#000" stroke-width="2"/>
<rect x="120" y="94" width="557" height="358" fill="none" stroke="#000" stroke-width="2"/>
<path d="M120 94h-10" stroke="#000" stroke-width="2"/>
<path d="M120 184h-10" stroke="#000" stroke-width="2"/>
<path d="M120 273h-10" stroke="#000" stroke-width="2"/>
<path d="M120 362h-10" stroke="#000" stroke-width="2"/>
<path d="M120 452h-10" stroke="#000" stroke-width="2"/>
<path d="M143 452v10" stroke="#000" stroke-width="2"/>
<path d="M225 452v10" stroke="#000" stroke-width="2"/>
<path d="M307 452v10" stroke="#000" stroke-width="2"/>
<path d="M369 452v10" stroke="#000" stroke-width="2"/>
<path d="M451 452v10" stroke="#000" stroke-width="2"/>
<path d="M533 452v10" stroke="#000" stroke-width="2"/>
<path d="M615 452v10" stroke="#000" stroke-width="2"/>
<rect x="801" y="94" width="558" height="358" fill="none" stroke="#000" stroke-width="2"/>
<path d="M801 94h-10" stroke="#000" stroke-width="2"/>
<path d="M801 184h-10" stroke="#000" stroke-width="2"/>
<path d="M801 273h-10" stroke="#000" stroke-width="2"/>
<path d="M801 362h-10" stroke="#000" stroke-width="2"/>
<path d="M801 452h-10" stroke="#000" stroke-width="2"/>
<path d="M825 452v10" stroke="#000" stroke-width="2"/>
<path d="M907 452v10" stroke="#000" stroke-width="2"/>
<path d="M989 452v10" stroke="#000" stroke-width="2"/>
<path d="M1050 452v10" stroke="#000" stroke-width="2"/>
<path d="M1132 452v10" stroke="#000" stroke-width="2"/>
<path d="M1214 452v10" stroke="#000" stroke-width="2"/>
<path d="M1296 452v10" stroke="#000" stroke-width="2"/>
<rect x="120" y="522" width="557" height="358" fill="none" stroke="#000" stroke-width="2"/>
<path d="M120 522h-10" stroke="#000" stroke-width="2"/>
<path d="M120 612h-10" stroke="#000" stroke-width="2"/>
<path d="M120 701h-10" stroke="#000" stroke-width="2"/>
<path d="M120 790h-10" stroke="#000" stroke-width="2"/>
<path d="M120 880h-10" stroke="#000" stroke-width="2"/>
<path d="M143 880v10" stroke="#000" stroke-width="2"/>
<path d="M225 880v10" stroke="#000" stroke-width="2"/>
<path d="M307 880v10" stroke="#000" stroke-width="2"/>
<path d="M369 880v10" stroke="#000" stroke-width="2"/>
<path d="M451 880v10" stroke="#000" stroke-width="2"/>
<path d="M533 880v10" stroke="#000" stroke-width="2"/>
<path d="M615 880v10" stroke="#000" stroke-width="2"/>
<rect x="801" y="522" width="558" height="358" fill="none" stroke="#000" stroke-width="2"/>
<path d="M801 522h-10" stroke="#000" stroke-width="2"/>
<path d="M801 612h-10" stroke="#000" stroke-width="2"/>
<path d="M801 701h-10" stroke="#000" stroke-width="2"/>
<path d="M801 790h-10" stroke="#000" stroke-width="2"/>
<path d="M801 880h-10" stroke="#000" stroke-width="2"/>
<path d="M825 880v10" stroke="#000" stroke-width="2"/>
<path d="M907 880v10" stroke="#000" stroke-width="2"/>
<path d="M989 880v10" stroke="#000" stroke-width="2"/>
<path d="M1050 880v10" stroke="#000" stroke-width="2"/>
<path d="M1132 880v10" stroke="#000" stroke-width="2"/>
<path d="M1214 880v10" stroke="#000" stroke-width="2"/>
<path d="M1296 880v10" stroke="#000" stroke-width="2"/>
<rect x="120" y="949" width="557" height="359" fill="none" stroke="#000" stroke-width="2"/>
<path d="M120 949h-10" stroke="#000" stroke-width="2"/>
<path d="M120 1039h-10" stroke="#000" stroke-width="2"/>
<path d="M120 1128h-10" stroke="#000" stroke-width="2"/>
<path d="M120 1218h-10" stroke="#000" stroke-width="2"/>
<path d="M120 1308h-10" stroke="#000" stroke-width="2"/>
<path d="M143 1308v10" stroke="#000" stroke-width="2"/>
<path d="M225 1308v10" stroke="#000" stroke-width="2"/>
<path d="M307 1308v10" stroke="#000" stroke-width="2"/>
<path d="M369 1308v10" stroke="#000" stroke-width="2"/>
<path d="M451 1308v10" stroke="#000" stroke-width="2"/>
<path d="M533 1308v10" stroke="#000" stroke-width="2"/>
<path d="M615 1308v10" stroke="#000" stroke-width="2"/>
<rect x="801" y="949" width="558" height="359" fill="none" stroke="#000" stroke-width="2"/>
<path d="M801 949h-10" stroke="#000" stroke-width="2"/>
<path d="M801 1039h-10" stroke="#000" stroke-width="2"/>
<path d="M801 1128h-10" stroke="#000" stroke-width="2"/>
<path d="M801 1218h-10" stroke="#000" stroke-width="2"/>
<path d="M801 1308h-10" stroke="#000" stroke-width="2"/>
<path d="M825 1308v10" stroke="#000" stroke-width="2"/>
<path d="M907 1308v10" stroke="#000" stroke-width="2"/>
<path d="M989 1308v10" stroke="#000" stroke-width="2"/>
<path d="M1050 1308v10" stroke="#000" stroke-width="2"/>
<path d="M1132 1308v10" stroke="#000" stroke-width="2"/>
<path d="M1214 1308v10" stroke="#000" stroke-width="2"/>
<path d="M1296 1308v10" stroke="#000" stroke-width="2"/></g>
<g><text y="34.00" font-size="34.90" xml:space="preserve"><tspan x="250.73" letter-spacing="0.440">Processed: </tspan><tspan x="441.33" letter-spacing="1.531">2026-02-17 </tspan><tspan x="646.20" letter-spacing="1.773">02:01, </tspan><tspan x="763.26" letter-spacing="1.416">Lastdata: </tspan><tspan x="930.21" letter-spacing="1.473">2026-02-16T01:28</tspan></text>
<text y="76.70" font-size="26.21" xml:space="preserve"><tspan x="121.09" letter-spacing="1.678">water </tspan><tspan x="199.71" letter-spacing="1.588">temperature </tspan><tspan x="365.33" letter-spacing="0.926">[Celsius]</tspan></text>
<text y="76.70" font-size="26.21" xml:space="preserve"><tspan x="802.09" letter-spacing="1.678">water </tspan><tspan x="881.06" letter-spacing="1.210">salinity </tspan><tspan x="978.60" letter-spacing="2.906">[1]</tspan></text>
<text y="504.70" font-size="26.21" xml:space="preserve"><tspan x="120.28" letter-spacing="1.254">oxygen </tspan><tspan x="219.74" letter-spacing="1.304">concentration </tspan><tspan x="401.44" letter-spacing="1.862">[umol </tspan><tspan x="482.14" letter-spacing="1.489">l-1]</tspan></text>
<text y="504.70" font-size="26.21" xml:space="preserve"><tspan x="801.27" letter-spacing="1.153">chlorophyll </tspan><tspan x="946.96" letter-spacing="2.784">[mg </tspan><tspan x="1005.31" letter-spacing="1.994">m-3]</tspan></text>
<text y="931.70" font-size="26.21" xml:space="preserve"><tspan x="120.08" letter-spacing="-0.747">CDOM </tspan><tspan x="206.46" letter-spacing="2.116">[ppb]</tspan></text>
<text y="931.70" font-size="26.21" xml:space="preserve"><tspan x="801.71" letter-spacing="1.394">700 </tspan><tspan x="857.38" letter-spacing="2.982">nm </tspan><tspan x="906.23" letter-spacing="1.332">wavelength </tspan><tspan x="1059.80" letter-spacing="1.307">backscatter </tspan><tspan x="1214.71" letter-spacing="2.906">[1]</tspan></text>
<text x="84.56" y="104.90" font-size="30.10" letter-spacing="0.000">0</text>
<text x="47.54" y="194.40" font-size="30.10" letter-spacing="0.881">100</text>
<text x="47.29" y="283.90" font-size="30.10" letter-spacing="1.002">200</text>
<text x="47.74" y="373.40" font-size="30.10" letter-spacing="0.777">300</text>
<text x="47.43" y="462.90" font-size="30.10" letter-spacing="0.932">400</text>
<text x="84.56" y="532.90" font-size="30.10" letter-spacing="0.000">0</text>
<text x="47.54" y="622.40" font-size="30.10" letter-spacing="0.881">100</text>
<text x="47.29" y="711.90" font-size="30.10" letter-spacing="1.002">200</text>
<text x="47.74" y="801.40" font-size="30.10" letter-spacing="0.777">300</text>
<text x="47.43" y="890.90" font-size="30.10" letter-spacing="0.932">400</text>
<text x="84.56" y="959.90" font-size="30.10" letter-spacing="0.000">0</text>
<text x="47.54" y="1049.65" font-size="30.10" letter-spacing="0.881">100</text>
<text x="47.29" y="1139.40" font-size="30.10" letter-spacing="1.002">200</text>
<text x="47.74" y="1229.15" font-size="30.10" letter-spacing="0.777">300</text>
<text x="47.43" y="1318.90" font-size="30.10" letter-spacing="0.932">400</text>
<text transform="translate(29.30 274.20) rotate(-90)" y="0" font-size="29.96" xml:space="preserve"><tspan x="-75.87" letter-spacing="-1.960">DEPTH </tspan><tspan x="27.31" letter-spacing="3.488">[m]</tspan></text>
<text x="125.72" y="1349.00" font-size="30.10" letter-spacing="0.495">21</text>
<text x="207.72" y="1349.00" font-size="30.10" letter-spacing="0.428">25</text>
<text x="289.72" y="1349.00" font-size="30.10" letter-spacing="1.070">29</text>
<text x="344.54" y="1349.00" font-size="29.54" letter-spacing="-0.975">Feb</text>
<text x="433.86" y="1349.00" font-size="30.10" letter-spacing="0.295">05</text>
<text x="515.86" y="1349.00" font-size="30.10" letter-spacing="0.937">09</text>
<text x="597.97" y="1349.00" font-size="30.10" letter-spacing="0.448">13</text>
<text x="547.63" y="1386.00" font-size="29.54" letter-spacing="0.517">2026-Feb</text>
<text x="807.72" y="1349.00" font-size="30.10" letter-spacing="0.495">21</text>
<text x="889.72" y="1349.00" font-size="30.10" letter-spacing="0.428">25</text>
<text x="971.72" y="1349.00" font-size="30.10" letter-spacing="1.070">29</text>
<text x="1025.54" y="1349.00" font-size="29.54" letter-spacing="-0.975">Feb</text>
<text x="1114.86" y="1349.00" font-size="30.10" letter-spacing="0.295">05</text>
<text x="1196.86" y="1349.00" font-size="30.10" letter-spacing="0.937">09</text>
<text x="1278.97" y="1349.00" font-size="30.10" letter-spacing="0.448">13</text>
<text x="1229.63" y="1386.00" font-size="29.54" letter-spacing="0.517">2026-Feb</text>
<text x="713.38" y="201.20" font-size="30.10" letter-spacing="0.766">10.0</text>
<text x="713.35" y="268.40" font-size="30.10" letter-spacing="0.375">7.5</text>
<text x="713.56" y="335.20" font-size="30.10" letter-spacing="0.524">5.0</text>
<text x="1395.19" y="211.20" font-size="30.10" letter-spacing="0.472">34</text>
<text x="1395.19" y="308.40" font-size="30.10" letter-spacing="-0.131">32</text>
<text x="713.14" y="698.40" font-size="30.10" letter-spacing="1.002">200</text>
<text x="714.67" y="809.90" font-size="30.10" letter-spacing="0.000">0</text>
<text x="1394.98" y="614.50" font-size="30.10" letter-spacing="0.612">1.0</text>
<text x="1394.87" y="712.70" font-size="30.10" letter-spacing="0.416">0.5</text>
<text x="1394.87" y="810.20" font-size="30.10" letter-spacing="0.667">0.0</text>
<text x="713.03" y="1042.90" font-size="30.10" letter-spacing="0.000">6</text>
<text x="713.56" y="1107.70" font-size="30.10" letter-spacing="0.000">5</text>
<text x="713.28" y="1172.50" font-size="30.10" letter-spacing="0.000">4</text>
<text x="713.59" y="1237.70" font-size="30.10" letter-spacing="0.000">3</text>
<text x="1394.87" y="1042.90" font-size="30.10" letter-spacing="0.811">0.0015</text>
<text x="1394.87" y="1107.70" font-size="30.10" letter-spacing="0.911">0.0010</text>
<text x="1394.87" y="1172.50" font-size="30.10" letter-spacing="0.811">0.0005</text>
<text x="1394.87" y="1237.70" font-size="30.10" letter-spacing="0.911">0.0000</text></g>
</svg>
</div>
</body></html>
